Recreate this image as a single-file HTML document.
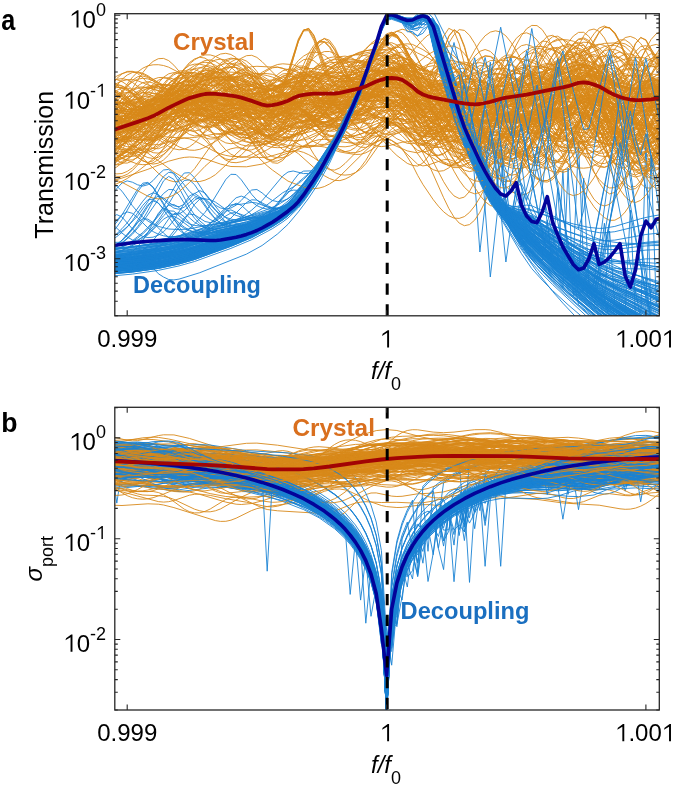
<!DOCTYPE html><html><head><meta charset="utf-8"><style>html,body{margin:0;padding:0;background:#fff;}svg{display:block;will-change:transform;}text{font-family:"Liberation Sans",sans-serif;}</style></head><body><svg width="675" height="788" viewBox="0 0 675 788"><defs><clipPath id="ca"><rect x="114.8" y="13.7" width="544.5" height="302.1"/></clipPath><clipPath id="cb"><rect x="114.8" y="407.3" width="544.5" height="302.7"/></clipPath></defs><g clip-path="url(#ca)" fill="none" stroke-width="0.9" stroke-linejoin="round"><path stroke="#D8891A" d="M111.6 125.6l15.6-26.6 5.2-7.5 5.2-5.5 5.2-3.4 5.1-.9 5.2 1.3 5.2 3.1 5.2 4.5 15.6 18.3 10.3 10.5 5.2 3.9 5.2 2.3 5.2 .8 5.2-.2 5.2-1.2 5.2-2.5 5.2-3.5 20.7-18.1 5.2-3.5 5.2-2.3 5.2-.7 10.3 .6 5.2 1.5 15.6 8.3 15.5 9.5 5.2 1.9 5.2 1.1 5.2 0 5.2-1 5.2-2 5.2-3.2 31.1-25.2 5.2-3 5.2-1.4 5.2-.2 5.1 1.6 5.2 3 5.2 4.6 10.4 13.3 5.2 7.6 5.2 5.5 5.1 3.8 10.4 5.5 20.8 7.8 10.3 3.2 5.2 .8 5.2 0 10.4-1.6 10.4-2.3 15.5-1.7 5.2-1.1 5.2-1.9 5.2-2.9 5.2-3.8 5.2-4.6 20.7-21.1 5.2-4.3 5.2-3.4 5.2-1.4 5.2 1.4 5.1 4.4 5.2 6.8 5.2 8.1 10.4 19.7 5.2 8.6 5.2 7 5.2 4.9 5.1 2.3 5.2-.1 5.2-3 5.2-5.3 5.2-7.2 10.4-18.5"/><path stroke="#1A82D4" d="M111.6 263.2l15.6-3.3 10.4-3 10.3-4.2 5.2-2.6 5.2-3.3 5.2-4.1 5.2-5.2 15.6-19.8 5.1-3.6 5.2 .7 10.4 6.7 5.2 1.1 5.2-1.3 5.2-3.7 10.3-11.5 5.2-2.9 5.2 2.1 10.4 9.5 5.2 3.1 5.2 1.6 5.1 .2 5.2-.7 5.2-1.5 5.2-2.2 5.2-2.8 5.2-3.8 5.2-4.6 5.2-5.7 10.3-14 10.4-17.1 15.6-28.4 5.2-10.9 15.5-36.4 15.6-45.7 5.2-17.4 5.2-11.9 5.1-1.1 5.2 1.4 5.2 2.2 5.2 1.6 5.2-.6 5.2-2.6 5.2-1.7 5.1 1.2 5.2 6.3 5.2 14.6 20.8 69.5 5.2 15.7 5.1 13.5 20.8 47.7 5.2 10.6 5.2 9.2 5.2 7.4 10.3 12.4 10.4 11.4 15.6 15.1 31.1 26.9 31.1 25 25.9 16.7 5.2 .8 26 0"/><path stroke="#D8891A" d="M111.6 98.5l5.2 1.3 5.2 2.8 5.2 3.9 15.6 15.1 5.1 4.5 5.2 3.2 5.2 1.6 5.2-.2 5.2-1.8 5.2-3.1 5.2-4.4 20.7-23.2 5.2-5.3 5.2-4.1 5.2-2.7 5.2-1.3 5.2 .1 5.1 1.4 5.2 2.8 5.2 4.4 10.4 11.7 10.4 13.1 5.1 5.4 5.2 3.3 5.2 1.7 5.2 .3 5.2-1.1 5.2-3 10.4-7.1 25.9-19.7 15.6-8.9 5.1-1.6 5.2-.5 20.8 1.2 10.4 1.9 15.5 4.7 10.4 6 5.2 3.6 5.2 1.9 10.3 1.4 5.2 1.1 5.2 1.9 5.2 3 5.2 4.2 5.2 5.4 15.5 19 5.2 5.3 5.2 3.8 5.2 2.2 5.2-.1 5.2-2.5 5.2-4.6 5.1-6.5 5.2-8.6 5.2-10.2 15.6-34.6 5.2-10.1 5.1-8.1 5.2-5.5 5.2-2.7 5.2 .1 5.2 2.6 5.2 4.7 5.2 7 5.2 9.4 20.7 48.4 5.2 10.5 5.2 7.3 5.2 4.1 5.2 .6 5.1-3 5.2-6.1 5.2-9.2 5.2-11.5 15.6-39.1M111.6 116.9l5.2-.8 5.2 0 5.2 .7 5.2 1.5 15.5 7.3 5.2 2 5.2 .5 5.2-1.2 5.2-3.2 5.2-4.9 5.2-6.8 15.5-24.7 5.2-7.1 5.2-5.2 5.2-2.6 5.2 .2 5.2 2.6 5.2 4.7 5.1 6.4 5.2 7.5 15.6 27.2 10.4 16.5 5.1 5.2 5.2 2 5.2-.9 5.2-3.5 5.2-5.8 10.4-16.6 10.3-14.2 5.2-5.9 5.2-4.8 10.4-7.7 10.4-6.4 5.2-2.9 5.1-1.4 5.2 .1 5.2 1.6 5.2 2.6 5.2 3.4 5.2 4.2 15.5 15.1 15.6 12.4 5.2 2.5 5.2 1.7 5.2-1.7 5.1-4.2 15.6-16.5 5.2-4.5 5.2-3.1 5.2-1.3 5.2 .6 5.1 2.4 5.2 4.1 10.4 10.8 10.4 12.1 5.2 5.1 5.2 4.3 5.1 2.9 5.2 1.1 5.2-.7 5.2-2.5 5.2-4 15.5-15.2 5.2-4.3 5.2-3.4 5.2-2.4 10.4-3 5.2-.4 5.2 1 5.1 2.4 20.8 12.4 5.2 .9 5.2-.3 5.2-1.5 20.7-8.3 10.4-2.6 5.2-.8M111.6 155.1l5.2-6.3 20.8-32.6 5.2-7 5.1-5.7 5.2-4.3 5.2-3.1 5.2-1.9 5.2-.4 5.2 1 5.2 2 5.2 2.7 15.5 10.6 10.4 6.4 5.2 2.4 5.2 1.3 5.2 .1 5.1-1.4 10.4-5.8 15.6-10.9 10.3-4.8 5.2-1.9 5.2-.8 5.2 .8 5.2 2.1 5.2 2.8 5.2 4.4 15.5 18.9 5.2 5.6 5.2 4.3 5.2 2.6 5.2 .7 5.2-1.8 5.2-4.2 5.1-5.7 10.4-14.7 15.6-25.3 5.2-5.9 5.2-3.9 5.1-1.1 5.2 1.6 5.2 4.5 5.2 7.6 5.2 9.2 5.2 10.8 5.2 9.3 5.1 7.7 5.2 6.6 5.2 5.1 5.2 3.4 5.2 1.6 5.2-.1 5.2-1.6 5.2-2.9 20.7-15.2 5.2-2.4 5.2-1.4 5.2-.4 5.2 1 15.5 6.3 5.2 1.4 5.2 .5 5.2-.4 5.2-1.4 10.3-5 20.8-14.1 5.2-3 5.2-1.2 5.1 1 5.2 2.8 5.2 4.1 5.2 6 15.6 20.4 5.2 5.7 5.1 4.5 5.2 2.9 5.2 .5 5.2-1.6 5.2-3.8 5.2-6 5.2-7.9M111.6 134.2l5.2 4.2 5.2 2.7 5.2 1 5.2-1 5.2-2.8 5.2-4.7 5.1-6.5 5.2-7.9 15.6-28.3 5.2-8.2 5.2-6.6 5.2-4.7 5.1-2.3 5.2 .3 5.2 2.4 5.2 4.4 5.2 6.3 15.6 22.5 5.1 6.4 5.2 4.8 5.2 3.4 5.2 1.7 5.2-.5 5.2-2.3 5.2-3.8 5.1-5.9 15.6-24.4 5.2-7.1 5.2-6.1 5.2-3.6 5.2-.1 5.1 2.3 5.2 4.6 5.2 6.6 15.6 24.2 5.2 6.7 5.2 5 5.1 3.3 5.2 1.2 5.2-1.2 5.2-3.9 5.2-6.5 15.6-25.6 5.1-7.9 5.2-6.6 5.2-4.3 5.2-.8 5.2 1.5 10.4 9.8 5.1 6.4 5.2 8.2 5.2 9.8 15.6 33.2 5.2 9.9 5.2 7.8 5.1 5 5.2 2 5.2-1.3 5.2-4.3 5.2-6.5 5.2-8.3 10.4-18.6 10.3-15.9 5.2-6.1 5.2-4.5 5.2-2.8 5.2-1 5.2 .8 5.1 2.4 5.2 3.8 15.6 13.7 5.2 3.3 15.5 6.8 5.2 1.5 15.6 1.1 5.2-1.1 46.7-16.9"/><path stroke="#1A82D4" d="M111.6 260.7l20.8-2.5 25.9-4.4 15.6-3.4 15.5-4.2 26-8.5 25.9-7 15.6-5.1 15.5-6.5 10.4-5.6 5.2-3.5 10.4-9 5.2-5.8 10.3-13.7 10.4-16.7 15.6-27.7 5.2-11 15.5-36.4 15.6-45.3 5.2-17.1 5.2-11.7 5.1-1 5.2 1.4 5.2 2.3 5.2 1.7 5.2-.6 5.2-2.5 5.2-1.7 5.1 1.8 5.2 9 26 86.1 5.2 15 10.3 25.3 15.6 35.5 5.2 10.2 5.2 8.4 5.2 6.6 15.5 16.5 10.4 10.1 10.4 9.6 15.5 13.4 5.2-91.7 5.2 100.2 31.1 23.3 15.6 9.5 25.9 14.5 5.2 1.3 15.6 0"/><path stroke="#D8891A" d="M111.6 154.2l5.2-3.6 5.2-5.2 5.2-6.4 15.6-21.9 10.3-12.5 5.2-5 5.2-3.7 5.2-2.1 5.2-.4 5.2 1 5.2 2.2 5.1 3.2 10.4 7.8 10.4 6.9 5.2 2.7 5.2 1.6 5.2 .5 5.1-.5 20.8-5 15.5-1.3 20.8-6.6 10.4-4.1 10.3-.7 26-.8 15.5-3.4 5.2-.6 15.6-1.5 5.2 .1 5.2 1.2 5.2 1.9 5.1 3.2 5.2 3.9 5.2 5 15.6 19.4 5.2 3.6 5.1 .9 5.2-1 5.2-2.8 5.2-4.1 15.6-14.7 5.2-3.8 5.1-2.3 5.2-.7 5.2 .9 5.2 2.6 5.2 4.5 5.2 6.2 5.2 7.5 15.5 27.4 5.2 7.9 5.2 5.8 5.2 3 5.2-.3 5.2-3.6 5.1-6.7 5.2-9.4 5.2-11.6 15.6-39.7 5.2-11.5 5.2-8.4 5.1-4.4 5.2-.8 5.2 2.3 5.2 5.6 5.2 8.1 20.7 35.4 5.2 7.2 5.2 5.4 5.2 3.4 5.2 1.4 5.2-.9 5.2-3.1M111.6 185.4l5.2-1.7 5.2-2.3 5.2-2.9 10.4-7.1 10.3-8.1 20.8-18.9 5.2-3.3 5.2-2.2 5.2-.8 5.1 .7 5.2 2 20.8 11 5.2 2.2 5.2 1.4 5.1 .9 15.6 .8 15.6 .4 5.1-.3 20.8-6 10.4-4.4 10.3-1.3 5.2-.1 10.4 1.6 15.6 4.9 5.2 1 10.3 1.6 5.2-.2 5.2-1.5 5.2-2.8 15.6-11 5.1-3.1 5.2-2.4 5.2-1.6 10.4 .1 5.2 1.2 5.2-.2 15.5-3.5 10.4-.7 10.4 .5 10.3 2.2 5.2 .4 5.2-.7 10.4-4 10.4-5.1 20.7-6.4 5.2-2.4 15.6-9.3 5.1-2.5 10.4-3.1 15.6-2.6 5.2-.1 5.2 1.4 5.1 3.4 10.4 10.1 10.4 11.8 5.2 4 5.2 2.6 5.2 1.2 5.1 .2 5.2-.5 5.2-1.2 10.4-3.6 5.2-2.7 5.2-3.5"/><path stroke="#1A82D4" d="M111.6 252.9l20.8-1.4 20.7-2.4 10.4-1.9 15.6-3.8 10.3-3.1 20.8-7.1 31.1-8.3 15.6-4.9 10.3-3.7 10.4-4.4 10.4-5.8 5.2-4 5.2-4.7 10.3-11.9 5.2-6.8 10.4-16.3 15.6-26.7 20.7-46.5 15.6-44.1 5.2-17 5.2-11.5 5.1-.8 15.6 6.1 5.2-.3 5.2-2.4 5.2-1.5 5.1 1.2 5.2 5.7 5.2 13.8 20.8 69.9 5.2 16 5.1 13.7 20.8 48 5.2 10.5 5.2 8.9 5.2 6.9 15.5 15.8 25.9 22.8 20.8 16.2 31.1 22 10.4 6.3 41.5 22.9 5.2 1.5 5.2 0"/><path stroke="#D8891A" d="M407.3 96.8l5.2 2.6 10.4 11.5 5.1 6.6 5.2 7.8 15.6 26.6 5.2 7.9 5.2 6.3 5.2 4.1 5.1 1.4 5.2-1.2 5.2-3.7 5.2-5.9 15.6-22.7 5.2-6.7 5.1-5.2 5.2-3.6 5.2-2 5.2-.6 5.2 .8 5.2 1.9 5.2 2.9 15.5 10.7 5.2 3 5.2 2 5.2 .6 10.4-.4 15.5 1 10.4 1.6 10.4-.4 10.3-2.3 20.8-6.5 10.4-2.3"/><path stroke="#1A82D4" d="M111.6 262.5l20.8-2 25.9-3.6 20.8-4.1 15.5-4 36.3-11.5 15.6-5.8 15.6-7.1 10.3-5.3 10.4-6.2 5.2-3.6 10.4-9.2 5.2-5.9 10.3-13.8 10.4-16.9 15.6-27.7 5.2-10.9 15.5-36.1 15.6-44.7 5.2-17 5.2-11.4 5.1-.9 15.6 6 5.2-.4 5.2-2.4 5.2-1.5 5.1 2.9 5.2 13.4 20.8 70.7 5.2 16.6 5.2 14 20.7 48.1 5.2 11.1 5.2 9 5.2 6.3 5.2 4.4 25.9 16.6 31.1 23.8 31.1 21.7 15.6 8.6 51.9 23.7"/><path stroke="#D8891A" d="M111.6 88.5l10.4 5.3 25.9 18.2 5.2 2.6 5.2 1.3 5.2-.2 5.2-1.7 5.2-3 5.2-4.4 5.2-5.6 20.7-25.2 5.2-4.9 5.2-3.6 5.2-2.4 5.2-1.3 5.1 .1 5.2 1.2 5.2 2.9 5.2 4.3 5.2 5.2 15.5 18.4 5.2 4.1 5.2 2.8 5.2 1.5 5.2-.1 5.2-2.3 10.4-6.8 5.1-4.5 20.8-20.8 10.4-8.5 5.2-3.4 5.1-2.1 5.2-.8 5.2 .1 10.4 1.6 5.2 1.7 10.4 6.4 10.3 10.3 5.2 6.4 15.6 22.6 5.2 4 5.1 .8 5.2-1.7 5.2-3.9 5.2-5.7 15.6-20.8 5.2-6 5.1-4.5 5.2-2.7 5.2-.8 5.2 1.3 5.2 3.7 5.2 5.8 5.2 7.6 15.5 29.1 5.2 8.2 5.2 5.8 5.2 2.7 5.2-.6 5.2-3.7 5.1-6.3 5.2-8.1 5.2-9.2 15.6-29.7 5.2-9 5.2-7.2 5.1-4.9 5.2-2.8 5.2-1.2 5.2 1.3 5.2 3.6 5.2 4.6 10.4 12.8 10.3 15.1 10.4 13.2 5.2 5.1 5.2 3.6 5.2 1.8"/><path stroke="#1A82D4" d="M111.6 270l20.8-2.1 25.9-4.1 20.8-4.4 15.5-4.1 36.3-12.8 20.8-8.4 20.7-10.2 10.4-6.2 5.2-3.7 10.4-9.3 5.2-6.1 10.3-14.3 10.4-17.3 15.6-28.7 5.2-10.9 15.5-36.6 15.6-45.7 5.2-17.2 5.2-11.7 5.1-.8 15.6 6.2 5.2-.3 5.2-2.3 5.2-1.5 5.1 1.6 5.2 7.5 5.2 15.7 20.8 69.3 5.2 15.3 10.3 25.4 15.6 35 5.2 10 5.2 8.1 5.2 6.1 5.1 5 36.3 31.6 20.8 16.7 31.1 22.9 15.6 9.5 15.5 8.4 26 13 5.2 1.2"/><path stroke="#D8891A" d="M111.6 138.1l20.8-27.4 5.2-5.1 5.2-3.5 5.1-1.8 5.2-.4 5.2 .7 5.2 1.4 20.8 9.4 10.3 3.5 5.2 .9 15.6 1.6 10.4 0 25.9-3.2 15.5-1 20.8-5.9 10.4-3.7 20.7-1.4 26-.1 5.1 .6 15.6 3.4 36.3 2.7 5.2 1.1 10.4 .9 5.2-2.2 15.5-13.1 5.2-3.8 5.2-2.3 5.2-.1 5.2 2.2 5.2 4.8 5.1 7.2 5.2 8.8 15.6 29.8 5.2 9 5.2 7.1 5.2 5.2 5.1 2.7 5.2-.4 5.2-3.7 5.2-7 5.2-9.6 20.7-47.4 5.2-9.2 5.2-6.9 5.2-4.3 5.2-2.1 5.2 .8 5.2 4 5.1 6.9 5.2 8.7 15.6 29.1 5.2 7.6 5.2 5.8 5.2 3.7 5.1 1.8 5.2 .3 5.2-1.2 5.2-2 15.6-7M111.6 140.1l5.2-.4 10.4 .2 25.9 4.9 5.2-.2 5.2-.9 10.4-3.8 5.2-2.7 25.9-16.5 5.2-2.3 5.2-1.5 10.4-1.4 10.3 .8 5.2 1.5 10.4 4.7 10.4 5.8 5.1 2.2 5.2 .7 5.2-.3 5.2-.9 5.2-1.6 10.4-5.6 20.7-7.5 10.4-2.5 15.6-1.9 5.1 .2 26 5.1 10.4 3.7 10.3 5.6 5.2 3.5 15.6 14 5.2 2.5 5.1 .5 5.2-.4 20.8-5.1 10.4-1.1 5.1 .1 15.6 1.9 10.4 2.6 5.2 1.6 15.5 7.2 5.2 1.9 5.2 .9 5.2-.3 5.2-1.6 5.2-2.6 5.1-3.7 5.2-4.4 10.4-10.4 10.4-11.3 5.2-4.9 5.2-3 5.1-.7 5.2 1.2 5.2 2.6 5.2 4.5 25.9 29 5.2 5.2 5.2 4.3 5.2 3.6 5.2 2.8 5.2 1.7 5.2 .5"/><path stroke="#1A82D4" d="M111.6 267.6l20.8-2.8 25.9-5.6 31.1-7.7 51.9-14.1 15.6-6.1 10.3-5 10.4-6 10.4-7.4 10.4-9.9 5.2-6.3 10.3-14.6 10.4-17.4 15.6-28.1 20.7-47 15.6-44 5.2-16.7 5.2-11.3 5.1-.9 15.6 5.7 5.2-.5 5.2-2.5 5.2-1.6 5.1 3.6 5.2 15.7 5.2 18.9 15.6 52.2 5.2 16.1 5.2 13.6 20.7 47.3 5.2 9.9 5.2 8.2 5.2 6.1 5.2 4.7 10.3 8 41.5 28.9 36.3 23.7 10.4 5.3 10.4 3.8 10.4 2.9 36.3 8.2M111.6 261.4l26-3.3 25.9-4.7 20.8-5.2 31.1-9.6 25.9-6.9 15.6-5.2 15.5-6.4 10.4-5.4 10.4-7.3 5.2-4.7 5.2-5.6 10.3-13.5 10.4-16.5 15.6-27.5 5.2-11 15.5-36.7 15.6-45.7 5.2-17.4 5.2-11.9 5.1-1.3 5.2 1.3 5.2 2.1 5.2 1.4 5.2-.7 5.2-2.7 5.2-1.8 5.1 3.5 5.2 15.4 5.2 18.9 15.6 52.3 5.2 16.2 5.2 13.9 20.7 48.6 5.2 10.7 5.2 8.8 5.2 6.1 5.2 4.5 25.9 16.8 36.3 27.5 31.1 22.7 20.8 12 41.5 21.5"/><path stroke="#D8891A" d="M111.6 114.1l5.2 6 5.2 5.1 5.2 3.6 5.2 1.7 5.2-.4 5.2-2.5 5.1-4.8 5.2-6.6 15.6-26.5 5.2-8.2 5.2-7.1 5.2-5.4 5.1-3.5 5.2-1.4 5.2 .1 5.2 1.2 5.2 2.4 15.6 8.7 15.5 7.1 20.8 10.8 5.1 1.9 5.2 .5 10.4-.7 5.2-.9 20.7-7.8 10.4-5.8 20.8-15 5.2-3.3 5.1-1.8 5.2-.3 5.2 1.3 5.2 2.4 5.2 3.3 5.2 4.5 20.7 23.7 5.2 4 5.2 2.3 5.2 .5 5.2-1 5.2-5.1 5.1-8.6 20.8-45.4 5.2-8.4 5.2-5.1 5.2 .8 5.1 4.9 5.2 8.1 15.6 30.8 5.2 9 5.2 6.7 5.2 4.5 5.1 1.9 5.2-.7 5.2-2.9 5.2-4.5 15.6-16.1 5.1-4.1 5.2-3 15.6-5.4 15.6-8.2 15.5-6.8 5.2-1.2 10.4-.5 5.2 1.1 5.2 2.8 5.1 4.8 5.2 6.9 5.2 8.6 10.4 20 5.2 9 5.2 6.6M111.6 83.5l5.2 .6 5.2 1.8 5.2 3 5.2 3.9 20.7 19.5 5.2 3.5 5.2 2.3 5.2 1.2 5.2 0 5.2-1.4 5.2-2.6 10.3-8.1 15.6-16.4 10.4-9.4 5.2-3.6 5.1-2.7 5.2-1.5 5.2 .3 5.2 1.9 5.2 3.1 5.2 4.4 10.3 10.6 5.2 4.2 10.4 7.2 5.2 2.6 15.6 3.8 5.1 .7 5.2-.1 5.2-.7 5.2-1.5 5.2-2.5 5.2-3.2 5.2-4.4 31.1-31.7 5.2-4.2 5.2-2.7 5.2-1.5 5.1 .4 5.2 1.9 5.2 3.6 10.4 12.5 5.2 7.5 5.2 5.9 5.1 4.3 5.2 3.4 5.2 2.5 5.2 1.5 5.2 .5 5.2-.4 5.2-1.3 10.3-5.1 15.6-10.9 10.4-6.2 5.2-2 5.2-.8 5.1 .5 5.2 1.4 10.4 4.1 25.9 11.5 10.4 3.3 5.2 .7 5.2-.5 10.4-1.9 15.5-.8 10.4 .8 20.7-.2 15.6 1.4 15.6 3.1M111.6 160.7l10.4-5.5 46.7-32.4 10.4-5.3 5.2-1.7 5.1-.8 10.4 .6 5.2 .9 57.1 18.5 5.1 .5 5.2-1 5.2-1.9 10.4-4.9 10.4-5.9 5.2-1.2 10.3-.5 20.8 3.5 5.2 .3 10.3-.6 10.4-1.3 15.6-4.1 5.2-.3 5.2 .4 5.1 1.7 5.2 2.7 5.2 3.8 10.4 12 5.2 7.1 5.2 5.5 5.1 4.1 10.4 6.5 5.2 2.3 5.2 1.5 5.2 .8 5.2-.2 5.2-1.2 5.1-2.2 5.2-2.9 20.8-15.1 5.2-2.8 5.2-1.5 5.1 0 5.2 1.1 5.2 2 5.2 2.6 20.7 12.4 5.2 2.3 5.2 1.2 5.2-.3 5.2-2 5.2-4.2 20.7-22.8 5.2-5.4 5.2-4.1 10.4-5.7 5.2-1.8 5.2-.7 5.1 .7 5.2 2.2 5.2 3.5 5.2 5.1 5.2 6.6 10.4 16"/><path stroke="#1A82D4" d="M111.6 267.3l20.8-1.3 25.9-3.2 20.8-4.2 15.5-4.2 41.5-14.1 20.8-8.8 10.3-5.2 10.4-6 10.4-7.2 5.2-4.5 5.2-5.2 5.2-6.2 10.3-14.5 10.4-17.5 15.6-28.5 20.7-48 15.6-44.6 5.2-16.7 5.2-11.5 5.1-1 5.2 1.4 5.2 2.3 5.2 1.6 5.2-.5 5.2-2.5 5.2-1.6 5.1 2.3 5.2 11.2 26 87 5.2 14.4 20.7 47.9 5.2 10.4 5.2 8.4 5.2 6.4 5.2 4.7 10.3 7.3 26 15.4 25.9 13.4 31.1 13.6 10.4 2.6 10.4 1.2 25.9 .8 15.6 1"/><path stroke="#D8891A" d="M111.6 139.8l5.2 .5 5.2-1.2 5.2-3 5.2-4.6 5.2-6 5.2-7 20.7-32.6 5.2-6.6 5.2-4.5 5.2-2.5 5.2 0 5.1 2.3 5.2 4.5 5.2 5.8 15.6 20 5.2 5.2 5.2 3.3 5.1 1.3 5.2-.8 5.2-2.2 5.2-3.3 10.4-8.4 15.5-11.5 5.2-2.8 5.2-1.4 5.2 .2 5.2 1.1 5.2 2.9 5.2 5.1 15.5 17.5 5.2 5 5.2 3.5 5.2 2 5.2-.5 5.2-2.6 5.1-4.3 5.2-5.7 5.2-7 5.2-8.5 10.4-18.4 5.2-7.9 5.2-6.5 5.1-3.9 5.2-1.3 5.2 2 5.2 5.9 5.2 8.4 20.7 45.2 10.4 20.7 5.2 7.9 5.2 5.4 5.2 2.5 5.2-.8 5.1-4.1 5.2-6.9 5.2-9.5 20.8-46 5.2-8.6 5.1-5.6 5.2-2.7 5.2 .5 5.2 3.3 5.2 5.8 5.2 7.7 15.5 27.3 5.2 7.6 5.2 5.4 5.2 2.4 5.2-.9 5.2-3.7 10.3-11.6 10.4-13.9 5.2-5.8 5.2-4.5 5.2-3.4 5.2-1.6 5.2 .4 5.1 2.5 5.2 4.7 5.2 6.3 5.2 7.6 10.4 16.9 5.2 7.5"/><path stroke="#1A82D4" d="M111.6 257.4l20.8-3.1 10.4-2.3 10.3-3.1 15.6-6.5 10.4-5.9 5.2-3.5 10.3-8.8 10.4-11.8 5.2-7.3 15.6-25.6 5.1-5.2 5.2 .2 5.2 5.3 10.4 14.6 5.2 5.7 5.2 4.1 5.1 2.5 5.2 1.2 5.2 0 5.2-.9 5.2-1.9 5.2-2.8 5.2-3.8 5.2-5.1 5.1-6 10.4-14.2 20.8-35.4 5.2-10.7 15.5-35.6 15.6-44.6 5.2-16.9 5.2-11.5 5.1-.8 15.6 5.9 5.2-.4 5.2-2.5 5.2-1.6 5.1 2 5.2 10.1 26 86.1 5.2 14.6 5.1 12.6 15.6 34.4 5.2 10.4 5.2 8.8 5.2 7.4 5.2 6.2 15.5 16.1 5.2 4.7 10.4 8.2 20.7 13.5 10.4 6 15.6 7.9 15.5 7.1 10.4 3 10.4 1.9 20.7 2.4 20.8 4"/><path stroke="#D8891A" d="M443.6 129l5.2-8.4 15.6-27.5 5.1-6.8 5.2-4.4 5.2-1.7 5.2 1.1 5.2 4.5 5.2 7.2 5.2 9.5 15.5 35.8 5.2 10.5 5.2 7.7 5.2 4.4 5.2 .5 5.2-3.3 5.1-6.9 5.2-9.9 5.2-12.2 15.6-42.4 5.2-12.1 5.2-8.7 5.1-4.1 5.2 .3 5.2 4.2 5.2 8.5 5.2 11.6 15.6 38.9 5.1 11.5 5.2 9.4 5.2 6.3 5.2 3.3 5.2 .2 5.2-2.9 5.2-5.6"/><path stroke="#1A82D4" d="M111.6 245.2l20.8-1.9 20.7-2.6 15.6-2.6 15.6-3.4 25.9-7.6 31.1-6.7 20.8-5.8 10.3-3.5 10.4-4.5 10.4-6.4 5.2-4.1 5.2-5.2 10.3-12.5 10.4-15.8 15.6-26.5 5.2-10.9 15.5-36 15.6-44.2 5.2-16.7 5.2-11.3 5.1-.8 15.6 6 5.2-.4 5.2-2.4 5.2-1.6 5.1 1.6 5.2 8.1 26 85.2 5.2 15.1 10.3 25.2 5.2 11 10.4 24.1 5.2 9.5 5.2 6.9 5.2 4.4 5.1 3 15.6 7.7 5.2 3.2 36.3 26.3 31.1 20.2 10.4 5.2 31.1 12.9 20.8 9.4M111.6 271l20.8-1.8 25.9-4.3 26-5.9 15.5-4.5 36.3-12.2 15.6-6.2 10.4-4.9 10.3-5.8 10.4-6.8 5.2-4.1 10.4-10.3 5.2-6.5 10.3-15 10.4-17.8 15.6-28.5 5.2-10.9 15.5-36 15.6-45 5.2-17 5.2-11.7 5.1-.9 15.6 5.8 5.2-.5 5.2-2.4 5.2-1.7 5.1 1.8 5.2 9.4 26 86.2 5.2 14.9 10.3 25.2 15.6 35.7 5.2 9.8 5.2 7.4 5.2 5.2 5.1 4.1 20.8 14.5 20.7 16.1 20.8 14.9 5.2-119.6 5.2 126.6 10.3 7 10.4 6.1 36.3 17.1 20.8 10.4"/><path stroke="#D8891A" d="M111.6 95.7l10.4 8 5.2 3.2 5.2 2.3 5.2 1.3 5.2 .1 5.1-1.4 5.2-2.9 5.2-4.5 5.2-5.8 20.8-26.5 5.1-5.5 5.2-4.2 5.2-3.1 5.2-1.8 5.2 0 5.2 1.5 5.2 2.6 5.2 3.6 10.3 9.3 5.2 5.9 20.8 26.2 5.1 4.8 5.2 2.6 5.2 .8 5.2-.5 5.2-2.2 15.6-13.1 20.7-19.3 20.8-17 5.1-3.3 5.2-2.5 10.4-3.4 5.2-1.3 5.2-.6 10.4 1.3 10.3 4.5 5.2 3.4 15.6 15.6 5.2 3.6 5.1 1.9 5.2 1.1 5.2 .5 5.2-.1 10.4-1.4 15.5-4 10.4-4.4 20.8-11.3 5.2-1.7 5.1-.6 5.2 .3 10.4 2.6 20.7 8 10.4 3 5.2 .7 5.2 0 10.4-1.9 5.2-.3 5.1 .9 10.4 3.8 10.4 6.5 10.4 5 5.2 1.4 5.1 .6 5.2-.5 5.2-1.7 5.2-2.8 5.2-3.4 10.4-8.5M111.6 114.4l20.8 1.5 10.4-.9 5.1-1.4 5.2-2.1 5.2-3.1 20.8-14.6 10.3-6.4 15.6-7.2 10.4-2.4 10.4-.8 10.3 .9 5.2 1.6 5.2 2.2 15.6 7.6 5.1 1.3 5.2-.5 5.2-1.7 10.4-5.2 10.4-6.5 5.2-1.3 5.1-.5 5.2 .1 5.2 1 15.6 4.3 5.2 .8 10.3-.4 5.2-.9 5.2-2.3 5.2-4.5 5.2-7.6 10.4-21.1 5.2-8.8 5.1-2.9 5.2 3.8 5.2 9.2 10.4 23.5 5.2 10.1 5.2 6.7 5.1 4.4 5.2 3.5 5.2 2.7 5.2 2.1 10.4 2.8 10.4 .9 10.3-.4 46.7-8.7 10.4-3.8 20.7-10.5 20.8-9.4 5.2-1.8 5.2-.4 5.1 1.3 5.2 2.6 5.2 3.3 10.4 9.6 10.4 7.9 5.2 2.7 5.1 1.7 5.2 .8 5.2-.5 10.4-2.9 10.4-4.3M111.6 148.8l5.2-.3 5.2 .9 5.2 2 15.6 9.1 5.1 2.5 5.2 1.1 5.2-.9 5.2-3.2 5.2-5 5.2-6.7 5.2-8.2 10.3-18.1 10.4-15.7 5.2-5.7 5.2-3.1 5.2-.5 5.2 1.8 5.2 4 5.1 5.9 5.2 7.2 15.6 26.1 5.2 7.7 5.2 6.4 5.1 3.5 5.2 .2 5.2-2.5 5.2-4.7 5.2-6.4 10.4-16.2 5.2-6.4 5.1-5.2 5.2-3.5 5.2-1.4 5.2 .6 5.2 2.5 5.2 3.9 20.7 18.8 5.2 3.4 5.2 1.6 5.2-.4 5.2-1.8 15.5-8.5 5.2-2.3 5.2-.9 5.2 1.7 5.2 3.1 10.4 9.9 20.7 17.7 5.2 3.1 5.2 1.7 5.2 0 5.2-1.9 5.1-3.6 5.2-4.9 10.4-11.5 5.2-4.8 5.2-3.2 5.2-1.1 5.2 1.7 5.1 4.4 5.2 6.4 15.6 22.8 5.2 5.6 5.2 3.1 5.1 .1 5.2-3.1 5.2-6.6 5.2-9.7 5.2-12.2 10.4-28 5.2-11.9 5.1-8.2 5.2-4.1 5.2 .1 5.2 5.2 5.2 9.3 5.2 11.9 15.5 40.9 5.2 11.3 5.2 8 5.2 4.3 5.2 .2 5.2-4.1 5.2-8M111.6 136.1l5.2-.5 5.2-1.6 5.2-2.6 10.4-7.7 20.7-19 5.2-3.7 5.2-2.5 5.2-.7 5.2 .8 5.2 2.1 5.1 3.4 10.4 8.4 10.4 6.6 5.2 1.7 5.2-.2 5.2-2.3 5.1-4.1 20.8-22.3 5.2-3.7 5.2-1.9 5.1-.8 5.2 .3 5.2 1.7 5.2 3.5 10.4 9.1 10.4 11 5.1 4.7 5.2 3 5.2 1.2 5.2-1 5.2-3.2 5.2-5 5.2-6.8 10.3-15.3 5.2-6.5 5.2-5.3 5.2-3.9 5.2-2.3 5.2-.2 5.2 2.4 5.2 4 5.1 6.1 10.4 15 5.2 9 10.4 15.5 5.2 3.9 5.1 .8 5.2-1.3 5.2-2.9 10.4-7.1 5.2-2.5 5.2-1 5.2 .7 5.1 2.6 20.8 16.4 5.2 2.5 5.2 .7 5.2-.9 5.1-2.3 5.2-3.8 15.6-15.4 5.2-4 5.2-2.2 5.1 .1 5.2 2.7 5.2 5 15.6 20.3 5.2 5.4 5.2 3.7 5.1 1.8 5.2-1.3 5.2-4.8 5.2-7.2 5.2-9.3 15.6-34.1 5.1-9.3 5.2-6.4 5.2-3.4 5.2 .1 5.2 3.9 5.2 6.9 5.2 9.4"/><path stroke="#1A82D4" d="M111.6 255.3l20.8-1.7 25.9-3.3 15.6-3 15.5-3.8 26-8.1 31.1-8.5 15.6-5.4 10.3-4.3 10.4-5.2 10.4-7.1 5.2-4.5 5.2-5.6 10.3-13.5 10.4-16.5 15.6-27.8 5.2-10.9 15.5-36.7 15.6-45.7 5.2-17.4 5.2-11.8 5.1-.9 5.2 1.5 5.2 2.4 5.2 1.8 5.2-.5 5.2-2.5 5.2-1.6 5.1 1.7 5.2 8.7 26 86.2 5.2 15.2 10.3 25.4 15.6 35.4 5.2 9.7 5.2 7.4 5.2 5.3 5.1 4.1 20.8 14.7 36.3 28.5 31.1 22.2 20.8 11.9 41.5 21.3M111.6 252.9l20.8-1.7 20.7-2.4 15.6-2.5 15.6-3.4 31.1-9.2 25.9-6.2 15.6-4.6 15.5-5.8 10.4-5.1 5.2-3.3 10.4-8.6 5.2-5.7 10.3-13.6 10.4-16.8 15.6-27.7 5.2-11.1 15.5-36.3 15.6-44.8 5.2-16.9 5.2-11.4 5.1-.8 15.6 6.1 5.2-.4 5.2-2.3 5.2-1.6 5.1 2.4 5.2 11.5 26 87 5.2 14.3 5.1 12.6 15.6 34.9 10.4 20.8 5.2 8.5 20.7 27.9 10.4 12 20.7 19.9 41.5 36.5 15.6 12.4 5.2 2.3 46.7 0M111.6 266.1l10.4-.6 10.4-1.3 41.5-8 20.7-5.1 41.5-12.9 20.8-7.5 15.5-7.2 10.4-6.1 10.4-8 5.2-5 5.2-6.1 10.3-14.2 10.4-17.1 15.6-27.9 5.2-10.8 15.5-36.3 15.6-45.8 5.2-17.4 5.2-11.9 5.1-1 5.2 1.6 10.4 6.8 5.2 1.9 5.2-3.7 5.2 1.6 5.1-4 5.2-.2 5.2 7.4 26 85.5 5.1 15.1 10.4 25.3 5.2 10.9 10.4 24.1 5.2 10.5 5.2 9.2 10.3 14.4 10.4 12.4 10.4 10.9 10.3 10 26 23 31.1 25.7 20.8 14.3 5.1 1.2 31.2 0"/><path stroke="#D8891A" d="M443.6 54.4l5.2 4.3 5.2 8.6 5.2 12 15.5 43.6 5.2 11.4 5.2 7.4 5.2 3.2 5.2-1.8 5.2-6.6 5.2-10.4 5.1-13.2 15.6-45.6 5.2-12.5 5.2-9.1 5.2-4.6 5.1 .4 5.2 5.2 5.2 9.4 5.2 12.5 10.4 27.7 5.2 12.6 5.2 10.8 5.1 8.1 5.2 4.3 5.2-.4 5.2-4.3 5.2-7.9 5.2-11.7 15.5-40.6 5.2-10.2 5.2-6.7 5.2-2 5.2 2.8 5.2 7.3 5.2 10.8"/><path stroke="#1A82D4" d="M111.6 258.9l20.8-1.8 25.9-3.5 20.8-4 15.5-3.8 41.5-11.2 15.6-5.1 20.7-8.8 10.4-5.7 5.2-3.5 10.4-8.8 5.2-5.7 10.3-13.7 10.4-16.6 15.6-27.7 5.2-10.9 15.5-36.4 15.6-46 5.2-17.5 5.2-12 5.1-1 5.2 1.4 5.2 2.4 5.2 1.6 5.2-.6 5.2-2.5 5.2-1.7 5.1 2.4 5.2 11.9 26 87 5.2 14.3 20.7 48 5.2 10.8 5.2 9.2 5.2 7.3 5.2 5.8 10.3 10.1 15.6 13.4 20.7 15.6 26 17.1 15.5 9.6 10.4 5.5 15.6 6.6 20.7 7.4 20.8 8.3"/><path stroke="#D8891A" d="M111.6 92.8l26 14.6 5.2 2.4 5.1 1.6 5.2 .5 5.2-.7 5.2-1.7 10.4-5.4 10.4-7.6 20.7-17.4 10.4-6.8 5.2-2.5 5.2-1.7 5.1-.9 5.2 .2 5.2 1.8 5.2 3.2 5.2 4.3 15.5 17.1 5.2 4.4 5.2 3.3 5.2 2.3 5.2 1.1 5.2-1 10.4-3.8 5.1-3 5.2-3.9 10.4-9.5 20.8-22 5.1-4.5 5.2-3.3 5.2-2.1 5.2-1.2 5.2-.4 5.2 1 5.2 2.6 5.2 3.9 5.1 5.4 5.2 6.6 5.2 7.6 15.6 27.5 5.2 6.2 5.1 3.2 5.2 .6 5.2-2.1 5.2-4.8 5.2-7.1 5.2-9.1 15.5-32 5.2-9.5 5.2-8.1 5.2-6.3 5.2-3.7 5.2-1.3 5.2 1.2 5.2 3.9 5.1 6.4 5.2 8.2 20.8 39.4 5.2 8.5 5.1 7 5.2 4.8 5.2 2.1 5.2-.8 5.2-3.9 5.2-7.1 15.5-28.2 10.4-16.6 5.2-5.9 5.2-3.8 5.2-2.5 5.2-.7 5.2 1.1 5.1 3.1 5.2 5 5.2 6.3 5.2 7.8 15.6 27.2"/><path stroke="#1A82D4" d="M111.6 256.6l20.8-2.2 25.9-4.8 31.1-7.3 20.8-5.9 31.1-7.7 15.6-5.2 15.5-6.2 10.4-5.1 10.4-6.9 5.2-4.3 5.2-5.4 10.3-12.8 10.4-16 15.6-27 5.2-11 15.5-36.7 15.6-45.7 5.2-17.3 5.2-11.9 5.1-1.1 5.2 1.4 5.2 2.7 10.4 3.9 5.2-2.7 5.2-3.4 5.1 .4 5.2 3.3 5.2 11.4 20.8 69.5 5.2 16.7 5.1 14.1 20.8 48.2 5.2 10.4 5.2 7.9 5.2 5.3 5.1 3.7 15.6 8.4 5.2 3.3 36.3 26.3 31.1 20.1 10.4 5.3 10.4 4.2 41.5 15"/><path stroke="#D8891A" d="M454 129.4l5.2-1 5.2-1.9 10.3-5.8 15.6-10.3 5.2-2.6 5.2-1.8 5.2-.5 5.1 .8 26 9.5 10.3 1.7 5.2-.2 5.2-.9 5.2-1.8 5.2-2.8 10.4-7.7 5.2-3.1 5.1-1.6 5.2-.4 5.2 .5 5.2 2.1 25.9 17.3 5.2 3.3 5.2 2.5 5.2 2 5.2 1.2 5.2 .2 5.2-.9M111.6 121.4l31.2 3.2 5.1 0 5.2-.7 5.2-1.6 10.4-5.5 5.2-3.4 15.5-11.9 10.4-6.3 5.2-2 5.2-.3 5.2 1.1 5.2 2.4 5.2 3.6 5.1 4.6 5.2 5.2 15.6 18.7 5.2 5.7 5.2 4.7 5.1 2.6 5.2-.2 5.2-2.4 5.2-4.2 5.2-5.9 10.4-15.6 10.3-13.6 5.2-5.8 5.2-4.4 5.2-3 5.2-1.5 5.2 .1 5.2 1.3 5.2 2.3 5.1 4 15.6 16.1 10.4 8.8 5.2 3.4 5.2 2.1 5.1 1.3 5.2 0 10.4-1.1 10.4-2.8 5.2-3.9 15.5-16.1 5.2-3.9 5.2-2 5.2 .2 5.2 2.8 5.2 5.2 5.1 7.3 20.8 35.6 5.2 7 5.2 4.8 5.2 2.6 5.1 .1 5.2-2.8 5.2-5.8 5.2-8.7 5.2-10.9 20.7-51.5 5.2-10.7 5.2-8.4 5.2-5.7 5.2-2.7 5.2 1.1 5.2 5.6 5.1 10 5.2 13.2 5.2 15.2 10.4 33.6 5.2 14.9 5.2 12.5 5.2 9.1 5.1 5.4 5.2 1.6 5.2-2.7 5.2-6.1 5.2-9.1 10.4-23.9M443.6 61l5.2-.5 5.2 .3 5.2 1.2 5.2 2 15.5 8.6 15.6 7.7 15.5 5.1 5.2 .8 5.2-.1 5.2-1.2 5.2-2.3 5.2-3.3 10.3-8.4 26-23.2 5.2-3.7 5.2-1.8 5.1 .4 5.2 2.1 5.2 3.4 5.2 5.1 15.6 17.8 10.3 9.7 5.2 3.8 5.2 2.5 5.2 1.6 5.2 .5 5.2-.6 5.2-1.9M448.8 105.3l10.4 6.2 5.2 2.2 5.1 .8 5.2-.9 5.2-3.2 5.2-5.2 5.2-6.3 10.4-14.5 5.2-6 5.1-4 5.2-1.6 5.2 1 5.2 3.6 5.2 6 5.2 8 15.5 28.5 5.2 7.6 5.2 4.7 5.2 1 5.2-3.3 5.2-7.1 5.2-9.6 15.5-35.5 5.2-10.4 5.2-8 5.2-5.5 5.2-1.8 5.2 2 5.1 6 5.2 9.6 5.2 12 15.6 41.3 5.2 10.9M111.6 125.3l5.2-1.5 10.4-5 15.6-10.3 20.7-15 5.2-3.3 5.2-2.4 5.2-1.8 5.2-.9 5.1 0 10.4 2.8 5.2 2.1 15.6 8.6 5.2 2 5.1 1.2 5.2 .4 10.4-.4 20.7-3.3 10.4-3.2 5.2-.7 10.4-.2 5.2 1.1 20.7 10.9 5.2 1.5 5.2 .2 5.2-1.2 5.2-3.1 5.2-4.8 20.7-21.4 5.2-4.3 5.2-2.7 5.2-.3 5.2 1.7 5.1 4.1 5.2 5.8 5.2 7.3 15.6 27 5.2 5.3 5.1 2 5.2-.9 5.2-3.6 5.2-5.7 10.4-14.3 5.2-6.3 5.2-4.2 5.1-1.3 5.2 1.8 5.2 4.8 5.2 7.2 15.6 29.2 5.2 8.6 5.1 6.3 5.2 3 5.2-1.2 5.2-5.5 5.2-9.6 5.2-12.8 15.5-43.6 5.2-11.3 5.2-7.3 5.2-2.8 5.2 1.9 5.2 7.1 5.2 12.1 20.7 68.7 5.2 12.8 5.2 7.2 5.2 1.5 5.2-4.4 5.1-9.2 5.2-12.6 10.4-29.1 5.2-12.2 5.2-8.5 5.2-3.9M111.6 140.5l5.2 .2 5.2-.7 5.2-1.6 5.2-2.7 5.2-3.5 10.3-9.3 20.8-24.4 5.2-5.2 5.2-4.2 5.2-2.9 5.1-1.4 5.2 .4 5.2 1.7 5.2 3.2 5.2 4.8 5.2 6 15.5 20.2 10.4 11.7 5.2 4.7 5.2 3.2 5.2 1.8 5.2 .4 5.1-1.9 5.2-4.4 10.4-12.9 10.4-15.2 5.2-6.7 5.2-4.5 5.1-2.9 5.2-1.2 5.2 .6 5.2 2.2 5.2 3.6 5.2 4.8 20.7 20.9 5.2 4.3 5.2 2.8 5.2 .9 5.2-.7 5.2-1.8 5.2-3.3 5.1-4 10.4-9.6 10.4-7.8 5.2-3.2 15.5-14.8 5.2-3.4 5.2-1.6 5.2 .6 5.2 3 5.2 5.4 5.2 7.4 15.5 28.3 10.4 17.2 5.2 6.8 5.2 4.9 5.2 3.3 5.1 1.4 5.2-.9 5.2-3.3 5.2-5.8 5.2-7.7 15.5-29.3 5.2-9.2 5.2-8 5.2-6.1 5.2-4.2 5.2-2.1 5.2 .5 5.2 3.8 5.1 7 10.4 20 10.4 23.7 5.2 10.2 5.2 8.5 5.2 6.2 5.1 4 5.2 1.6 5.2-.9 5.2-2.9 5.2-4.7 5.2-6.3 5.2-7.5M111.6 122.3l10.4-11.3 5.2-4.2 5.2-2.8 5.2-1.2 5.2 .4 5.1 1.6 26 12.5 5.2 1.7 10.3 1.6 5.2 .2 5.2-.6 15.6-3.7 20.7-6.4 5.2-.8 10.4 .3 15.5 3.5 20.8 .8 10.4-.5 15.5 2.1 10.4-.1 10.4-2.1 5.2-2 20.7-10.7 15.6-11.2 5.2-3.2 5.2-2.7 5.1-1.2 5.2 .2 5.2 2.2 5.2 4.9 5.2 6.2 5.2 7.9 5.2 6.8 10.3 10.5 5.2 4.1 5.2 3 5.2 2.2 5.2 1.3 10.4 .9 31.1-.2 10.4-1.3 5.1-1.4 5.2-2.2 5.2-3 15.6-10.4 5.2-3 31.1-13.9 5.2-1.7 5.2 .2 5.1 2.5 5.2 4.4 5.2 5.5 10.4 13.4 5.2 5 5.2 3.4 5.2 1.1 5.1-1 5.2-2.7 5.2-4.7 10.4-12.1 10.4-13.7"/><path stroke="#1A82D4" d="M111.6 259.7l15.6-1 20.7-2.9 20.8-4.4 20.7-5.6 20.8-6.9 25.9-7.7 15.6-5.5 10.4-4.3 10.3-5.1 10.4-6.2 5.2-4.1 5.2-4.7 5.2-5.6 10.3-12.9 5.2-7.3 5.2-7.9 20.8-34.8 15.5-33 5.2-12 15.6-43.7 5.2-17.3 5.2-11.8 5.1-1 5.2 1.5 5.2 2.4 5.2 1.7 5.2-.5 5.2-2.4 5.2-1.6 5.1 3 5.2 13.6 5.2 18.8 20.8 68.9 10.3 26.8 15.6 35.8 10.4 21.1 5.2 8.6 15.5 22.8 10.4 13.9 10.4 11.5 20.7 19.5 36.3 30.2 10.4 7.9 5.2 2.3 51.9 0"/><path stroke="#D8891A" d="M111.6 147l10.4-12.4 15.6-20.4 10.3-11.6 10.4-8.8 5.2-2.9 5.2-1.5 5.2 .2 5.2 1.7 5.2 3.1 5.1 4.4 20.8 22.2 5.2 4.9 5.2 3.5 5.2 2 5.1 .4 5.2-1.2 5.2-2 5.2-2.9 15.6-11.2 5.1-4.4 10.4-10.2 5.2-4.2 10.4-6.2 5.2-.8 5.2 2 5.1 3.5 5.2 4.9 20.8 25.7 5.2 5.3 5.2 3.9 5.1 3.1 5.2 2.1 5.2 .6 5.2-1.2 5.2-3.1 5.2-4.4 5.2-5.1 20.7-23.6 5.2-3.8 5.2-3.2 5.2-1.9 10.3-5.6 5.2-1.7 5.2-.1 5.2 2 5.2 4.2 5.2 6.5 5.2 8.4 15.5 29.7 5.2 8.4 5.2 6.4 5.2 4.4 5.2 1.8 5.2-.8 5.2-2.7 5.1-4.3 5.2-5.7 20.8-27.4 5.2-5.6 5.1-4.2 5.2-3 5.2-1.8 5.2-.9 10.4-.4 5.2 .8 5.2 2.3 5.1 4.3 10.4 11.9 10.4 15.3 5.2 6.7 5.2 5.4 5.2 3.6 5.1 1.7 5.2-.4 5.2-2.7 5.2-4.6 5.2-6 10.4-15.1M111.6 112.2l26 2.8 5.2 0 5.1-.6 5.2-1.5 5.2-2.4 5.2-3.2 25.9-16.6 15.6-7.4 10.4-2.8 10.4-1.1 10.3 .5 5.2 1.2 20.8 7.4 5.1 .8 5.2-.9 5.2-1.8 10.4-4.9 10.4-6.1 5.2-1.1 5.1-.6 5.2 .1 5.2 .7 15.6 3.6 5.2 .5 10.3-.7 5.2-.9 5.2-1.9 5.2-3.6 5.2-5.9 5.2-8.1 10.4-18.5 5.1-4.9 5.2 1 5.2 7.3 15.6 35.3 5.2 7.6 5.1 5 5.2 3.7 5.2 2.9 5.2 2.3 10.4 3.2 10.4 1.4 10.3-.1 15.6-2.6 25.9-5.6 10.4-3.7 20.7-11.3 10.4-4.8 15.6-6 5.2-1.6 5.2-.5 5.1 1.1 10.4 4.5 15.6 10.9 5.2 2.8 5.2 2.2 5.1 1.4 5.2 .9 5.2-.1 10.4-1.3 10.4-2.4M111.6 153.9l10.4-10.1 15.6-17.4 10.3-9.5 10.4-7.3 5.2-2.9 5.2-2.2 5.2-1 5.2-.1 5.2 .9 5.1 1.8 5.2 2.9 10.4 6.7 20.8 16.5 10.3 6 5.2 2.3 5.2 1.6 5.2 .4 5.2-.6 5.2-1.8 5.1-3.8 5.2-5.8 20.8-28.2 5.2-5.6 5.2-3.3 5.1-2 5.2-.7 5.2 .9 5.2 2.1 5.2 3.4 5.2 4.8 10.4 11.6 15.5 21.5 5.2 5.4 5.2 3.6 5.2 1.8 5.2 .8 5.2-.6 5.1-1 10.4-2.8 5.2-.4 10.4-1.9 5.2-3.4 15.5-16.3 5.2-4 5.2-2 5.2 .6 5.2 3 5.2 5.3 5.1 7.2 20.8 35 5.2 8 5.2 7 5.2 6 5.1 4.8 5.2 3 5.2 1 5.2-1.3 5.2-3.7 5.2-6.1 5.2-8.4 5.1-10 15.6-34.2 10.4-19.9 5.2-7.6 5.2-5.1 5.1-2 5.2 .4 5.2 2.5 5.2 5.4 10.4 16.1 15.5 28.4 5.2 8.9 5.2 7.7 5.2 6.6 5.2 5.2 5.2 3.4 5.2 1.6"/><path stroke="#1A82D4" d="M111.6 263.7l46.7-6 10.4-2 15.6-3.9 62.2-21.4 15.6-5.9 15.5-7.5 10.4-6.8 5.2-4.5 5.2-5.4 10.3-12.9 5.2-7.3 5.2-8 20.8-35.6 15.5-33.4 5.2-12.2 15.6-44.3 5.2-17.3 5.2-12 5.1-1.3 15.6 4.4 5.2-.9 5.2-2.9 5.2-2 5.1 2.5 5.2 12.6 20.8 70.3 5.2 16.8 5.2 14.2 5.1 12.8 20.8 47 5.2 9.7 5.2 7.7 5.2 6.3 15.5 16.3 20.8 19.5 20.7 17.2 36.3 27.1 36.3 23.1 5.2 2.1 20.8 0"/><path stroke="#D8891A" d="M111.6 112.6l10.4 6.7 5.2 2.5 5.2 1.6 5.2 .7 5.2-.1 5.1-1 5.2-2 5.2-3.1 20.8-16.4 10.3-6.9 5.2-2 5.2-1.3 5.2-.2 5.2 1.3 5.2 2.5 15.5 9.9 10.4 5.7 5.2 2 5.2 .8 5.2-.1 5.2-1.1 5.1-2.7 26-23.6 5.2-3.3 5.2-1.2 5.1-.2 5.2 .8 10.4 3.6 15.6 7.3 15.5 5.6 5.2 1.2 5.2-.1 5.2-1.5 5.2-2.7 5.2-3.2 15.5-11.9 5.2-2.9 5.2-.9 5.2 0 5.2 1.7 10.3 1.6 5.2 1.3 5.2 2 5.2 2.7 5.2 3.6 5.2 4.5 20.7 21.1 5.2 4.4 10.4 6.1 5.2 1.9 10.4 1.8 5.1 .1 5.2-1 5.2-2.4 5.2-4.1 5.2-5.6 10.4-15.1 15.5-26.4 5.2-7.9 5.2-6.7 5.2-4.7 5.2-1.4 5.2 3 5.1 7.8 5.2 11.6 5.2 13.9 10.4 31.3 5.2 13.6 5.2 11.1 5.2 8.3 5.1 5.4 5.2 2.9 5.2 .3 5.2-1.8 5.2-3.8 5.2-5.9 5.2-8M111.6 79.4l5.2 5.2 15.6 19.4 5.2 5.6 5.2 4.3 5.1 2.3 5.2 .1 5.2-2.4 5.2-4.5 5.2-5.9 15.6-21 5.1-6.1 5.2-4.8 5.2-3.6 5.2-2 5.2-.1 5.2 1.4 5.2 2.3 25.9 14.7 5.2 2.1 10.4 3.3 5.1 .3 15.6-2.9 10.4-1 5.2 .6 5.2 2.4 15.5 9 5.2 2.2 5.2 1.2 5.2-.4 5.2-2.6 5.2-4.8 5.1-6.1 10.4-15.6 10.4-18.1 5.2-8 5.2-6 5.2-3.7 5.1-.7 5.2 2.3 5.2 5.4 5.2 8.9 5.2 10.7 10.4 23.8 5.1 9.7 5.2 8.4 5.2 6.5 5.2 4.1 5.2 1.4 5.2-1.1 5.2-3.7 5.2-5.7 15.5-22.5 5.2-6.7 5.2-4.9 5.2-2.6 5.2-.3 5.2 2.4 5.1 4.7 15.6 19.3 5.2 5.3 5.2 3.7 5.2 1.8 5.1-.1 5.2-1.7 5.2-3.3 20.8-18.9 5.2-2.2 5.1 .3 5.2 2.3 5.2 3.6 10.4 10.6 5.2 4 5.2 2.4 5.2 .3 5.1-1.9 5.2-4.1 5.2-6.3 20.8-32.8M111.6 129.9l5.2-5.3 5.2-6.6 15.6-21.2 5.2-5.3 5.1-3.5 5.2-1.7 5.2 .1 5.2 2 5.2 3.6 15.6 15.2 5.1 3.9 5.2 2.3 5.2 0 5.2-2.3 5.2-4.2 5.2-5.5 15.5-20 5.2-5.2 5.2-3 5.2-.4 5.2 1.8 5.2 4.2 15.5 18.5 10.4 10.2 5.2 3.5 5.2 1.3 5.2 .1 5.2-.6 5.1-2 5.2-3.4 5.2-4.1 15.6-13.3 5.2-3.7 5.2-2.8 5.1-1.2 5.2 .3 10.4 2.5 5.2 .6 5.2 0 5.2-.6 10.3-4.2 10.4-5.1 5.2-.4 5.2 .8 10.4 6.7 5.1 4.7 5.2 6.8 5.2 8.7 15.6 31.5 5.2 9 5.2 6.2 5.1 2.6 5.2-1.2 5.2-5.3 5.2-8.8 5.2-11.1 10.4-24.4 5.2-10.1 5.1-7 5.2-3.3 5.2 .4 5.2 4 5.2 6.8 5.2 9 10.3 20.2 5.2 8.8 5.2 6.6 5.2 3.3 5.2-.5 5.2-4.9 5.2-8.3 20.7-44.1 5.2-8 5.2-4.5 5.2-1.2 5.2 3 5.2 6.8 5.1 10.1 15.6 35.4 5.2 8.9 5.2 5.4 5.2 1.5"/><path stroke="#1A82D4" d="M111.6 250.6l10.4-3.6 5.2-2.4 10.4-6.4 5.2-4.3 5.1-5.1 15.6-19 5.2-4.5 5.2-.8 5.2 3 10.3 10.3 5.2 4.4 5.2 3.1 5.2 2.1 5.2 1.2 10.4 .6 10.3-.7 10.4-1.8 15.6-4.5 15.5-6.5 10.4-5.6 5.2-3.5 10.4-9 5.2-5.8 10.3-13.5 10.4-16.5 15.6-27.1 5.2-11 15.5-36.1 15.6-44.7 5.2-16.9 5.2-11.5 5.1-1 5.2 1.6 10.4 4.3 5.2-.3 5.2-2.2 5.2-1.3 5.1 2.3 5.2 10.4 26 87.4 5.2 14.6 5.1 12.7 15.6 35.1 5.2 11.3 5.2 8.9 5.2 5.8 5.2 3.5 20.7 7.4 5.2 2.6 41.5 29.3 25.9 17.3 15.6 7.6 46.7 19.8"/><path stroke="#D8891A" d="M111.6 108.3l20.8 4.2 5.2 .3 5.2-.5 5.1-1.6 5.2-2.6 5.2-3.8 10.4-9 10.4-7.2 5.2-2.2 5.1-.8 5.2 .7 5.2 1.5 5.2 2.3 10.4 5.9 5.2 2.4 5.2 1.2 5.1 0 5.2-1.4 5.2-2.2 15.6-9.1 5.2-2.3 10.3-3.7 5.2-.3 5.2 1.6 5.2 3.3 5.2 4.2 5.2 5.9 10.3 15 5.2 6.6 5.2 5.1 5.2 3 5.2 .3 5.2-2.4 5.2-5.5 5.2-8.1 20.7-38.9 5.2-8.3 5.2-6.2 5.2-3.1 5.2-.6 5.1 2.7 5.2 4.9 5.2 7.2 15.6 29.6 5.2 7.7 5.1 5.2 5.2 3.3 5.2 1.4 5.2 0 5.2-1.3 20.7-8.5 26-9.4 10.4-5.2 10.3-6.2 20.8-16.2 5.2-2.7 5.1-1.1 5.2 1.1 5.2 3.5 5.2 5.9 5.2 7.8 5.2 8.8 15.5 30.2 5.2 8.2 5.2 4.9 5.2 1.7 5.2-2.3 5.2-7 5.2-10.5 15.5-39.8 5.2-11.2 5.2-7.7 5.2-3.3 5.2 1.1 5.2 5.3M111.6 128.1l15.6-3.4 10.4-3.8 10.3-5.9 15.6-11.3 5.2-3.1 5.2-2.2 10.4-2.4 25.9-1 15.6 1.7 10.3 2.6 5.2 2.2 20.8 11.5 5.1 1.7 5.2 .1 5.2-1.1 5.2-1.8 5.2-2.4 10.4-6.5 5.2-1.8 10.3-2.4 20.8-3.4 15.5-5.9 5.2-1.3 15.6-2.2 5.2-.3 10.4 .7 15.5 2.3 10.4 4.7 5.2 3.2 5.2 1.7 15.5 1 36.3-1.1 10.4-2.3 15.6-5.8 5.2-1.6 5.1-.8 5.2-.4 20.8 .2 10.3-1.3 5.2-1.5 5.2-2.3 5.2-3.5 5.2-4.9 5.2-6.8 15.5-25.7 5.2-7.7 5.2-5.8 5.2-2 5.2 2.3 5.2 5.7 5.2 8.9 15.5 32.9 5.2 8.8 5.2 6.8 5.2 4.8 5.2 2.7 5.2 .9M438.4 93.6l5.2 2.8 10.4 4.5 25.9 9.8 10.4 3.3 5.2 1.1 5.2 .3 5.2-.3 5.1-1.3 5.2-2.8 5.2-4.5 5.2-6.5 5.2-8 15.5-28 5.2-8.1 5.2-6.3 5.2-3.9 5.2-1.4 5.2 1.2 5.2 4.5 5.2 8.1 5.1 11.5 20.8 56.3 5.2 10.2 5.2 6.7 5.2 2.5 5.1-1.6 5.2-5.5 5.2-9.2 5.2-11.6 15.6-40M111.6 82.2l5.2-2.9 5.2-.7 5.2 1.1 5.2 2.7 5.2 3.9 15.5 14 5.2 3.7 5.2 2.8 5.2 1.8 5.2 .9 5.2-.5 5.2-2 5.1-3.2 5.2-4.2 20.8-21.6 10.4-8.2 5.1-2.9 5.2-1.9 5.2-.2 5.2 1.4 5.2 2.9 5.2 4.6 20.7 24.8 5.2 5.5 5.2 4.4 5.2 2.3 5.2 1.2 5.2 .4 5.1-1.2 5.2-2.8 5.2-4 5.2-5.2 5.2-6.2 15.6-21.1 5.1-6.3 5.2-5 5.2-3.6 5.2-2.4 5.2-1.3 5.2 .4 5.2 2.2 5.2 3.5 5.1 5 10.4 12.4 15.6 22.2 5.2 4.2 5.1 1.6 5.2-.1 5.2-1.6 5.2-2.6 25.9-17.9 10.4-5.3 5.2-2.1 5.2-1 5.2-.2 5.2 .6 5.2 1.5 15.5 6.6 5.2 1.1 5.2 .2 5.2-.7 5.2-1.4 25.9-10.2 5.2-1.6 5.2-.7 5.2 1.1 5.1 2.9 10.4 8.3 10.4 10.2 5.2 4.1 5.2 3.4 5.2 2.6 5.1 2 5.2 1.2 5.2 .2 5.2-.8 5.2-1.5 10.4-5.4M111.6 144l15.6-22.1 5.2-6.6 5.2-5.1 5.2-3.5 5.1-1.8 5.2-.5 5.2 .6 5.2 1.4 5.2 2.1 15.6 8.1 5.1 2 5.2 1.3 5.2 0 5.2-1.2 5.2-1.9 5.2-2.8 5.2-3.5 15.5-12.4 5.2-2.9 5.2-1.5 5.2-.3 5.2 1.1 10.3 4.9 5.2 1.7 10.4 2.5 5.2 .6 10.4-.9 36.3 4.5 5.2-.4 15.5-3.2 10.4-2.9 25.9-12.8 5.2-2.4 5.2-1.5 5.2 .4 5.2 1.1 5.2 2.7 10.3 3.9 5.2 3 5.2 4.3 5.2 5.9 5.2 7.3 15.6 26.2 5.1 7 5.2 4.6 5.2 1.3 5.2-2.4 5.2-5.6 5.2-8.5 15.5-33 5.2-9.9 5.2-8 5.2-5.4 5.2-2.4 5.2 1 5.2 4.5 5.1 7.6 5.2 10.1 15.6 35.2 5.2 9.1 5.2 6.7 5.2 4.5 5.1 2.1 5.2-.7 5.2-4 5.2-6.1 5.2-8.2 20.7-43.1 5.2-7.9 5.2-5.4 5.2-2 5.2 1.4 5.2 4.4 5.2 6.8M111.6 105.8l15.6 3.8 10.4 .4 5.2-.8 5.1-1.5 5.2-2.3 15.6-9.8 5.2-2.7 5.2-2 5.2-1.2 5.1-.1 5.2 1.1 5.2 1.7 5.2 2.3 15.6 9.2 5.2 2.4 5.1 1.5 5.2 .7 10.4 .1 15.6-1.7 5.1-1 10.4-3.3 5.2-1 10.4-.9 5.2 .5 20.7 7.9 5.2 .9 5.2-.1 5.2-1.1 5.2-2.7 20.7-16 10.4-6.9 5.2-1.9 5.2-.2 5.2 1.1 5.1 2.8 5.2 4 5.2 5 15.6 19.1 5.2 3.5 5.1 1.1 5.2-.6 5.2-1.8 15.6-7.7 5.2-1.6 5.2-.4 5.1 .7 5.2 1.9 20.8 11.1 5.2 1.8 5.2 1.3 5.1 .3 5.2-1.1 5.2-2.3 5.2-3.7 15.6-13.5 5.1-3.5 5.2-2.2 5.2-.9 5.2 .4 10.4 2.9 5.2 2.1 5.2 2.9 10.3 6.3 5.2 1.8 5.2 1.1 5.2-.2 5.2-2.2 5.2-3.3 10.3-8.2 5.2-3.4 5.2-2.3 5.2-.7 5.2 1.4 5.2 3 5.2 4.3"/><path stroke="#1A82D4" d="M111.6 273.9l20.8-1.9 25.9-3.8 20.8-4.4 15.5-4.4 36.3-13.1 20.8-8.7 20.7-11 10.4-6.8 5.2-4 10.4-9.9 5.2-6.4 10.3-14.6 10.4-17.5 15.6-28.5 5.2-11 15.5-36.2 15.6-45 5.2-17.1 5.2-11.7 5.1-1.2 10.4 2.8 5.2 .7 5.2-1.9 10.4-8.6 5.1 0 5.2 1.6 15.6 31.5 10.4 18.9 5.2 8.2 5.1 39.1 10.4 143 10.4-95.4 5.2-16.1 15.5 43.4 10.4 25.4 5.2 11.1 10.4 18.4 5.2 7.5 10.3 12.5 15.6 14.7 25.9 20.7 15.6 10.9 20.7 12.8 5.2 1.9 26 0M111.6 251.8l10.4-4.8 10.4-6.3 10.4-8.2 5.1-5.1 5.2-5.9 5.2-6.9 5.2-7.9 15.6-27.7 5.2-6 5.1-.3 5.2 5.1 10.4 16 5.2 6.6 5.2 4.8 5.2 2.8 5.2 1 5.1-1 5.2-2.8 5.2-4.8 5.2-5.8 5.2-4.6 5.2-.5 5.2 3.4 5.1 4.4 5.2 3.2 5.2 1.2 5.2-.7 5.2-2.3 5.2-4 5.2-5.4 10.3-12.1 5.2-7 15.6-23.3 5.2-8 5.2-9.2 15.5-30.5 5.2-11.3 10.4-26.2 5.2-14.5 5.2-17.1 5.2-11.6 5.1-1.1 5.2 1.4 5.2 2.3 5.2 1.6 5.2-.6 5.2-2.6 5.2-1.8 5.1 2.4 5.2 11.7 26 86.5 5.2 14.2 5.1 12.6 20.8 45.7 5.2 8.8 5.2 6.5 5.2 4.7 5.1 3.7 20.8 13.6 41.5 29 25.9 16.5 10.4 5.1 10.4 4.3 41.5 15.4"/><path stroke="#D8891A" d="M111.6 144.2l5.2-1.4 10.4-4.5 15.6-10.2 20.7-15.8 5.2-3.5 5.2-2.6 5.2-1.7 5.2-.8 5.1 .5 5.2 1.6 10.4 5.1 15.6 10.3 5.2 2.5 5.1 1.8 15.6 2.8 15.6 1.5 5.1-.3 5.2-1.6 10.4-4.2 15.6-7.3 10.3-.7 26 2.6 5.2-.4 20.7-5.8 15.6-6.9 10.4-2.1 5.1 .5 5.2 1.2 5.2 2.3 10.4 8.5 5.2 5.2 5.2 3.7 20.7 9.4 20.8 11.6 5.1 2.3 5.2 1.3 5.2 0 5.2-1.5 5.2-2.7 5.2-3.8 15.5-14.4 10.4-8.3 10.4-6.1 5.2-1.9 5.2-1 5.1-.1 5.2 .6 15.6 3.8 15.6 2 15.5 5.2 5.2 2.7 25.9 16 5.2 2.9 5.2 2.1 5.2 1.2 5.2 .3 5.2-1 5.2-2.1M111.6 133.9l5.2-.2 5.2-1.3 5.2-2.8 5.2-4.1 5.2-5.2 5.2-6.3 20.7-30 5.2-6.2 5.2-4.4 5.2-2.4 5.2-.3 5.1 2 5.2 4.2 5.2 5.4 15.6 20.2 5.2 5.9 5.2 4.3 5.1 2.4 5.2 .5 5.2-.8 5.2-2 15.6-10.6 15.5-13.2 5.2-3.4 10.4-4.1 5.2-.2 5.2 2 5.1 3 15.6 11.5 5.2 3.3 5.2 2.5 5.2 1 5.2-.4 10.3-2.4 20.8-8.8 5.2-.9 5.2-.1 10.3 2.6 5.2 2.3 5.2 3.4 10.4 5.4 5.2-.5 5.1-3.3 5.2-5 15.6-19.5 5.2-5.2 5.2-3.4 5.2-.7 5.1 2.1 5.2 4.9 5.2 7.1 5.2 8.8 15.6 30.8 5.2 9 5.1 7.2 5.2 4.2 5.2 .7 5.2-3 5.2-6.6 5.2-9.6 5.2-11.8 15.5-39.1 5.2-11.4 5.2-9.7 5.2-7.5 5.2-4.6 5.2-.7 5.1 3.3 5.2 6.7 5.2 9 15.6 35.6 5.2 10.6 5.2 8.8 5.1 6.6 5.2 4.3 5.2 1.9 5.2-.2 5.2-1.7 5.2-2.9 5.2-3.7M111.6 112.5l26-5 15.5-2 15.6-2.7 10.4-.6 10.3 .8 10.4 3 15.6 6.3 5.2 1.2 5.2-.1 5.1-1.5 5.2-2.9 15.6-11.4 5.2-3.2 5.2-2 10.3-2 5.2 .5 5.2 2.2 5.2 3.5 5.2 3.9 5.2 5.2 10.3 12.9 5.2 5.6 5.2 4.3 5.2 2.6 5.2 .2 5.2-2.1 5.2-5 5.2-7.4 5.1-8.8 15.6-29.1 5.2-8.9 5.2-6.9 5.2-4.2 5.2-1.6 5.1 1.8 5.2 4.5 5.2 7.4 5.2 10.3 10.4 23.6 5.2 10.1 5.1 7.6 5.2 5.5 5.2 3.2 5.2 .9 5.2-1 5.2-2.5 20.7-15.9 10.4-6.2 5.2-1.5 5.2-.2 5.2 1 5.2 2.9 20.7 18.2 5.2 2.9 5.2 1.2 5.2-.4 5.1-1.9 20.8-12.9 5.2-2.3 5.2-.7 5.2 1.2 5.1 3.3 15.6 12.5 5.2 3.1 5.2 .9 5.2-1.3 5.2-3.3 5.1-5.1 15.6-19.7 5.2-5.4 5.2-3.8 5.2-1.7M111.6 103.8l5.2-6 15.6-20.6 5.2-5.2 5.2-3.8 5.1-2.4 5.2-1 5.2-.1 5.2 .8 5.2 1.7 10.4 5.4 15.5 9.1 5.2 2.1 5.2 1.2 5.2 .5 5.2-.3 5.2-1.2 15.5-6.9 5.2-1.6 5.2-.7 5.2 .4 5.2 1.6 10.3 5.8 5.2 2.2 5.2 1.8 5.2 1 5.2-.3 5.2-2.5 10.4-7.3 15.5-13.8 5.2-3.7 5.2-2.4 5.2-.8 5.2 .5 5.2 1.8 5.1 3.7 15.6 15.9 5.2 3.8 5.2 2.2 5.2 .5 5.2-2.2 5.1-4.1 5.2-6.3 15.6-21.4 10.4-11.5 5.1-4.6 5.2-1.3 5.2 2.3 5.2 6.2 5.2 9.6 15.6 35.8 5.1 9 5.2 5.4 5.2 1.5 5.2-2.3 5.2-5.1 5.2-7.2 10.4-16.7 5.1-7.4 5.2-6.2 5.2-5 5.2-3.7 5.2-2.5 5.2-1.1 5.2 .1 5.1 1.2 15.6 7.2 5.2 1.9 5.2 .5 5.2-.5 10.3-2.9 15.6-7.4 5.2-1 5.2-.1 5.2 1.9 5.2 4 5.1 6.2 20.8 32.9 5.2 5.7 5.2 3.3"/><path stroke="#1A82D4" d="M111.6 264l26 .1 15.5-.6 15.6-2.2 15.6-3.8 57-20.4 10.4-4.2 10.4-4.7 10.3-5.5 10.4-6.4 5.2-3.7 10.4-9.4 5.2-6 10.3-14 10.4-16.8 15.6-27.6 5.2-10.7 15.5-35.8 15.6-45 5.2-17.1 5.2-11.6 5.1-.9 15.6 5.7 5.2-.4 5.2-2.5 5.2-1.7 5.1 2.6 5.2 12.2 20.8 70.5 5.2 16.9 5.2 14.3 20.7 48.1 5.2 11 5.2 8.8 5.2 5.9 5.2 3.6 20.7 9.2 5.2 3 46.7 34.2 20.7 14 15.6 7.6 25.9 10.7 20.8 9.1M111.6 274l20.8-1.9 25.9-3.7 20.8-4.5 15.5-4.4 36.3-13.1 20.8-8.7 20.7-11 10.4-6.8 5.2-3.9 10.4-10 5.2-6.3 10.3-14.7 10.4-17.5 15.6-28.4 5.2-11.1 15.5-36.2 15.6-44.9 5.2-17 5.2-11.7 5.1-1.1 5.2 1.4 5.2 2 5.2 1.2 5.2-1.2 10.4-7.1 5.1-.8 5.2 5.7 10.4 23.8 5.2 10.2 10.4 16.9 5.2 5.3 10.3 7.7 5.2 57.5 10.4 137.3 10.4-94.5 5.2-39.6 20.7 58.4 10.4 25.3 5.2 10.6 5.1 9.1 5.2 7.9 10.4 12.8 5.2 5.3 10.4 9.3 20.7 16.6 10.4 7 20.7 12.8 5.2 1.8 26 0"/><path stroke="#D8891A" d="M111.6 84.8l5.2-6.3 5.2-4.6 5.2-2.5 5.2-.1 5.2 2.2 5.2 4.2 15.5 17.6 5.2 5.1 5.2 3.8 5.2 2.3 5.2 .3 5.2-1.9 5.1-3.7 5.2-5.3 15.6-21.2 5.2-6.3 5.2-5.2 5.2-3.6 5.1-1.5 5.2 .8 5.2 3.6 5.2 6.2 5.2 8 15.5 29 5.2 7 5.2 4.7 5.2 2.2 5.2-.7 5.2-4.1 10.4-12.7 15.5-23.3 5.2-6.4 5.2-4.8 5.2-3 5.2-1.6 5.2-.1 5.1 1.9 5.2 3.3 10.4 7.8 5.2 3 5.2 2.2 5.2 1.4 5.2 0 5.1-1 20.8-9.6 5.2-1.7 10.3-5.9 5.2-1.5 5.2 .5 5.2 2.8 5.2 5.3 5.2 7.2 15.5 25.4 5.2 6.3 5.2 4 5.2 1.2 5.2-1.1 5.2-3.4 5.2-5.2 15.5-18.5 10.4-11.1 5.2-4.3 5.2-2.9 5.2-1.5 5.1 .1 5.2 1.4 15.6 7.8 5.2 1.6 15.5 2 5.2-.3 5.2-1.5 10.4-3.3 10.4-4.7 5.2-1.7 5.1-.5 5.2 .9 5.2 1.8 15.6 9 5.2 1.8M443.6 67.6l5.2 8.9 5.2 10.7 15.5 35.2 5.2 9.7 5.2 7.3 5.2 4.4 5.2 1.6 5.2-1.4 5.2-4.5 5.2-6.7 5.1-8.7 5.2-10.5 20.8-48.4 5.2-10.3 5.1-8 5.2-5.4 5.2-2.5 5.2 .4 5.2 3 5.2 5.3 5.2 7.7 5.2 10.3 20.7 53.4 5.2 11.9 5.2 8.7 5.2 5.5 5.2 1.9 5.1-1.7 5.2-4.9 5.2-8.1 5.2-10.5 15.6-38.3M448.8 107.3l10.4-1.4 25.9-7.8 5.2-.3 5.2 1 5.2 2.2 5.2 3.9 5.1 5.4 10.4 12.1 5.2 5.2 5.2 3.8 5.2 1.8 5.2-.5 5.1-3 5.2-5.4 5.2-7.9 5.2-9.8 15.6-34.9 5.2-9 5.1-5.4 5.2-1.5 5.2 2.3 5.2 6.8 5.2 10.5 5.2 12.5 15.5 42.8 5.2 12.4 5.2 9.4 5.2 5.8 5.2 1.9 5.2-2.6 5.2-6.9M459.2 99.2l10.3 1.4 10.4 .3 41.5-5.4 10.4-2.9 15.5-6 10.4-3.2 15.6-3.6 5.2-.6 5.2 .7 5.1 2.2 10.4 6.5 10.4 8.3 5.2 2.8 5.2 1.9 5.2 .7 5.1-.4 5.2-1.1 26-11.8"/><path stroke="#1A82D4" d="M111.6 260.4l20.8-2.3 20.7-3.7 15.6-4.1 15.6-5.7 10.3-5.4 10.4-7.5 5.2-4.9 10.4-11.4 5.2-4.4 5.1-1.1 5.2 2.4 10.4 6.3 5.2 1.6 5.2 .5 5.2-.2 5.1-.9 10.4-3.3 10.4-5.1 5.2-3.6 5.2-4.3 5.2-5.4 10.3-13.4 10.4-16.8 15.6-28.6 5.2-11.1 15.5-37.4 15.6-46.4 5.2-17.5 5.2-12 5.1-1 5.2 1.6 10.4 4.2 5.2-.3 5.2-2.3 5.2-1.4 5.1 2 5.2 9.1 26 86.7 5.2 15 10.3 25.1 15.6 34.8 10.4 20.3 5.2 8.7 15.5 24.6 10.4 14 15.5 16.6 15.6 15.2 36.3 32 62.3 .2"/><path stroke="#D8891A" d="M111.6 125.8l5.2 2.9 5.2 .7 5.2-1.6 5.2-3.6 5.2-5.2 20.7-25.4 5.2-5.1 5.2-3.5 5.2-1.7 5.2-.1 5.2 1.4 5.1 2.7 5.2 3.8 20.8 16.7 5.2 2.9 5.2 1.6 5.1 .1 5.2-1.4 5.2-2.3 5.2-3 10.4-7.2 15.5-9.8 5.2-2.8 5.2-1.7 10.4-1.4 5.2 .6 10.3 3.9 10.4 2.8 5.2 .5 5.2-.3 5.2-.9 15.5-6.4 5.2-1.4 15.6-2.6 5.2-.3 10.4 .5 10.3 1.2 10.4-.3 10.4-1.2 5.2-2.6 10.3-7.5 5.2-2.9 5.2-1.4 5.2 .6 5.2 2.9 5.2 5 5.2 8.2 15.5 27.6 5.2 6.9 5.2 4.8 5.2 2 5.2-1.3 5.2-4.1 5.1-7.1 5.2-9.7 5.2-11.8 10.4-26.1 5.2-11.7 5.2-8.9 5.1-5.4 5.2-1.1 5.2 3 5.2 6.7 5.2 9.5 5.2 11 15.5 36.1 5.2 9.9 5.2 6.7 5.2 3.8 5.2 .4 5.2-3.7 5.2-6.7 15.5-27.9 5.2-8.5 5.2-6.5 5.2-4 5.2-1.6 5.2 .7"/><path stroke="#1A82D4" d="M111.6 253.6l10.4-3.2 5.2-2.1 10.4-5.5 10.3-8 15.6-15.6 5.2-3 5.2 .1 5.2 2.8 10.3 7.7 5.2 2.8 5.2 1.8 5.2 .9 10.4 .3 10.4-.9 10.3-1.7 15.6-4.1 10.4-3.7 10.3-4.5 10.4-5.6 5.2-3.4 10.4-8.9 5.2-5.7 10.3-13.7 10.4-16.6 15.6-27.5 5.2-10.8 15.5-36.2 15.6-45.5 5.2-17.3 5.2-11.8 5.1-1 5.2 1.6 5.2 2.3 5.2 1.7 5.2-.4 5.2-2.5 5.2-1.6 5.1 1.5 5.2 7.9 5.2 16 20.8 69.3 5.2 15.2 10.3 25.4 5.2 11 10.4 24.4 10.4 21.1 5.2 9.1 15.5 24.9 10.4 14.2 15.5 16.7 15.6 14.4 15.6 12.8 25.9 20.1 5.2 1 51.9 0M111.6 269.6l15.6-2 31.1-5.1 20.8-4.3 15.5-4.1 46.7-15.6 15.6-5.8 15.5-7.3 10.4-6.2 5.2-3.8 10.4-9.7 5.2-6.2 10.3-14.6 10.4-17.4 15.6-28.4 5.2-10.9 15.5-36.5 15.6-46 5.2-17.4 5.2-12.1 5.1-1.2 5.2 1.3 10.4 3.7 5.2-.5 5.2-2.5 5.2-1.7 5.1 1.9 5.2 9.3 26 86.9 5.2 15 10.3 25.3 15.6 35.2 5.2 9.9 5.2 7.9 5.2 6.2 5.1 5.2 31.2 27.8 25.9 21 31.1 23.6 15.6 10 31.1 18.6 5.2 .7 10.4 0"/><path stroke="#D8891A" d="M111.6 138.7l5.2-2.6 5.2-4.2 15.6-16.2 5.2-4.9 5.1-4.1 5.2-3.1 5.2-2.4 5.2-1.4 5.2-.5 5.2 .4 20.7 3 5.2 0 31.1-3.7 5.2-.2 5.2 .7 5.2 1.4 5.2 1.9 10.4 5.2 5.1 1.8 5.2 .4 5.2-.6 5.2-1.3 5.2-2.1 10.4-6.5 10.3-3.9 5.2-1.4 5.2-.7 5.2-.1 15.6 2.3 15.5 1.6 5.2-.4 5.2-1.7 5.2-3.3 5.2-4.2 20.7-19.2 5.2-3.2 5.2-1 5.2 .3 10.4 4.6 5.1 3 5.2 4.7 5.2 6.7 5.2 8.5 15.6 31.6 5.2 9.5 5.1 7.2 5.2 4.1 5.2 .4 5.2-3.5 5.2-6.6 5.2-9.4 15.5-33.4 5.2-8.8 5.2-6.1 5.2-2.8 5.2 .9 5.2 4.6 5.2 7.9 5.1 10.6 10.4 24.1 5.2 10.7 5.2 7.9 5.2 3.8 5.2-.1 5.2-3.5 5.1-6.2 5.2-8.8 10.4-21.6 10.4-19.1 5.2-6.7 5.2-3.6 5.1 .1 5.2 4 5.2 7 5.2 9.9 15.6 36"/><path stroke="#1A82D4" d="M111.6 260.3l20.8-1.3 25.9-2.5 15.6-2.6 15.5-3.6 41.5-13.8 15.6-5.7 15.6-6.9 10.3-5.1 10.4-6 5.2-3.6 10.4-9.2 5.2-5.9 10.3-13.8 10.4-16.9 15.6-27.5 20.7-47.1 15.6-44.3 5.2-16.7 5.2-11.3 5.1-1 5.2 1.6 5.2 2.4 5.2 1.7 5.2-.5 5.2-2.4 5.2-1.5 5.1 6.2 10.4 40.9 15.6 51.8 5.2 14.7 10.3 24.9 15.6 34.9 5.2 9.9 5.2 7.9 5.2 5.9 5.2 5 36.3 29.9 20.7 16.3 31.1 22.6 15.6 9.4 36.3 20.4 5.2 2.3 10.4 0"/><path stroke="#D8891A" d="M454 95.7l10.4-22.2 5.1-9.8 5.2-7.5 5.2-4.9 5.2-1.8 5.2 1.9 5.2 5.2 5.2 8 5.2 10.5 10.3 23.8 5.2 10.8 5.2 8.4 5.2 5.3 5.2 1.8 5.2-1.8 5.1-5 5.2-7.8 5.2-9.9 15.6-34.5 5.2-9.8 5.2-6.8 5.1-3 5.2 .5 5.2 3.3 5.2 6.4 15.6 25 5.2 7.4 5.1 6.1 5.2 4.5 5.2 2.6 5.2 1.1 5.2-.2 5.2-1.3 5.2-2.1M111.6 145.5l5.2 .6 20.8 6.1 5.2 .6 5.1-.5 5.2-1.8 5.2-3.3 15.6-12.4 5.2-3.1 5.2-1.7 5.1 0 5.2 2 5.2 3.4 5.2 4.6 10.4 11.2 5.2 4.7 5.2 3.1 5.1 .9 5.2-1.5 5.2-3.5 5.2-5.1 15.6-19.6 10.3-10.8 5.2-3 5.2-.4 5.2 2.3 5.2 3.9 5.2 6.3 15.5 25.9 5.2 7.3 5.2 5.2 5.2 2.8 5.2 .4 5.2-2.3 5.2-4.4 20.7-20.9 5.2-3.9 5.2-2.3 5.2-.2 5.2 1.4 5.1 3.1 5.2 3.9 20.8 19.8 5.2 1.6 5.1-.8 15.6-5.4 5.2-.2 5.2 1.8 5.2 4.1 5.2 6.1 15.5 23.8 5.2 6.2 5.2 4.1 5.2 .8 5.2-2.7 5.2-5.9 5.1-8.8 5.2-11.3 15.6-38.7 5.2-10.3 5.2-7.2 5.1-3.1 5.2 1.1 5.2 5.1 5.2 8.5 5.2 10.9 15.6 35.9 5.1 10.9 5.2 8.5 5.2 4.9 5.2 1.8 5.2-1.7 5.2-5.6 5.2-8.2 10.3-19.3 5.2-8.4 5.2-6.6 5.2-3.7 5.2-.7 5.2 1.9 5.2 3.6M111.6 125.4l5.2 5 15.6 20.6 5.2 5.9 5.2 4.1 5.1 1.4 5.2-1.6 5.2-4.9 5.2-7.5 15.6-28.3 5.2-8.3 5.1-6.2 5.2-3.7 5.2-1.3 5.2 1.2 5.2 3.8 20.7 24.6 5.2 4.3 5.2 2.8 5.2 .9 5.2-1.1 5.2-2.6 5.2-3.4 5.1-4.7 10.4-11.2 5.2-4.4 5.2-3.1 5.2-1.8 5.2 .5 5.2 3.6 5.1 5.2 15.6 20.5 5.2 6.4 5.2 5.4 5.2 3.2 5.2 1 5.1-1.1 5.2-3.2 5.2-5.2 5.2-7.4 10.4-17.9 5.2-8 5.2-6.7 5.1-4.1 5.2-1.4 5.2 1.8 5.2 5.6 5.2 8 15.5 30.4 5.2 8.7 5.2 7.2 5.2 4.9 5.2 2.3 5.2-.5 5.2-2.9 5.2-5 15.5-18.5 5.2-4.7 5.2-2.3 5.2 0 5.2 2.2 5.2 4.5 15.5 18.5 5.2 4.9 5.2 3 5.2 .9 5.2-1.3 5.1-3.4 5.2-5.2 20.8-27.5 5.2-5.2 5.2-2.3 5.1 .8 5.2 3.7 5.2 5.7 5.2 8.1 10.4 18.1 5.2 7.9 5.2 6.2 5.1 4.1 5.2 1.6 5.2-1.3 5.2-3.8 5.2-6 10.4-15.9"/><path stroke="#1A82D4" d="M111.6 267l26-1.7 20.7-2.7 15.6-3.4 15.5-4.5 31.2-11.7 25.9-9.1 15.6-6.2 10.3-4.9 10.4-5.8 10.4-7.7 5.2-4.9 5.2-6 10.3-14.2 10.4-17.3 15.6-28.7 5.2-11 15.5-37 15.6-45.9 5.2-17.4 5.2-11.8 5.1-.9 5.2 1.6 10.4 4.5 5.2-.3 5.2-2.1 5.2-1.2 5.1 7.6 5.2 23.3 5.2 20.4 15.6 52.1 5.2 14.5 20.7 48 5.2 10.6 5.2 8.4 5.2 5.7 5.2 3.7 10.3 4.5 20.8 6.7 31.1 12.5 20.8 7.3 10.3 3.1 10.4 1.6 10.4-.1 31.1-4.3 15.6-1.5M111.6 271.6l20.8-2 25.9-4.2 26-5.7 20.7-5.9 31.1-10.5 15.6-6.4 10.4-5.1 10.3-5.8 10.4-6.8 5.2-4 10.4-10 5.2-6.3 10.3-14.7 10.4-17.6 15.6-28.6 5.2-11 15.5-36.4 15.6-45.2 5.2-17.1 5.2-11.7 5.1-.9 5.2 1.6 5.2 2.3 5.2 1.8 5.2-.5 5.2-2.5 5.2-1.6 5.1 1.8 5.2 9.2 26 85.8 5.2 14.8 5.1 12.7 20.8 46.7 5.2 9.9 5.2 8.4 5.2 6.6 20.7 22.2 20.7 18.9 20.8 16.9 36.3 27.2 31.1 20 5.2 1.9 20.8 0M111.6 264.5l10.4-3.1 5.2-2 10.4-5.5 5.2-3.6 5.1-4.4 5.2-5.4 5.2-6.5 10.4-15.1 5.2-5.3 5.2-.7 5.2 4.1 10.3 12.3 5.2 4.7 5.2 3.1 5.2 1.9 5.2 1 5.2 .3 5.2-.3 10.3-1.5 15.6-4.4 10.4-4.2 10.3-5.2 10.4-6.3 5.2-3.9 10.4-9.7 5.2-6.2 10.3-14.6 10.4-17.6 15.6-28.8 5.2-11.1 15.5-36.6 15.6-45 5.2-17 5.2-11.6 5.1-1 5.2 1.4 5.2 2.3 5.2 1.6 5.2-.5 5.2-2.6 5.2-1.6 5.1 3.5 5.2 15.3 5.2 18.9 15.6 52.1 5.2 16.1 5.2 13.6 20.7 47.3 5.2 10 5.2 8.1 5.2 5.6 5.2 4 25.9 15.3 36.3 22.9 25.9 14.4 5.2 2.4 10.4 3.6 31.1 7.4 20.8 5.8"/><path stroke="#D8891A" d="M111.6 119.3l5.2 .8 5.2-.1 5.2-1 5.2-1.9 10.4-5.9 20.7-15.8 5.2-3.4 10.4-4.3 10.3-2.3 15.6-.9 5.2 .6 5.2 1.2 5.2 1.6 10.3 4.2 15.6 8 10.4 4.7 5.2 1.8 5.1 .3 5.2-1.5 5.2-2.7 5.2-3.1 15.6-10.9 5.2-1.6 5.1-.8 5.2 0 20.8 3.7 5.2 .1 5.2-.8 10.3-2.5 5.2-1.8 15.6-8.2 5.2-1.9 5.2-1.3 5.1 .1 5.2 .9 5.2 2.1 10.4 7.7 5.2 4.5 5.2 2.6 15.5 2.8 5.2 1.2 5.2 2.1 5.2 2.8 15.5 10.2 5.2 2.5 5.2 1.5 5.2 .2 5.2-.6 5.2-1.5 20.7-9.5 20.8-11.5 5.2-2.4 5.1-1.6 5.2-.9 5.2-.1 5.2 .9 10.4 3.8 5.2 3.4 5.2 5 10.3 13.7 10.4 12.8 5.2 4.8 5.2 1.9 5.2-.6 5.2-3 5.1-5 5.2-6.5 5.2-7.8 20.8-34.5M111.6 116.7l15.6-15.5 5.2-4.5 5.2-3.7 5.2-2.8 5.1-1.8 5.2-1 5.2-.3 5.2 .6 5.2 1.6 5.2 2.6 10.4 6.5 10.3 7.3 5.2 3 5.2 2.2 5.2 1.5 5.2 .3 5.2-1.3 5.2-3 5.1-4.5 20.8-23.4 5.2-4.7 5.2-3.5 10.3-5.8 5.2-2 5.2-.7 10.4 .9 5.2 2.1 10.3 9 15.6 16.8 5.2 4.9 5.2 4.1 5.2 2.2 5.2 .3 5.1-1.1 5.2-2.8 5.2-4.4 5.2-6.4 20.8-33.8 5.1-6.3 5.2-4.2 5.2-1.4 5.2 2.4 5.2 5 15.5 25 15.6 28.7 5.2 8.4 5.2 6.9 5.2 4.8 5.2 2.5 5.1 .1 5.2-2.1 5.2-4.2 5.2-5.8 5.2-6.9 15.6-23.3 5.1-6.6 5.2-5.4 5.2-3.9 5.2-2.5 5.2-.8 5.2 .7 5.2 2.3 5.1 3.6 15.6 14.4 5.2 4.2 5.2 3 15.5 6.1 5.2 1.5 10.4 1.3 5.2 .1 5.2-1.5 5.2-2.5 20.7-14.5 5.2-3.1 5.2-2.3 10.4-2.7"/><path stroke="#1A82D4" d="M111.6 259l20.8-2 20.7-3.8 15.6-4.1 15.6-5.5 10.3-4.7 10.4-6.1 10.4-7.8 10.4-9 5.1-3 5.2-.4 10.4 3.8 5.2 1.4 5.2 .5 5.2-.3 5.1-.9 10.4-3.4 10.4-5.3 5.2-3.7 5.2-4.4 5.2-5.4 10.3-13.1 10.4-16.4 15.6-27.6 5.2-11 15.5-36.8 15.6-45.9 5.2-17.4 5.2-11.9 5.1-1.3 5.2 1.3 10.4 3.8 5.2-.6 5.2-2.6 5.2-1.6 5.1 1.7 5.2 8.6 26 86.5 5.2 15.3 10.3 25.6 15.6 35.7 5.2 10.4 5.2 8.9 5.2 7.2 10.3 12.4 10.4 11.4 15.6 15 25.9 22 25.9 20.7 10.4 7.7 25.9 16.1 5.2 .8 26 0"/><path stroke="#D8891A" d="M111.6 121.4l10.4-2.4 10.4-1.8 20.7-1.2 10.4-2.1 15.6-5.2 15.5-7.7 10.4-5.9 5.2-2.3 10.4-2.7 10.3-.5 5.2 .6 5.2 1.6 10.4 4.7 10.4 6.1 5.1 2.3 5.2 .9 10.4-.2 5.2-.7 10.4-2.4 10.3 1.2 20.8 4.7 5.2 .8 5.2-.2 10.3-2.4 10.4-3.3 15.6-7.1 10.4-2.5 5.1 .1 5.2 .6 5.2 1.6 10.4 6.8 5.2 4.3 5.2 2.3 5.1 .7 5.2 0 20.8-2.4 10.4 .3 25.9 5.4 25.9 4.3 10.4 1.1 15.6-1.1 10.3-1.7 5.2-1.4 5.2-2 5.2-2.7 10.4-7.4 5.2-2.6 5.1-1 5.2 .3 5.2 1.4 5.2 2.9 15.6 11.1 10.3 5.8 10.4 4.2 20.8 5.9"/><path stroke="#1A82D4" d="M111.6 242.4l20.8-.3 20.7-1.4 15.6-1.9 15.6-3 10.3-2.7 20.8-6.6 31.1-8.1 25.9-7.8 10.4-3.8 5.2-2.5 5.2-3.2 5.2-3.9 5.2-4.8 10.3-12.1 10.4-15.5 15.6-26.8 5.2-10.8 15.5-36.6 15.6-45.6 5.2-17.3 5.2-11.8 5.1-.8 5.2 1.7 5.2 2.6 5.2 1.8 5.2-.3 5.2-2.3 5.2-1.6 5.1 2.4 5.2 11.3 26 87.1 5.2 14.5 5.1 12.7 20.8 47.1 5.2 10 5.2 8.4 5.2 7 10.3 12.6 10.4 11.7 15.6 15 20.7 18 31.1 25.5 10.4 7.8 10.4 6.9 5.2 3.4 5.2 1.4 36.3 0"/><path stroke="#D8891A" d="M111.6 124.9l15.6-20.4 5.2-5.5 5.2-4 5.2-2.3 5.1-.5 5.2 .9 5.2 2 5.2 2.9 15.6 10.8 5.2 2.6 5.1 1.4 5.2 0 5.2-1.9 5.2-3.7 5.2-4.8 20.7-24.8 5.2-4.8 5.2-2.7 5.2-.3 5.2 2.1 5.2 4.5 20.7 28.3 5.2 6.3 5.2 5.1 5.2 2.7 5.2 1.2 5.2 .3 5.1-1.6 5.2-3.4 5.2-4.6 26-30.4 5.1-4.4 5.2-2.8 5.2-1.5 5.2-.6 5.2 0 5.2 .8 10.4 4.1 10.3 6.4 5.2 3.8 15.6 15.4 5.2 3.3 5.1 1.7 15.6 2.3 5.2 1.1 5.2 1.6 5.2 2.3 15.5 9 5.2 2.3 5.2 1.2 5.2 .2 5.2-1.2 5.2-2.7 10.3-7.4 15.6-14.3 5.2-4.5 5.2-3.5 5.2-2.1 5.1-.5 5.2 1.4 5.2 3.2 5.2 4.6 10.4 11.4 15.5 18.4 5.2 5 5.2 2.8 5.2 1 5.2-1.3 5.2-4.6 5.2-6.9 15.5-27.1 5.2-8.1 5.2-6.1 5.2-3.4 5.2-.7 5.2 1.9M111.6 108.9l10.4-5.8 5.2-2 5.2-1.2 5.2-.1 5.2 .9 15.5 4.6 5.2 1 10.4 .4 5.2-1.1 5.2-1.9 5.1-2.7 20.8-14 5.2-2.3 5.2-1.4 5.2-.2 5.1 1.2 5.2 2.4 5.2 4 5.2 5.3 15.6 17 5.1 3.6 5.2 1 5.2-1.2 5.2-3.2 5.2-4.9 10.4-14.1 10.3-11.6 5.2-4.4 5.2-2.7 5.2-.8 5.2 1 5.2 2.8 5.2 3.6 15.5 13.9 5.2 3.7 5.2 1.8 5.2-.6 5.2-2.7 5.2-4.3 20.7-25 5.2-3.3 5.2-1.8 5.2 1 5.2 1.8 5.1 3.3 5.2 6 5.2 8.4 5.2 10.5 15.6 35 5.2 8.6 5.1 5.2 5.2 1.1 5.2-3.3 5.2-7.4 5.2-10.3 15.6-37.7 5.1-9.7 5.2-6.4 5.2-2.6 5.2 1.5 5.2 5.5 5.2 9.1 5.2 11.9 15.5 39.6 5.2 9.6 5.2 5.6 5.2 .7 5.2-3.9 5.2-7.3 5.1-9.7 15.6-34.8 5.2-8.7 5.2-6.4 5.2-2.6 5.2 1.4 5.1 5.7 5.2 9.4 5.2 12 10.4 27.4 5.2 12.2 5.2 9.2M111.6 79.7l5.2-3.6 5.2-2.5 5.2-1.5 5.2-.4 5.2 .8 5.2 1.8 5.1 2.4 15.6 8.4 10.4 4.8 5.2 1.7 5.2 .9 5.1 .3 5.2-.4 5.2-1.3 10.4-4.3 10.4-5.3 15.5-9.4 5.2-2.4 5.2-1.7 5.2-1.3 5.2-.4 20.7 1 15.6 3.4 5.2 2.2 25.9 19.3 5.2 2.8 5.2 1.9 5.2 0 5.2-1.6 5.1-2.9 5.2-4.1 5.2-5.5 5.2-7.1 20.8-33.8 5.1-6.2 5.2-4.5 5.2-2 5.2 1.3 5.2 3.2 15.5 17.7 10.4 15.6 15.6 27.9 5.2 8.8 5.2 7.7 5.1 6 5.2 3.8 5.2 1.3 5.2-1.2 5.2-3.1 5.2-5.1 10.4-14.2 15.5-23.5 10.4-14.6 5.2-6.2 5.2-5.4 5.1-4.1 5.2-3 5.2-1.8 5.2-.7 5.2 .4 5.2 1.2 5.2 2.7 5.2 4.7 5.1 7 20.8 34 5.2 6 5.2 3.8 5.2 1.3 5.1-1.3 5.2-3.5 5.2-5.8 5.2-7.5 5.2-8.6 10.4-19.4M111.6 165l5.2-5.5 5.2-4.6 5.2-3.4 5.2-2 5.2-.3 5.2 1.4 5.1 2.6 26 18.8 10.4 6.1 5.1 2.1 5.2 1.3 5.2 0 5.2-1.3 5.2-2.3 5.2-3.2 10.4-9.5 10.3-11.3 5.2-4.7 5.2-3.7 5.2-2.7 5.2-1.4 5.2-.1 10.3 .9 5.2 1.1 5.2 2 10.4 5 5.2 3.4 15.5 13.9 10.4 8.1 5.2 2.8 5.2 1.9 5.2 .2 5.2-1.5 5.1-2.6 5.2-3.9 5.2-5.2 5.2-7 20.8-35.5 5.1-7.4 5.2-5.9 5.2-3.8 5.2-.7 5.2 1.5 10.4 9.3 5.1 5.8 5.2 7.6 5.2 9.2 15.6 30.7 5.2 8.9 5.2 7.2 5.1 4.7 5.2 1.8 5.2-1.3 5.2-4.2 5.2-6.2 5.2-8 20.7-36.1 10.4-16.4 5.2-7.5 5.2-6.5 5.2-5.6 5.1-4.2 5.2-2.6 5.2-1 5.2 .7 5.2 2 5.2 3 5.2 4.1 5.2 5.6 25.9 36.8 5.2 6 5.2 4.9 5.2 3.4 5.1 1.9 5.2 .2 5.2-2.1 5.2-4.2 5.2-6.1 5.2-8 5.2-9.6M469.5 147.8l5.2-1.6 5.2-5.3 5.2-8.7 5.2-10.8 10.4-24.8 5.2-11.2 5.1-9 5.2-6.1 5.2-2.8 5.2 .8 5.2 4.1 5.2 7.3 5.2 9.8 15.5 34.6 5.2 9.3 5.2 6 5.2 2 5.2-2 5.2-5.1 5.1-7.6 5.2-9.7 10.4-22.7 10.4-19.8 5.2-6.9 5.2-3.7 5.1 .2 5.2 4.2 5.2 7.8 5.2 10.9 15.6 41"/><path stroke="#1A82D4" d="M111.6 259.2l20.8-.8 20.7-2.2 15.6-2.7 20.7-5.1 51.9-16.9 20.8-7.8 10.3-4.5 10.4-5.2 10.4-7 5.2-4.5 5.2-5.5 10.3-13.3 10.4-16.5 15.6-28 5.2-11.2 15.5-37.5 15.6-46.3 5.2-17.5 5.2-11.9 5.1-1.1 5.2 1.5 10.4 4.1 5.2-.4 5.2-2.4 5.2-1.6 5.1 2 5.2 9.9 26 86.4 5.2 14.6 10.3 24.8 15.6 34.9 5.2 9.5 5.2 7 5.2 4.9 25.9 18.4 15.5 13.2 15.6 12.3 10.4 7.5 20.7 13.9 15.6 8.7 31.1 14.8 20.8 10.7"/><path stroke="#D8891A" d="M111.6 126.6l31.2-11.6 36.3-10.9 25.9-8.5 5.2-.8 5.2-.2 10.4 .9 10.3 1.9 26 7.2 5.1-.3 5.2-2.8 5.2-5.7 5.2-9.5 5.2-13.9 10.4-33.4 5.2-9.3 5.1-.2 5.2 8.8 10.4 29.3 5.2 11.7 5.2 7.3 5.2 2.8 5.2-.3 5.1-1.7 10.4-4.9 15.6-9.1 10.4-3.2 5.1-.2 5.2 .5 5.2 1.5 10.4 6.4 5.2 4.1 5.2 2.4 10.3 2.2 31.2 5.3 10.3 1.3 15.6 1.2 10.4 1.4 15.5 3.4 5.2 .2 5.2-.9 5.2-1.8 20.7-10.8 26-11.3 5.2-1.4 5.1-.1 10.4 2.2 10.4 5.6 10.4 4.6 10.3 2.4 5.2 .4 10.4-1.4 5.2-1.2 10.4-3.7M111.6 125.6l5.2-2.2 5.2-1.6 5.2-.7 5.2 .5 5.2 1.8 5.2 3 15.5 12.8 10.4 7.2 5.2 2.4 5.2 1 5.2-.6 5.1-2.4 5.2-3.8 5.2-5.5 20.8-27.5 5.2-5.6 5.1-4.2 5.2-2.2 5.2 .6 5.2 3.2 5.2 5.3 5.2 7.5 10.3 17.5 5.2 7.3 5.2 5.8 5.2 4.4 5.2 2.2 5.2-.3 10.4-4.2 5.1-3.6 20.8-18.6 10.4-8 5.2-3.4 5.1-2 5.2-.7 10.4 1.2 10.4 3.1 25.9 13.2 5.2 3.1 10.4 4.6 5.2 .1 15.5-4.7 5.2-.8 5.2 .1 5.2 1 15.5 5.9 5.2 1.3 5.2 .1 5.2-1.5 5.2-2.6 15.6-12.3 5.1-3.3 5.2-2.3 5.2-.8 5.2 .6 5.2 2.1 5.2 3.6 5.2 4.8 15.5 17.3 5.2 4.7 5.2 3 5.2 .6 5.2-1.4 5.2-2.9 5.1-4 5.2-5.3 10.4-12.9 10.4-11 5.2-3.4 5.2-1.1 5.1 1.8 5.2 4.8 5.2 7.3 5.2 9.3 10.4 20.9 5.2 9.2"/><path stroke="#1A82D4" d="M111.6 271.2l20.8-2.6 31.1-5.3 20.8-4.8 15.5-4.6 36.3-12.9 15.6-6.5 20.7-10.8 15.6-10.3 10.4-9.4 5.2-6 10.3-14 10.4-16.7 15.6-27.6 5.2-10.7 15.5-36 15.6-45.7 5.2-17.4 5.2-12 5.1-1 5.2 1.4 5.2 2.2 5.2 1.6 5.2-.7 5.2-2.6 5.2-1.7 5.1 2.2 5.2 11.6 26 86.3 10.3 26.6 15.6 35.1 10.4 21.1 5.2 8.7 20.7 29.3 10.4 12.4 10.4 10.4 5.1-41 5.2 50.6 5.2 4.6 36.3 31 15.6 12.4 5.2 1.4 46.7 0"/><path stroke="#D8891A" d="M111.6 146.2l5.2 .1 5.2-1.7 5.2-3.4 5.2-4.8 15.5-17.9 10.4-10.8 5.2-4 5.2-2.6 5.2-1.1 5.2 .2 5.2 1.1 15.5 6.2 10.4 2.7 5.2 .6 5.2-.1 5.2-.8 10.3-2.3 5.2-.4 5.2 .6 5.2 1.5 5.2 2.7 20.7 15.9 5.2 3.5 5.2 2.6 5.2 .8 5.2-.4 5.2-1.1 5.1-2.9 5.2-4.6 5.2-5.9 20.8-28.8 5.2-6.3 5.1-4.1 5.2-1.9 5.2 .4 5.2 2.2 5.2 3.8 5.2 5.3 15.5 20.8 5.2 6.4 5.2 5.4 5.2 5.2 5.2 3.3 5.2 1.9 5.2-1.8 5.1-5 5.2-6.8 10.4-15.4 5.2-6.6 5.2-4.4 5.2-1.5 5.2 2.1 5.1 5.7 5.2 9 5.2 11.1 15.6 36.5 5.2 9.3 5.2 6.5 5.1 3.1 5.2-1 5.2-5 5.2-8.5 5.2-11.4 15.5-39.9 5.2-11.3 5.2-8.8 5.2-5.7 5.2-2.4 5.2 .6 5.2 3.9 5.2 7.2 20.7 41.2 5.2 8.3 5.2 5.2 5.2 2.7 5.2 .2 5.1-1.6 5.2-2.9 15.6-11.2 5.2-2.6 5.2-1.6"/><path stroke="#1A82D4" d="M111.6 266.9l20.8-2.1 31.1-4 20.8-3.8 15.5-3.9 31.1-10 10.4-3.8 10.4-4.4 10.4-5.2 10.3-5.9 15.6-10.8 10.4-9.9 5.2-6.2 10.3-14.3 10.4-17 15.6-27.9 5.2-10.6 15.5-35.9 15.6-45.3 5.2-17.4 5.2-11.8 5.1-1 15.6 5.6 5.2-.5 5.2-2.5 5.2-1.7 5.1 2.9 5.2 13.2 20.8 70.9 5.2 16.7 5.2 14.2 20.7 48.6 5.2 11.1 5.2 9.1 5.2 6.5 5.2 4.6 25.9 17.1 31.1 23.2 31.1 21.4 15.6 8.9 31.1 15.2 20.8 10.7M111.6 256.7l20.8-2.2 31.1-5.4 25.9-6 26-7.1 25.9-5.8 10.4-3.2 15.5-6.1 10.4-5.1 10.4-6.6 10.4-9 5.2-5.8 10.3-13.6 10.4-16.5 15.6-27.3 5.2-11 15.5-36.4 15.6-45.1 5.2-17 5.2-11.6 5.1-1 5.2 1.6 5.2 2.4 5.2 1.7 5.2-.4 5.2-2.5 5.2-1.6 5.1 4.1 26 87.2 5.2 15.5 10.3 25.3 15.6 34.4 10.4 19.8 20.7 32.6 10.4 15.2 10.4 12.3 15.5 15.7 15.6 14.1 31.1 26.3 5.2 1.2 57.1 0M111.6 270.2l26-1.6 20.7-2.5 15.6-3.1 20.7-5.8 36.3-14 20.8-9.2 20.7-11.3 15.6-10.7 10.4-9.7 5.2-6.2 10.3-14.3 10.4-17.2 15.6-28.2 5.2-10.8 15.5-36.3 15.6-45.5 5.2-17.3 5.2-11.8 5.1-.9 5.2 1.5 5.2 2.4 5.2 1.7 5.2-.4 5.2-2.4 5.2-1.6 5.1 3.3 5.2 14.6 10.4 36.5 15.6 51.2 10.3 26.6 15.6 35.5 10.4 20.8 5.2 8.8 15.5 24.3 10.4 14.7 10.4 11.7 15.5 14.9 46.7 41.1 5.2 .8 57.1 0M111.6 263l15.6-3.2 15.6-5 10.3-4.7 10.4-6.6 5.2-4.3 5.2-5.3 5.2-6.3 15.5-23.3 5.2-5.2 5.2-.3 5.2 4.5 10.4 13.1 5.2 5.3 5.1 3.7 5.2 2.3 5.2 1.2 5.2 .2 5.2-.6 5.2-1.1 10.3-3.6 10.4-5.1 5.2-3.1 10.4-8 5.2-5.1 5.2-6.3 10.3-14.5 10.4-17.5 15.6-28.5 20.7-47.4 15.6-44 5.2-16.6 5.2-11.2 5.1-1 15.6 5.7 5.2-.5 5.2-2.4 5.2-1.7 5.1 1.6 5.2 7.6 5.2 15.9 20.8 69.5 5.2 15.4 5.1 13.1 5.2 12.4 15.6 33.8 5.2 8.9 5.2 7.4 5.2 5.4 15.5 12.3 20.8 13.9 20.7 11.6 20.8 9.2 15.5 5.8 10.4 2.2 10.4 1 20.7 1 20.8 2.9"/><path stroke="#D8891A" d="M111.6 93.6l5.2 1 5.2 2.2 5.2 3.2 15.6 13.6 5.1 4.1 5.2 2.8 5.2 .9 5.2-1.2 5.2-3 5.2-4.7 5.2-6.3 20.7-32 5.2-7.4 5.2-5.9 5.2-4.3 5.2-2.6 5.2-.7 5.1 1.2 5.2 3.1 5.2 5.3 10.4 15.2 10.4 17.3 5.1 6.9 5.2 4.3 5.2 2 5.2 0 5.2-2.3 5.2-4.7 10.4-11.6 15.5-18.8 5.2-5.3 5.2-4.3 5.2-3 5.2-1.9 5.2-.6 5.1 1.1 5.2 2.7 10.4 7.2 15.6 9.9 10.3 5.2 10.4 3.9 5.2 2.5 10.4 2.8 5.2-1.6 5.1-3.8 15.6-13.9 5.2-2.8 5.2-.6 5.2 1.7 5.2 3.9 5.1 5.7 15.6 20.6 5.2 6.2 5.2 5.2 5.2 3.8 5.2 2.7 5.1 1.2 5.2-.7 5.2-2.8 5.2-4.9 5.2-6.9 5.2-8.3 15.5-26.8 5.2-7.4 5.2-5.9 5.2-4.3 5.2-2.8 5.2-.7 5.2 1.9 5.1 4.5 10.4 13.1 10.4 16 5.2 6.6 5.2 5.3 5.2 3.7 5.1 2.1 5.2 .6 5.2-1 5.2-2.1 5.2-2.8 10.4-6.8M111.6 100l5.2-1.9 15.6-7.8 5.2-1.8 5.2-.8 5.1 .2 5.2 1.2 10.4 3.8 10.4 4.7 5.2 1.6 5.2 .5 5.1-.7 5.2-1.9 5.2-3.6 5.2-4.9 20.8-22.3 5.1-4.3 5.2-2.7 5.2-.3 5.2 2.1 5.2 4.2 5.2 6.1 10.3 15.3 5.2 6.5 5.2 5.5 5.2 4.2 5.2 2.4 5.2-.3 10.4-3.9 5.1-3.5 20.8-18.7 10.4-7.2 5.2-2.9 5.1-1.8 15.6-2.6 5.2-1.9 10.4-5.3 15.5-10.4 5.2-2.5 5.2-.5 5.2 .6 10.4 5.2 5.1 3.4 5.2 5.2 5.2 7.1 5.2 8.8 15.6 29.4 5.2 7.4 5.1 4.2 5.2 .6 5.2-3.5 5.2-7.4 5.2-10.1 15.6-38.1 5.1-10.4 5.2-7.8 5.2-4.5 5.2-1.1 5.2 2.2 5.2 5.1 5.2 7.3 10.3 17.3 5.2 7.5 5.2 5.5 5.2 2.6 5.2-.7 5.2-3.3 20.7-18.8 5.2-2.2 5.2-.2 5.2 1.2 5.2 3.1 5.2 4.4 15.5 17.4 5.2 4.6 5.2 3 5.2 .6 5.2-2.2M111.6 89.6l5.2 4.2 15.6 14.6 5.2 3.6 5.2 2.1 5.1 .1 5.2-2.2 5.2-4.6 5.2-6.6 20.8-32.2 5.1-6 5.2-3.7 5.2-1.6 5.2 .8 5.2 3.5 5.2 5.7 5.2 7.1 20.7 31.8 5.2 6.5 5.2 4.5 5.2 2.3 5.2-.1 5.1-3.4 5.2-6.8 5.2-9 15.6-29.6 5.2-7.2 5.2-3.7 5.1-.8 5.2 1.9 5.2 4.3 5.2 5.9 10.4 13.4 5.2 5.4 5.2 3.8 5.1 2.4 5.2 .8 5.2-.9 5.2-2.9 5.2-4.7 15.6-16.2 5.1-4.2 5.2-3 5.2-1.2 5.2 1.5 5.2 3 10.4 9.3 25.9 21 10.4 6.4 5.2 2 5.1 1.3 5.2 .4 5.2-.3 20.8-2.7 15.5 1.8 5.2-.1 5.2-1.3 5.2-3 5.2-4.7 5.2-6.2 5.1-7.4 15.6-24.1 5.2-6.9 5.2-5.6 5.2-3 5.2 .6 5.1 4.7 5.2 8.3 5.2 10.8 15.6 41.6 5.2 11.6 5.2 8.4 5.1 4.6 5.2 .5 5.2-4.1 5.2-7.8 5.2-10.7 10.4-25.9M433.2 127.7l5.2-1.5 5.2-5.2 5.2-8 15.6-30.6 5.1-8.4 5.2-5.7 5.2-2.7 5.2 .3 5.2 3.8 5.2 6.5 5.2 8.4 15.5 29.1 5.2 6.9 5.2 3.9 5.2 .4 5.2-3 5.2-5.9 5.1-8.1 15.6-29.2 5.2-8.6 5.2-7.1 5.2-4.4 5.2-.9 5.1 3 5.2 5.8 5.2 7.6 10.4 19.1 5.2 8.2 5.2 6.6 5.2 4.3 5.1 2.1 5.2 0 5.2-2 5.2-3.4 15.6-12.7"/><path stroke="#1A82D4" d="M111.6 266.3l20.8-1.4 25.9-2.7 15.6-2.6 15.5-3.8 10.4-3.4 41.5-15.3 15.6-6.3 15.5-7.6 10.4-6.4 5.2-3.8 10.4-9.8 5.2-6.2 10.3-14.7 10.4-17.4 15.6-28.3 5.2-10.5 15.5-35.5 15.6-45 5.2-17.1 5.2-11.7 5.1-.6 15.6 6 5.2-.5 5.2-2.6 5.2-1.9 5.1 1.6 5.2 9.3 26 85.1 5.2 14.7 10.3 24.9 15.6 35.3 5.2 9.1 5.2 6.2 5.2 3.6 20.7 7.6 5.2 2.7 41.5 29 25.9 17 10.4 5.3 10.4 4.6 41.5 16.8"/><path stroke="#D8891A" d="M402.1 62.8l5.2-.6 5.2 1 15.5 10.6 5.2 5.2 5.2 6.6 5.2 7.7 15.6 26 5.2 7.4 5.1 5.5 5.2 3.1 5.2 .4 5.2-2.3 5.2-4.6 5.2-6.6 20.7-33.8 5.2-7.5 5.2-6.4 5.2-4.8 5.2-2.9 5.2-.8 5.1 1.4 5.2 3.4 5.2 5.1 15.6 18.8 15.5 17.2 5.2 4.6 5.2 2.8 5.2 1.8 5.2 0 5.2-2.4 5.2-4.3 5.2-5.7 15.5-20.2 5.2-5.9 5.2-4.3 5.2-2.8 5.2-1.1M111.6 144.9l10.4 6.1 5.2 1.7 5.2 .3 5.2-1.2 5.2-2.8 5.1-4.4 5.2-5.8 15.6-22.6 5.2-6.8 5.2-5.5 5.2-3.8 5.1-1.6 5.2 .8 5.2 2.6 5.2 4.5 5.2 6.3 15.6 22.1 5.1 6.1 5.2 4.6 5.2 3.2 5.2 1.6 5.2-.4 5.2-2 5.2-3.2 5.1-5.1 15.6-21.6 10.4-12.6 5.2-3.9 5.2-1.2 5.1 .7 5.2 2.3 5.2 3.7 15.6 14.2 5.2 3.7 5.2 2.6 5.1 1.8 5.2 .9 5.2-.2 5.2-1.4 10.4-4.7 5.2-1.6 5.2-.7 5.1 1 5.2 2.6 5.2 4.5 5.2 7 10.4 17.1 5.2 7.2 5.1 5.2 5.2 3.5 5.2 1.6 5.2-.6 5.2-2.8 5.2-4.6 5.2-6.3 15.5-22.4 5.2-6.4 5.2-5.1 5.2-2.6 5.2-.1 5.2 2.4 5.2 5.3 5.1 7.8 15.6 28.4 5.2 8 5.2 5.9 5.2 3.4 5.1 .5 5.2-2.5 5.2-5.5 5.2-8.2 5.2-10.3 10.4-23.7 5.2-10.1 5.1-7.1 5.2-3.9 5.2-.8 5.2 3.1 5.2 6.3 5.2 8 15.5 28.9 5.2 8.6 5.2 6.7 5.2 4.6 5.2 2.1 5.2-.4 5.2-3"/><path stroke="#1A82D4" d="M111.6 233.3l5.2-6.3 5.2-7.4 15.6-27.7 5.2-7.1 5.1-1.7 5.2 4.5 15.6 25.5 5.2 6.6 5.2 5.1 5.2 3.7 5.1 2.4 5.2 1.4 5.2 .3 5.2-.5 5.2-1.2 5.2-2 5.2-2.8 5.2-3.5 5.1-4.5 15.6-15.6 5.2-2.7 5.2 .3 10.3 5.5 5.2 2.2 5.2 .9 5.2-.5 5.2-1.9 5.2-3.4 5.2-4.7 5.2-5.9 10.3-13.7 5.2-8.1 20.8-36.1 15.5-33.3 5.2-12.1 15.6-43.6 5.2-17.1 5.2-11.6 5.1-.8 15.6 6.1 5.2-.4 5.2-2.3 5.2-1.6 5.1 2.6 5.2 12.4 20.8 70.1 5.2 16.6 5.2 14.1 5.1 12.5 20.8 46.1 5.2 9.4 5.2 7.4 5.2 6 10.3 10.5 20.8 19.4 20.7 17.8 20.8 15.9 5.2-100.4 5.1 107.7 15.6 10.1 41.5 23.6 15.6 .3"/><path stroke="#D8891A" d="M111.6 132.1l10.4-12.5 5.2-4.2 5.2-2.3 5.2-.1 5.2 1.9 15.5 10.5 5.2 2.7 5.2 1.9 5.2 1.1 5.2-.1 5.2-1.1 10.3-4.2 15.6-9.4 10.4-5 5.2-1.8 5.1-1 5.2-.2 5.2 1.2 5.2 2.7 5.2 3.6 5.2 5 10.3 11.4 5.2 4.2 5.2 3 5.2 1.6 5.2-.4 5.2-3.1 10.4-9 15.5-16.3 5.2-4.5 5.2-3.4 5.2-2.3 5.2-1.5 5.2-.8 5.1 .5 5.2 1.5 15.6 6.6 5.2 2.7 10.4 6.9 15.5 12.2 5.2 4.8 10.4 7.8 5.2 .9 5.1-1.5 5.2-2.7 10.4-6.8 5.2-2.7 5.2-1.2 5.2 .5 5.2 2.3 5.1 3.6 10.4 9 5.2 3.7 5.2 3.1 5.2 1.7 5.2 .1 5.2-1 5.1-2.4 5.2-3.7 5.2-4.8 15.6-17.1 5.2-4.3 5.1-2.7 5.2-.9 5.2 .8 5.2 2 5.2 2.7 10.4 5.9 15.5 11.9 10.4 5.4 5.2 1.3 5.2-.9 5.2-2.2 15.5-10.3 5.2-2.8 5.2-1.4 5.2 .2 5.2 1.7 5.2 3.1M111.6 151.4l5.2-3.5 5.2-5.7 20.8-31.3 5.1-6.4 5.2-4.7 5.2-3.1 5.2-1 5.2 1.2 5.2 3.4 5.2 4.9 15.5 17 5.2 3.7 5.2 1.8 5.2 .1 5.2-1.8 5.2-3.7 5.2-5.2 10.3-12.3 5.2-5.2 5.2-3.9 5.2-2.3 5.2-.2 5.2 1.9 10.3 5.9 15.6 10.7 5.2 1.7 10.4 1.4 5.1-.9 5.2-2.1 20.8-12.3 10.4-4.7 5.1-1 15.6-.3 31.1-6 5.2-.3 10.4 2.9 15.5 9 5.2 4.3 5.2 5.8 5.2 7 10.4 15.6 5.2 6.7 5.2 4.8 5.1 2.1 5.2-1.1 5.2-4.3 5.2-7.1 15.6-27.2 5.2-6.6 5.1-3.4 5.2 .2 5.2 3.8 5.2 6.9 5.2 9.4 15.5 32.3 5.2 8.5 5.2 5.5 5.2 1.7 5.2-2.7 5.2-7.1 5.2-10.5 15.5-37.2 5.2-10.8 5.2-7.6 5.2-3.6 5.2-.1 5.2 4.3 5.2 8.4 5.1 11.8 15.6 43.7 5.2 12.5 5.2 8.9 5.2 4.2M111.6 151.2l5.2-2 5.2-3.4 5.2-4.6 10.4-11.2 20.7-24.3 10.4-10.3 5.2-3.6 5.2-2.5 5.2-1.3 5.1 .1 5.2 1.5 5.2 2.4 5.2 3.3 5.2 4.5 20.7 20.7 10.4 8.8 5.2 3.8 5.2 3 5.2 2 5.2 1.2 5.1-.8 5.2-3.2 5.2-4.7 10.4-11.9 10.4-13.4 5.2-4.4 5.1-3.3 5.2-2 5.2-.5 5.2 .7 5.2 1.6 10.4 4.6 10.3 3.9 10.4 3 5.2 .3 20.8-2.9 10.3 .4 5.2 1.1 10.4 5.4 5.2 3.3 5.2 1.3 5.1-.5 5.2-1.2 5.2-1.9 15.6-7.5 10.4-3.9 5.1-1 5.2-.2 5.2 .4 5.2 1.1 5.2 2.2 5.2 3 5.2 3.6 15.5 14 5.2 3.8 5.2 2.6 5.2 1.2 5.2-.1 5.2-1.5 5.1-2.3 10.4-6.5 15.6-11.1 5.2-3.1 5.2-1.4 5.1 .7 5.2 2 5.2 2.9 15.6 12.8 5.2 3.4 5.2 2.6 5.1 1.8 5.2 1.2 10.4 .2 5.2-.5 10.4-2.5"/><path stroke="#1A82D4" d="M111.6 256.2l20.8-2.4 20.7-3.5 15.6-3.2 20.7-5.3 26-8.1 25.9-7.3 20.8-7.1 20.7-8.5 10.4-6.2 5.2-4 5.2-5 10.3-12.3 10.4-15.5 15.6-26.6 5.2-10.8 15.5-36.4 15.6-46.1 5.2-17.6 5.2-12.1 5.1-1.2 5.2 1.3 5.2 2 5.2 1.4 5.2-.7 5.2-2.7 5.2-1.9 5.1 1.6 5.2 8.6 26 86.1 5.2 15.2 10.3 25.5 5.2-18.4 5.2 41.9 5.2 11.7 10.4 21.1 10.3 18.3 10.4 17.2 10.4 14.6 10.4 11.2 15.5 15.2 36.3 33 5.2 .6 62.3 0"/><path stroke="#D8891A" d="M111.6 94.8l5.2-4.4 5.2-2.3 5.2-.2 5.2 1.8 5.2 3.5 15.5 13.3 5.2 2.8 5.2 1.1 5.2-.4 5.2-1.8 5.2-3.2 15.5-13.3 5.2-4.1 5.2-3.1 5.2-1.5 5.2 0 5.2 1.3 5.2 2.4 20.7 12.1 5.2 1.7 5.2 .6 5.2-.7 5.1-2.8 5.2-5 10.4-12.2 10.4-11.2 5.2-3.2 5.2 .1 5.1 2.4 5.2 4.6 5.2 6.6 15.6 23.8 5.2 6 5.2 3.8 5.1 1.6 5.2-.8 5.2-3.5 5.2-6.2 20.8-35.3 5.1-6.3 5.2-4.1 5.2-1.2 5.2 2.4 5.2 4.5 31.1 38.9 10.4 10.7 5.2 3.7 5.2 2.3 5.1 .8 5.2-.6 5.2-2 20.8-11.4 5.2-1.7 20.7-2.7 5.2-1.5 5.2-2.2 5.2-2.8 10.3-6.9 26-20.8 5.2-2.3 5.1 .1 5.2 2.2 5.2 4.2 5.2 7.3 5.2 9.9 5.2 11.2 15.5 38.1 5.2 10.9 5.2 7.7 5.2 4 5.2-.2 5.2-4.8 5.2-9.1M111.6 169.6l5.2-8.8 15.6-30.5 5.2-8.6 5.2-6.6 5.1-4.2 5.2-1.8 5.2 .4 5.2 2.4 5.2 4.1 10.4 10.4 5.2 4.6 5.1 3.4 5.2 1.6 5.2-.7 5.2-3 5.2-4.3 15.6-16.9 5.1-4.6 5.2-3 5.2-.6 5.2 1.6 5.2 3.3 5.2 5 10.3 12 5.2 4.7 5.2 3.8 5.2 2.8 5.2 1.6 5.2-.5 10.4-3.5 5.1-3.1 20.8-17 5.2-3 5.2-2 5.2-.7 5.1 1.4 5.2 3.3 15.6 13.6 5.2 3.7 5.2 3 5.2 1.4 5.1 .2 5.2-1.4 15.6-6.3 5.2-1.6 10.3-5.6 5.2-1.6 5.2 .4 5.2 2.4 5.2 4.6 5.2 6.4 15.5 22.7 5.2 6 5.2 3.9 5.2 1.4 5.2-.9 5.2-3.4 5.2-5.6 20.7-28.4 5.2-6 5.2-4.4 5.2-2.5 5.2-.6 5.1 1.3 5.2 2.8 15.6 11.3 5.2 2.1 5.2 .9 20.7 1 5.2 1.6 10.4 6.4 5.2 4.7 15.5 16.4 5.2 4.4 5.2 2.9 5.2 1.2 5.2-1 5.2-3.1M111.6 125.1l10.4 4 5.2 1 5.2 .1 5.2-.8 5.2-2 5.1-3.3 5.2-4.5 5.2-5.8 15.6-20.4 10.4-11.8 5.1-4.2 5.2-2.6 5.2-1.3 5.2 .3 5.2 2 5.2 3.5 20.7 19 10.4 8.5 5.2 2.7 5.2 1.6 5.2 .5 5.1-1.5 5.2-3.8 10.4-10.8 10.4-12 5.2-4.8 5.2-2.3 5.1-.6 5.2 1.2 5.2 3.1 5.2 4.6 15.6 18.8 10.3 10.4 5.2 3.7 5.2 1.9 5.2-.6 5.2-3 5.2-4.9 5.2-6.1 15.5-20.5 5.2-5.2 5.2-2.6 5.2-1.1 10.4 3 5.1 2.5 5.2 4.3 5.2 6.1 5.2 7.8 15.6 27.9 5.2 7.9 5.1 5.7 5.2 3 5.2-.4 5.2-3.8 5.2-6.4 5.2-8.8 15.5-31.6 5.2-9.3 5.2-7.7 5.2-5.6 5.2-3.2 5.2-.4 5.2 2.4 5.1 5 5.2 7.2 15.6 26.6 5.2 7.2 5.2 5.4 5.2 3.7 5.1 2.1 5.2-.2 5.2-3 5.2-4.5 5.2-6.1 15.6-24.4 5.1-6.7 5.2-4.3 5.2-1.8 5.2 1.5 5.2 4.9 5.2 7.8 5.2 10.1"/><path stroke="#1A82D4" d="M111.6 273.5l20.8-1.7 25.9-3.3 20.8-4.4 15.5-4.6 36.3-14.2 20.8-8.9 20.7-10.7 10.4-6.6 5.2-3.8 10.4-9.8 5.2-6.2 10.3-14.6 10.4-17.5 15.6-28.5 5.2-11 15.5-36.7 15.6-45.6 5.2-17.3 5.2-11.8 5.1-1.2 5.2 1.4 5.2 2.2 5.2 1.6 5.2-.6 5.2-2.5 5.2-1.6 5.1 3.5 5.2 15.3 5.2 19 15.6 52.5 5.2 16.2 5.2 13.8 20.7 47.7 5.2 10.1 5.2 8.5 5.2 6.2 5.2 5 10.3 8.5 31.1 23.3 20.8 14.5 25.9 16.3 10.4 5 10.4 3.8 25.9 7.6 20.8 6.8M111.6 247.1l15.6-3.4 10.4-3.8 5.2-2.8 5.1-3.5 5.2-4.8 10.4-13 5.2-5 5.2 .4 10.4 9.3 5.1 3.3 5.2 1.7 5.2 .4 5.2-.2 31.1-4 10.4-1.9 10.4-2.5 10.3-2.9 10.4-3.6 10.4-4.9 5.2-3.4 5.2-4 5.2-5.1 10.3-12.4 10.4-15.7 15.6-27.1 5.2-11 15.5-36.8 15.6-46.1 5.2-17.5 5.2-11.9 5.1-1.1 5.2 1.4 10.4 4 5.2-.5 5.2-2.4 5.2-1.5 5.1 3.9 5.2 16.1 5.2 19.2 15.6 52.7 5.2 16.2 5.2 13.8 20.7 48.6 5.2 10.6 5.2 9.2 5.2 7.2 15.5 17 20.8 19.5 31.1 25.8 25.9 20.3 10.4 7.4 25.9 16.4 5.2 1.1 26 0M111.6 273.4l20.8-2.6 15.5-3 10.4-2.5 26-7.4 41.5-13.7 15.5-6.2 15.6-7.7 15.5-9.6 10.4-8.2 10.4-11 15.5-21.1 5.2-7.6 20.8-33.6 10.4-20.2 15.5-33.5 15.6-41.9 5.2-17 5.2-11.6 5.1-1.1 5.2 1.4 10.4 3.9 5.2-.5 5.2-2.5 5.2-1.6 5.1 4.9 10.4 37.9 15.6 52.3 5.2 15.4 10.3 25.8 15.6 35.7 5.2 10 5.2 7 5.2 3.3 5.2 .9 20.7-2.7 5.2 .7 15.5 7.1 41.5 22.1 5.2 2.4 10.4 3.4 15.6 2.2 41.5 1.4M111.6 265.6l26-2.3 25.9-3.3 20.8-4 15.5-4.1 36.3-11.9 20.8-8.7 10.3-5.1 10.4-6 10.4-7.1 5.2-4.5 5.2-5.2 5.2-6.1 10.3-14.4 10.4-17.2 15.6-28 5.2-11 15.5-36.2 15.6-45 5.2-17.1 5.2-11.8 5.1-1.1 5.2 1.6 5.2 2.4 10.4 7.2 5.2-1.3 5.2-3.7 5.1-2 5.2 3 5.2 12.4 26 85.9 10.3 26.7 15.6 36.2 10.4 22.3 5.2 9.3 10.3 16.4 10.4 14.9 5.2 6.3 10.4 10.7 15.5 14.1 41.5 34.5 5.2 4.1 5.2 3.3 51.9 0"/><path stroke="#D8891A" d="M111.6 133.6l5.2 3.6 5.2 2.1 5.2 .3 5.2-1.5 5.2-3.2 5.2-4.5 5.1-5.8 15.6-20.2 5.2-5.8 5.2-4.2 5.2-2.8 5.2-1.1 5.1 .5 5.2 1.9 20.8 10.3 5.2 1.3 5.2 .3 5.1-.8 10.4-3 10.4-1.6 5.2 .4 31.1 9.5 15.6 .5 5.1-.5 10.4-3.1 26-12.2 5.1-.8 5.2 .7 5.2 1.9 10.4 6 10.4 7.9 10.3 6.9 5.2 2.1 10.4 1.2 5.2-1.3 5.2-2.4 5.2-5.6 15.5-23.2 5.2-5.6 5.2-2.8 5.2 .6 5.2 4.2 5.2 7.6 5.1 10.1 10.4 23.1 5.2 10.3 5.2 8.7 5.2 5.7 5.2 2.1 5.2-1.2 5.1-4.7 5.2-8 5.2-10.8 15.6-38.4 5.2-10.3 5.1-6.9 5.2-2.8 5.2 1.5 5.2 5.6 5.2 8.7 5.2 10.5 15.5 34.6 5.2 8.4 5.2 4.4 5.2 .6 5.2-3.5 5.2-8 5.2-11.2 10.3-26.2 5.2-11.7 5.2-9.4 5.2-5.7 5.2-1.5 5.2 2.5 5.2 6.1"/><path stroke="#1A82D4" d="M111.6 249.4l26-1.7 20.7-1.9 15.6-2.5 15.5-3.3 20.8-6 25.9-6.4 10.4-3.1 15.6-5.8 10.3-4.4 15.6-8.4 10.4-8 5.2-5.2 10.3-12.4 10.4-15.4 15.6-26.1 5.2-10.5 15.5-35.7 15.6-45.2 5.2-17.2 5.2-11.9 5.1-.9 5.2 1.8 5.2 3.2 5.2 6.3 10.4 1.7 5.2-6.6 5.1 1.4 5.2-3.6 5.2 6.5 26 84.6 5.1 15 5.2 13 20.8 47.3 5.2 10.5 5.2 9.1 5.1 7.5 15.6 18.9 10.4 10.8 10.3 9.8 20.8 17.9 36.3 29.6 20.8 15.1 5.1 2.6 31.2 0"/><path stroke="#D8891A" d="M111.6 110.3l26 1.7 5.2-.4 5.1-1 5.2-1.9 5.2-2.9 20.8-13.9 10.3-5.5 10.4-3.8 5.2-1.6 5.2-.8 10.4-.2 15.5 1.5 26 8 5.1 .5 5.2-1.1 5.2-2.2 10.4-5.7 10.4-6.8 5.2-1.5 5.1-.7 5.2 0 5.2 .8 15.6 4.4 5.2 .8 10.3-.1 5.2-.7 5.2-1.9 5.2-4 5.2-6.7 10.4-18.6 5.2-8.2 5.1-3.2 5.2 2.6 5.2 7.5 10.4 20.8 5.2 9.3 5.2 6.4 5.1 4.3 10.4 6.4 5.2 2.3 10.4 3.2 10.4 1.5 10.3 .1 41.5-6 5.2-1.1 10.4-4.1 20.7-11.2 20.8-9.5 5.2-1.9 5.2-.6 5.1 .9 10.4 4.7 15.6 11.5 5.2 3.1 5.2 2.2 5.1 1.6 5.2 .8 5.2-.1 10.4-1.3 10.4-2.4M433.2 96.9l5.2 8 5.2 9.7 15.6 33.9 5.2 9.9 5.1 7.5 5.2 4.6 5.2 1 5.2-2.6 5.2-5.8 5.2-8.6 5.2-11 15.5-35.9 5.2-10.8 5.2-9 5.2-6.7 5.2-3.7 5.2-.6 5.1 2.8 5.2 6 5.2 8.4 20.8 42.2 10.3 17.7 5.2 6.2 5.2 3 5.2 .5 5.2-2.4 5.2-6.2 5.2-8.8 20.7-46.4 5.2-9.3 5.2-6.7 5.2-3.5 5.2-.3M111.6 169.7l5.2-2.8 10.4-7.9 36.3-33.2 5.2-3.7 5.2-2.8 10.4-3.9 5.1-1.1 10.4-.5 5.2 .2 10.4 2 20.7 5.7 5.2 2.1 20.8 10.2 5.1 1 5.2-1.1 5.2-3.2 5.2-5.4 5.2-7.9 5.2-11.3 15.5-41.9 5.2-12.8 5.2-9.1 5.2-3.9 5.2 1.9 5.2 7 15.5 32.5 5.2 9.4 5.2 6.8 5.2 3.7 5.2 1.3 15.6-1.5 5.1 .1 5.2 .7 5.2 1.7 10.4 7.2 5.2 4.3 5.2 2.4 10.3 1.1 15.6 .1 25.9 3.7 26 .3 15.5 1.7 10.4 .1 10.4-1.6 15.5-4.2 10.4-4.1 15.6-9.2 5.2-2.1 5.1-.7 10.4 1.6 15.6 7.4 10.4 3.2 10.3 1.7 15.6 .5 10.4-.5M111.6 125.4l5.2 2.4 5.2 1.4 5.2 .3 5.2-1.1 5.2-2.2 5.2-3 20.7-15.7 5.2-3 5.2-1.8 5.2-.8 5.2-.1 15.5 2.4 10.4 0 5.2-1 5.2-1.8 15.5-8.7 5.2-2 5.2-.6 5.2 .8 5.2 2.6 15.5 13.9 10.4 8.3 5.2 2.6 5.2 .3 5.2-1.1 5.2-2 5.1-3.7 5.2-5.1 15.6-17.5 5.2-4.4 5.2-3.1 5.2-1.3 5.1 1.2 5.2 3.8 5.2 5.6 15.6 19.3 5.2 5.8 5.2 4 5.1 2.4 5.2 .3 10.4-3.4 10.4-6.8 10.3-11.2 5.2-4.3 5.2-1.7 5.2 1.5 5.2 5.1 5.2 8.4 15.5 34.3 5.2 9.3 5.2 5.8 5.2 1.6 5.2-2.6 5.2-6.8 5.2-10.4 15.5-38.5 5.2-11.6 5.2-9.3 5.2-6.2 5.2-2.6 5.2 .8 5.1 4.1 5.2 6.6 10.4 16.1 5.2 7.1 5.2 4.8 5.2 2.5 5.2 .7 5.1-.7 5.2-2.3 10.4-7.2 10.4-6 5.2-1.8 5.2-.3 5.1 1.2 5.2 2.8 15.6 11.9 5.2 3.4 5.2 2.2"/><path stroke="#1A82D4" d="M111.6 254.6l10.4-4.2 10.4-5.7 10.4-7.6 5.1-4.8 5.2-5.5 5.2-6.5 5.2-7.6 15.6-26.4 5.2-5.8 5.1-.6 5.2 4.8 15.6 23.5 5.2 6 5.2 4.6 5.2 3.5 5.1 2.4 5.2 1.5 5.2 .8 5.2 .1 10.4-1.3 5.2-1.4 10.3-3.8 10.4-5.3 5.2-3.4 10.4-9 5.2-5.9 10.3-14.1 10.4-17.1 15.6-28.3 5.2-10.9 15.5-36.5 15.6-45.6 5.2-17.2 5.2-11.8 5.1-1.1 5.2 1.6 5.2 2.3 5.2 1.8 5.2-.4 5.2-2.4 5.2-1.5 5.1 3.6 5.2 15.1 10.4 36.7 15.6 51.2 10.3 26.6 15.6 35.8 10.4 20.8 5.2 8.9 15.5 24.5 10.4 14.8 10.4 11.8 15.5 14.7 15.6 13.4 31.1 25 5.2 1.1 57.1 0"/><path stroke="#D8891A" d="M111.6 135.4l10.4-8.1 15.6-13.9 10.3-7.9 10.4-6.2 5.2-2.3 5.2-1.5 5.2-.4 5.2 .4 5.2 1 25.9 9.3 10.4 2.5 5.2 .4 15.5-.3 5.2 .5 5.2 .5 15.5 3.4 5.2-.2 15.6-2.8 10.4-4 15.5-1.8 20.8-1.1 5.2-1 20.7-7.3 15.6-7.8 5.2-1.2 5.2-.4 5.1 1.3 5.2 2.4 5.2 3.8 10.4 12 5.2 6.7 5.2 4.6 5.1 2.5 5.2 1.2 5.2-.2 5.2-1.6 5.2-2.8 5.2-3.9 5.2-4.8 20.7-22.6 5.2-4.9 5.2-3.5 5.2-1.9 5.2-.2 5.2 2.2 5.1 4.5 5.2 6.2 5.2 7.5 20.8 34.2 5.1 7.6 5.2 6.2 5.2 4.3 5.2 1.9 5.2-1 5.2-4.1 5.2-6.7 10.3-16.9 15.6-28.7 10.4-16.4 5.2-6.6 5.2-4.9 5.1-2.5 5.2 .2 5.2 2.8 5.2 5.7 5.2 8.4 10.4 22.6"/><path stroke="#1A82D4" d="M111.6 249.1l20.8-2.3 25.9-4.5 31.1-6.7 20.8-5.3 36.3-7.5 20.7-6.2 10.4-4 10.4-5.1 5.2-3.5 5.2-4.1 5.2-5.2 10.3-12.5 10.4-15.8 15.6-26.9 5.2-10.9 15.5-36.6 15.6-45.7 5.2-17.3 5.2-11.9 5.1-1.1 5.2 1.4 5.2 2.3 5.2 1.6 5.2-.5 5.2-2.5 5.2-1.7 5.1 1.5 5.2 7.4 5.2 15.5 20.8 69.3 5.2 15.3 10.3 25.4 15.6 34.7 5.2 10 5.2 8.3 5.2 6.4 5.1 5.2 31.2 28.4 25.9 21.6 31.1 24.1 20.8 13.5 25.9 14.8 5.2 1.8 10.4 0M111.6 269.1l36.3-3.2 20.8-3 20.7-4.7 31.2-9.7 20.7-7.7 15.6-7.6 10.3-6 10.4-6.7 10.4-7.7 5.2-4.7 5.2-5.2 5.2-6.2 10.3-14.3 10.4-17.2 15.6-28.1 5.2-11.1 15.5-36.8 15.6-45.4 5.2-17 5.2-11.6 5.1-1.1 5.2 1.6 10.4 4.3 5.2-.3 5.2-2.2 5.2-1.3 5.1 1.5 5.2 6 5.2 14.1 20.8 70.1 5.2 15.9 5.1 13.6 5.2 12.4 15.6 33.5 5.2 8.8 5.2 6.8 5.2 4.5 10.3 5.5 41.5 18.4 36.3 14.2 10.4 3.1 5.2 .8 10.4 .3 25.9-2.6 15.6-1"/><path stroke="#D8891A" d="M111.6 111.7l10.4-18.2 5.2-7.6 5.2-5.7 5.2-3.4 5.2-.8 5.1 1.5 5.2 3.4 5.2 4.6 15.6 16.8 5.2 4.6 5.2 3.2 5.1 1.7 5.2 .2 5.2-1.6 10.4-6.7 15.6-12.1 5.1-3.3 5.2-2.6 5.2-1.2 5.2 .3 5.2 1.2 5.2 2.3 10.3 5.9 5.2 1.6 5.2 .8 5.2 .3 5.2-.6 10.4-4 10.3-2.2 5.2-.6 5.2 .2 5.2 .9 15.6 5 5.2 .8 5.1 .3 5.2-.8 5.2-2.3 5.2-4.2 5.2-6.1 15.6-21.3 5.1-5.4 5.2-3.6 5.2-1 5.2 2.6 5.2 4.9 15.5 24.4 15.6 28.1 5.2 8 5.2 6.2 5.2 3.5 5.2 .3 5.1-3.3 5.2-6.4 5.2-9.3 15.6-32.5 5.2-8.3 5.2-4.8 5.1-.7 5.2 3.3 5.2 6.7 5.2 9.4 15.6 35 5.1 10.3 5.2 7.7 5.2 4.3 5.2 .2 5.2-4.3 5.2-8.6 5.2-11.8 10.3-25.8 5.2-11.8 5.2-10.2 5.2-7 5.2-4 5.2-1.7 5.2 1.1 5.2 3.3 5.1 5.6 10.4 16 10.4 18.2 5.2 7.9 5.2 6.1M111.6 158.8l10.4-12.8 5.2-5.8 5.2-4.6 5.2-3.1 5.2-1.4 5.1 .2 5.2 1.4 5.2 2.2 15.6 9.2 5.2 2.8 5.2 2 5.1 1.2 5.2 .2 5.2-1 5.2-2.1 10.4-5.7 15.5-10.2 5.2-2.8 5.2-1.4 5.2-.1 5.2 .9 5.2 2.3 10.3 6.7 15.6 7 5.2 1.6 20.7 1.3 10.4-.7 15.6-3 15.5-5.9 15.6-5 10.4-4.2 5.2-1.4 5.2-1.1 5.1-.1 5.2 .5 5.2 1.5 10.4 6.9 5.2 4.6 5.2 3 36.3 11.6 10.3 2.2 5.2 .1 5.2-1.2 5.2-2.4 5.2-3.1 15.6-12 5.1-3.2 5.2-2.5 5.2-1.5 5.2-.5 5.2 .9 5.2 2.2 5.2 3.7 5.1 4.9 15.6 17.7 5.2 4.7 5.2 3 5.2 1.4 5.2 .3 5.1-.6 5.2-2 5.2-3.6 10.4-9.4 15.6-18.5 5.1-4.7 5.2-3 5.2-1 5.2 1.2 5.2 3.6 5.2 5.3 5.2 6.6M111.6 105.7l10.4 16.3 5.2 6.3 5.2 4.3 5.2 2 5.2-.6 5.1-3.2 5.2-5.6 5.2-7.7 15.6-27.3 5.2-8 5.2-6.5 5.1-4.6 5.2-2.5 5.2-.9 5.2 .5 5.2 1.8 10.4 5.3 5.2 2.3 5.1 1.6 20.8 3.1 5.2 1.2 20.7 8 10.4 5.7 15.6 7.5 5.1 1.9 5.2 .6 5.2-.9 5.2-2.5 5.2-4.2 5.2-5.8 5.2-7.5 15.5-25.1 5.2-6.9 5.2-5.8 5.2-4.3 5.2-2 5.2 .8 5.2 3 5.1 5.4 5.2 7.1 5.2 8.3 15.6 28 5.2 5.4 5.1 2.1 5.2-.4 5.2-2.3 5.2-3.9 10.4-9.2 5.2-3.8 5.2-2.6 5.1-1.1 5.2 .4 20.8 6 5.2 .3 5.2-.7 5.1-1.9 5.2-3.4 5.2-4.8 15.6-18.2 5.2-4.7 5.1-2.8 5.2-.2 5.2 2.6 5.2 5.1 5.2 7.2 5.2 8.4 15.5 29.3 5.2 8.3 5.2 5.4 5.2 2.6 5.2-.9 5.2-5.2 5.2-8.4 15.5-34.6 5.2-10.5 5.2-8 5.2-4.7 5.2-1.2 5.2 2.1M111.6 110.2l15.6-7.7 5.2-2.1 5.2-1.3 5.2-.2 5.1 .5 15.6 3.9 10.4 1.6 5.2-.5 5.2-1.8 5.1-3.1 5.2-4.2 5.2-5.6 15.6-18.9 5.2-5.3 5.2-4 5.1-2.4 5.2-.5 5.2 2 5.2 4.1 5.2 5.8 15.5 21.5 5.2 4.8 5.2 3.1 5.2 1.4 5.2-.7 5.2-3.1 10.4-8.7 15.5-15.6 5.2-4.5 5.2-3.7 10.4-4.7 5.2-1.3 5.1-.1 15.6 2.6 5.2 .1 10.4-1 15.5-2.9 5.2-.3 5.2 1.5 5.2 2.2 5.2 3.7 10.3 6.4 5.2 4.4 5.2 5.7 5.2 6.8 15.6 22.7 5.2 5.4 5.1 2.9 5.2-.2 5.2-3.6 5.2-6.8 5.2-9.2 15.6-33.5 5.1-9.1 5.2-6.9 5.2-4.1 5.2-1.2 5.2 1.8 5.2 4.5 5.2 6.8 15.5 26.3 5.2 7.6 5.2 5.3 5.2 2.4 5.2-.2 5.2-1.9 5.1-3.1 5.2-4.2 10.4-10.2 10.4-8.7 5.2-3.4 5.2-2.3 5.1-1 5.2 .1 15.6 2.4 5.2 0 5.2-1.3M111.6 162l10.4-3.3 5.2-2.4 10.4-5.8 25.9-16.1 5.2-2.7 15.6-5.7 20.7-5.2 5.2-.8 10.4-.2 5.2 .4 10.3 1.8 10.4 4.1 15.6 8.6 5.1 2.3 5.2 1 5.2 .2 5.2-.3 5.2-1.1 10.4-4.6 15.5-5.4 26-7.8 20.7-7.2 15.6-7.6 10.4-3.6 5.1-.6 5.2 .1 5.2 1.2 10.4 5.2 5.2 1.9 5.2-2.4 5.1-7.7 5.2-12.7 10.4-35 5.2-14.5 5.2-6.3 5.2 4.1 5.2 13.5 10.3 37.8 5.2 15.3 5.2 10.1 5.2 5.4 5.2 1.7 5.2-.4 15.5-2.5 36.3-4.5 10.4-2.5 5.2-2 10.4-5.2 5.2-1.5 5.1-.1 10.4 2.7 5.2 3 15.6 10.5 15.5 8.5 5.2 1.9 10.4 2.4 5.2 .3 5.2-.4M111.6 131.8l20.8-8 10.4-4.9 25.9-15.9 10.4-3.6 10.3-1.7 15.6-.8 5.2 .2 10.4 1.6 5.2 1.3 10.3 3.7 26 15.1 5.1 1.8 5.2 .1 5.2-1.1 5.2-1.9 5.2-2.6 10.4-7.3 15.5-6.3 20.8-4.8 15.5-4.9 5.2-1 15.6-1.6 5.2-.3 10.4 .6 15.5 1.8 10.4 4.4 5.2 3.1 5.2 1.8 5.1 .7 31.2 1.9 15.5 1.5 5.2 .1 5.2-.7 5.2-1.2 15.6-6.4 10.3-3.3 26-4.7 10.3-2.4 10.4-3.7 5.2-3 5.2-4.8 5.2-6.4 5.2-8 15.5-27.7 5.2-5.1 5.2 .1 5.2 5.4 5.2 10.3 15.5 38.9 5.2 9.4 5.2 6.7 5.2 4.3 5.2 2.3 5.2 .9"/><path stroke="#1A82D4" d="M111.6 264.3l57.1-7.1 20.7-3.7 10.4-2.6 26-8.2 20.7-7.8 25.9-11.9 10.4-5.9 5.2-3.6 10.4-9.3 5.2-6.1 10.3-14.3 10.4-17.4 15.6-28.5 5.2-11.1 15.5-36.5 15.6-44.9 5.2-17 5.2-11.6 5.1-.9 5.2 1.5 5.2 2.4 5.2 1.7 5.2-.5 5.2-2.5 5.2-1.6 5.1 3.5 5.2 15.3 5.2 18.8 15.6 51.6 5.2 15.9 5.2 13.5 20.7 47.1 5.2 10.5 5.2 8.8 5.2 6.3 5.2 4.8 25.9 19.6 31.1 25.3 31.1 22.7 10.4 6.5 10.4 5.7 46.7 24.2"/><path stroke="#D8891A" d="M111.6 100.3l5.2 4.6 5.2 6 20.8 28.9 5.1 5.3 5.2 3.2 5.2 .5 5.2-2.2 5.2-4.5 5.2-6.5 5.2-8.2 15.5-26.9 5.2-7.6 5.2-6.1 5.2-3.9 5.2-1.6 5.2 .1 5.2 2 5.1 3.6 5.2 5.1 5.2 7 5.2 8.3 15.6 27.1 5.1 6.8 5.2 3.7 5.2 .9 5.2-1.6 5.2-4 10.4-13.1 10.3-11.5 5.2-4.6 5.2-3.4 5.2-2.4 5.2-1.6 20.7-4 26-2.7 10.4 1.2 5.1 1.9 5.2 2.5 5.2 3.5 10.4 11 5.2 6.4 5.2 4.7 5.1 3.2 10.4 5.2 10.4 4 5.2 1.5 5.2 .9 5.2-.1 5.1-1.4 5.2-2.8 5.2-4.5 5.2-6 15.6-20.5 5.2-5.5 5.1-3.9 5.2-2.4 5.2-1 5.2 .3 5.2 1.5 5.2 2.6 5.2 3.6 5.1 4.6 15.6 16.7 5.2 4.8 5.2 3.6 5.2 2.4 5.2 1.6 5.1 1 5.2-.4 5.2-2.3 5.2-3.3 5.2-4.5 15.6-19.3 5.1-5.8 5.2-4.3 5.2-2.8 5.2-.7 5.2 1.3 5.2 3.1 5.2 4.7M111.6 119.4l5.2 4.9 5.2 3.6 5.2 2.1 5.2 .5 5.2-1 5.2-2.5 5.1-4.2 5.2-5.5 5.2-6.8 15.6-23.1 10.4-13.3 5.1-5.1 5.2-3.5 5.2-2.3 5.2-1 5.2 .8 5.2 2.3 5.2 3.2 10.3 8.3 15.6 14.5 10.4 8.6 5.2 3.4 5.1 1.6 5.2-.6 5.2-2.2 5.2-3.4 5.2-4.6 10.4-12 10.3-9.4 5.2-3.9 5.2-2.9 5.2-2.1 5.2-1.1 15.6-.8 15.5 .9 5.2-.5 20.8-5.7 10.3-.7 5.2 .8 10.4 5.7 5.2 4.1 5.2 2.7 15.5 5.5 10.4 4.9 15.6 8.2 5.1 1.8 5.2 .8 5.2-.5 5.2-1.7 5.2-2.5 15.6-9.1 5.1-1.9 5.2-1.1 5.2-.3 5.2 .3 10.4 2.6 5.2 2.1 15.5 7.5 5.2 2.1 5.2 1.4 5.2 .3 10.4-.6 10.3 .3 15.6-1.3 5.2-2 5.2-2.9 5.2-3.8 20.7-17.6 5.2-2.9 5.2-1.8 5.2-.4M111.6 124.6l5.2-3.1 5.2-3.9 15.6-13.7 5.2-3.8 5.1-2.9 5.2-1.9 5.2-1 5.2-.1 5.2 .9 15.6 6.1 10.3 2.9 5.2 0 5.2-1 5.2-1.8 5.2-2.6 5.2-3.4 15.5-12.7 5.2-3.7 5.2-2.8 5.2-1.9 5.2-.7 10.3 2.1 5.2 1.5 5.2 2.3 31.1 19.6 5.2 1.8 5.2 .6 5.2-1 5.2-2.7 5.2-4 5.2-5.7 10.3-12.9 5.2-5.4 5.2-4.1 5.2-2.8 5.2-1.3 5.2 .7 5.2 3 5.2 4.4 10.3 12.7 10.4 15 10.4 13.2 5.2 2.7 5.1-.5 5.2-2.8 5.2-4.5 15.6-17.2 5.2-4.2 5.2-2.5 5.1-.5 5.2 1.6 5.2 3.2 5.2 4.6 20.8 24 5.1 4.7 5.2 3 5.2 .6 5.2-1.9 5.2-4.2 5.2-6.4 5.2-7.9 20.7-36.1 5.2-7.2 5.2-5.7 5.2-2.8 5.2 .8 5.1 4.8 5.2 7.9 5.2 10 10.4 24.5 5.2 10.9 5.2 8.8 5.2 5.6 5.1 2.1 5.2-1.4 5.2-5.2 5.2-8.1 5.2-9.9 10.4-22.5"/><path stroke="#1A82D4" d="M111.6 253.6l10.4-.4 15.6-1.4 36.3-5.4 20.7-4.1 36.3-9.8 15.6-5 20.7-8.6 15.6-7.9 10.4-7 5.2-4.5 5.2-5.4 10.3-12.8 10.4-15.8 15.6-26.7 5.2-10.7 15.5-36.1 15.6-45.3 5.2-17.2 5.2-11.8 5.1-1 15.6 5.3 5.2-.7 5.2-2.6 5.2-1.7 5.1 6.6 5.2 22.2 5.2 19.7 5.2 17.3 10.4 34 5.2 14.5 5.2 12.7 15.5 35.5 5.2 11.3 5.2 9.8 31.1 52.9 10.4 15.2 10.4 11.4 10.3 10.4 15.6 14.3 15.6 13.3 5.1 1.7 72.7 0M111.6 252.7l26-2.8 25.9-4.6 20.8-5.2 31.1-9.2 31.1-7 15.6-4.9 10.3-3.9 10.4-5 10.4-7.1 5.2-4.5 5.2-5.6 10.3-13.3 10.4-16.4 15.6-27.2 5.2-11.1 15.5-36.2 15.6-44.7 5.2-16.9 5.2-11.6 5.1-.8 5.2 1.6 10.4 4.4 5.2-.3 5.2-2.2 5.2-1.3 5.1 5.9 10.4 40.4 15.6 52.5 5.2 15 10.3 25.2 15.6 34.8 5.2 9.8 5.2 8 5.2 6.5 10.3 11 10.4 10.1 10.4 9.3 25.9 20.6 36.3 26.1 15.6 9.4 31.1 17 5.2 1.3 15.6 0"/><path stroke="#D8891A" d="M111.6 162.6l5.2-4.9 5.2-3.6 5.2-1.9 5.2 0 5.2 2 5.2 3.8 15.5 15.2 5.2 4.2 5.2 2.9 5.2 1.4 5.2-.5 5.2-2.5 5.1-4.4 5.2-5.6 15.6-22 5.2-6.5 5.2-5.5 5.2-4.1 5.1-2.4 5.2-.6 5.2 1.6 5.2 3.5 5.2 4.7 10.4 11.5 5.1 4.8 5.2 2.9 5.2 1.2 5.2-.2 5.2-1.7 10.4-7.2 10.3-5.6 5.2-2.2 5.2-1.2 5.2-.4 5.2 .4 10.4 2 10.3 1.2 5.2 .2 5.2-.6 5.2-2.1 5.2-3.4 15.6-13.1 5.1-3.3 5.2-2 5.2 0 5.2 3.2 5.2 5.2 15.5 24.9 15.6 29.8 5.2 8.3 5.2 5.9 5.2 2.6 5.2-1.4 5.1-5.6 5.2-9.4 5.2-12.6 15.6-44.2 5.2-12.1 5.2-8.6 5.1-4.4 5.2-.3 5.2 3.8 5.2 7.1 5.2 9.5 15.5 32.6 5.2 8.6 5.2 5.9 5.2 2.6 5.2-1 5.2-4.4 15.5-20.9 5.2-5.7 5.2-4.6 5.2-2.2 5.2-.1 5.2 .7 5.2 1.7 15.5 6.6 5.2 1.3 5.2 .5 5.2-.1 5.2-1 5.2-1.6"/><path stroke="#1A82D4" d="M111.6 228.1l5.2-6.1 5.2-7.2 15.6-25.7 5.2-5.9 5.1-.8 5.2 4.6 15.6 24.2 5.2 6.5 5.2 5.3 5.2 4.1 5.1 3 5.2 2 5.2 1.3 5.2 .7 10.4 0 15.5-1.5 10.4-1.9 10.4-2.8 10.4-3.6 10.3-4.6 10.4-5.8 5.2-3.7 10.4-9.2 10.3-12.8 10.4-15.2 20.8-36.3 5.2-10.8 15.5-36.3 15.6-45.4 5.2-17.2 5.2-11.9 5.1-1.1 5.2 1.3 10.4 3.9 5.2-.5 5.2-2.5 5.2-1.5 5.1 5.2 10.4 38.6 15.6 52.7 5.2 15.4 5.2 13.3 20.7 47.8 5.2 10.2 5.2 8.5 5.2 6.8 20.7 21.8 25.9 23.9 20.8 17.3 20.7 15.8 10.4 7.4 31.1 18.8 5.2 1.6 26 0M111.6 263.4l20.8-1.9 31.1-3.7 15.6-2.8 15.5-3.9 36.3-12.5 20.8-8.4 15.5-7.4 10.4-5.7 10.4-6.5 5.2-4.1 5.2-4.7 5.2-5.6 10.3-13.3 10.4-16.2 15.6-27.1 5.2-10.7 15.5-36.4 15.6-46.2 5.2-17.5 5.2-12.1 5.1-1.3 5.2 1.3 5.2 2.1 5.2 1.5 5.2-.7 5.2-2.6 5.2-1.8 5.1 1.9 5.2 10.3 26 86.4 5.2 14.6 5.1 12.8 20.8 47 5.2 10 5.2 8.5 5.2 7 20.7 24.2 10.4 10.6 10.3 9.8 26 22 20.7 16.2 10.4 7.5 20.8 13.4 5.1 2.4 31.2 0M111.6 256l20.8-1.4 20.7-2.6 15.6-2.8 20.7-5.2 26-8.5 31.1-9.1 15.6-5.7 10.3-4.4 10.4-5.2 10.4-7.1 5.2-4.5 5.2-5.6 10.3-13.1 10.4-16.3 15.6-27.2 5.2-10.9 15.5-36.3 15.6-45.3 5.2-17.2 5.2-11.8 5.1-1 5.2 1.6 5.2 2.3 5.2 1.7 5.2-.4 5.2-2.4 5.2-1.5 5.1 2.8 5.2 12.8 5.2 18.7 20.8 69.1 10.3 26.9 15.6 35.2 10.4 21.1 25.9 45.3 10.4 14.9 10.4 11.2 10.3 10.3 36.3 34 5.2 1.4 67.5 0"/><path stroke="#D8891A" d="M111.6 79.2l5.2 .4 5.2 2 5.2 3.4 5.2 4.6 15.5 15.4 5.2 3.5 5.2 1.6 5.2-.3 5.2-2 5.2-3.6 5.2-5 20.7-26.2 5.2-5.9 5.2-4.4 5.2-2.7 5.2-.9 5.2 1 5.1 3 5.2 4.8 5.2 6.7 20.8 33.3 5.1 5.7 5.2 2.5 5.2-.2 5.2-2.5 5.2-4.8 20.7-29.5 5.2-6.6 5.2-5.4 5.2-4.1 5.2-2.5 5.2-.9 5.2 .1 5.2 .9 5.1 2.2 10.4 5.6 5.2 1.9 5.2 .9 10.4-.6 15.5-3.9 5.2-.9 10.4 1.6 5.2 2.1 15.5 2.4 5.2 1.9 5.2 3.2 5.2 4.4 20.7 23.5 5.2 4.7 5.2 2.9 5.2 1.1 5.2-.5 5.2-2.1 5.2-3.8 10.3-9.5 20.8-22.7 5.2-4.8 5.2-3.6 5.1-2.1 5.2-.5 5.2 1.1 5.2 2.4 5.2 3.1 10.4 7 5.2 4.4 10.3 10.1 5.2 4.2 5.2 3.9 5.2 2.9 5.2 .9 5.2-.4 5.2-1.6 20.7-9.5 5.2-1.4 10.4-1.4"/><path stroke="#1A82D4" d="M111.6 259l20.8-1.8 20.7-3.1 15.6-3 20.7-5.4 26-8.7 31.1-9.2 15.6-5.3 10.3-4.1 10.4-5 10.4-6.9 5.2-4.4 5.2-5.4 10.3-13.2 10.4-16.2 15.6-27.4 5.2-10.7 15.5-36.5 15.6-46.6 5.2-17.8 5.2-12.3 5.1-1.2 5.2 1.3 5.2 2.1 5.2 1.4 5.2-.7 5.2-2.7 5.2-1.7 5.1 1.9 5.2 10.4 26 87.7 5.2 14.9 5.1 13.2 20.8 48.2 5.2 10.1 5.2 8.3 5.2 6.7 15.5 16.9 20.8 19.3 25.9 21.2 25.9 19.7 10.4 7.3 31.1 19.1 5.2 .4 20.8 0"/><path stroke="#D8891A" d="M111.6 99l5.2 3.3 5.2 5 20.8 26.1 5.1 4.7 5.2 2.4 5.2-.5 5.2-3.2 5.2-5.7 5.2-7.5 15.5-28.2 5.2-8.1 5.2-6.6 5.2-4.4 5.2-1.4 5.2 1.4 5.2 3.7 5.2 5.5 5.1 6.7 15.6 21.4 5.2 5.3 5.2 3.6 5.2 1.5 5.1-1.3 5.2-4.5 5.2-6.6 15.6-23.7 5.2-6.2 5.2-3.1 5.1-.6 5.2 2 5.2 4.5 5.2 6.4 10.4 15.2 5.2 6.5 5.2 4.7 5.1 2.8 5.2 .3 5.2-2.6 5.2-5.6 5.2-8.4 15.6-29.3 5.1-7.6 5.2-5.2 5.2-1.8 5.2 2.6 5.2 5.7 5.2 9.4 10.3 21.5 15.6 37.2 5.2 10.5 5.2 8 5.2 4.4 5.2 .3 5.1-3.9 5.2-7.7 5.2-10.9 15.6-38.9 5.2-10.7 5.2-7.1 5.1-2.9 5.2 1.2 5.2 4.8 5.2 7.8 15.6 29.5 5.1 7.9 5.2 4.9 5.2 1.3 5.2-2.9 5.2-7.1 5.2-11 10.4-26.9 5.1-12.2 5.2-9.9 5.2-6.8 5.2-2.1 5.2 2.6 5.2 6.4 5.2 10.4 5.2 13.3 15.5 46.7 5.2 13.2 5.2 10 5.2 5.6 5.2 .6M433.2 99.8l5.2 5.3 5.2 7.2 5.2 8.8 15.6 30.2 5.1 8.4 5.2 6.1 5.2 3 5.2-.3 5.2-3.3 5.2-6.4 5.2-9 20.7-44.8 5.2-10.1 5.2-8.2 5.2-5.6 5.2-2.4 5.1 1 5.2 4.3 5.2 7.3 5.2 9.6 15.6 32.8 10.3 20.1 5.2 7.5 5.2 4.3 5.2 1.7 5.2-1.6 5.2-5.7 5.2-8.8 5.2-11.2 15.5-37.3 5.2-10.2 5.2-7.3 5.2-4.1 5.2-.5M111.6 101.8l5.2-.1 5.2 1.6 5.2 2.9 15.6 11.7 5.1 2.6 5.2 .9 5.2-1.5 5.2-3.8 5.2-5.5 15.6-19.6 5.1-4.7 5.2-2.4 5.2-.1 5.2 2.4 5.2 5 20.7 29.5 5.2 5.6 5.2 4.2 5.2 2.2 5.2-.2 5.2-2.3 5.2-4.2 5.1-6.7 15.6-27.6 5.2-8.1 5.2-6.9 5.2-4.1 5.2-.4 5.1 2.3 5.2 4.5 20.8 26.8 5.2 4.3 5.2 2.2 5.1 .5 5.2-1.1 5.2-2.6 5.2-4 10.4-9.9 5.2-3.9 5.2-3 5.1-1.1 5.2 .6 5.2 2.5 5.2 4.8 10.4 11.1 5.2 3.1 5.1 .4 5.2-1.6 5.2-3.5 15.6-15.9 5.2-4.2 5.2-2.3 5.1 .3 5.2 3.1 5.2 5.6 5.2 7.7 15.6 30 5.2 9.2 5.1 7.4 5.2 4.7 5.2 1.6 5.2-1.8 5.2-4.8 5.2-7.4 5.2-9.3 20.7-42 5.2-8.7 5.2-7.1 5.2-4.6 5.2-1.2 5.1 2.7 5.2 5.7 5.2 7.4 10.4 18.5 5.2 7.5 5.2 5.4 5.2 2.9 5.1 .5 5.2-1.3 10.4-5.1 5.2-1.6 5.2-.1 5.2 1.8"/><path stroke="#1A82D4" d="M111.6 260.6l20.8-1.8 25.9-3.2 20.8-3.8 15.5-3.9 41.5-12 15.6-5.3 10.4-4.3 10.3-4.9 10.4-6 5.2-3.6 10.4-9.2 5.2-5.9 10.3-14 10.4-17 15.6-28.1 5.2-11 15.5-36.6 15.6-45.2 5.2-17.1 5.2-11.7 5.1-.9 5.2 1.6 5.2 2.4 5.2 1.8 5.2-.5 5.2-2.4 5.2-1.6 5.1 1.9 5.2 9.6 26 85.9 5.2 14.6 5.1 12.7 15.6 34.9 5.2 11.4 10.4 19 5.2 7.6 15.5 20.7 15.6 17.8 15.5 15.3 10.4 9.5 36.3 30.1 15.6 10.9 5.2 1.5 41.5 0M111.6 256.2l26-2.2 31.1-4.7 20.7-4.6 46.7-12.8 15.6-5.1 15.5-6.4 15.6-8.1 10.4-7.4 5.2-4.7 5.2-5.6 10.3-13.3 10.4-16.3 15.6-27.4 5.2-10.8 15.5-36.5 15.6-46 5.2-17.5 5.2-12 5.1-1.1 5.2 1.4 10.4 4 5.2-.5 5.2-2.5 5.2-1.5 5.1 2.2 5.2 10.5 26 88.4 5.2 15 10.3 25.3 15.6 35.4 5.2 9.6 5.2 7.7 5.2 5.8 5.1 5 36.3 31.2 26 20.9 25.9 19.4 20.8 12.3 31.1 16.5 10.4 0M111.6 263.4l15.6-1.4 20.7-3.4 15.6-3.2 20.8-5.5 31.1-9.9 25.9-6.9 15.6-5 15.5-6.3 10.4-5.6 5.2-3.5 10.4-9.2 5.2-6 10.3-14.4 10.4-17.6 15.6-28.8 5.2-11.2 15.5-36.7 15.6-45.1 5.2-17.1 5.2-11.5 5.1-.9 5.2 1.7 5.2 2.5 5.2 1.9 5.2-.3 5.2-2.3 5.2-1.5 5.1 3 5.2 13.5 20.8 71 5.2 16.6 5.2 14 20.7 48 5.2 11 5.2 9.6 5.2 7.8 10.3 12.6 15.6 17 10.4 10.1 15.5 13.7 15.6 12.6 25.9 19.4 10.4 7.1 25.9 16.3 10.4 .3 5.2-179.4 5.2 179.4 10.4 0M111.6 271.1l20.8-2.8 25.9-4.5 20.8-4.9 15.5-4.7 31.2-11.2 20.7-8.8 20.7-10.9 10.4-6.7 5.2-4.1 10.4-10.2 15.5-20.4 10.4-15.9 15.6-25.8 5.2-9.4 15.5-31.9 5.2-11.5 15.6-41.6 5.2-16.9 5.2-11.4 5.1-.7 15.6 6 5.2-.4 5.2-2.5 5.2-1.7 5.1 2.5 5.2 12.1 26 86.4 10.3 26.5 20.8 45.7 5.2 9.7 5.2 8.2 10.3 13.7 15.6 18.8 15.6 15.5 15.5 13.9 36.3 30.7 20.8 15.8 5.2 2.1 41.5 0"/><path stroke="#D8891A" d="M111.6 150.8l5.2 2 5.2 .1 5.2-1.9 5.2-3.8 5.2-5.3 5.2-6.6 20.7-30.8 5.2-6.3 5.2-4.5 5.2-2.7 5.2-.6 5.1 1.3 5.2 3.3 5.2 4.5 5.2 5.5 15.6 18.7 5.2 4.9 5.1 3.5 5.2 2 5.2 .7 5.2-.5 5.2-2.1 10.4-6.6 5.1-4.9 15.6-18.3 10.4-9.3 5.2-2.5 5.2 .1 5.1 1.6 5.2 2.7 20.8 15.8 5.2 2.7 5.2 1.4 5.1 .9 5.2 .1 5.2-.7 5.2-1.7 10.4-5 10.4-3.4 5.1-.1 5.2 .8 5.2 2.1 10.4 9 5.2 5.8 5.2 3.9 5.1 2.5 5.2 1.6 5.2 .8 5.2 .3 20.8-.6 10.3 1.7 10.4 3.7 5.2 2.9 20.7 13.7 5.2 2.4 5.2 .8 5.2-1.3 5.2-3.6 5.2-5.8 5.2-7.8 5.1-9.5 15.6-32.6 10.4-19.8 5.2-6.8 5.2-3.2 5.1 1.1 5.2 5 5.2 8.2 5.2 11.5 15.6 41.1 5.2 12.2 5.1 9.9 5.2 7.2 5.2 3.6 5.2 .1 5.2-3.3 5.2-6.6 5.2-9.3"/><path stroke="#1A82D4" d="M111.6 265.3l26-1.9 20.7-2.5 15.6-3 15.5-4 46.7-15.7 15.6-5.9 20.7-9.8 10.4-6.2 5.2-3.6 10.4-9.2 5.2-5.9 10.3-13.8 10.4-16.5 15.6-27.4 5.2-10.6 15.5-36 15.6-45.7 5.2-17.5 5.2-11.9 5.1-1 5.2 1.4 5.2 2.3 5.2 1.7 5.2-.5 5.2-2.5 5.2-1.6 5.1 2.2 5.2 10.9 26 87.5 5.2 14.6 5.1 12.8 20.8 47 5.2 9.8 5.2 8.1 5.2 6.8 20.7 22.7 15.6 14.6 31.1 26.3 20.7 16.5 10.4 7.5 20.8 12.8 5.1 1.7 31.2 0"/><path stroke="#D8891A" d="M111.6 87.1l5.2-1.6 5.2 .6 5.2 2.6 5.2 4.2 15.5 15.8 5.2 4.1 5.2 2.4 5.2 .7 5.2-.8 5.2-1.8 20.7-12.4 10.4-4.7 5.2-1 5.2-.2 15.5 1.2 10.4 .1 5.2-.4 5.2-1.3 10.4-3.9 5.1-3.1 10.4-7.4 5.2-2.4 5.2-1.1 5.2-.2 5.2 1.7 5.2 4.2 15.5 15.7 5.2 4.3 5.2 2.7 5.2 .6 5.2-2.2 5.2-5 5.1-6.8 5.2-8.1 15.6-27.4 5.2-7.4 5.2-4.5 5.2-1.8 5.1 2.1 5.2 5.3 5.2 8.7 5.2 12.1 10.4 27.8 5.2 12 5.1 8.9 5.2 6.2 5.2 2.8 5.2-.6 5.2-4 5.2-6.9 5.2-9.2 15.5-30.6 5.2-8 5.2-5.7 5.2-2.8 5.2 0 5.2 2.3 5.2 4.6 15.5 19.3 5.2 5.5 5.2 4.2 5.2 2.7 5.2 1.1 5.1-.4 5.2-1.6 10.4-5.7 10.4-7.1 5.2-2.8 5.2-.9 5.1 1.1 5.2 2.7 5.2 3.2 10.4 7.9 5.2 1.9 5.2 .2 5.2-1.8 5.1-3.3 10.4-8.8 5.2-3.7 5.2-2 5.2-.1 5.2 2.1M111.6 147l5.2-3.4 5.2-5 5.2-6.4 5.2-7.7 20.7-34.2 5.2-7.3 5.2-5.7 5.2-3.5 5.2-1.2 5.2 .9 5.2 2.7 5.1 4.5 5.2 5.8 20.8 25.8 5.2 4.9 5.2 3.2 5.1 1.5 5.2-.5 5.2-1.7 5.2-3 15.6-13.4 15.5-16.2 5.2-4.1 10.4-5.2 5.2-.5 5.2 1.8 5.1 2.9 5.2 3.8 20.8 19.4 5.2 3.8 5.2 2.7 5.1 1.9 5.2 .9 5.2-.5 5.2-2.5 5.2-4.5 10.4-13 15.5-22.7 5.2-5.3 5.2-2.2 5.2 .1 5.2 3.2 5.2 4 5.1 5.1 5.2 6.7 5.2 8.2 20.8 38.4 5.2 7.8 5.1 5.6 5.2 2.6 5.2-.7 5.2-4.1 5.2-6.7 5.2-8.9 15.5-29.8 5.2-8.1 5.2-6.5 5.2-4.7 5.2-3 5.2-.9 5.2 .9 5.1 3 5.2 4.9 5.2 6.8 5.2 8.3 20.8 39.2 5.1 8.9 5.2 6.5 5.2 2.8 5.2-.4 5.2-3.9 5.2-7.9 5.2-10.5 20.7-50 5.2-10.1 5.2-7.9 5.2-5.6 5.2-3.2M111.6 130.2l15.6-6 15.6-7.3 25.9-16.7 5.2-2.1 10.4-2.4 20.7-1 5.2 .2 15.6 2.7 10.3 3.5 26 14.8 5.1 1.6 5.2 0 10.4-2.9 5.2-2.4 10.4-6.2 5.2-1.8 31.1-8 15.5-6.8 5.2-1.6 20.8-4.4 10.4-.5 10.3 .5 5.2 .9 10.4 5 5.2 3.6 5.2 2.2 15.5 2.6 36.3 3.7 5.2-.3 10.4-2.5 15.6-6.1 5.1-1.2 10.4-1.1 15.6-.5 10.3-1.4 10.4-3.3 5.2-2.8 5.2-3.9 5.2-5.7 5.2-7.1 20.7-33.6 5.2-4.4 5.2 .4 5.2 4.7 5.2 9.1 15.5 35.7 5.2 9.3 5.2 6.9 5.2 4.7 5.2 2.6 5.2 1M111.6 114.4l15.6 23 5.2 6.5 5.2 4.9 5.2 2.5 5.1-.2 5.2-3 5.2-5.8 5.2-7.9 15.6-26.3 5.2-6.9 5.1-4.7 5.2-2.1 5.2 .3 5.2 2.6 5.2 4.9 15.6 19.5 5.1 5.5 5.2 4 5.2 2.8 5.2 1.3 5.2-.3 10.4-3.2 5.1-3 10.4-7.9 5.2-3.1 10.4-3.9 5.2-.3 5.2 1.8 20.7 10.5 5.2 1.4 5.2 .5 5.2-1 5.2-2.3 25.9-14.8 5.2-1.9 5.2-.5 5.2 .5 5.1 2.3 5.2 3.1 5.2 4.2 15.6 16.4 5.2 2.6 5.1 0 5.2-1.4 15.6-7.1 5.2-.8 5.2 1.1 5.2 3.3 5.1 5.5 5.2 7.3 15.6 24.9 5.2 6.7 5.2 4.3 5.2 1.7 5.1-1.4 5.2-4.8 5.2-8.1 5.2-10.8 15.6-37.9 5.1-9.7 5.2-6.3 5.2-2.2 5.2 2.1 5.2 6 5.2 9.1 5.2 11.6 15.5 42 5.2 10.9 5.2 7.8 5.2 3.7 5.2-1.5 5.2-5.9 5.2-9.6 15.5-36.9 5.2-10.3 5.2-7.2 5.2-3.6 5.2 .1"/><path stroke="#1A82D4" d="M111.6 265.4l20.8-2.2 25.9-4.1 15.6-3.3 15.5-4 57.1-18.9 15.6-6 15.5-7.4 10.4-6.4 5.2-4.1 5.2-4.8 5.2-5.7 10.3-13.8 10.4-16.7 15.6-28 5.2-10.8 15.5-36.7 15.6-46.6 5.2-17.7 5.2-12.1 5.1-1 5.2 1.6 10.4 4.2 5.2-.3 5.2-2.3 5.2-1.4 5.1 2.3 5.2 10.2 26 87.6 5.2 14.8 10.3 25 15.6 35 5.2 8.9 5.2 5.7 5.2 3 20.7 5.2 5.2 2.3 41.5 28.1 25.9 16 15.6 6.6 46.7 16.2M111.6 267.5l15.6-2.8 62.2-12.7 31.2-9.2 20.7-7.1 15.6-6.5 15.5-7.6 10.4-6 5.2-3.6 10.4-9.3 5.2-5.9 10.3-13.9 10.4-16.8 15.6-27.4 5.2-10.7 15.5-35.6 15.6-44.5 5.2-16.9 5.2-11.6 5.1-1 15.6 5.3 5.2-.8 5.2-2.8 5.2-2 5.1 2.1 5.2 11.5 26 86.3 10.3 27.3 15.6 35.9 5.2 11.3 10.4 19.8 15.5 25.3 10.4 15.3 10.4 12 15.5 15.1 41.5 36 5.2 3.8 62.3 0"/><path stroke="#D8891A" d="M111.6 152.2l15.6 8.1 10.4 3.7 5.2 .7 5.1-.3 5.2-1.6 5.2-3.2 5.2-4.6 5.2-5.7 5.2-6.6 15.5-23 5.2-6.8 5.2-5.9 5.2-4.2 5.2-1.9 5.2 .3 5.2 2.2 5.2 3.8 5.1 5 5.2 6 5.2 7 15.6 22.7 5.2 6.7 5.1 4.7 5.2 2 5.2-.4 5.2-2.3 5.2-4.5 20.7-28.3 5.2-6.6 5.2-5.5 5.2-4.2 5.2-2.7 5.2-1.1 5.2 .1 5.2 1.3 5.1 3 5.2 4.2 15.6 14.7 10.4 8.5 10.3 6.7 15.6 6.7 10.4 2.1 5.2-2.2 5.1-4.5 15.6-17.1 5.2-4.6 5.2-3 5.2-1 5.2 1.1 5.1 2.9 20.8 18.2 5.2 4 5.2 3.1 5.2 2.3 5.1 1.4 5.2 0 5.2-1.5 5.2-3 5.2-4.4 5.2-5.7 5.2-6.7 15.5-22.5 10.4-13.7 5.2-5.6 5.2-3.6 5.2-.8 5.1 2.5 5.2 5.1 5.2 6.9 15.6 27.5 5.2 8.1 5.2 6.5 5.1 5 5.2 3.2 5.2 1.4 5.2-.2 5.2-1.2 5.2-2.3 5.2-3M111.6 129.8l15.6-18.2 10.4-11 10.3-8.4 10.4-5.7 5.2-1.5 5.2-.2 5.2 1.3 5.2 2.5 5.2 3.6 15.5 14 10.4 8.3 5.2 3.4 5.2 2.2 5.2 1 5.1-.5 5.2-2 5.2-2.9 5.2-3.8 5.2-4.9 25.9-27.6 5.2-3.4 5.2-1.8 5.2-.5 5.2 1.8 5.2 4.4 5.1 5.6 15.6 19.5 5.2 5.6 5.2 4.5 5.2 2.4 5.2 .3 5.1-1.2 5.2-2.9 5.2-4.5 5.2-6.2 10.4-14.5 5.2-6.1 5.2-4.9 5.1-2.5 5.2-.5 5.2 1 5.2 2.8 5.2 4 5.2 5.6 5.2 4.4 10.3 6.7 10.4 5.8 10.4 4.4 10.4 2.5 5.1 .4 5.2-1.1 5.2-2.6 26-20.7 5.1-3 10.4-5 10.4-4.4 10.4-3.6 10.3-2.3 15.6-2.4 10.4-2.6 5.2-.2 5.1 1.2 5.2 2.3 5.2 2.9 10.4 9.5 10.4 8.3 5.2 2.7 5.1 1.7 5.2 .5 5.2-.9 20.8-7.2"/><path stroke="#1A82D4" d="M111.6 270l20.8-1.6 20.7-3.1 15.6-3.5 20.7-6.1 51.9-20.1 15.6-6.5 15.5-7.4 10.4-6 5.2-3.6 10.4-9.2 5.2-6 10.3-14.2 10.4-17.1 15.6-28.3 5.2-11 15.5-36.6 15.6-45.4 5.2-17.2 5.2-11.8 5.1-1 5.2 1.5 5.2 2.2 5.2 1.6 5.2-.5 5.2-2.6 5.2-1.7 5.1 1.3 5.2 6.6 5.2 14.8 20.8 69.8 5.2 15.8 10.3 26.1 15.6 35.8 5.2 10 5.2 7.4 5.2 4.9 5.1 3.5 15.6 8.5 5.2 3.4 36.3 27.7 31.1 21.6 10.4 5.7 10.4 5 41.5 17.8"/><path stroke="#D8891A" d="M111.6 173l5.2 .9 5.2-.4 5.2-2.1 5.2-3.5 5.2-4.9 5.2-6 20.7-29.6 5.2-6.2 5.2-4.1 5.2-2 5.2 .4 5.1 2.8 5.2 5 5.2 6.2 15.6 21.2 5.2 5.6 5.2 3.9 5.1 2.1 5.2 .4 5.2-.9 5.2-1.7 20.7-10.3 10.4-6.5 15.6-7.3 5.2-2 10.3-1.9 10.4-3 26-11.6 5.1-.8 5.2 .8 5.2 2.3 5.2 3.3 5.2 4.2 5.2 5.2 15.5 18 5.2 5 10.4 7.9 5.2 2 5.2 .7 5.2-3.1 5.1-6.2 15.6-24.3 5.2-6.9 5.2-4.8 5.2-1.9 5.2 1.1 5.1 4 5.2 6 15.6 20.2 5.2 4.8 5.2 2.6 5.2 .7 5.1-1.4 5.2-3.3 5.2-4.7 10.4-10.8 5.2-4.4 5.2-2.7 5.1-.7 5.2 1.3 5.2 2.8 10.4 7.1 5.2 2 5.2 .4 5.2-1 5.1-2.6 5.2-4.6 20.8-28.5 5.2-5.6 5.2-3.1 5.1 .2 5.2 3.6 5.2 6.5 5.2 9.1 15.6 32.4"/><path stroke="#1A82D4" d="M111.6 237.7l10.4-6.7 5.2-4.2 10.4-10.7 10.3-14.4 10.4-17.4 5.2-7.7 5.2-4.3 5.2 .8 5.2 5.1 10.3 13.1 5.2 4.5 5.2 2.2 10.4 1.7 5.2 2.4 15.5 10.9 5.2 2.4 5.2 1.6 5.2 .8 5.2 .1 5.2-.4 10.3-2 10.4-3.6 5.2-2.3 5.2-3 5.2-3.6 5.2-4.4 5.2-5.5 10.3-13 10.4-16.2 15.6-27.1 5.2-11 15.5-36.4 15.6-45.2 5.2-17 5.2-11.6 5.1-1.2 5.2 1.4 10.4 3.8 5.2-.5 5.2-2.5 5.2-1.6 5.1 2.3 5.2 11.5 26 86.6 5.2 14.2 5.1 12.5 15.6 34.7 10.4 20.9 5.2 8.4 5.2 7.3 10.3 13.4 15.6 18.4 20.7 19.8 26 21.3 20.7 15.7 10.4 6.8 15.6 9.8 5.1 1.2 31.2 0M111.6 268.8l20.8-1.8 20.7-3.3 20.8-4.5 20.7-5.6 41.5-13.7 15.6-5.9 10.4-4.6 10.3-5.3 10.4-6.2 5.2-3.7 10.4-9.4 5.2-6 10.3-14.1 10.4-16.9 15.6-27.9 5.2-10.9 15.5-36.4 15.6-45.8 5.2-17.4 5.2-12 5.1-1.1 5.2 1.3 5.2 2.2 5.2 1.5 5.2-.6 5.2-2.6 5.2-1.8 5.1 1.7 5.2 8.7 26 85.9 5.2 15 10.3 25.1 15.6 34.9 10.4 19.8 5.2 8.1 10.3 14.7 10.4 13.8 10.4 11.3 20.7 19.2 41.5 34.8 10.4 8 5.2 2.5 46.7 0M111.6 245.3l41.5-4.5 10.4-1.7 15.6-3.4 31.1-9.9 31.1-7.6 15.6-5 10.3-3.7 10.4-4.5 10.4-6.4 5.2-4.3 5.2-5.2 10.3-11.2 5.2-6.3 20.8-29.9 5.2-9.1 15.5-32.2 5.2-11.9 15.6-42.6 5.2-17.1 5.2-11.8 5.1-1.1 5.2 1.4 10.4 3.8 5.2-.5 5.2-2.5 5.2-1.5 5.1 1.9 5.2 9.8 26 87.1 5.2 14.8 10.3 25.1 15.6 35 5.2 9.5 5.2 7.4 5.2 5.4 5.1 4.4 20.8 15.9 20.7 16.9 15.6 11.8 31.1 22.4 20.8 12.3 41.5 22.5M111.6 266.3l36.3-3.5 20.8-2.9 15.6-3.5 15.5-5.3 36.3-16.4 10.4-5.4 10.4-6.5 10.3-8.3 5.2-5.3 10.4-12.6 5.2-4.9 5.2-1.6 5.2 .3 5.2-.5 5.1-2.9 5.2-4.9 5.2-6.7 5.2-8.2 15.6-27.9 5.2-10.9 15.5-36.7 15.6-46 5.2-17.4 5.2-11.9 5.1-1 15.6 5.4 5.2-.7 5.2-2.6 5.2-1.9 5.1 1.5 5.2 8.6 26 85.6 5.2 15.2 10.3 25.8 15.6 36.1 10.4 20.3 10.3 15.6 10.4 14 10.4 12.2 10.4 10.1 10.3 9.3 15.6 12.8 31.1 24.2 15.6 10.9 5.2 2 41.5 0M111.6 266.5l20.8-1.3 25.9-2.8 15.6-2.8 15.5-3.8 51.9-17.4 15.6-6 15.5-7.6 10.4-6.3 5.2-3.8 10.4-9.7 5.2-6.2 10.3-14.6 10.4-17.5 15.6-28.7 5.2-10.9 15.5-36.4 15.6-45.6 5.2-17.4 5.2-11.9 5.1-.9 15.6 5.5 5.2-.5 5.2-2.5 5.2-1.6 5.1 2.2 5.2 10.9 26 87.2 5.2 14.6 5.1 12.8 20.8 46.7 5.2 9.2 5.2 6.6 5.2 4.7 25.9 17.2 36.3 29.2 25.9 18.5 15.6 9 51.9 26.6M111.6 263.4l20.8-1.5 25.9-3 20.8-4 15.5-4 31.2-10.3 20.7-8.2 25.9-13.3 15.6-9.9 10.4-9.1 5.2-5.9 10.3-13.7 10.4-16.6 15.6-27.5 5.2-10.9 15.5-36 15.6-44.7 5.2-17 5.2-11.6 5.1-1 15.6 5.6 5.2-.6 5.2-2.5 5.2-1.6 5.1 2 5.2 10.4 26 87 5.2 14.7 5.1 12.9 20.8 47.4 5.2 10.1 5.2 8.6 5.2 7.2 20.7 24.6 15.6 15.2 10.3 9.1 15.6 12.7 25.9 19.7 10.4 7.3 20.8 13.4 5.1 1.4 31.2 0"/><path stroke="#D8891A" d="M111.6 140.1l15.6-19.3 5.2-6.1 5.2-5.1 5.2-4.1 5.1-3 5.2-1.9 5.2-.9 5.2 .3 5.2 1.8 5.2 3.3 10.4 9.7 10.3 11.5 5.2 4.8 5.2 3.6 5.2 2.2 5.2 .7 5.2-1.3 5.2-3 5.1-4.4 20.8-21.6 5.2-4.5 5.2-3.4 10.3-5.7 5.2-1.5 5.2 .2 5.2 1.8 5.2 2.7 5.2 4.4 20.7 26 5.2 4.7 5.2 3 5.2 1 5.2-1.6 5.2-3.9 5.1-5.4 10.4-14 15.6-24.9 5.2-6.7 5.2-5.3 5.1-3 5.2-.9 5.2 1 5.2 3.5 5.2 5.4 25.9 37.8 5.2 6.8 5.2 5.6 5.2 4 5.2 2.1 5.2 .9 5.1-.9 5.2-2.7 5.2-4.2 15.6-15.1 5.2-4.4 5.2-3.3 5.1-2.2 10.4-2.6 25.9-3.3 10.4-1.9 5.2-1.7 5.2-2.4 10.4-6 5.2-1.9 5.1-.2 5.2 1 5.2 1.6 10.4 6.2 5.2 2.5 5.2 2 10.3 2.5 10.4 1.2 10.4 .3 5.2-.6 5.2-1.3"/><path stroke="#1A82D4" d="M111.6 251.6l31.2-3.6 10.3-1.7 15.6-3.4 15.6-4.3 25.9-9.2 31.1-10.2 10.4-4.6 10.4-5.9 20.7-16 10.4-5.7 5.2-3.4 5.2-4.3 5.1-4.9 5.2-6.1 5.2-7.1 15.6-23 5.2-9.1 15.5-31.3 5.2-11.5 10.4-27 5.2-14.8 5.2-17.1 5.2-11.7 5.1-.8 15.6 6.3 5.2-.3 5.2-2.3 5.2-1.5 5.1 2.9 5.2 13 20.8 71 5.2 16.8 5.2 14.2 20.7 47.8 5.2 9.9 5.2 8.3 5.2 6.6 5.2 5.5 15.5 14.1 5.2 4 10.4 6.6 15.5 8.3 15.6 7.4 20.7 8.5 10.4 3.7 5.2-42.5 5.2 44.6 10.4 .8 25.9 .4 15.6 1.5"/><path stroke="#D8891A" d="M111.6 129.3l10.4 5.5 5.2 1.7 5.2 .8 5.2-.2 5.2-1.3 5.1-2.7 5.2-4.1 5.2-5.5 20.8-28.4 5.2-6.5 5.1-5.5 5.2-4 5.2-2.6 5.2-.9 5.2 1.4 5.2 3.5 5.2 5.1 5.2 6.4 20.7 28.7 5.2 5.9 5.2 4.8 5.2 3.7 5.1 1.4 5.2-1.2 5.2-3.3 5.2-5 5.2-6.6 10.4-17 10.3-14.8 5.2-6.5 5.2-5.3 5.2-4.3 5.2-3.1 5.2-1.8 5.2-1.2 5.2-.4 5.1 .9 5.2 2.1 10.4 6.3 5.2 3.7 5.2 4.4 10.4 11.8 20.7 28.6 5.2 5.9 5.2 4.6 5.2 .9 5.1-2.2 5.2-3.9 20.8-19.9 31.1-26.6 5.2-3 5.2-1.7 5.2 0 5.2 2.3 5.1 4.4 5.2 6.2 5.2 7.3 15.6 23.8 5.2 6.9 5.1 5.5 5.2 3.6 5.2 1.3 5.2-1.2 5.2-3.8 5.2-6.4 10.4-15.7 10.3-14.7 5.2-6.9 5.2-5.6 10.4-8.9 5.2-3.4 5.2-2.4 5.1-1.3 5.2 .3 5.2 1.5 5.2 3.4 5.2 5.3 5.2 7.2 5.2 8.7M111.6 86.5l5.2 .3 5.2 1.4 5.2 2.5 5.2 3.6 5.2 4.6 15.5 16.7 5.2 4.6 5.2 3.4 5.2 2.1 5.2 .6 5.2-1.1 5.2-2.7 5.1-4 5.2-4.9 20.8-23.8 10.4-10 5.1-3.9 5.2-2.9 5.2-1.1 5.2 .7 5.2 2.5 5.2 4.2 15.5 17.9 10.4 10.9 5.2 4.7 15.6 9.4 5.1 2.3 5.2 1.5 5.2 .7 5.2-.4 5.2-1.5 5.2-2.7 5.2-4.4 10.3-12.6 10.4-14.6 15.6-23.2 5.2-5.9 5.2-4.5 5.1-2.2 5.2 0 5.2 2.6 5.2 6 5.2 7.9 25.9 51 10.4 18.4 5.2 7.2 5.2 5 5.2 2.5 5.1-.3 5.2-3.2 5.2-6.1 5.2-8.7 5.2-10.6 15.6-37.7 5.1-11.4 5.2-9.7 5.2-7.5 5.2-4.9 5.2-2.4 5.2 .1 5.2 2.4 5.1 4.3 5.2 5.7 5.2 6.7 20.8 29.8 15.5 23.6 5.2 6.2 5.2 5.1 5.2 3.5 5.2 .9 5.2-1.2 5.2-3.2 5.1-4.6 5.2-5.7 5.2-6.7 20.8-29.3"/><path stroke="#1A82D4" d="M111.6 263.3l20.8-2.4 31.1-5.6 25.9-5.9 46.7-12.7 15.6-5.2 15.5-6.8 10.4-5.5 10.4-6.8 10.4-9.1 5.2-5.9 10.3-13.9 10.4-16.6 15.6-27.6 5.2-10.8 15.5-36.3 15.6-45.6 5.2-17.3 5.2-11.8 5.1-1 5.2 1.6 5.2 2.4 5.2 1.7 5.2-.4 5.2-2.4 5.2-1.5 5.1 2.7 5.2 12.6 10.4 36 15.6 51.3 10.3 26.6 15.6 34.6 10.4 20.6 5.2 8.6 15.5 22.9 10.4 14.1 10.4 11.6 20.7 20.2 36.3 32 10.4 8.1 57.1 0"/><path stroke="#D8891A" d="M469.5 98.2l10.4 10.1 10.4 7.9 5.2 2.5 5.2 1.4 5.2 .7 5.1 0 5.2-.9 5.2-1.8 5.2-2.6 15.6-10.3 10.3-5.8 20.8-7.8 5.2-1.5 5.2-.7 5.1 .6 10.4 2.5 10.4 4.3 5.2 1.5 15.5 3.3 10.4 2.8 10.4 4.5 10.4 5.9"/><path stroke="#1A82D4" d="M111.6 268.3l20.8-1.8 25.9-3.7 20.8-4.5 15.5-4.2 41.5-14.5 15.6-6 10.4-4.7 10.3-5.4 10.4-6.5 5.2-3.8 10.4-9.5 5.2-6.1 10.3-14.3 10.4-16.9 15.6-27.9 5.2-10.4 15.5-35.7 15.6-45.4 5.2-17.4 5.2-11.9 5.1-.8 15.6 5.8 5.2-.5 5.2-2.6 5.2-1.7 5.1 4.8 10.4 37.9 15.6 51.6 5.2 15.1 5.2 13 15.5 35.4 5.2-31.1 5.2 52.8 5.2 8.2 5.2 5.9 5.2 4.6 25.9 19.5 31.1 25.3 31.1 24.1 20.8 13.2 36.3 20.3 5.2 1.3 5.2 0"/><path stroke="#D8891A" d="M111.6 92.8l5.2-7.3 5.2-6.1 5.2-4.4 5.2-2.5 5.2-.6 5.2 1.3 5.1 2.5 26 18.1 5.2 2.4 5.2 1.3 5.1 0 5.2-1.4 5.2-3.1 5.2-4.4 20.8-20.7 5.1-3.5 5.2-1.7 5.2 1 5.2 3.7 5.2 5.8 5.2 7.7 10.3 17.2 5.2 6.4 5.2 4.5 5.2 2.3 5.2-.2 5.2-3.4 10.4-10.4 15.5-19 5.2-5.5 5.2-4.5 5.2-3.3 5.2-2.7 5.2-1.9 5.1-.5 5.2 .4 31.2 5.8 15.5 3.9 15.6 7.3 5.2 .3 5.1-1.5 5.2-2.2 15.6-8.2 5.2-2.1 5.2-1.3 5.2-.2 5.1 1.1 5.2 2.5 5.2 3.6 5.2 4.5 20.8 22.5 5.1 4.8 5.2 3.5 5.2 1.8 5.2-.3 5.2-2.4 5.2-4.2 5.2-5.6 20.7-27.4 5.2-5.8 5.2-5 5.2-3.3 5.2-.8 5.1 1.9 5.2 4.1 5.2 5.2 10.4 14.7 10.4 13.3 5.2 5.1 5.1 3.5 5.2 1.9 5.2-.3 5.2-2.3 5.2-3.9 5.2-5.5 5.2-6.7"/><path stroke="#1A82D4" d="M111.6 265.5l20.8-2.3 25.9-4.8 31.1-8 46.7-13.6 15.6-5.2 15.5-6.7 10.4-5.6 10.4-7 10.4-9.6 5.2-6.2 10.3-14.4 10.4-17.4 15.6-28.3 20.7-47.5 15.6-44.6 5.2-16.8 5.2-11.5 5.1-.9 5.2 1.6 5.2 2.4 5.2 1.7 5.2-.4 5.2-2.4 5.2-1.5 5.1 2 5.2 9.9 26 86.8 5.2 14.9 10.3 25 15.6 34.8 5.2 9.1 5.2 6.6 5.2 4.4 25.9 14.5 31.1 20.7 36.3 22.4 20.8 9.9 41.5 17.1"/><path stroke="#D8891A" d="M111.6 132l5.2 .9 5.2-.5 5.2-1.8 5.2-2.8 20.7-13.3 15.6-8.5 10.4-4.2 10.3-3.5 15.6-2.8 5.2-.1 25.9 1.6 26 3.4 5.1-.4 15.6-5.5 10.4-3 5.2-.4 5.2 1.6 5.1 2.3 15.6 7.8 5.2 1.8 5.2 .9 5.2-.5 5.2-1.9 5.1-2.6 5.2-3.3 5.2-4 5.2-5.2 10.4-12.1 10.4-9.8 5.1-2.6 5.2-.6 5.2 1.9 5.2 5.1 5.2 6.9 20.7 34.9 15.6 27.4 5.2 8.1 5.2 6.4 5.2 4 5.1 .9 5.2-2.1 5.2-5.1 5.2-7.6 5.2-9.2 15.6-31.8 5.1-9.6 5.2-8.2 5.2-6.3 5.2-3.9 5.2-1 5.2 2 5.2 5 5.1 7.4 20.8 38.8 5.2 7.8 5.2 6.3 5.2 5.2 5.1 3.9 5.2 1.9 5.2-.8 5.2-2.7 5.2-5 5.2-7.7 20.7-39.3 5.2-7.7 5.2-5.4 5.2-2.8 5.2-.3 5.2 2.1"/><path stroke="#1A82D4" d="M111.6 261.8l15.6-1.8 31.1-5.2 26-5.2 15.5-4.1 41.5-12.5 20.8-7.6 10.3-4.4 10.4-5.3 10.4-7.2 5.2-4.6 5.2-5.6 10.3-13.6 10.4-16.8 15.6-28.2 5.2-11.2 15.5-37.1 15.6-46.2 5.2-17.4 5.2-11.9 5.1-1.1 5.2 1.6 5.2 3.1 5.2 3.9 5.2 5 5.2-4.8 5.2-3.8 5.1 1.4 5.2-.2 5.2 11.7 20.8 69.6 5.2 16.6 5.1 14 20.8 48.4 5.2 10.8 5.2 9.1 5.2 6.9 10.3 10.3 36.3 32.4 20.8 16.8 20.7 15.1 10.4 7.2 20.8 11.9 31.1 17 5.2 1"/><path stroke="#D8891A" d="M111.6 126.1l5.2-5.3 5.2-6.3 15.6-21.1 5.2-6 5.1-4.7 5.2-3.3 5.2-1.8 5.2-.2 5.2 1.5 5.2 2.9 20.7 15.1 5.2 2.5 10.4 2.8 5.2 .8 15.5 1 5.2 .9 5.2 1.8 20.8 10.8 5.1 .9 5.2-1.5 5.2-3.2 5.2-4.7 5.2-6.2 10.4-15.5 5.2-6.5 5.1-5.8 5.2-4.6 5.2-2.9 5.2-1.2 5.2 .5 5.2 2.2 10.4 6.6 15.5 13.5 5.2 3.2 5.2 1.9 5.2 .7 5.2-.2 5.2-1.9 5.1-2.8 10.4-8.5 10.4-7.1 15.5-7.8 5.2-.9 5.2 .9 5.2 2.7 5.2 4.6 5.2 5.9 15.5 20.7 5.2 5.9 5.2 4.4 5.2 2.7 5.2 1.4 5.2 0 10.4-2.2 10.3-1.5 5.2 0 20.8 1.5 5.1-.6 5.2-1.5 5.2-2.8 5.2-4.2 5.2-5.7 15.6-21.7 5.1-5.3 5.2-3.7 5.2-2.2 5.2 .4 5.2 2.6 5.2 3.7 5.2 5.4 5.2 6.6 5.1 7.9 15.6 26.3 5.2 8 5.2 6.1 5.2 3.5"/><path stroke="#1A82D4" d="M111.6 270.5l20.8-2.5 25.9-4.6 26-6.1 15.5-4.8 36.3-12.9 15.6-6.5 10.4-5 10.3-5.7 15.6-10.6 10.4-9.6 5.2-6.1 10.3-14.2 10.4-16.8 15.6-27.7 5.2-10.5 15.5-35.8 15.6-45.4 5.2-17.3 5.2-11.8 5.1-1 15.6 5.5 5.2-.6 5.2-2.6 5.2-1.8 5.1 1.4 5.2 7 5.2 15.3 20.8 69.6 5.2 15.6 10.3 25.9 15.6 35.6 5.2 9.7 5.2 7.1 5.2 4.4 5.1 3.1 15.6 7.4 5.2 3.1 41.5 30.9 25.9 18 10.4 5.8 10.4 4.9 41.5 17.6M111.6 249.7l10.4-6.4 10.4-9 10.4-12.3 15.5-22.3 5.2-6.2 5.2-4 5.2 .2 5.2 5.4 10.3 16.3 5.2 6.9 5.2 5.3 5.2 3.8 5.2 2.6 5.2 1.6 5.2 .9 10.3 0 5.2-.6 10.4-2.2 10.4-3.3 10.3-4 10.4-5 10.4-6.6 5.2-4.2 5.2-5.1 10.3-12.7 5.2-7.2 5.2-7.9 20.8-36 15.5-33.8 5.2-12.4 15.6-44.5 5.2-17.2 5.2-11.8 5.1-1.1 5.2 1.3 5.2 2.2 5.2 1.6 5.2-.7 5.2-2.7 5.2-1.7 5.1 4.8 10.4 37.6 15.6 51.8 5.2 15.1 10.3 25.2 15.6 34.4 5.2 9.4 5.2 7.2 5.2 4.5 5.2 2.9 20.7 8.3 5.2 2.6 36.3 22.1 15.6 8.3 10.3 4.9 10.4 3.3 10.4 2.1 25.9 2.9 20.8 3.1"/><path stroke="#D8891A" d="M111.6 121.9l10.4-5.1 10.4-3.4 5.2-.7 15.5-.8 5.2-.9 31.1-10 10.4-1.9 5.2-.4 20.8 2.1 5.1-.3 20.8-3.9 5.2-.3 10.3 1.2 15.6-.1 5.2-.4 10.4-2.7 15.5-.3 20.8 1 5.2-.7 10.3-2.9 10.4-3.8 15.6-8.5 10.4-3.3 5.1-.1 5.2 .7 5.2 1.9 10.4 7.2 5.2 4.5 5.2 2.7 10.3 2.5 15.6 1.4 10.4-.4 5.2-.7 10.3-2.6 15.6-5.1 10.4-1.5 5.2 .5 15.5 4.3 5.2 1 5.2 .3 5.2-.5 5.2-1 10.3-3.3 10.4-4 15.6-7.1 5.2-1.1 5.1 .4 20.8 5.8 5.2-1.6 5.2-5.2 5.2-9.2 10.3-22.3 5.2-5.7 5.2 2.1 5.2 9 10.4 23.2M111.6 108.6l5.2-5.2 5.2-4 5.2-2.6 5.2-.8 5.2 1.1 5.2 3 5.1 4.3 15.6 15.4 5.2 4.3 5.2 3.3 5.2 1.8 5.2 0 5.1-1.7 5.2-3.2 5.2-4.9 15.6-18.8 5.2-5.9 5.2-4.9 5.1-3.5 5.2-1.8 5.2 .5 5.2 2.5 5.2 4.1 5.2 5.5 10.3 12.9 5.2 5.4 10.4 8.8 5.2 3 5.2 1.1 10.4-.6 5.1-2.1 5.2-3.5 5.2-4.6 5.2-5.7 20.8-25 5.1-4.6 5.2-3 5.2-1.5 5.2-.5 5.2 .4 5.2 1.7 5.2 3 5.2 3.6 5.1 4.5 10.4 9.5 5.2 5.6 10.4 9.1 5.2 1.4 5.1-.9 5.2-2.2 15.6-9.6 5.2-2.5 5.2-1.6 5.2-.5 5.1 .5 20.8 5.9 5.2 .9 15.5 .6 20.8-1.5 5.2 .2 5.2 1.1 5.1 2.1 5.2 3.1 15.6 12 5.2 2.8 5.2 1.8 5.2 1 5.1 .4 5.2-.8 10.4-5.6 5.2-3.8 15.6-16 5.1-4.5 5.2-2.8 5.2-1 5.2 1.4 5.2 4.1 5.2 6.3 5.2 7.9M111.6 161.7l10.4-4.1 5.2-2.5 41.5-23.3 20.7-7.9 15.6-5.6 5.2-1.4 10.4-1.1 5.2 .2 10.3 2.2 5.2 2.3 5.2 3.1 15.6 11 5.1 3 5.2 1.5 5.2 .4 5.2-.3 5.2-1.2 10.4-5.5 20.7-8.8 41.5-14.1 15.6-7.5 10.4-4 10.3-1.5 5.2 .5 10.4 3.1 5.2 .2 5.2-4.8 5.1-10.6 15.6-48.7 5.2-8 5.2 2.7 5.2 12.9 10.3 39.3 5.2 16.6 5.2 10.9 5.2 5.4 5.2 1.8 5.2-.4 10.4-2.7 5.1-.7 26 0 15.5-1.3 10.4-2.3 5.2-1.8 10.4-4.6 5.2-1.3 5.1 .2 10.4 2.8 20.8 12.3 5.2 2.4 10.3 3.8 5.2 .9 10.4 .8 10.4-1"/><path stroke="#1A82D4" d="M111.6 269.1l26-1.1 20.7-2 15.6-2.7 20.7-5.4 36.3-13.1 20.8-8.7 15.5-8 10.4-6.2 10.4-7.3 5.2-4.4 5.2-5 5.2-5.9 10.3-14 10.4-16.7 15.6-28.1 5.2-10.9 15.5-37.2 15.6-46.9 5.2-17.8 5.2-12.2 5.1-1.1 5.2 1.5 5.2 2.8 5.2 3.7 5.2 5.2 5.2-5.9 5.2-2.5 5.1-.7 5.2 .2 5.2 8.2 26 86 5.1 14.9 5.2 12.9 20.8 47.4 5.2 10.2 5.2 8.5 10.3 12.9 15.6 16.7 20.7 19.5 5.2-67 5.2 76 15.6 12.8 25.9 20.1 15.6 10 20.7 12 20.8 0M111.6 186l5.2 .2 5.2 5 10.4 14.5 5.2 6.2 5.2 5.1 5.1 4 5.2 3.1 5.2 2.3 10.4 2.6 10.4 .6 10.3-.7 51.9-10.4 31.1-8.6 10.4-3.8 5.2-2.5 10.4-6.8 5.2-4.7 10.3-11.7 10.4-15 15.6-26 5.2-10.7 15.5-36.3 15.6-45.8 5.2-17.4 5.2-12 5.1-1 5.2 1.7 5.2 3.2 5.2 3.9 5.2 2.1 5.2-2.4 5.2-3.8 5.1 .3 5.2 2.9 5.2 13 20.8 68.6 5.2 15.8 5.1 13.6 20.8 48.2 5.2 10.8 5.2 9.4 5.2 7.6 5.1 6.4 15.6 17.3 20.7 19.8 26 21.7 31.1 23.2 5.2-68.5 5.2 74.9 20.7 11.8 5.2 2.1 20.8 0"/><path stroke="#D8891A" d="M111.6 111.2l26 23.4 5.2 3.4 5.1 2 5.2-.1 5.2-2.4 5.2-4.8 5.2-6.6 20.7-32.9 5.2-6.6 5.2-5.4 5.2-3.5 5.2-1.1 5.2 1.1 5.2 3.1 5.2 4.9 5.1 6.2 5.2 7.1 10.4 16 5.2 7.2 5.2 6.2 5.2 4.9 5.1 2.3 5.2-.6 5.2-2.7 5.2-4.5 5.2-6 10.4-15.8 10.3-14.2 5.2-6.5 5.2-5.4 5.2-4 5.2-2.5 5.2-.7 5.2 .6 5.2 1.7 5.1 3.3 15.6 13.8 5.2 3.8 10.4 6.5 10.3 3.7 5.2 .7 10.4 0 10.4-2.8 5.2-4.5 15.5-18.9 5.2-4.4 5.2-2.1 5.2 .7 5.2 3.5 5.2 6 20.7 32.3 5.2 6.9 5.2 5.7 5.2 4.6 5.2 3.7 5.1 2.7 5.2 1.4 5.2-.1 5.2-2 5.2-3.7 5.2-5.2 5.2-6.4 15.5-21.5 10.4-13 5.2-5.5 5.2-3.8 5.2-1.3 5.1 1.7 5.2 3.8 5.2 5.4 10.4 14.8 10.4 12.9 5.2 4.9 5.1 3.6 5.2 2.3 5.2 .5 5.2-.8 5.2-2.2 5.2-3.6 5.2-5.1"/><path stroke="#1A82D4" d="M111.6 258.7l20.8-2.5 25.9-4.3 20.8-4.6 15.5-4.4 20.8-6.8 25.9-7.8 15.6-5.8 10.3-4.4 10.4-5.2 10.4-6.2 5.2-4 5.2-4.6 5.2-5.5 10.3-13.2 10.4-16 15.6-26.7 5.2-10.6 15.5-35.6 15.6-44.9 5.2-17.1 5.2-11.7 5.1-.9 15.6 5.6 5.2-.6 5.2-2.5 5.2-1.8 5.1 1.5 5.2 7.7 5.2 15.9 20.8 68.7 5.2 15.1 5.1 13 20.8 47.2 5.2 10.4 5.2 9.2 10.3 14.4 15.6 18.9 10.4 10.6 10.3 9.6 15.6 13.6 36.3 30 20.8 15.2 5.2 2.2 36.3 0M111.6 276l20.8-1.9 25.9-3.7 20.8-4.5 15.5-4.4 36.3-13.1 20.8-8.7 20.7-11 10.4-6.8 5.2-3.9 10.4-10 5.2-6.3 10.3-14.7 10.4-17.5 15.6-28.4 5.2-11.1 15.5-36.2 15.6-44.9 5.2-17 5.2-11.6 5.1-1 15.6 5.4 5.2-.6 5.2-2.8 5.2-2 5.1 1.3 5.2 8.4 15.6 46.3 10.4 26.9 5.2 9.7 5.1 7.1 5.2 5.6 5.2 4.3 10.4 11.8 5.2 19.6 10.4 101.7 10.3-74.7 5.2-4 20.8 45.4 10.3 19.8 10.4 16 5.2 6.6 10.4 11.1 10.3 9.3 10.4 8.5 15.6 10.5 15.5 9.3 31.2 0M111.6 259.9l20.8-1.7 25.9-3.6 20.8-4 15.5-3.9 36.3-11 15.6-5.4 15.6-6.8 10.3-5.2 10.4-6.1 5.2-3.7 10.4-9.1 5.2-6 10.3-13.8 10.4-16.8 15.6-27.8 20.7-47.4 15.6-44.3 5.2-16.6 5.2-11.3 5.1-.7 5.2 1.8 5.2 2.6 5.2 2 5.2-.3 5.2-2.3 5.2-1.4 5.1 3 5.2 13.4 20.8 70.7 5.2 16.6 5.2 14 20.7 47.9 5.2 10.9 5.2 9.3 5.2 7.2 5.2 5.7 10.3 9.8 31.1 27.2 20.8 16.9 31.1 23.6 20.8 12.6 20.7 11.5 5.2 2.4 15.6 0"/><path stroke="#D8891A" d="M111.6 118.8l10.4-10.4 5.2-4.5 5.2-3.5 5.2-2.4 5.2-1.2 5.1-.2 5.2 .5 20.8 4.3 10.4 1.3 10.3-.3 15.6-2.7 10.4-.9 10.3 .1 5.2 .5 10.4 3.3 15.6 6.8 5.1 1.2 5.2-.4 5.2-1.5 5.2-2.3 5.2-3.3 10.4-9.2 10.3-7 5.2-2.9 5.2-2 5.2-.9 5.2 .2 5.2 1.4 5.2 2.2 5.2 2.8 5.1 4 10.4 9.5 5.2 4.1 5.2 2.8 5.2 1.9 5.2 .9 5.2-.6 5.1-1.6 5.2-2.8 10.4-6.7 10.4-7.8 5.2-5.8 10.3-13.2 5.2-4.8 5.2-2.7 5.2 .1 5.2 3.3 5.2 6.3 5.2 8.7 15.5 31 5.2 8.4 5.2 6.4 5.2 3.7 5.2 1 5.2-1.4 5.1-3.5 5.2-5.6 5.2-7.5 20.8-37 5.1-7.8 5.2-6.1 5.2-4.1 5.2-2.1 5.2-.4 5.2 1.1 5.2 2.9 5.2 4.9 20.7 29.2 5.2 6.3 5.2 4 5.2 2 5.2-.1 5.1-1.7 5.2-2.8 15.6-11.3 5.2-3.1 5.2-2.3M111.6 127.3l10.4-7.8 15.6-12.9 5.2-3.4 5.1-2.7 5.2-1.6 5.2-.7 5.2 .4 5.2 1.6 10.4 6 15.5 10.9 10.4 5.5 5.2 2 5.2 1.1 5.2-.5 5.2-2.2 5.1-4.1 20.8-23 5.2-4 5.2-2.2 5.1-1 5.2-.1 5.2 1.4 5.2 3 10.4 9.1 5.2 6 10.3 14.8 5.2 6.4 5.2 4.9 5.2 2.6 5.2 .2 5.2-2.3 5.2-4.9 25.9-35.7 5.2-6.7 5.2-5.8 5.2-4.2 5.2-3 5.1-.7 5.2 1 5.2 3.3 5.2 5.9 5.2 6.9 5.2 8 5.2 6.4 5.1 4.7 5.2 4.1 26 17.6 5.2 2.8 5.1 1.6 5.2-.1 5.2-2 5.2-3.7 15.6-13.2 5.2-2.9 5.1-1.2 5.2 .1 5.2 1.4 15.6 7.2 5.2 1.9 5.1 .7 5.2-.8 5.2-2.6 5.2-4.4 15.6-18.7 5.2-4.3 5.1-1.6 5.2 .9 5.2 2.8 5.2 5.2 10.4 14.4 20.7 32.6 10.4 13.6 5.2 5 5.2 2.8 5.2 .1"/><path stroke="#1A82D4" d="M111.6 259l26-1.6 25.9-3.4 25.9-5.1 31.2-8.7 20.7-7.1 20.8-9.5 20.7-11.2 10.4-7.4 5.2-4.6 5.2-5.6 10.3-13.2 10.4-16.2 15.6-27.3 5.2-10.8 15.5-36.4 15.6-45.5 5.2-17.2 5.2-11.9 5.1-1.1 5.2 1.4 5.2 2.2 5.2 1.5 5.2-.6 5.2-2.7 5.2-1.7 5.1 4.1 26 88.3 5.2 15.8 5.2 13.5 20.7 48.3 5.2 9.6 5.2 7.3 5.2 4.4 5.2 2.9 10.3 3.5 15.6 4.5 36.3 14.2 25.9 7.8 10.4 1.2 10.4-.6 31.1-5.6 15.6-1.7M111.6 270.5l20.8-1.4 20.7-2.9 20.8-4.2 20.7-5.6 36.3-12.7 20.8-8.6 10.4-5.4 10.3-6 15.6-11 10.4-9.8 5.2-6.1 10.3-14.3 10.4-17.1 15.6-28.3 5.2-11 15.5-36.7 15.6-45.5 5.2-17.1 5.2-11.6 5.1-1 5.2 1.7 5.2 2.5 5.2 1.9 5.2-.3 5.2-2.3 5.2-1.3 5.1 7.2 5.2 22.8 5.2 20.1 15.6 52.1 5.2 14.5 5.2 12.9 20.7 47.2 5.2 9.7 5.2 7.3 5.2 5.1 5.2 3.8 25.9 14.7 67.4 46.5 20.8 11.6 41.5 20.8M111.6 248.3l5.2-3.5 5.2-4.4 5.2-5.3 5.2-6.6 15.5-23.9 5.2-3.7 5.2 2.1 5.2 6.6 10.4 14.8 5.2 5.6 5.2 4.2 5.1 2.9 5.2 1.9 5.2 1.1 5.2 .4 10.4-.5 10.4-1.5 10.3-2.5 10.4-3.3 10.4-4.3 10.3-4.9 10.4-5.7 10.4-7 10.4-9.4 5.2-6 10.3-14 10.4-17 15.6-27.9 5.2-10.9 15.5-36 15.6-44.6 5.2-16.9 5.2-11.5 5.1-.9 15.6 5.5 5.2-.6 5.2-2.6 5.2-1.8 5.1 2 5.2 11 26 85.8 10.3 26.9 15.6 35.1 5.2 10.3 5.2 8.3 5.2 6.3 5.2 4.7 10.3 7.4 10.4 6.6 25.9 14.5 20.8 9.3 20.7 6.9 10.4 2 10.4 .2 31.1-3.4 15.6-.7"/><path stroke="#D8891A" d="M459.2 79.4l5.2 10.7 15.5 37 5.2 9.6 5.2 6.8 5.2 3.2 5.2-.9 5.2-4.5 5.1-7.9 5.2-10.9 15.6-41.9 5.2-13.1 5.2-10.5 5.1-6.9 5.2-2.7 5.2 1.7 5.2 5.7 5.2 9.1 5.2 11.2 15.5 41 5.2 12.5 5.2 9.2 5.2 5.9 5.2 1.8 5.2-3.5 5.2-7.8 5.2-11.4 15.5-42.5 5.2-12.2 5.2-9 5.2-5 5.2-.7M111.6 160.8l5.2-3 10.4-7.8 36.3-31.2 5.2-3.5 5.2-2.7 10.4-3.5 5.1-.7 10.4 .1 5.2 .6 5.2 1.1 25.9 7.4 10.4 4.1 15.6 7.3 5.1 1.1 5.2-1 5.2-2.8 5.2-4.7 5.2-7.1 5.2-10.2 20.7-50 5.2-8.6 5.2-3.9 5.2 1.4 5.2 6.3 5.2 9.1 10.3 20.1 5.2 8.4 5.2 5.9 5.2 3.2 5.2 .9 15.6-1.4 5.1 .5 5.2 1.1 5.2 2.2 10.4 8.1 5.2 4.7 5.2 2.8 5.1 1.2 5.2 .5 15.6 .5 25.9 2.3 26-.8 15.5 .8 10.4-.4 15.6-3 15.5-4.6 10.4-5.3 10.4-7.5 5.2-2.8 5.1-1.2 5.2 .1 5.2 .8 5.2 2.3 15.6 8.6 15.5 6 15.6 2.6 10.4 0"/><path stroke="#1A82D4" d="M111.6 196l5.2-7.5 5.2-5.5 5.2-2.1 5.2 1.3 5.2 2.6 5.2 1.3 5.1-1.4 5.2-4.2 5.2-5.8 5.2-4.7 5.2-.6 5.2 4.6 15.5 24.9 5.2 7 5.2 5.7 5.2 4.4 5.2 3.5 5.2 2.5 5.2 1.8 10.3 1.9 10.4 .1 10.4-1.2 10.4-2.3 10.3-3.4 10.4-4.7 5.2-3.1 10.4-8.4 5.2-5.6 10.3-13.8 10.4-16.9 15.6-28.5 5.2-11.1 15.5-36.8 15.6-45.6 5.2-17.2 5.2-11.7 5.1-.8 5.2 1.7 10.4 4.6 5.2-.2 5.2-2.2 5.2-1.4 5.1 2.6 5.2 11.2 26 88 5.2 14.5 10.3 24.6 10.4 22.8 5.2 10 5.2 7.4 5.2 4.5 5.2 2.4 20.7 3.3 5.2 1.3 41.5 16.3 15.5 4.6 10.4 2 5.2 .1 10.4-1.1 25.9-6.2 10.4-1.8 10.4-1.2"/><path stroke="#D8891A" d="M111.6 119.4l10.4-9.9 5.2-4 5.2-2.8 5.2-1.4 5.2 .2 5.1 1.6 5.2 2.8 10.4 7.4 15.6 12.5 5.2 3 5.1 1.8 5.2 .5 5.2-1.3 5.2-3.1 5.2-4.2 5.2-5.4 5.2-6.5 15.5-21.6 5.2-5.7 5.2-4.2 5.2-2.5 5.2-.4 5.2 1.7 10.3 6.1 5.2 4.1 26 25.2 5.1 4.3 5.2 3.1 5.2 1.8 5.2 .3 5.2-1.4 5.2-2.8 5.2-4.6 15.5-17.3 10.4-10.4 5.2-4.4 5.2-3.2 5.2-1.4 5.2-.1 5.1 1.9 5.2 3 5.2 4.5 15.6 19.3 5.2 4.6 5.1 2.6 5.2 1.6 20.8 2.1 5.2 1.2 10.3 4.3 20.8 11.4 5.2 2 5.2 1 5.2 .3 5.1-.7 5.2-2.1 5.2-3.5 5.2-5 5.2-6.2 15.5-19.7 5.2-4.9 5.2-3.3 5.2-1.3 5.2 .6 5.2 2.4 5.2 4.7 5.2 7.3 5.1 9.8 15.6 33.3 5.2 9.6 5.2 6.5 5.2 3.4 5.2-.2 5.1-3.7 5.2-6.7 5.2-9.6 5.2-11.5 15.6-37.5M111.6 149l5.2 2.1 5.2 .4 5.2-1.4 5.2-3.3 5.2-4.9 5.2-6.3 5.1-7.6 15.6-26.2 5.2-7.9 5.2-6.1 5.2-4.2 5.2-2 5.1 .5 5.2 3 5.2 4.8 5.2 6.2 15.6 23.8 5.2 6.9 5.1 5.4 5.2 3.6 5.2 1.9 5.2 .2 5.2-1.8 5.2-3.2 5.2-4.4 5.1-6 15.6-22.4 5.2-6.1 5.2-5.1 5.2-2.7 5.2 .6 5.1 2.8 5.2 4.9 5.2 6.7 15.6 24.5 5.2 7.1 5.2 5.5 5.1 4 5.2 2.1 5.2-.2 5.2-2.8 5.2-5.4 5.2-7.1 15.5-24.4 5.2-7.1 5.2-5.2 5.2-2.1 5.2-.3 10.4 5.6 5.1 4.1 5.2 5.9 5.2 7.6 5.2 9.1 15.6 29.4 5.2 7.6 5.1 5.1 5.2 2.1 5.2-1.2 5.2-4.4 5.2-6.8 5.2-8.9 15.5-30.5 5.2-8.8 5.2-7.2 5.2-5.2 5.2-3 5.2-.5 5.2 2 5.1 4.4 5.2 6.2 15.6 22.7 5.2 6.1 10.4 9.3 5.1 3.5 5.2 2.4 5.2 .6 5.2-.3 5.2-1.4 5.2-3.4 5.2-4.5 15.5-16.3 5.2-4.8 5.2-3.8 5.2-2.4 5.2-1 5.2 .1M111.6 105.5l10.4-13.7 5.2-5.6 5.2-4.3 5.2-2.7 5.2-.9 5.1 .6 5.2 1.9 5.2 2.7 10.4 7.8 15.6 13.5 5.1 3.4 5.2 2.5 5.2 .9 5.2-.6 5.2-1.6 5.2-2.5 5.2-3.5 15.5-12.6 5.2-3.2 5.2-2.2 5.2-1.2 5.2 .1 5.2 1.4 15.5 5.7 20.8 11.6 10.3 7 5.2 2.1 5.2 1 5.2-.6 5.2-2.4 5.2-4 5.2-6.1 20.7-31.5 10.4-13.7 5.2-4.8 5.2-2.5 5.2-.8 5.1 1.8 5.2 3.8 5.2 5.9 10.4 18.4 5.2 11.1 5.2 9.6 5.1 8 5.2 6.8 5.2 5.2 5.2 3.3 5.2 1.2 5.2-.9 5.2-3.1 5.2-4.9 5.1-6.6 5.2-7.7 15.6-26.5 5.2-7.6 5.2-6 5.2-3.3 5.1-.2 5.2 2.6 5.2 5.2 5.2 7.2 20.7 35.2 5.2 6.8 5.2 4.7 5.2 2.1 5.2-1 5.2-4.4 5.2-7.1 10.3-18.6 10.4-21.3 5.2-9.6 5.2-7.7 5.2-6 5.2-3.2 5.2 0 5.1 3.6 5.2 7 5.2 9.6 15.6 36.7 5.2 11.3M111.6 109.3l20.8 3.1 5.2 .2 5.2-.5 5.1-1.2 5.2-2.1 5.2-3.1 20.8-15.5 10.3-7.1 15.6-7.7 10.4-2.5 10.4-.9 10.3 .3 10.4 2.3 15.6 5 5.1 .9 5.2-.6 5.2-1.3 10.4-3.9 10.4-5.1 5.2-.9 10.3-.3 20.8 4 5.2 .3 10.3-1.3 5.2-1.2 5.2-2.1 5.2-3.6 5.2-5.5 15.6-21.1 5.1-3.1 5.2 1.2 5.2 5.8 15.6 29.1 5.2 7 5.1 4.8 5.2 3.8 5.2 2.9 5.2 2.2 10.4 2.5 10.4 .8 15.5-.6 15.6-2.1 20.7-3.9 10.4-3.7 20.7-10.9 10.4-4.8 15.6-6.4 5.2-1.7 5.2-.5 5.1 1.2 10.4 4.7 15.6 11.6 5.2 3.2 5.2 2.3 5.1 1.8 5.2 1 5.2 0 10.4-1.6 10.4-3M111.6 143.1l5.2 4 5.2 2.3 5.2 .5 5.2-1.4 5.2-3.3 5.2-5.1 5.1-6.8 5.2-8.1 15.6-28 5.2-7.6 5.2-5.8 5.2-3.3 5.1-.5 5.2 2.5 5.2 4.8 5.2 6.5 10.4 15.4 5.2 6.5 5.2 4.6 5.1 2.4 5.2 .2 5.2-1.6 5.2-3 5.2-4.4 10.4-10.2 10.3-11.3 5.2-4.8 5.2-3.3 5.2-1.5 5.2-.3 5.2 1.9 5.2 4.5 5.1 5.8 20.8 28.6 5.2 6.2 5.2 4.2 5.2 1.9 5.1-.1 5.2-2.7 5.2-5.5 5.2-8.5 15.6-33.1 5.2-9.1 5.1-5.7 5.2-1.9 5.2 2.5 5.2 7.4 5.2 10.5 10.4 26.2 10.3 23.1 5.2 9.7 5.2 7.8 5.2 5.1 5.2 2.1 5.2-1.4 5.2-5.1 5.1-8.3 5.2-10.6 10.4-23.7 5.2-9.9 5.2-7.1 5.2-3.5 5.2 .7 5.1 4.7 5.2 7.7 20.8 40.4 5.2 7.9 5.1 5.4 5.2 2.5 5.2-1 5.2-4.7 5.2-8.5 5.2-12 15.5-41.5 5.2-11.1 5.2-8.6 5.2-4.1 5.2 .2 5.2 3.9 5.2 7.8 5.2 10.7 15.5 40.5 5.2 12.1 5.2 9.9 5.2 6.6 5.2 2.9"/><path stroke="#1A82D4" d="M111.6 269.8l15.6-1.3 20.7-3 15.6-3.4 20.8-5.8 36.3-13.5 20.7-8.6 20.8-10.6 15.5-9.9 10.4-9.2 5.2-5.7 15.5-20.4 5.2-7.4 20.8-32.4 5.2-9.1 15.5-30.8 5.2-11.4 10.4-27 5.2-14.8 5.2-17.3 5.2-11.8 5.1-.8 5.2 1.6 5.2 2.5 5.2 1.8 5.2-.3 5.2-2.4 5.2-1.6 5.1 1.6 5.2 7.9 26 85.1 5.2 15.2 10.3 25.3 5.2 10.9 10.4 24.2 10.4 20.4 5.2 8.5 10.3 15.4 10.4 14.3 10.4 11.8 20.7 19.7 15.6 13 25.9 20.6 10.4 7.6 5.2 1.1 46.7 0M111.6 270.5l20.8-2 20.7-3.5 15.6-3.4 20.7-5.9 20.8-7.7 25.9-11.1 15.6-8.8 10.4-7.6 10.3-9.8 5.2-6.1 5.2-7.1 10.4-16.6 5.2-6.8 5.2-3 10.3-.3 5.2-2.9 5.2-5.7 10.4-15.9 5.2-8.8 5.2-10.4 15.5-35.4 15.6-44.7 5.2-17 5.2-11.5 5.1-.7 15.6 6.2 5.2-.4 5.2-2.6 5.2-1.7 5.1 2.1 5.2 11 26 86.4 5.2 14.5 5.1 12.7 20.8 47 5.2 9.6 5.2 7.5 5.2 5.9 5.1 5 26 22.3 57 45.1 10.4 7.6 20.8 12.7 20.7 10.8 15.6 .3M111.6 267.8l20.8-2 25.9-4.1 20.8-4.8 15.5-4.4 41.5-14.5 20.8-8.3 20.7-10.2 10.4-6.5 5.2-4.1 5.2-4.7 5.2-5.7 10.3-13.6 10.4-16.5 15.6-27.8 5.2-10.9 15.5-36.8 15.6-46.3 5.2-17.5 5.2-12 5.1-1.1 5.2 1.5 10.4 4.1 5.2-.5 5.2-2.3 5.2-1.6 5.1 2.9 5.2 13.1 20.8 71 5.2 16.8 5.2 14.2 20.7 47.8 5.2 10.1 5.2 7.7 5.2 5.2 5.2 3.3 25.9 10.1 41.5 19.8 15.5 6.2 10.4 3.2 5.2 .8 10.4 .1 25.9-3.2 10.4-.7 10.4-.1M111.6 249.7l10.4-7.1 5.2-4.5 5.2-5.2 5.2-6.2 5.2-7.3 5.1-8.6 15.6-29.9 5.2-4.5 5.2 3 5.2 8.5 10.3 19.4 5.2 7.7 5.2 5.9 5.2 4.3 5.2 3 5.2 1.9 5.2 1 10.3 .2 5.2-.7 10.4-2.5 10.4-3.9 10.3-5.2 10.4-6.8 5.2-4.1 5.2-4.8 5.2-5.7 5.2-6.6 10.3-14.8 5.2-6 10.4-9.9 5.2-6.7 10.4-15.8 5.2-10 15.5-35.6 15.6-45.7 5.2-17.4 5.2-11.9 5.1-.7 5.2 2.1 5.2 3.2 5.2 5 5.2 2.7 5.2-1.9 5.2 .1 5.1-5.8 5.2 3 5.2 11.8 20.8 68.8 5.2 16.1 5.1 13.7 20.8 47 5.2 10.3 5.2 8.1 5.2 5.8 5.1 4.4 20.8 15.1 15.5 13 20.8 16.2 31.1 21.8 10.4 6 10.4 5.2 41.5 19.4"/><path stroke="#D8891A" d="M111.6 163.7l5.2 1.2 5.2-1.1 5.2-3.4 5.2-5.3 5.2-6.6 20.7-29.9 5.2-5.9 5.2-4.3 5.2-2.3 5.2-.6 5.2 1.2 5.1 2.9 10.4 9.5 15.6 16.9 5.2 4.2 5.2 2.7 5.1 .8 5.2-.8 5.2-1.8 5.2-2.7 15.6-10.2 15.5-12.6 5.2-3.4 10.4-4.2 5.2-.1 5.2 2.1 5.1 3 15.6 10.3 5.2 2.6 5.2 1.8 5.2 .3 10.3-2 10.4-3.2 15.6-7.2 10.4-3.9 10.3-1.7 5.2 .5 5.2 2.5 5.2 3.3 5.2 4.7 5.2 3.5 10.3 5.4 10.4 4.3 10.4 2 15.5 .9 20.8 3.5 5.2 0 5.2-1.4 5.2-2.6 5.1-3.8 5.2-5.1 15.6-18.4 5.2-4.7 5.2-2.6 5.1 .2 5.2 3.2 5.2 5.9 20.8 33.6 10.3 14.5 5.2 5 5.2 2.5 5.2 .4 5.2-2.4 5.2-5.9 5.2-8.6 15.5-33.6 5.2-10.3 5.2-8.1 5.2-4.8 5.2-1.3 5.2 2.5"/><path stroke="#1A82D4" d="M111.6 268.1l20.8-2 25.9-3.5 20.8-4.3 15.5-4.6 36.3-13.1 20.8-8.9 10.4-5.2 10.3-5.9 10.4-6.9 5.2-4.4 5.2-5 5.2-5.9 15.5-20.8 20.8-33.9 5.2-9.4 15.5-32.9 5.2-12.1 15.6-43.5 5.2-17.2 5.2-11.9 5.1-1.1 5.2 1.4 5.2 2.2 5.2 1.5 5.2-.6 5.2-2.5 5.2-1.7 5.1 4.7 10.4 37.6 15.6 51.9 5.2 15.4 10.3 25.7 15.6 35.4 5.2 9.4 5.2 6.7 5.2-44.3 5.2 49.7 5.1 .7 15.6 .8 5.2 1 25.9 8.8 15.6 4.5 15.5 3.5 10.4 1 5.2-.2 10.4-1.8 25.9-7.7 10.4-2.4 10.4-1.7M111.6 263.5l20.8-2.2 25.9-4.1 26-5.6 15.5-4.4 36.3-11.7 15.6-6.1 15.5-7.3 10.4-5.6 10.4-6.6 5.2-4.2 5.2-4.8 5.2-5.7 10.3-13.8 10.4-16.5 15.6-27.7 5.2-10.6 15.5-36.2 15.6-46 5.2-17.5 5.2-12 5.1-.9 5.2 1.7 10.4 5.6 5.2 .5 5.2 2.8 5.2-6.1 10.3 1.3 5.2 9.1 26 86 5.1 14.4 31.2 72.7 10.3 21.4 15.6 27.8 5.2 7.6 10.4 12.4 10.3 11 10.4 10.1 31.1 27.5 67.5 0"/><path stroke="#D8891A" d="M111.6 142.7l10.4-9.3 10.4-7 5.2-2.3 15.5-5 5.2-2.3 26-15.2 5.1-2 5.2-.9 5.2 .2 5.2 1.6 5.2 3.4 5.2 4.7 15.5 17.4 10.4 9.4 5.2 2.9 5.2 .9 5.2-1.1 5.2-3 5.1-5.6 5.2-8 10.4-18.2 10.4-15.8 5.2-4.9 5.2-1.3 5.1 1.4 5.2 3.6 5.2 5.8 15.6 21.9 5.2 6.1 5.2 4.4 5.1 3 5.2 1.3 5.2-.6 5.2-2.8 20.8-18.9 5.1-2.8 5.2-1.2 5.2 .8 5.2 3.6 5.2 4.8 5.2 6.2 5.2 4.6 5.1 3 5.2 1.9 5.2 .7 5.2-.4 5.2-1.3 15.6-5.7 5.1-1.1 5.2-.2 5.2 .8 5.2 1.9 5.2 3.5 5.2 4.6 5.2 5.4 15.5 18.7 5.2 4.1 5.2 1.7 5.2-1.2 5.2-4.3 5.2-7.4 5.1-10 5.2-12 15.6-39.6 5.2-11.2 5.2-8.1 5.2-3.6 5.1 1.7 5.2 6.1 5.2 9.5 15.6 40.1 5.2 11.7 5.2 9 5.1 5.9 5.2 2.8 5.2-.4 5.2-2.9 5.2-4.4 10.4-10.6"/><path stroke="#1A82D4" d="M111.6 268.2l41.5-4 15.6-2.8 15.6-4 46.6-16.7 15.6-6.1 10.4-4.8 10.3-5.7 10.4-6.7 5.2-4 10.4-10.2 15.5-20.5 10.4-16 20.8-35.9 15.5-33 5.2-11.9 15.6-42.7 5.2-17 5.2-11.5 5.1-.9 15.6 5.7 5.2-.4 5.2-2.5 5.2-1.7 5.1 2.2 5.2 10.8 26 86.6 5.2 14.4 5.1 12.7 20.8 46.6 5.2 9.8 5.2 8.3 5.2 7 20.7 24 15.6 15.2 25.9 22 31.1 24.4 10.4 7.3 20.7 13.6 31.2 0"/><path stroke="#D8891A" d="M111.6 89l10.4 6.8 15.6 12.4 5.2 3.3 5.1 2.1 5.2 .3 5.2-2 5.2-4 5.2-5.7 20.7-28.9 5.2-5.6 5.2-4.5 5.2-2.7 5.2-.6 5.2 1.5 5.2 3.3 5.2 4.7 10.3 12.4 15.6 21.4 5.2 5.9 5.2 4.9 5.1 2.8 5.2 .1 5.2-1.9 5.2-3.5 5.2-5 10.4-13.6 10.3-11.2 5.2-4.3 5.2-2.9 5.2-1.5 5.2-.1 25.9 6.2 5.2 .7 5.2-.4 5.2-1.5 15.6-6 5.1-1.5 5.2-1.2 5.2-.4 10.4 2.2 5.2 2.1 15.5 1.6 5.2 1.7 5.2 3 5.2 4.3 15.6 17.1 5.1 5.1 5.2 3.7 5.2 1.8 5.2-.3 5.2-1.8 5.2-3.4 25.9-24.6 5.2-4.2 5.2-3.2 5.2-1.8 5.2-.2 5.1 1.4 5.2 2.8 15.6 10.9 5.2 2.4 20.7 7 10.4 2.3 5.2 .7 5.2-1 5.2-2.2 5.2-3.5 15.5-13.2 5.2-3.5 5.2-1.7 5.2 0 5.2 1.6"/><path stroke="#1A82D4" d="M111.6 270.8l26-1.6 20.7-2.4 20.8-4 20.7-5.7 26-9.5 20.7-9 15.6-7.9 10.3-5.9 15.6-10.5 10.4-9.6 5.2-6.2 10.3-14.4 10.4-17.4 15.6-28.6 5.2-11.1 15.5-36.7 15.6-45.3 5.2-17.1 5.2-11.7 5.1-.9 5.2 1.7 5.2 2.5 5.2 1.8 5.2-.3 5.2-2.4 5.2-1.5 5.1 1.6 5.2 6.9 5.2 15.1 20.8 69.5 5.2 15.5 10.3 25.4 15.6 34.3 5.2 9.7 5.2 7.9 5.2 5.7 5.1 4.6 57.1 46 31.1 23.6 10.4 6.6 15.6 8.6 36.3 17M111.6 261.7l10.4-3.8 5.2-2.8 5.2-3.6 5.2-4.8 5.2-6.2 5.1-8 10.4-19.1 5.2-5.5 5.2 2.5 10.4 16.5 5.2 6.8 5.1 4.6 5.2 2.9 5.2 1.5 5.2 .6 10.4-.5 10.4-1.8 10.3-2.5 10.4-3.3 10.4-4.2 10.3-4.9 10.4-5.8 10.4-7.2 10.4-9.6 5.2-6.1 10.3-14.3 10.4-17 15.6-27.9 5.2-10.8 15.5-36.2 15.6-45.6 5.2-17.4 5.2-12 5.1-1.2 15.6 4.9 5.2-.7 5.2-2.8 5.2-1.8 5.1 1.8 5.2 9.8 26 87 5.2 15 10.3 25.5 15.6 35.4 5.2 8.9 5.2 6.2 5.2 3.7 5.1 2.5 15.6 5.7 5.2 2.4 36.3 20.3 31.1 15.9 10.4 3.7 10.4 2.7 41.5 8.9"/><path stroke="#D8891A" d="M111.6 111.6l5.2 .3 20.8 2.9 5.2-.1 5.1-.8 5.2-1.8 5.2-2.8 31.1-22 10.4-5.3 5.2-2.1 5.2-1.4 10.4-.8 5.2 .2 10.3 1.4 5.2 1.4 20.8 7.6 5.1 .7 5.2-1.1 5.2-2 10.4-5.5 10.4-6.6 5.2-1.4 5.1-.7 5.2 0 5.2 .7 15.6 3.5 5.2 .4 10.3-1.3 5.2-1.6 5.2-3.1 5.2-5.2 5.2-7.7 10.4-17.4 5.2-6.2 5.1-1.6 5.2 2.9 5.2 7 15.6 29.6 5.2 6.7 5.1 4.6 5.2 3.5 5.2 2.8 5.2 2.1 10.4 2.9 10.4 1.3 10.3 .2 5.2-.4 36.3-5.4 5.2-1.2 10.4-3.8 15.5-8 10.4-4.7 15.6-6 5.2-1.6 5.2-.3 5.1 1.2 10.4 4.9 10.4 8 10.4 6.3 5.2 2 5.1 1.3 5.2 .7 5.2-.3 10.4-1.9 10.4-2.9M111.6 135.9l5.2 1.5 5.2 .4 5.2-.7 5.2-1.9 5.2-3 5.2-3.9 5.1-4.8 15.6-17.2 5.2-5 5.2-3.6 5.2-2.1 5.2-.4 5.1 1.5 5.2 3.5 5.2 4.8 5.2 5.7 10.4 13.2 5.2 5.5 5.2 3.9 5.1 1.8 5.2-.3 5.2-1.7 5.2-3 25.9-19.7 5.2-3.1 5.2-1.7 5.2-.4 5.2 .2 5.2 1.7 5.2 3.6 15.5 12.6 5.2 3.4 5.2 2.1 5.2 .6 5.2-1.7 5.2-3.9 5.1-5.5 5.2-6.7 15.6-24 5.2-6.7 5.2-4.2 5.2-1.5 5.1 2.1 5.2 5.2 5.2 8.3 5.2 11.6 10.4 26.3 5.2 11.2 5.1 8.2 5.2 5.4 5.2 2.1 5.2-1.4 5.2-4.6 5.2-7.4 5.2-9.7 15.5-32.2 5.2-8.5 5.2-5.8 5.2-2 5.2 1.9 5.2 5.6 5.2 9.4 15.5 38.3 5.2 11 5.2 8 5.2 4.3 5.2 .1 5.1-4.1 5.2-7.8 5.2-10.9 15.6-41.3 5.2-12.2 5.2-8.4 5.1-3.4 5.2 1.6 5.2 6 5.2 10.6 15.6 42.7 5.2 12.9 5.1 10.3 5.2 7.1 5.2 3 5.2-.9 5.2-4.4 5.2-7.3 5.2-9.5M111.6 111.2l20.8 3.4 5.2 .4 5.2-.2 5.1-1 5.2-1.8 5.2-2.9 31.1-22.2 15.6-7.6 5.2-1.5 5.2-.7 10.4-.5 10.3 .6 10.4 2.9 15.6 5.7 5.1 1.1 5.2-.4 5.2-1.3 10.4-3.6 10.4-4.7 5.2-.6 10.3 .5 20.8 4.8 5.2 .2 10.3-1.8 5.2-1.9 5.2-3.2 5.2-5.3 5.2-7.8 10.4-18.7 5.2-7.5 5.1-2.8 5.2 2.3 5.2 7 15.6 31.7 5.2 7.4 5.1 5 5.2 3.9 5.2 3.1 5.2 2.4 10.4 3.1 10.4 1.2 10.3-.2 5.2-.7 15.6-3.7 25.9-7.5 10.4-4.5 20.7-10.1 20.8-7.4 5.2-1.2 5.2 0 5.1 1.6 10.4 5.4 10.4 8.1 5.2 3.3 5.2 2.8 5.2 2 5.1 1.4 5.2 .8 5.2-.1 10.4-1.2 10.4-2.2"/><path stroke="#1A82D4" d="M111.6 260.5l20.8-1 20.7-2.4 15.6-2.8 20.7-5.1 26-8.1 25.9-7.4 10.4-3.5 10.4-4.1 10.3-4.8 10.4-5.8 5.2-3.5 10.4-9 5.2-5.9 10.3-13.9 10.4-16.8 15.6-27.8 5.2-10.8 15.5-36.4 15.6-45.5 5.2-17.3 5.2-11.8 5.1-.9 5.2 1.7 5.2 2.5 5.2 1.8 5.2-.4 5.2-2.3 5.2-1.5 5.1 2.6 5.2 12.5 10.4 35.8 15.6 50.7 10.3 26.1 15.6 34.3 10.4 20.4 5.2 8.6 15.5 22.7 10.4 14 10.4 11.7 20.7 20.4 36.3 32.1 10.4 8.3 5.2 1.9 51.9 0M111.6 255.4l41.5-6.3 26-4.8 10.3-2.3 46.7-12.3 15.6-5 15.5-6.3 10.4-5 10.4-6.3 10.4-8.9 10.3-12.3 5.2-7.1 10.4-16.9 15.6-27.6 20.7-47.9 15.6-43.7 5.2-16.3 5.2-11.2 5.1-1 5.2 1.5 5.2 2.3 5.2 1.7 5.2-.5 5.2-2.5 5.2-1.5 5.1 2.2 5.2 11 26 87.2 5.2 14.6 10.3 24.8 15.6 35 5.2 9.7 5.2 8 5.2 6.5 15.5 16.7 20.8 19.9 25.9 22.9 31.1 25 20.8 13.2 10.3 5.9 5.2 2 26 0M111.6 260l26-2.2 25.9-3.1 15.6-2.8 15.5-3.8 41.5-12.2 15.6-5.4 20.7-9.2 10.4-5.7 5.2-3.4 10.4-8.9 5.2-5.7 10.3-13.6 10.4-16.6 15.6-27.6 5.2-10.8 15.5-36.4 15.6-45.7 5.2-17.4 5.2-11.9 5.1-1.1 5.2 1.5 5.2 2.3 5.2 1.7 5.2-.5 5.2-2.4 5.2-1.6 5.1 1.8 5.2 8.9 26 86.6 5.2 15.1 10.3 25.3 15.6 35.2 5.2 10 5.2 8.3 5.2 6.5 10.3 10.6 10.4 9.9 15.6 13.7 20.7 16.6 36.3 26.6 20.8 12.7 25.9 14.5 15.6 0M111.6 264.8l26-2.1 15.5-2 15.6-2.8 20.7-4.7 46.7-13.4 15.6-5 15.5-6.5 15.6-8.6 10.4-8 5.2-4.9 5.2-6 10.3-14.1 10.4-17 15.6-28.1 5.2-10.7 15.5-36.3 15.6-46 5.2-17.6 5.2-12.1 5.1-.9 5.2 2 5.2 2.8 5.2 9 5.2-.3 5.2 4.8 5.2-7.1 5.1-2.9 5.2 .3 5.2 11.1 26 85.6 10.3 26.5 15.6 35.5 10.4 21.7 5.2 8.8 15.5 22.2 10.4 12.4 10.4 10.1 15.5 13.8 41.5 35.1 10.4 8.3 5.2 2.1 46.7 0M111.6 268l20.8-1.8 20.7-3.3 20.8-4.3 20.7-5.8 46.7-16.7 20.8-8.3 10.3-4.8 10.4-5.7 10.4-7.6 5.2-4.7 5.2-5.8 10.3-13.8 10.4-16.8 15.6-28 5.2-10.8 15.5-36.7 15.6-46.4 5.2-17.7 5.2-12.3 5.1-1.3 5.2 1.2 5.2 2 5.2 1.3 5.2-.7 5.2-2.7 5.2-1.7 5.1 2.6 5.2 12.8 20.8 71.4 5.2 17.1 5.2 14.4 5.1 12.9 20.8 47.1 5.2 9.6 5.2 7.8 5.2 6.4 10.3 11.3 10.4 10.5 10.4 9.5 57 48.9 15.6 11.5 15.6 10 5.1 1.2 31.2 0"/><path stroke="#D8891A" d="M111.6 120.4l20.8 15.1 5.2 3.1 5.2 2 5.1 .6 5.2-1.1 5.2-3.1 5.2-4.9 5.2-6.4 5.2-7.3 15.5-25.2 10.4-14.4 5.2-5.4 5.2-3.2 5.2-1 5.2 1 5.2 3 5.1 4.7 5.2 6.1 5.2 7.5 15.6 24.8 5.2 7.4 5.1 5.4 5.2 2.7 5.2 .5 5.2-1.2 5.2-3 25.9-27.3 10.4-9.3 5.2-3.5 10.4-4.9 5.2-1.6 5.1-.4 5.2 .8 5.2 1.7 10.4 4.9 5.2 3.6 10.4 10.4 10.3 13.4 15.6 21.4 5.2 5.7 5.2 2 5.1-1.6 5.2-4.1 5.2-6.2 20.8-33.3 5.2-6.7 5.1-4.8 5.2-2.7 5.2-.6 5.2 1.3 5.2 3.8 5.2 5.8 5.2 7.4 5.2 9.2 15.5 31.2 5.2 9 5.2 7.2 5.2 5.2 5.2 2.8 5.1 .4 5.2-2 5.2-4.6 5.2-6.9 5.2-9 15.6-33.2 5.1-8.9 5.2-7 5.2-5.1 5.2-2.2 5.2 .4 5.2 2.1 5.2 3.9 5.2 5.4 15.5 21.2 10.4 12.7 5.2 4.5 5.2 2.7"/><path stroke="#1A82D4" d="M111.6 273l20.8-1.9 31.1-4.9 25.9-6.1 15.6-4.9 31.1-11.3 20.8-9.5 10.3-5.7 10.4-6.4 10.4-7.7 5.2-4.8 5.2-5.4 5.2-6.4 10.3-14.9 10.4-17.7 15.6-28.8 5.2-11.1 15.5-36.6 15.6-45.5 5.2-17.1 5.2-11.7 5.1-.9 5.2 1.6 10.4 4.3 5.2-.2 5.2-2.3 5.2-1.4 5.1 2.7 5.2 12.1 20.8 70.5 5.2 16.8 5.2 14.2 5.1 12.5 20.8 46.1 5.2 8.9 5.2 6.1 5.2 4 20.7 10.9 5.2 3.3 36.3 27.4 31.1 21.6 20.8 10.6 41.5 18.6"/><path stroke="#D8891A" d="M111.6 150l5.2 3.2 5.2 2.2 5.2 1.2 5.2-.1 5.2-1.3 5.2-2.5 5.1-3.7 5.2-4.8 15.6-18.3 5.2-5.2 5.2-4.3 5.2-2.9 5.1-1.3 5.2 .5 5.2 1.8 5.2 3 5.2 4.2 15.6 14.5 5.1 3.8 5.2 2.7 5.2 2.1 5.2 1.2 10.4-.3 5.2-.8 5.1-1.9 15.6-9.8 10.4-5.6 5.2-1.5 5.2 .4 5.1 1.1 20.8 8.2 5.2 1.6 5.2 .5 10.3-1.1 10.4-2.5 15.6-7.5 10.4-3.5 5.1-.5 5.2 .1 5.2 1.2 10.4 6 5.2 3.9 5.2 2 5.1 .6 20.8 0 5.2 .8 5.2 1.6 10.3 5.3 20.8 13.6 10.4 5.7 10.3 4.2 5.2 .9 5.2-.2 5.2-1.7 5.2-3.1 5.2-4.4 5.2-5.2 20.7-23.1 5.2-4.5 5.2-3.6 5.2-1.6 5.2 1.4 5.1 4.9 5.2 7.6 5.2 9.5 15.6 35.2 5.2 9.7 5.2 7.2 5.1 4.4 5.2 1.3 5.2-2.2 5.2-5.1 5.2-7.6 10.4-19.9"/><path stroke="#1A82D4" d="M111.6 270l15.6-2 31.1-5.2 20.8-4.4 15.5-4.2 36.3-12.6 20.8-8.1 20.7-9.7 10.4-6.1 5.2-3.7 10.4-9.4 5.2-6.2 10.3-14.3 10.4-17.5 15.6-28.6 20.7-47.9 15.6-44.7 5.2-16.8 5.2-11.5 5.1-1 5.2 1.5 5.2 2.4 5.2 1.7 5.2-.4 5.2-2.4 5.2-1.5 5.1 1.5 5.2 7.2 5.2 15.4 20.8 69.5 5.2 15.5 10.3 25.4 15.6 34.7 5.2 10.5 5.2-55.8 5.2 73.2 15.5 20.8 10.4 12.1 20.7 19.8 46.7 40.5 15.6 12.1 46.7 0"/><path stroke="#D8891A" d="M111.6 86.9l5.2-3.5 5.2-2.4 5.2-1.3 5.2-.1 5.2 1.1 15.5 6.4 5.2 1.4 5.2 .6 5.2-.3 5.2-1 5.2-1.8 25.9-13.1 5.2-1.3 5.2-.1 5.2 1 5.2 2 5.1 3.1 5.2 4.1 5.2 5.1 15.6 16.8 5.2 4.4 5.1 2.2 5.2-.7 5.2-3 5.2-4.8 5.2-6.6 10.4-17.1 10.3-14.5 5.2-5.8 5.2-4 5.2-2.1 5.2-.1 5.2 2 5.2 3.4 5.2 4.6 15.5 19.3 5.2 5.4 5.2 3.6 5.2 1.8 5.2 .1 5.2-2.1 5.1-3.6 10.4-10.5 10.4-9.2 5.2-3.4 10.3-8.3 5.2-2.9 5.2-1.3 5.2 .3 5.2 2 5.2 3.4 5.2 4.6 15.5 15.9 5.2 4.2 5.2 3 5.2 2 5.2 .9 20.7-1.8 10.4 .3 10.4 2.1 15.5 4.7 5.2 .9 5.2 0 5.2-1.1 5.2-2.4 15.5-9.9 5.2-3.5 20.8-16 5.2-3.5 5.2-2.3 5.1-.3 5.2 2.3 5.2 4.7 5.2 7.5 5.2 9.9 10.4 23M111.6 181l10.4-2.9 25.9-8.8 20.8-8.1 10.4-2.8 5.2-1 5.1-.4 5.2 .3 10.4 1.5 15.6 5.3 10.3 2.4 15.6 .3 15.6-2.7 5.1-1.7 15.6-7.6 10.4-3.5 5.2-.4 5.2 1.5 5.1 2.3 5.2 3.1 20.8 14.7 5.2 2.1 5.2 .5 5.1-.5 5.2-1.9 5.2-3.5 5.2-5.4 20.8-29.5 5.1-5.4 5.2-3.4 5.2-.5 5.2 3.2 5.2 5.7 5.2 9 10.3 19.7 15.6 35.1 5.2 10.7 5.2 8.7 5.2 6 5.2 2.6 5.1-1.1 5.2-4.5 5.2-7.9 5.2-10.3 15.6-36.3 5.2-10.5 5.1-8.5 5.2-6 5.2-3.2 5.2-.3 5.2 2.6 5.2 5.2 5.2 7.6 15.5 28.2 5.2 7.8 5.2 5.2 5.2 1.9 5.2-1.3 5.2-3.7 5.1-5.5 5.2-7.4 20.8-36.1 5.2-7.8 5.2-6.3 5.1-4 5.2-1.5 5.2 .8 5.2 3.5 5.2 6 5.2 7.8 5.2 9.1M111.6 110.3l5.2 3.6 15.6 12.6 5.2 3.5 5.2 2.7 5.1 1.4 5.2 0 5.2-1.7 5.2-3.1 10.4-8.6 15.5-14.2 5.2-3.7 5.2-3 5.2-2.2 5.2-.9 5.2 .3 5.2 1.1 5.2 1.7 10.3 4.6 15.6 8.9 10.4 4.8 5.1 .8 5.2-.9 10.4-4 10.4-5.2 5.2-1.9 5.2-.1 5.1 .7 5.2 1.5 20.8 9.9 5.2 1.1 5.2-.3 5.1-1.3 5.2-2.6 5.2-4.1 5.2-5.9 20.8-30.7 5.1-5.5 5.2-3.5 5.2-.8 5.2 2.8 5.2 5.3 15.5 26.7 20.8 43.4 5.2 8.7 5.2 6.1 5.2 2.9 5.1-.8 5.2-4.5 5.2-8 5.2-11 15.6-40 5.2-11.9 5.1-9.5 5.2-6.7 5.2-3.5 5.2-.2 5.2 3.1 5.2 6.1 5.2 8.8 5.1 10.9 15.6 36.3 5.2 9.9 5.2 7 5.2 4.4 5.2 2.1 5.1 0 5.2-2.3 5.2-4.8 5.2-6 5.2-7.1 15.6-24.5 5.1-6.4 5.2-4.1 5.2-2 5.2 .6 5.2 3.1 5.2 5.1 5.2 6.4M111.6 166.3l5.2-2.1 10.4-5.5 31.1-19.7 10.4-5.9 20.7-8.2 15.6-5.5 5.2-1.2 10.4-1 5.2 .2 10.3 2 5.2 2.3 5.2 3 15.6 10.9 5.1 2.9 5.2 1.4 5.2 .4 5.2-.4 5.2-1.3 10.4-5.4 20.7-8.8 15.6-5.5 25.9-10.4 15.6-8.3 10.4-4 5.1-.7 5.2-.1 5.2 1.1 15.6 7.6 5.2-1.9 5.1-7 5.2-11.8 10.4-33 5.2-14.1 5.2-6.6 5.2 3.4 5.2 12.7 10.3 38.1 5.2 16.4 5.2 11.3 5.2 6.5 5.2 2.4 5.2-.1 15.5-3.3 10.4-1.6 31.1-3.6 10.4-3 10.4-4.9 5.2-1.4 5.1 0 10.4 2.6 20.8 12.1 15.5 6.7 5.2 1.3 10.4 1.7 5.2 .1 5.2-.5M111.6 125.3l10.4-5.9 10.4-4.3 5.2-1.1 20.7-2.6 46.7-13.1 10.4-1.7 10.4-.9 10.3 .1 5.2 1.3 10.4 5.1 15.5 11.6 5.2 2.5 5.2 1.7 5.2 1.1 5.2 .1 20.7-6.4 15.6-7 10.4-5.3 15.5-10.4 20.8-12.3 5.2-2.4 5.2-1.2 5.2-.1 5.1 1.6 5.2 2.9 5.2 4.7 10.4 14.5 5.2 8.6 5.2 6.9 5.1 5.1 5.2 4 5.2 2.7 5.2 1.3 5.2-.2 5.2-1.3 5.2-2.5 5.2-3.3 20.7-15.3 5.2-2.4 5.2-1.3 5.2 0 5.2 2 5.1 3.8 5.2 5.1 20.8 26 5.2 5.8 5.1 4.7 5.2 3.1 5.2 1 5.2-1.5 5.2-4.2 5.2-7 20.7-37.5 5.2-8.8 5.2-7 5.2-5.3 5.2-4.2 5.2-2.2 5.2-.3 5.1 2.1 5.2 4.3 5.2 6 5.2 7.7 15.6 27.1"/><path stroke="#1A82D4" d="M111.6 269.9l26-3 25.9-3.9 20.8-4.7 15.5-4.8 36.3-13.3 20.8-9.2 10.3-5.4 10.4-6.1 10.4-7.4 5.2-4.5 5.2-5.2 5.2-6.2 10.3-14.4 10.4-17.1 15.6-27.9 5.2-10.9 15.5-36.1 15.6-45 5.2-17.1 5.2-11.7 5.1-1 5.2 1.6 5.2 2.3 5.2 1.7 5.2-.4 5.2-2.4 5.2-1.6 5.1 2.7 5.2 12.4 20.8 70.7 5.2 16.9 5.2 14.3 20.7 48 5.2 10.6 5.2 8.6 5.2 6.6 5.2 5.1 10.3 8.2 20.8 14.5 31.1 20.2 25.9 14.9 5.2 2.5 10.4 3.4 10.4 2.4 20.7 3.5 20.8 5.2"/><path stroke="#D8891A" d="M111.6 113l10.4-8 5.2-2.5 5.2-.9 5.2 .8 5.2 2.3 10.3 6.7 5.2 2.8 5.2 1.8 5.2 .8 5.2 0 5.2-1 5.2-1.7 10.3-4.8 20.8-14.1 10.4-6 5.1-1.8 5.2-.7 5.2 1 5.2 2.6 5.2 3.7 15.5 15.6 10.4 7.6 5.2 2.8 5.2 1.5 5.2-.6 10.4-4.4 5.1-4.1 5.2-5.2 15.6-18.6 10.4-10.5 5.2-3.9 5.1-1.8 5.2 .4 5.2 2.2 5.2 3.6 5.2 4.6 20.7 23.2 5.2 4.3 10.4 5.3 5.2 .3 5.2-.7 5.2-4 15.5-17.7 5.2-3.8 5.2-1.3 5.2 1.6 5.2 4.4 5.2 7 15.5 27.6 5.2 8.4 5.2 7.4 5.2 5.4 5.2 2.9 5.2 .4 5.1-2.4 5.2-5.6 5.2-8.6 5.2-11.1 10.4-25.2 5.2-11.2 5.1-8.5 5.2-5.1 5.2-1.4 5.2 2 5.2 4.8 5.2 6.6 5.2 8.3 5.2 10 10.3 22.8 10.4 20 5.2 7.2 5.2 3.4 5.2-.4 5.2-4.2 5.1-7.4 5.2-9.7 15.6-33 5.2-9.3 5.2-8M111.6 102.2l5.2 .5 26 4.5 5.1 .2 5.2-.5 5.2-1.5 5.2-2.2 10.4-5.7 15.5-9.6 10.4-5.2 5.2-2.1 5.2-1.3 5.2-.5 10.4 .7 10.3 2.9 10.4 5.9 15.6 11 5.1 2.7 5.2 1.1 10.4-.3 5.2-1.1 10.4-3.9 36.3-5 15.5-4.1 26-4 10.4-.7 10.3 .6 5.2 .9 15.6 6.8 5.2 .5 20.7-4.7 5.2 0 5.2 1.2 5.2 2.5 5.2 3.6 15.5 13.1 5.2 3.1 5.2 2.3 5.2 1.1 5.2-.2 5.2-.9 5.1-1.5 5.2-2.2 5.2-3 5.2-3.7 15.6-13.1 5.1-3.9 5.2-3.1 5.2-2.1 5.2-.8 5.2 .3 5.2 1.3 5.2 2.9 5.2 4.8 5.1 6.8 20.8 31.4 5.2 5.2 5.2 3.4 5.2 1.2 5.1-.6 5.2-2.2 5.2-3.9 10.4-10.7 10.4-13"/><path stroke="#1A82D4" d="M111.6 265l20.8-2.3 20.7-3.5 20.8-4.7 20.7-5.8 41.5-13.7 15.6-6.1 20.7-9.8 10.4-6.3 5.2-3.9 5.2-4.6 5.2-5.5 10.3-13 5.2-7.3 5.2-8 20.8-36 15.5-33.7 5.2-12.3 15.6-44.4 5.2-17.4 5.2-11.9 5.1-1 5.2 1.5 5.2 2.3 5.2 1.7 5.2-.5 5.2-2.6 5.2-1.7 5.1 1.7 5.2 8.9 26 85.7 5.2 14.9 10.3 25 5.2 11 10.4 24 10.4 20.5 5.2 8.7 15.5 24.4 5.2 7.3 10.4 12.5 15.5 15.7 15.6 14.1 36.3 30.8 57.1 .1"/><path stroke="#D8891A" d="M111.6 142.4l20.8-26.6 5.2-5.8 5.2-4.7 5.1-3.3 5.2-2 5.2-.5 5.2 1.1 5.2 2.8 5.2 4.4 5.2 5.5 15.5 17.8 5.2 4.2 5.2 2.6 5.2 1.2 5.2-.4 5.2-2 5.2-3.4 20.7-19 5.2-4.1 5.2-3.1 15.5-5.1 5.2-.9 5.2 .2 10.4 2.2 5.2 2.3 20.7 15.3 5.2 2.9 5.2 1.9 5.2 .7 5.2-.9 5.2-2.3 25.9-14.4 5.2-1.8 5.2-.3 5.2 .5 10.3 4.1 5.2 3.1 15.6 12.4 5.2 1.7 5.1-.1 15.6-2.9 5.2-.2 5.2 1.1 5.2 2.5 5.2 4.1 5.1 5.6 20.8 27.5 5.2 5.9 5.2 4.5 5.2 3.3 5.1 1.9 5.2 0 5.2-2.1 5.2-4.4 5.2-6.7 5.2-9 5.2-11 20.7-51.4 5.2-10.8 5.2-8.5 5.2-5 5.2-.6 5.1 4.1 5.2 7.7 5.2 10.2 15.6 39.3 5.2 12.1 5.2 10.1 5.1 8 5.2 5.2 5.2 2.1 5.2-.8 5.2-3.1 5.2-5.1 5.2-6.5"/><path stroke="#1A82D4" d="M111.6 269.6l20.8-1.8 25.9-3.4 15.6-3 15.5-4.1 46.7-16.4 15.6-6.1 10.4-4.9 10.3-5.5 10.4-6.5 5.2-3.9 10.4-9.9 5.2-6.4 10.3-14.7 10.4-17.6 15.6-28.7 5.2-11 15.5-36.6 15.6-45.6 5.2-17.3 5.2-11.8 5.1-1.1 5.2 1.5 10.4 4.1 5.2-.4 5.2-2.3 5.2-1.4 5.1 2.4 5.2 10.9 26 87.9 5.2 14.7 10.3 24.8 15.6 34.7 5.2 9.7 5.2 7.8 5.2 6.2 10.3 10.6 26 24 25.9 21.5 36.3 28.3 15.6 10.3 15.5 9.4 5.2 1.8 20.8 0"/><path stroke="#D8891A" d="M111.6 109.1l5.2-3.2 15.6-11.6 10.4-5.9 5.1-1.9 5.2-1.2 5.2-.8 5.2 0 5.2 .8 5.2 1.9 5.2 2.8 5.2 3.5 15.5 12.5 10.4 6.2 5.2 1.6 5.2-.1 5.2-1.9 5.1-3.6 5.2-5.2 20.8-24.4 5.2-4.4 5.1-3.6 5.2-2.7 5.2-.9 5.2 1.3 5.2 3.2 5.2 4.2 5.2 5.8 15.5 21.4 5.2 5.6 5.2 3.9 5.2 1.8 5.2-.3 5.2-3.2 5.2-5.6 5.1-7.2 10.4-17.5 10.4-19.2 5.2-8.3 5.2-5.9 5.2-3.8 5.1-.5 5.2 2.2 5.2 5.1 5.2 8.3 5.2 9.7 5.2 11.2 5.2 9.8 5.1 8.2 5.2 7 5.2 5.6 5.2 3.9 5.2 2 5.2 .3 5.2-1.5 5.2-2.8 15.5-11.1 5.2-2.8 5.2-1.5 5.2-.3 5.2 .5 10.3 3.1 5.2 .9 5.2-.7 5.2-2.7 5.2-4.8 5.2-6.6 15.5-24.5 5.2-7 5.2-5.2 5.2-2.9 5.2-.6 5.2 2.4 5.2 5.7 5.1 8.7 20.8 41.7 5.2 7.3 5.2 4.9 5.2 2.1 5.1-.6 5.2-2.9 5.2-5.3 5.2-6.9 15.6-23.7"/><path stroke="#1A82D4" d="M111.6 268.7l20.8-1.9 25.9-3.7 20.8-4.5 15.5-4.4 41.5-15.5 20.8-9 20.7-10.6 10.4-6.7 5.2-4.2 5.2-4.9 5.2-5.9 10.3-14 10.4-17 15.6-28.1 5.2-10.9 15.5-36.4 15.6-45.5 5.2-17.3 5.2-11.8 5.1-1.1 15.6 5.1 5.2-.7 5.2-2.6 5.2-1.8 5.1 1.1 5.2 6 5.2 14.2 20.8 69.6 5.2 15.9 5.1 13.7 20.8 48.6 5.2 10.8 5.2 9.3 5.2 7.5 15.5 17.9 10.4 10.6 10.4 9.8 25.9 21.9 36.3 27.6 31.1 19.6 5.2 .4 20.8 0M111.6 271.6l20.8-2 25.9-4.2 31.1-7.2 15.6-4.7 25.9-9.4 15.6-6.9 15.6-8.1 10.3-5.9 10.4-6.7 5.2-3.9 10.4-9.7 5.2-6.3 10.3-14.4 10.4-17.5 15.6-28.4 5.2-11.1 15.5-36.5 15.6-44.6 5.2-16.8 5.2-11.4 5.1-.9 5.2 1.6 10.4 4.5 5.2-.3 5.2-2.2 5.2-1.4 5.1 2 5.2 9.8 26 86.4 5.2 14.6 10.3 24.4 15.6 34.2 5.2 10 5.2 8.7 5.2 7.5 10.3 13.4 15.6 18.4 20.7 20 46.7 40.2 15.6 11.8 5.2 1.2 41.5 0M111.6 257.3l15.6-1.4 31.1-4.8 20.8-3.8 15.5-3.6 46.7-13.5 20.8-7.3 10.3-4.3 10.4-5.2 10.4-7.2 5.2-4.6 5.2-5.7 10.3-13.8 10.4-17 15.6-28.3 5.2-10.9 15.5-36.5 15.6-45.2 5.2-17.1 5.2-11.7 5.1-.6 15.6 6.2 5.2-.3 5.2-2.4 5.2-1.7 5.1 1.9 5.2 9.4 26 86.3 5.2 14.9 5.1 13 20.8 47.8 5.2 10.1 5.2 8.4 5.2 6.7 15.5 16.7 20.8 18.9 20.7 16.6 41.5 30.9 31.1 20 5.2 1.6 20.8 0"/><path stroke="#D8891A" d="M111.6 131.3l15.6-3.5 20.7-2.5 5.2-1.2 5.2-2.1 5.2-2.7 20.8-12.9 5.1-2.8 10.4-3.5 5.2-.9 5.2 .4 5.2 1.2 10.4 3.9 10.3 4.9 26 14.8 5.1 2.1 5.2 .7 10.4-.4 5.2-.8 10.4-3.5 20.7-4.3 10.4-3.2 5.2-1.9 15.5-8.3 20.8-9.8 5.2-2.1 5.2-1.1 5.2-.4 5.1 1 5.2 2 5.2 3.4 10.4 11.4 5.2 7 5.2 5.5 5.1 4.3 10.4 7.3 10.4 5.4 5.2 2 5.2 1.2 5.2 .3 5.1-.7 5.2-1.6 5.2-2.6 20.8-13.9 5.2-2.3 5.1-1.2 5.2-.3 5.2 .5 5.2 1.1 10.4 4 10.3 6.5 15.6 11.7 5.2 2.9 5.2 1.5 10.4 .3 5.1-.4 5.2-1 10.4-4.4 5.2-2.7 10.4-8.5 15.5-14.2 5.2-4.3 5.2-3.4 5.2-2.4 5.2-1.3 5.2-.2M111.6 89.6l5.2-2.1 5.2 0 5.2 2.1 5.2 3.9 15.5 17.5 5.2 4.8 5.2 2.7 5.2 .4 5.2-2 5.2-4.1 5.2-5.9 15.5-21.6 5.2-5.9 5.2-4.3 5.2-1.8 5.2 .6 5.2 2.4 5.2 3.8 5.1 4.9 15.6 15.6 5.2 3.8 5.2 2.5 5.2 1 5.1-1.4 5.2-3.7 20.8-21.2 5.2-4 5.2-1.6 5.1-.2 5.2 1.1 5.2 2.4 15.6 8.9 5.2 1.4 5.2-.4 5.1-1.6 5.2-2.7 5.2-3.9 15.6-14.6 5.2-3 5.2-1.6 5.1 .5 5.2 2 5.2 3.8 15.6 18.4 5.2 4.3 5.1 2.2 5.2 .9 5.2-.2 15.6-2.4 5.2 .3 5.2 1.7 5.1 3.2 5.2 4.6 15.6 16.1 5.2 4 5.2 2 5.2-.2 5.1-2.8 5.2-5.7 5.2-8.4 5.2-10.5 10.4-23.6 5.2-10.7 5.1-8.1 5.2-4.9 5.2-1 5.2 2.7 5.2 5.9 5.2 8 15.5 28.1 5.2 6.8 5.2 2.9 5.2-.3 5.2-3.8 5.2-7.6 15.5-30.5 5.2-7.9 5.2-5 5.2-1 5.2 3.5 5.2 7.5 5.2 10.8"/><path stroke="#1A82D4" d="M111.6 266.3l20.8-1.2 20.7-2.7 20.8-4.2 20.7-5.4 41.5-14.1 15.6-6.2 20.7-9.9 10.4-6.1 5.2-3.7 10.4-9.5 5.2-6.1 10.3-14.4 10.4-17.4 15.6-28.4 5.2-11 15.5-36.5 15.6-45.3 5.2-17.2 5.2-11.7 5.1-1.1 5.2 1.4 5.2 2.3 5.2 1.5 5.2-.6 5.2-2.5 5.2-1.7 5.1 1.8 5.2 8.6 26 86.8 5.2 15.3 10.3 25.7 15.6 35.6 5.2 10.1 5.2 8.3 5.2 6.4 10.3 10.4 5.2-31.1 5.2 40.9 15.6 14 20.7 17.2 31.1 23.6 10.4 7.2 41.5 23.6 5.2 .8 10.4 0"/><path stroke="#D8891A" d="M111.6 98.1l5.2 5.4 15.6 19.6 5.2 4.4 5.2 2 5.1-.9 5.2-4 5.2-7 15.6-28.2 5.2-8 5.2-5.6 5.1-2.6 5.2 1 5.2 3.9 5.2 6.5 15.6 27.2 5.2 7.4 5.1 4.8 5.2 1.8 5.2-1 5.2-3.7 5.2-6.2 20.7-31.7 5.2-6.1 5.2-3.2 5.2-.5 5.2 1.9 5.2 4.7 15.5 24.5 5.2 7.2 5.2 5.1 5.2 2.3 5.2-.8 5.2-4.4 5.2-7.4 15.5-28.1 5.2-8.6 5.2-6.6 5.2-3.5 5.2 .4 5.2 4 5.1 7.6 5.2 10.2 15.6 38.2 5.2 11.1 5.2 6.2 5.1 .9 5.2-3.5 5.2-7.5 5.2-10.5 10.4-24.3 5.2-10.5 5.2-7.3 5.1-3.3 5.2 1.1 5.2 4.9 5.2 8 15.6 32.2 5.2 8.8 5.1 5.8 5.2 1.5 5.2-3.2 5.2-7.9 5.2-11.9 15.5-44 5.2-11.5 5.2-7.3 5.2-2.4 5.2 2.8 5.2 7.3 5.2 11.6 5.2 15 10.3 33.5 5.2 13.6 5.2 10.1 5.2 5 5.2-1.5 5.2-7 5.2-11.7 15.5-44.3 5.2-11.7 5.2-7.3 5.2-2.5 5.2 2.4"/><path stroke="#1A82D4" d="M111.6 263.5l20.8-2 20.7-3.1 15.6-3.3 20.7-5.6 46.7-15.8 15.6-6.1 20.7-10 10.4-6.3 5.2-4.1 5.2-4.7 5.2-5.5 10.3-12.9 5.2-7.2 5.2-7.9 20.8-34.6 15.5-32.6 5.2-11.9 15.6-43.8 5.2-17.3 5.2-11.9 5.1-1 15.6 5.3 5.2-.6 5.2-2.6 5.2-1.8 5.1 3 5.2 14.2 5.2 18.6 15.6 51.4 5.2 16.1 5.2 13.7 20.7 47.7 5.2 10.8 5.2 8.6 5.2 5.6 5.2 3.5 20.7 8.8 5.2 2.8 31.1 21.7 31.1 19.9 15.6 8.4 51.9 25.4M111.6 257.4l20.8-2 20.7-3 15.6-3.2 15.6-3.9 25.9-8.2 25.9-6.9 15.6-5.3 15.5-7 10.4-6 5.2-3.9 5.2-4.6 5.2-5.6 15.5-19.8 5.2-7.1 20.8-31.9 5.2-9.2 15.5-31.4 5.2-11.7 10.4-27.3 5.2-15.2 5.2-17.6 5.2-12 5.1-.8 5.2 1.7 10.4 4.5 5.2-.2 5.2-2.2 5.2-1.4 5.1 2.7 5.2 12.3 10.4 35.8 15.6 50.9 10.3 26.5 15.6 34.9 10.4 21 10.4 16.3 15.5 21.5 10.4 12.6 10.4 10.5 10.3 9.7 20.8 17.7 25.9 21 10.4 7.8 5.2 2.4 46.7 0"/><path stroke="#D8891A" d="M111.6 110.8l5.2 3.4 20.8 17.8 5.2 3.4 5.1 2 5.2 .1 5.2-2.1 5.2-4.3 5.2-6 5.2-7.1 15.5-24.2 5.2-6.7 5.2-5.6 5.2-4 5.2-1.6 5.2 .6 5.2 2.5 5.2 4.1 5.1 5.5 5.2 6.6 15.6 23.3 5.2 7.1 5.2 6.1 5.1 3.6 5.2 .7 5.2-1.7 5.2-3.7 5.2-5.7 15.6-23.7 10.3-14 5.2-5.2 5.2-3.6 5.2-1.7 5.2 .5 5.2 2 5.2 3.7 5.1 5.5 15.6 20.8 5.2 5.2 5.2 3.7 5.2 2.2 5.2-.1 5.1-1.8 5.2-3.7 5.2-5.1 5.2-5.4 10.4-12.2 10.3-15.7 5.2-7 5.2-5 5.2-2.3 5.2 .8 5.2 4.2 5.2 7.4 5.2 10.4 15.5 37.9 5.2 11.3 5.2 9.6 5.2 7.3 5.2 4.3 5.2 1.7 5.1-1.2 5.2-4.2 5.2-7.1 5.2-9.7 5.2-11.7 15.5-39.2 5.2-11.4 5.2-9.3 5.2-6.7 5.2-3.7 5.2-.8 5.2 2.6 5.2 6.6 5.1 10.1 5.2 12.5 15.6 40.3 5.2 10.2 5.2 7.2 5.2 3.7 5.1 .4 5.2-2.7 5.2-5.7 5.2-7.7 5.2-9.1 10.4-19.5M111.6 161.3l10.4-6.8 25.9-22.9 15.6-12.1 5.2-3.1 5.2-2.3 10.4-3.3 5.1-1 15.6-1.3 10.4 .7 15.5 2 5.2 1 5.2 1.8 20.8 10.4 5.1 1.3 5.2-1 5.2-3.1 5.2-5.2 5.2-8 5.2-11.2 15.5-39.2 5.2-10.2 5.2-5.6 5.2-.1 5.2 5.2 5.2 9.2 10.4 20.9 5.1 8.7 5.2 6.3 5.2 3.8 5.2 1.3 5.2-.8 15.6-4.1 5.1-.2 5.2 .7 5.2 1.9 10.4 7.9 5.2 4.7 5.2 2.6 5.1 1.1 5.2 .3 15.6 .2 25.9 3.1 5.2 .1 20.8-1.3 20.7 1.7 5.2 .2 10.4-.5 10.3-1.6 10.4-2.9 10.4-5.1 10.4-7.1 5.2-2.4 5.1-.8 5.2 .3 5.2 1.1 10.4 5.5 10.4 4.8 10.3 2.9 10.4 1.3 10.4 .1 10.4-.7"/><path stroke="#1A82D4" d="M111.6 257.8l20.8-1 20.7-2.2 15.6-3 15.6-4.2 31.1-10.9 25.9-8.1 15.6-5.8 20.7-9.3 10.4-6 5.2-3.8 5.2-4.5 5.2-5.4 10.3-12.8 10.4-15.9 15.6-26.8 5.2-10.9 15.5-36.4 15.6-45.7 5.2-17.3 5.2-11.8 5.1-1.2 5.2 1.4 5.2 2.3 5.2 1.6 5.2-.6 5.2-2.5 5.2-1.6 5.1 5.2 10.4 38.8 15.6 51.9 5.2 15 10.3 25.3 5.2 11 5.2-17.3 5.2 41.5 5.2 10.2 5.2 8.2 5.2 5.9 5.2 4.4 25.9 18.1 36.3 28.4 25.9 18.8 10.4 6.1 10.4 5.2 46.7 20.5M111.6 273.4l20.8-1.9 25.9-3.8 15.6-3.4 15.5-4.5 15.6-5.9 46.7-19.9 20.7-10.7 10.4-6.5 5.2-3.9 10.4-9.7 5.2-6.2 10.3-14.7 10.4-17.7 15.6-28.8 20.7-47.6 15.6-44.4 5.2-16.7 5.2-11.3 5.1-.7 15.6 6.3 5.2-.3 5.2-2.3 5.2-1.5 5.1 4.3 26 88.4 5.2 15.5 5.2 13.3 20.7 47.4 5.2 10.4 5.2 8.8 5.2 6.7 5.2 5.7 15.5 14.9 20.8 18.2 15.5 12.8 36.3 27.6 10.4 6.9 20.8 12.1 5.1-100.2 5.2 105.9 5.2 3 5.2 .8 15.6 0"/><path stroke="#D8891A" d="M111.6 150l5.2-4.8 5.2-6.1 15.6-20.8 5.2-6 5.1-4.9 5.2-3.6 5.2-2.5 5.2-1 5.2 .4 5.2 1.9 5.2 2.8 15.5 10.7 5.2 2.9 5.2 2.1 5.2 1.4 5.2 .5 5.2-.8 5.2-1.8 5.1-2.9 15.6-10.2 5.2-3 5.2-2.3 20.7-6.5 15.6-2.5 5.2 0 25.9 7.6 10.4 1.8 15.5-1.2 26-.9 10.4 .8 15.5 3.2 15.6 5.8 5.2-.7 5.1-2.6 15.6-9.5 5.2-1.5 5.2 .3 5.2 2.6 5.2 4.9 5.1 6.9 20.8 35.5 5.2 7.6 5.2 5.6 5.2 3.8 5.1 1.4 5.2-1.5 5.2-4.4 5.2-7.5 5.2-10.1 20.7-50.6 5.2-10.7 5.2-8.5 5.2-5.8 5.2-3 5.2 .6 5.2 4.6 5.1 8.8 5.2 11.7 5.2 13.4 10.4 29.4 5.2 12.6 5.2 10.1 5.2 6.7 5.1 3.2 5.2-.5 5.2-4.2 5.2-7.2 5.2-9.4 10.4-22.7M111.6 135.4l15.6-6.5 41.5-20.5 20.7-8.2 15.6-4.3 5.2-.5 5.2 .2 10.4 1.4 10.3 2.2 26 8.3 5.1 0 5.2-2.4 5.2-5.2 5.2-9.1 5.2-13.9 10.4-35.6 5.2-10.4 5.1-.3 5.2 9.8 10.4 31 5.2 11.5 5.2 6.6 5.2 2.2 5.2-.8 10.3-4.2 5.2-2.7 15.6-9.6 10.4-3.7 5.1-.3 5.2 .4 5.2 1.5 10.4 7 5.2 4.5 5.2 2.9 5.1 1.6 36.4 7.5 36.3 5.3 15.5 3.4 5.2 .3 5.2-.6 5.2-1.5 5.2-2.2 25.9-12.3 15.6-8.7 5.2-2.1 5.1-.7 10.4 1.1 20.8 9.3 10.3 2.4 5.2 .4 10.4-1.5 5.2-1.2 10.4-3.8"/><path stroke="#1A82D4" d="M111.6 248.6l20.8-1.3 20.7-2.3 10.4-1.6 15.6-3.4 10.3-2.8 26-8.1 31.1-7 15.6-4.8 10.3-3.7 10.4-4.7 10.4-6.6 5.2-4.3 5.2-5.3 10.3-12.8 10.4-16 15.6-26.9 5.2-11 15.5-36.3 15.6-45.1 5.2-17.2 5.2-11.7 5.1-1.1 15.6 5.2 5.2-.6 5.2-2.7 5.2-1.8 5.1 1.3 5.2 6.9 5.2 15.2 20.8 69.1 5.2 15.4 10.3 25.7 15.6 35.3 10.4 20.1 5.2 7.9 10.3 13.7 15.6 18.5 10.4 10.4 15.5 14.2 41.5 34.5 20.8 14.8 5.2 2.1 36.3 0M111.6 261.9l26-2.9 36.3-5.7 20.7-4.4 31.2-8.5 15.5-4.9 15.6-6.6 15.5-8.1 10.4-6.5 5.2-3.8 10.4-9.5 5.2-6.1 10.3-13.9 10.4-16.7 15.6-27.2 5.2-10.8 15.5-35.7 15.6-44.6 5.2-17 5.2-11.6 5.1-1 15.6 5.4 5.2-.6 5.2-2.7 5.2-1.7 5.1 5.6 10.4 39.5 15.6 51.6 5.2 14.8 10.3 25.1 15.6 35.4 5.2 10.1 5.2 8.8 5.2 7.5 15.5 20.6 15.6 18 15.5 14.3 15.6 13.2 31.1 25.1 15.6 11.3 5.2 2.1 46.7 0"/><path stroke="#D8891A" d="M111.6 135.5l5.2 5.5 5.2 3.9 5.2 1.9 5.2-.2 5.2-2 5.2-3.5 5.1-4.6 15.6-15.8 5.2-4.1 5.2-2.9 5.2-1.6 5.2-.6 5.1 .4 20.8 4.6 5.2 .4 5.2-.5 5.2-1.6 15.5-7.6 5.2-1.5 5.2-.3 5.2 1.5 5.2 3.5 10.3 9.4 15.6 17.1 5.2 4.1 10.4 6 5.1 .6 5.2-1.6 5.2-3.7 5.2-5.8 5.2-7.4 15.6-25.5 5.1-6.5 5.2-4.2 5.2-1.6 5.2 .5 5.2 2.3 5.2 4.4 10.4 12.8 10.3 14.2 10.4 12.3 5.2 4.4 5.2 3.2 5.2-.5 5.1-3.2 15.6-13.9 5.2-3.2 5.2-1.3 5.2 .8 5.2 2.8 5.1 4.4 10.4 10.1 5.2 3.8 5.2 2.5 5.2 .4 5.2-1.9 5.2-3.4 20.7-19.4 5.2-3.3 5.2-1.4 5.2 .6 5.1 2.6 5.2 4.1 10.4 9.7 5.2 3.9 5.2 2.1 5.2 .5 5.2-.7 5.1-1.7 5.2-3.1 10.4-9.8 15.6-16.8 5.2-3.9 5.1-1.6 5.2 1.3 5.2 3.8 5.2 6.3 15.6 26.4M111.6 133.8l5.2-6.8 5.2-5.3 5.2-3.3 5.2-1.2 5.2 1.2 5.2 3.3 15.5 14.9 5.2 3.6 5.2 1.8 5.2-.2 5.2-2.7 5.2-5 5.1-6.8 15.6-24.3 5.2-6.9 5.2-5 5.2-2.9 5.2-.5 5.1 2.2 5.2 5.1 5.2 8.1 5.2 10.6 15.6 35.7 5.1 8.7 5.2 4.6 5.2 .6 5.2-2.9 5.2-6.1 15.6-28.1 5.1-8.2 5.2-6.8 5.2-4.7 5.2-2.5 5.2-.3 5.2 1.8 5.2 3.3 5.2 4.2 15.5 16.7 5.2 3.9 5.2 2 5.2 .5 5.2-.6 20.7-7.6 10.4 .4 5.2 1.7 10.3 .9 5.2 1 5.2 2.2 5.2 3.7 5.2 5.2 15.6 19.5 5.1 5.2 5.2 3.2 5.2 .7 5.2-1.9 5.2-3.4 10.4-9.3 5.2-3.4 5.1-1.6 5.2 .1 15.6 5 5.2 .4 5.2-1.4 5.1-3.5 5.2-5.5 5.2-7.4 15.6-27.2 5.2-7.1 5.2-3.4 5.1 1.4 5.2 6.1 5.2 9.8 15.6 42.9 5.2 12.2 5.2 8.6 5.1 4.1 5.2-.7 5.2-5.5 5.2-9.3 5.2-11.7 10.4-26.8M111.6 178.6l10.4 3.7 25.9 13.9 5.2 1.9 5.2 .8 5.2-.3 5.2-1.4 5.2-2.2 5.2-3.3 10.3-9.1 15.6-16.3 10.4-9.1 5.2-3.6 5.2-2.8 5.1-2 5.2-1.1 5.2 .3 5.2 1.6 5.2 2.6 5.2 3.8 10.3 9.8 5.2 4.2 15.6 11.1 15.6 6.1 5.1 1.2 5.2 .3 5.2-.6 5.2-1.5 5.2-2.6 5.2-3.3 5.2-4.5 25.9-25.6 5.2-4.7 5.2-3.8 5.2-2.2 5.2-.8 5.1 1.3 5.2 3.1 5.2 5.1 10.4 16.5 5.2 10.3 5.2 9 10.3 15.2 5.2 6.6 5.2 5.6 5.2 4 5.2 2.3 5.2 .3 5.2-1.8 5.1-4.2 5.2-6.4 5.2-8.5 5.2-10.3 15.6-33.8 5.2-10.1 5.1-8.6 5.2-6.9 5.2-5 5.2-3 5.2-.9 5.2 1.3 5.2 3.6 5.1 5.5 5.2 7.3 20.8 36.6 15.5 25.9 5.2 7.7 5.2 6 5.2 4.8 5.2 2.8 5.2-.2 5.2-2.8 5.2-5.4 5.1-7.6 5.2-9.3 5.2-11 15.6-34.9 5.2-10.7M111.6 115.9l5.2 3.8 15.6 13.7 5.2 3.8 5.2 2.5 5.1 .5 5.2-1.8 5.2-4.4 5.2-6.7 5.2-8.5 15.6-28.8 5.1-8.2 5.2-6.2 5.2-4.1 5.2-1.5 5.2 1.5 5.2 4.3 5.2 6.5 5.2 8.1 20.7 37.1 5.2 7.3 5.2 5.4 5.2 3.4 5.1 .3 5.2-3.2 5.2-5.4 5.2-6.9 15.6-24.2 5.2-5.6 5.1-4.3 5.2-2.6 5.2-.8 5.2 .7 5.2 2.2 25.9 18.5 5.2 2.6 5.2 .9 5.2-.9 10.4-5.2 10.3-6.9 5.2-2.9 5.2-1.7 5.2 .4 5.2 1.3 5.2 2.9 15.5 6 20.8 12.2 5.2 2.4 5.2 1.3 5.1-.2 5.2-1.5 5.2-2.9 15.6-11.1 5.2-2.2 5.2 0 5.1 2.4 5.2 4.8 5.2 6.8 15.6 25 5.2 7.2 5.1 5.2 5.2 2.6 5.2-.6 5.2-4 5.2-7.3 5.2-10.2 10.4-23.1 5.1-9.9 5.2-8.1 5.2-6.2 5.2-3.2 5.2-.6 5.2 1.2 5.2 3.4 5.2 5.5 5.1 7.4 5.2 9.2 15.6 30.5 5.2 8 5.2 5.2M464.4 130l5.1 0 5.2-2.3 5.2-4.3 5.2-6.1 15.6-21.9 5.2-6.6 5.1-5.1 5.2-3.8 5.2-2.4 5.2-1 5.2 .2 5.2 1.5 5.2 2.5 5.1 3.3 15.6 11.2 5.2 2.5 5.2 1.1 20.7 .1 15.6-1.1 15.6-3.1 10.3-.9 5.2 .2 5.2 .8 15.6 5.1M111.6 127.1l26-11.4 31.1-11.9 20.7-6.6 15.6-3.5 10.4-.2 10.4 1.2 10.3 1.7 26 6.7 5.1-.3 5.2-2.8 5.2-5.5 5.2-9 5.2-12.9 10.4-32.2 5.2-10.1 5.1-1.9 5.2 6.7 10.4 27.4 5.2 12.1 5.2 8.1 5.2 3.6 5.2 .3 5.1-1.3 10.4-4.3 15.6-8.5 10.4-3.1 5.1-.3 5.2 .3 5.2 1.2 10.4 5.9 5.2 3.9 5.2 2.2 10.3 1.9 20.8 2.3 36.3 3.1 10.4 1.8 15.5 4.4 5.2 .7 5.2-.1 10.4-2.5 25.9-8.8 5.2-2.2 10.4-5.8 5.2-2.2 5.1-.7 10.4 1 20.8 9.6 10.3 2.4 5.2 .3 10.4-1.8 5.2-1.5 10.4-4.6"/><path stroke="#1A82D4" d="M111.6 262.8l20.8-2.1 25.9-3.6 15.6-3.1 15.5-3.8 51.9-16.8 15.6-5.8 15.5-6.8 10.4-5.9 5.2-3.6 10.4-9.5 5.2-6.2 10.3-14.4 10.4-17.5 15.6-28.6 20.7-47.8 15.6-44 5.2-16.5 5.2-11.2 5.1-.9 15.6 6 5.2-.4 5.2-2.4 5.2-1.6 5.1 1.9 5.2 9.8 26 86.1 5.2 14.7 5.1 12.8 20.8 46.4 5.2 9.4 5.2 8 5.2 6.5 20.7 21.8 15.6 13.3 15.5 11.7 10.4 7.2 25.9 16.3 10.4 5.5 10.4 4.2 46.7 15.4"/><path stroke="#D8891A" d="M111.6 128l5.2 1.2 5.2 .1 5.2-1.2 5.2-2.4 5.2-3.3 15.5-11.4 5.2-3.2 5.2-2.2 5.2-.8 5.2 .7 5.2 1.7 15.5 7.2 5.2 1.3 5.2 .2 5.2-.8 5.2-1.8 5.2-3 15.5-11.3 5.2-2.3 5.2-.5 5.2 1.1 5.2 3.3 20.7 22.8 5.2 4.9 5.2 3.2 5.2 .3 5.2-1.9 5.2-3.6 5.1-6 5.2-8 15.6-27.1 5.2-7.1 5.2-5.3 5.2-3 5.1 0 5.2 2.7 5.2 4.9 20.8 25.7 10.3 10.7 5.2 3.5 10.4 4.2 5.2 .3 5.2-.5 5.2-3.4 15.5-15.8 5.2-3.2 5.2-.9 5.2 1.8 5.2 4.4 5.2 6.4 15.5 22.4 5.2 5.4 5.2 3.7 5.2 1.7 5.2-.6 5.2-2 5.1-3.1 15.6-13.3 5.2-3.9 5.2-2.9 5.2-1.5 5.1-.3 10.4 1.6 5.2 .3 5.2-1.1 5.2-3.3 15.5-15.6 10.4-9.1 5.2-1.9 5.2 .4 5.2 2.1 5.2 4.5 5.2 6.6 5.1 8.5 15.6 30.3 5.2 8.7 5.2 6 5.2 2.4"/><path stroke="#1A82D4" d="M111.6 265.2l20.8-.2 20.7-1.9 15.6-2.8 15.6-4.2 10.3-3.4 51.9-19 15.6-7 10.3-5.3 10.4-6.2 5.2-3.6 10.4-9.2 5.2-6 10.3-14 10.4-16.8 15.6-28 5.2-10.9 15.5-36.6 15.6-45.7 5.2-17.3 5.2-11.8 5.1-1 5.2 1.6 5.2 2.5 5.2 1.8 5.2-.4 5.2-2.4 5.2-1.4 5.1 5.3 10.4 38.9 15.6 52.1 5.2 15.1 10.3 25.3 5.2 11 10.4 24.1 5.2 10.2 5.2 9 5.2 7.8 20.7 28.5 10.4 12.3 15.5 14.9 15.6 13.6 25.9 21.4 15.6 12 5.2 2.3 51.9 0M111.6 258.1l20.8-1.4 20.7-2.8 15.6-3 20.7-5.4 26-8.1 25.9-7.2 10.4-3.5 10.4-4.2 10.3-4.8 10.4-5.8 5.2-3.5 10.4-8.9 5.2-5.7 10.3-13.5 10.4-16.3 15.6-27.3 5.2-10.6 15.5-36 15.6-45.5 5.2-17.3 5.2-11.8 5.1-.8 5.2 1.8 5.2 2.6 5.2 1.8 5.2-.2 5.2-2.3 5.2-1.5 5.1 3.3 5.2 14.3 5.2 18.9 15.6 52.1 5.2 16.4 5.2 13.9 20.7 47.7 5.2 10.8 5.2 8.9 5.2 6.5 5.2 4.9 25.9 18.9 31.1 24.5 31.1 23.5 10.4 6.8 10.4 5.9 46.7 23.6M111.6 240l5.2-3.4 5.2-4.2 5.2-5.3 5.2-6.5 10.4-15.3 5.1-5.5 5.2-.7 5.2 4 5.2 5.5 5.2 4.2 5.2 1.9 5.2-.7 5.2-3.3 10.3-10.6 5.2-2.7 5.2 2.1 10.4 10.7 5.2 4.2 5.2 2.9 5.1 1.8 5.2 .9 5.2 .3 10.4-1 15.5-3.8 15.6-6.1 10.4-6.5 5.2-4.2 5.2-5.4 10.3-12.9 10.4-16.1 15.6-26.9 5.2-10.9 15.5-35.8 15.6-44.4 5.2-16.7 5.2-11.5 5.1-1 15.6 5.4 5.2-.5 5.2-2.6 5.2-1.8 5.1 3.1 5.2 14.1 5.2 18.6 15.6 51.5 5.2 16.3 5.2 13.7 20.7 47.5 5.2 10.7 5.2 9.4 5.2 7.6 5.2 6.6 15.5 17.8 15.6 15.1 25.9 21.2 36.3 26.5 36.3 21.6 5.2 .9 20.8 0M111.6 265l20.8-1.4 20.7-2.6 15.6-3.1 15.6-4.4 31.1-11 25.9-8.3 15.6-5.9 15.5-7.1 10.4-6 5.2-3.6 10.4-9.4 5.2-6.1 10.3-14.2 10.4-17.3 15.6-28.3 5.2-11.1 15.5-36.3 15.6-44.5 5.2-16.7 5.2-11.3 5.1-.7 15.6 6.6 5.2-.3 5.2-2.3 5.2-1.5 5.1 2.4 5.2 11.7 20.8 69.2 5.2 16.6 5.2 14 5.1 12.4 20.8 45.6 5.2 9.1 5.2 6.6 5.2 4.7 25.9 18 31.1 24.6 36.3 26.3 20.8 12.1 41.5 21.4"/><path stroke="#D8891A" d="M111.6 164.1l5.2-2.5 10.4-7 31.1-27.5 10.4-8.2 10.4-5.3 5.2-1.9 5.1-1.1 10.4-.5 5.2 .3 5.2 1.1 25.9 7.9 5.2 2.1 20.8 9.8 5.1 1.1 5.2-1.1 5.2-3.2 5.2-5.5 5.2-8.2 5.2-11.7 15.5-42.1 5.2-11.9 5.2-7.7 5.2-2.3 5.2 3.5 5.2 8.2 15.5 32.7 5.2 8.6 5.2 5.9 5.2 3.1 5.2 .7 15.6-1.3 5.1 .5 5.2 1.3 5.2 2.3 15.6 13 5.2 2.5 5.1 .8 5.2 .1 20.8-1 20.7 1.7 26-.4 15.5 1.4 10.4 0 10.4-1.9 15.5-4.9 10.4-4.5 15.6-9.4 5.2-2 5.1-.3 10.4 2.3 15.6 8.3 10.4 3.4 10.3 1.7 15.6 .7 10.4-.5M111.6 114.4l10.4 9.5 15.6 17.2 5.2 5.1 5.1 4 5.2 2.5 5.2 .4 5.2-1.5 5.2-3.1 5.2-4.2 10.4-11.2 20.7-25 5.2-5.4 5.2-4.5 5.2-3.7 5.2-2.5 5.1-1.2 5.2 .3 5.2 2.4 5.2 4 5.2 5.4 5.2 6.6 10.3 14.6 5.2 5.8 5.2 4.6 5.2 3.7 5.2 2.3 5.2 .3 10.4-.9 5.1-1.2 10.4-4.7 5.2-3.4 10.4-8.9 15.5-17 5.2-4.5 10.4-6.7 5.2-2.4 5.2-1.1 5.2 .5 5.2 1.7 5.1 3.6 10.4 10.3 10.4 13.5 5.2 7.7 5.2 5.7 5.1 3.6 5.2 2.4 5.2 1 5.2-.4 5.2-1.6 5.2-2.6 5.2-3.4 10.3-5.7 20.8-15.3 5.2-2.8 5.2-1.6 5.2 .3 5.1 2 5.2 3.3 20.8 15.4 15.5 8.7 10.4 4.2 5.2 .6 5.2-1 5.2-2.3 10.3-6.5 15.6-11.5 10.4-6 10.4-4.9 5.1-1.7 5.2-1 5.2-.7 5.2 .1 5.2 .8 10.4 3.1M111.6 105.3l10.4 3.8 5.2 .8 5.2 .1 5.2-.5 5.2-1.3 5.1-2 5.2-2.7 5.2-3.6 15.6-12.2 10.4-7.2 5.1-2.8 5.2-1.9 5.2-1.5 5.2-.7 5.2 .5 5.2 1.4 10.4 4.7 10.3 6.4 15.6 12.2 10.4 7.3 5.1 1.9 5.2-.2 5.2-1.6 5.2-2.6 5.2-3.5 10.4-9.5 10.3-7.2 10.4-5.7 31.1-12.6 20.8-7.2 5.2-1.5 5.2-.6 5.2 .1 5.1 1.3 5.2 2.1 5.2 3.4 10.4 10.4 5.2 6 5.2 3.9 5.1 2 5.2 1.1 5.2 .2 10.4-1.7 10.4-3.3 25.9-10.1 10.4-2.5 5.2-.5 5.2 .6 5.1 1.5 20.8 9.6 10.4 4 10.3 2.4 5.2 .3 5.2-.5 5.2-1.6 5.2-3 10.4-7 15.5-7.7 26-7.7 5.1-1.2 10.4-.5 5.2 .8 5.2 1.9 5.2 2.8 5.2 3.4M111.6 136.4l5.2-6.1 20.8-29.5 5.2-6.1 5.1-4.7 5.2-3.4 5.2-1.9 5.2-.4 5.2 1.4 5.2 3.1 5.2 4.3 5.2 5.2 10.3 11.3 5.2 5 5.2 3.9 5.2 3 5.2 1.6 5.2-.2 5.2-1.9 5.1-3.4 20.8-18.8 5.2-3.8 15.5-7.2 5.2-1.5 5.2-.4 10.4 1.6 5.2 2.2 20.7 17 5.2 3.1 5.2 1.6 5.2-.2 5.2-2.7 5.2-5 5.1-6.3 10.4-15.3 10.4-16.6 5.2-7.1 5.2-5 5.2-3.2 5.1-.5 5.2 1.8 5.2 4.2 5.2 7.2 5.2 8.5 10.4 19.3 10.3 15.9 5.2 7.1 5.2 6.1 5.2 4.6 5.2 3 5.2 1.1 5.2-1.1 5.1-3.3 5.2-5.2 5.2-7 15.6-24.5 5.2-7.2 5.2-5.2 5.1-3.1 5.2-1 5.2 1.1 5.2 2.6 5.2 4 20.7 21 5.2 4.2 5.2 2.8 5.2 .9 5.2-1 10.4-4.6 5.1-1.5 10.4-1.3 5.2 1 20.8 7.4 10.3 2.9 5.2 .6 10.4 0 5.2-.9 5.2-1.8"/><path stroke="#1A82D4" d="M111.6 264.8l20.8-.1 15.5-1.3 15.6-2.8 15.6-4.3 36.3-12.9 25.9-8.2 15.6-5.9 10.3-4.6 10.4-5.5 10.4-6.8 5.2-4.3 5.2-4.8 5.2-5.9 10.3-13.7 10.4-16.5 15.6-27.4 5.2-10.7 15.5-36.3 15.6-46 5.2-17.4 5.2-12 5.1-1.1 5.2 1.5 5.2 2.9 5.2 5.5 5.2 2 5.2 .5 5.2-8.4 5.1 1.4 5.2-.6 5.2 9.1 26 86 5.1 14.5 10.4 24.6 15.6 34.3 5.2 9 5.2 7 5.1 5.3 36.3 30.3 26 20.5 31.1 23.6 20.8 12.9 36.3 20.2"/><path stroke="#D8891A" d="M111.6 144l5.2-.5 5.2-1.7 5.2-2.9 5.2-3.8 10.4-9.6 20.7-23.9 5.2-5.3 5.2-3.8 5.2-2.4 5.2-.5 5.1 1.4 5.2 3.3 5.2 4.6 5.2 5.5 15.6 18.1 5.2 4.6 5.1 3.3 5.2 2 5.2 1.3 5.2 .5 5.2-.6 5.2-1.2 5.2-2 5.1-3.7 5.2-5.8 20.8-29.7 5.2-6.1 5.2-3.4 5.1-1.3 5.2 .8 5.2 2.9 5.2 4.6 5.2 5.7 15.6 19.2 10.3 11.6 5.2 4.7 5.2 2.9 5.2 .9 5.2-.9 5.2-2.4 5.2-4.3 5.1-5.3 10.4-12.8 10.4-9.7 15.5-9.3 5.2-1.4 5.2 .5 5.2 2.2 5.2 3.9 5.2 5.4 5.2 6.5 15.5 21.4 5.2 6.1 5.2 5.1 5.2 4 5.2 2.5 5.2 .7 5.2-.7 5.1-2.2 5.2-4.2 5.2-6 5.2-7.5 15.6-25.4 5.1-6.7 5.2-4.8 5.2-2.7 5.2-.6 5.2 1 5.2 2.1 5.2 3.6 5.2 5.3 5.1 7.1 20.8 32.5 5.2 6.3 5.2 4.9 5.2 3.3 5.1 1.8 5.2 .5 5.2-.8 10.4-3.4 10.4-4.4M111.6 148.1l31.2-27.1 10.3-7 5.2-2.9 5.2-2 5.2-.8 5.2 .7 5.2 1.8 5.2 2.8 15.5 11.8 5.2 3.3 5.2 3 5.2 2.1 5.2 .8 5.2-.5 5.1-1.6 5.2-2.7 20.8-12.9 10.3-5.6 10.4-6.4 5.2-2.3 10.4-3 5.2-.1 5.2 1.7 5.1 2.5 5.2 3.2 5.2 4 10.4 9.8 10.4 10.9 10.3 9.4 5.2 3.8 5.2 2.4 5.2 .2 5.2-2.2 5.2-4.2 5.2-5.5 15.5-20.7 5.2-6 5.2-3.8 5.2-2.6 15.5-2.6 5.2 .4 5.2 1.9 5.2 3.4 5.2 4.7 10.4 12.9 15.5 22 5.2 6.1 5.2 5.1 5.2 4 5.2 2.6 5.2 .9 5.2-.6 5.1-2.2 5.2-4.3 5.2-6.5 5.2-8.5 5.2-10.2 15.5-34.7 5.2-10.7 5.2-9.2 5.2-7.3 5.2-5.1 5.2-2.8 5.2 .2 5.2 3.9 5.1 7.7 5.2 10.5 5.2 12.1 10.4 28.3 10.4 25 5.2 9.8 5.1 7.6 5.2 5.1 5.2 2.2 5.2-.7 5.2-3.3 5.2-6.3 5.2-8.9M111.6 122.4l10.4-6.4 10.4-5.1 5.2-1.6 5.2-.8 10.3 0 26 1.4 10.3-.3 5.2-.3 26-3.8 15.5-1.5 5.2 .4 10.4 2.4 15.5 6.4 15.6 2.3 15.6 .3 25.9 8.2 5.2 1.2 5.2 .8 5.2-.4 10.3-3.2 5.2-2.5 5.2-3.1 5.2-4.2 10.4-10.1 10.4-8.3 5.1-2.4 5.2-1.1 5.2 .8 5.2 3.6 5.2 4.9 10.4 13.1 20.7 23.4 5.2 5.3 5.2 4.4 5.2 3.1 5.2 1.5 5.1-.3 5.2-2 5.2-3.8 5.2-5.3 15.6-18.8 5.2-5.6 5.1-4.6 5.2-3.4 5.2-2.5 5.2-1.3 5.2-.3 5.2 1 5.2 2.2 5.1 3.5 5.2 4.7 15.6 17.1 5.2 5.1 15.5 13.6 5.2 3.5 5.2 2 5.2 1 5.2-.4 5.2-2.9 5.2-4.7 5.2-6.1 20.7-28.5 5.2-5.4 5.2-4.1 5.2-2.5M111.6 123.6l15.6 17.3 10.4 10.4 5.2 3.9 5.1 2.4 5.2 .9 5.2-1.2 5.2-3 5.2-4.4 5.2-5.5 5.2-6.5 15.5-21.1 10.4-12.5 5.2-4.4 5.2-3 5.2-1.7 5.2-.4 5.1 .9 5.2 2.1 5.2 3.7 5.2 4.8 20.7 23.7 5.2 3.7 5.2 2.5 5.2 1.3 5.2 0 5.2-2 10.4-5.1 10.3-7.1 15.6-12.4 15.6-11.3 5.1-2.4 5.2-1.3 10.4 0 5.2 .8 5.2 1.7 5.2 3.1 5.2 3.7 10.3 10.7 5.2 6.5 15.6 23.6 5.2 5.4 5.1 2.9 5.2 1.3 5.2-.4 5.2-1.9 5.2-3.3 10.4-9.1 15.5-15.8 5.2-4.6 5.2-3.7 5.2-2.1 5.2-.5 5.2 1.2 5.2 3.5 5.1 5.4 5.2 6.7 15.6 22.4 5.2 6.4 5.2 5.3 5.1 4.1 5.2 2.4 5.2 .6 5.2-1.5 5.2-3.7 5.2-6 25.9-38 5.2-5.9 5.2-4.9 5.2-4.5 5.2-3.5 5.2-2.4 5.1-1 5.2 .4 5.2 1.7 5.2 3.1 5.2 4.5 10.4 11.6M111.6 122l10.4-15.1 5.2-6.2 5.2-4.7 5.2-2.7 5.2-.7 5.1 1.1 5.2 2.7 5.2 3.5 20.8 17.1 5.2 3 5.1 1.8 5.2 .5 5.2-1.2 5.2-2.7 5.2-3.6 5.2-4.4 15.5-15.6 5.2-4.4 5.2-3 5.2-1.3 5.2 .3 5.2 2.1 5.2 3.8 25.9 21.8 5.2 3 10.4 5.5 5.1 1.8 5.2 .7 5.2-.4 5.2-1.5 5.2-2.7 5.2-3.6 15.5-15.5 10.4-8.5 5.2-3.2 5.2-2.3 5.2-.9 5.2 1.2 5.2 2.6 5.1 4.6 5.2 5.9 5.2 7.2 15.6 26.6 5.2 5.9 5.1 3 5.2 .6 5.2-1.7 5.2-3.9 5.2-5.9 20.7-30.5 5.2-6.2 5.2-4.9 5.2-3.3 5.2-1.1 5.2 1.1 5.2 2.9 5.2 5.2 5.1 7 15.6 23.3 5.2 6.3 5.2 4.8 5.2 2.9 5.1 .9 5.2-1.1 5.2-3.3 5.2-5.2 5.2-7.1 15.6-26 5.1-6.1 5.2-4.1 5.2-2.1 5.2 .9 5.2 3.4 5.2 4.9 5.2 6.6 5.2 7.6 10.3 16.9 10.4 15.1 5.2 6.1 5.2 4.5 5.2 2.6M111.6 130.8l5.2-3.4 5.2-5 5.2-6.2 15.6-20.9 5.1-6.1 5.2-5 5.2-3.9 5.2-2.2 5.2-.4 5.2 1.5 5.2 2.9 5.2 4.1 15.5 14.5 5.2 3.6 5.2 2.5 5.2 1 5.2-1 5.2-3 5.1-4.7 15.6-17.1 5.2-4.5 5.2-3 5.2-1 5.1 .1 5.2 .7 5.2 1.9 5.2 3.1 10.4 7.3 15.5 12.6 5.2 2.7 5.2 1.4 5.2-.4 5.2-2.4 5.2-4.1 5.2-6.3 20.7-33.2 5.2-7.4 5.2-6.1 5.2-3.8 5.2-.7 5.2 2.1 5.1 5.2 5.2 7.6 5.2 9.9 15.6 37.8 5.2 10.3 5.1 7.1 5.2 4.3 5.2 1.1 5.2-2.3 5.2-5.7 5.2-8.5 15.5-32.9 5.2-9.1 5.2-6.6 5.2-3.3 5.2 .8 5.2 4.5 5.2 7.8 5.2 10.7 15.5 38.2 5.2 10.2 5.2 6.9 5.2 2.8 5.2-1.6 5.1-6 5.2-10.1 5.2-13.1 15.6-47.2 5.2-13.8 5.2-10.2 5.1-5.5 5.2-1.3 5.2 2.4 5.2 6.5 10.4 20.2 15.5 33.8 5.2 9.4 5.2 7.1 5.2 4.6 5.2 1.8 5.2-1 5.2-3.9M111.6 104l5.2-1.5 5.2-.1 5.2 1.2 5.2 2.7 5.2 4 15.5 14.2 5.2 3.3 5.2 1.9 5.2 .5 5.2-.7 5.2-2.1 5.2-3.4 5.1-4.2 5.2-4.8 20.8-21.7 10.4-9.2 5.1-3.7 5.2-2.7 5.2-1.2 5.2 .5 5.2 1.8 5.2 3.4 31.1 30.7 5.2 3.3 5.2 2.6 5.2 2.1 5.1 .4 5.2-1.3 5.2-2.8 5.2-4.1 5.2-5.3 5.2-6.1 20.7-28.9 10.4-11.8 5.2-4.6 5.2-2.9 5.2-.4 5.2 1.9 5.1 4.8 5.2 7.2 5.2 9.5 15.6 37.5 5.2 10.4 5.1 7.6 5.2 5.3 5.2 2.7 5.2 .1 5.2-2.6 5.2-4.8 5.2-6.9 5.2-8.7 20.7-39.5 5.2-7.8 5.2-5.9 5.2-3.4 5.2-.4 5.1 2.7 5.2 5.1 5.2 7.3 5.2 8.8 15.6 29.6 5.1 8.9 5.2 7.3 5.2 4.9 5.2 2.2 5.2-1 5.2-4.3 20.7-28.1 5.2-5.6 5.2-3.2 5.2-.8 5.2 .4 5.2 1.7 15.5 7.2 26 9.3M111.6 141l10.4-4.2 15.6-8.5 10.3-4.6 15.6-5.3 5.2-1.3 10.4-1.1 10.3 .7 10.4 3 5.2 2.1 15.6 8.2 5.2 2 5.1 1.2 10.4-.4 5.2-1.2 15.6-6.4 5.1-3 10.4-7.6 5.2-2.9 5.2-2 5.2-1.3 5.2 .6 5.2 3.1 5.1 4.4 5.2 5.5 15.6 18.4 5.2 5.3 5.2 3.7 5.2 2.2 5.1 1.1 5.2-.1 5.2-1.4 5.2-3.1 5.2-4.7 15.6-16.9 5.1-5 5.2-4.1 5.2-2.6 5.2 .1 5.2 1.5 15.5 11.3 5.2 5.1 10.4 13.1 15.6 22 5.2 6 5.1 4.4 5.2 2.6 5.2 .5 5.2-1.6 5.2-3.1 5.2-4.7 10.4-12.7 20.7-28.2 5.2-6.3 5.2-5.3 5.2-3.6 5.1-1.5 5.2 .7 5.2 3 5.2 5 10.4 13.9 5.2 8.2 15.5 27.3 5.2 7 5.2 5.4 5.2 3.1 5.2-.4 5.2-3.2 5.2-5.9 5.1-7.8 15.6-28.3 5.2-8.7 5.2-7.3 5.2-5.6"/><path stroke="#1A82D4" d="M111.6 271.5l20.8-1.8 25.9-3.7 20.8-4.3 15.5-4.5 36.3-14.1 20.8-9.2 20.7-11 15.6-10.4 10.4-9.4 5.2-6 10.3-14 10.4-16.6 15.6-27.5 5.2-10.6 15.5-35.9 15.6-45.3 5.2-17.3 5.2-11.8 5.1-1.2 5.2 1.4 5.2 2.1 5.2 1.5 5.2-.7 5.2-2.6 5.2-1.7 5.1 6.7 10.4 42 15.6 51.5 5.2 14.4 5.2 12.8 20.7 47.3 5.2 9.9 5.2 7.3 5.2 4.8 5.2 3.3 20.7 9.3 5.2 2.9 36.3 24.6 25.9 16.9 10.4 5.3 10.4 4.5 46.7 18.1"/><path stroke="#D8891A" d="M111.6 134.9l15.6 8.7 10.4 4.4 5.2 1.2 5.1 .2 5.2-1.1 5.2-2.7 5.2-4.1 5.2-5.1 20.7-24.6 10.4-10.2 5.2-3.8 5.2-2.1 5.2-.5 5.2 .9 5.2 2.1 5.1 3.3 5.2 4.1 20.8 22.3 5.2 5.1 5.1 3.2 5.2 1 5.2-.7 5.2-2.1 5.2-3.4 10.4-10.2 15.5-13 5.2-3.5 5.2-2.8 5.2-2.2 10.4-1.9 5.2 0 5.1 1.3 5.2 2.4 20.8 13.5 25.9 21.2 5.2 5.3 10.4 9.2 5.2 1.7 5.1-1 5.2-2.5 5.2-4 20.8-21.9 5.2-4.6 5.1-3.4 5.2-1.9 5.2-.6 5.2 .9 5.2 2.8 5.2 4.5 5.2 6 5.2 7.6 15.5 27.1 5.2 7.8 5.2 6.2 5.2 4.2 5.2 1.8 5.1-.6 5.2-3.1 5.2-5.4 5.2-7.6 5.2-9.6 15.6-33.7 5.1-8.8 5.2-6.7 5.2-4.5 5.2-1.2 5.2 1.9 5.2 4 5.2 6.4 5.2 8.3 5.1 9.9 15.6 31.9 5.2 9.4 5.2 7.6 5.2 5.4M111.6 113.2l57.1-13 15.6-1.3 36.3 .2 5.2-.7 15.5-3.4 10.4-1.6 15.5-1.4 31.2-11.5 5.2-.2 10.3 .8 20.8 5.1 5.2 .7 15.5-.7 5.2-1 5.2-2 20.8-11.9 5.1-1.9 5.2-1.3 5.2 0 5.2 1.9 5.2 2.7 5.2 3.9 5.2 2.7 10.3 3.8 10.4 4.8 25.9 15.8 5.2 2.2 5.2 1 5.2-.1 5.2-.7 5.2-1.7 36.3-16.6 10.4-3.2 5.1-.6 5.2 .3 5.2 1 20.8 5.9 5.2 2.2 10.3 6.4 10.4 5.6 5.2 2.2 5.2 .5 5.2-1 5.2-2.3 5.1-3.4 5.2-4.2 15.6-14 5.2-3.8 5.2-3.1M111.6 116.9l5.2 .4 5.2-.4 5.2-1.4 10.4-5 10.3-7.5 20.8-19.7 5.2-4.1 5.2-3.3 5.2-2.3 5.1-1.2 5.2 .2 5.2 1.1 5.2 1.9 5.2 3.2 20.7 16.1 10.4 6.4 5.2 2.4 5.2 1.3 5.2 .3 5.2-.9 5.1-2.8 5.2-5.2 10.4-13.7 10.4-15.5 5.2-6.7 5.2-4.4 5.1-2.9 5.2-1.2 5.2 .8 5.2 2.4 5.2 3.9 25.9 27 5.2 4.8 5.2 3.4 5.2 1.7 5.2 .5 5.2-.5 10.3-4.1 10.4-6.5 15.6-8.9 5.2-5.2 10.3-12.8 5.2-5.7 5.2-4.3 5.2-2.4 5.2 0 5.2 2.6 5.2 5 5.1 7 20.8 35.3 5.2 8 5.2 6.7 5.2 5.4 5.1 3.7 5.2 1.6 5.2-.9 5.2-3.5 5.2-6.1 5.2-8.2 5.2-9.8 15.5-32.3 5.2-9.7 5.2-8.3 5.2-6.5 5.2-3.7 5.2-.1 5.1 4.1 5.2 7.4 5.2 9.8 20.8 52.9 5.2 11.5 5.1 9.7 5.2 7.8 5.2 5 5.2 2.6 5.2 .1 5.2-2.5 5.2-5.2"/><path stroke="#1A82D4" d="M111.6 264.6l20.8-1.8 20.7-2.8 20.8-3.9 20.7-5 36.3-10.9 15.6-5.3 15.6-6.7 10.3-5.2 10.4-6.1 5.2-3.6 10.4-9.5 5.2-6.1 10.3-14.3 10.4-17.4 15.6-28.5 5.2-11.1 15.5-36.5 15.6-45.2 5.2-17 5.2-11.7 5.1-1.1 5.2 1.5 5.2 2.3 5.2 1.6 5.2-.6 5.2-2.5 5.2-1.7 5.1 3.3 5.2 14.9 5.2 18.9 15.6 52 5.2 16.2 5.2 13.7 20.7 47.7 5.2 10.7 5.2 8.6 5.2 5.6 5.2 3.7 20.7 10.4 5.2 3.2 36.3 26.8 31.1 21 20.8 10.7 41.5 18.9M111.6 267.3l20.8-2.1 20.7-3 20.8-4.3 15.5-4.2 46.7-16.3 15.6-6.3 10.4-4.8 10.3-5.6 10.4-6.9 5.2-4.4 5.2-5.1 5.2-6.2 15.5-20.9 20.8-34.1 5.2-9.4 15.5-33.1 5.2-12.1 15.6-43.8 5.2-17.6 5.2-11.9 5.1-.9 5.2 2 5.2 4.2 5.2 7.4 5.2 5.3 5.2 2.6 5.2-2.5 5.1-7.1 5.2-5.7 5.2 5 26 84.8 5.1 15 10.4 25.1 5.2 10.8 10.4 24.2 10.4 20.5 10.3 15.3 15.6 19.5 15.5 15.9 20.8 18.9 36.3 30.7 15.6 11.6 5.2 2 36.3 0M111.6 268.3l20.8-.8 20.7-2.2 15.6-2.9 20.7-5.6 41.5-15.3 20.8-8.6 20.7-10.5 10.4-6.4 5.2-3.8 10.4-9.6 5.2-6.1 10.3-14.4 10.4-17.3 15.6-28.3 5.2-10.9 15.5-36.3 15.6-45.1 5.2-17.1 5.2-11.6 5.1-.9 5.2 1.7 5.2 2.5 5.2 1.8 5.2-.4 5.2-2.4 5.2-1.6 5.1 2.1 5.2 10.1 26 86.9 5.2 14.7 10.3 24.9 15.6 35 5.2 9.8 5.2 7.8 5.2 6.1 5.1 5.3 26 23.1 25.9 21.1 41.5 32.3 15.6 10.2 20.7 12.3 5.2 1.9 15.6 0"/><path stroke="#D8891A" d="M111.6 129.4l5.2-3.5 5.2-4.5 15.6-14.9 5.2-3.9 5.1-2.9 5.2-1.9 5.2-.9 5.2 .1 5.2 1.3 5.2 2.4 20.7 12.4 5.2 1.7 5.2 .5 5.2-.4 5.2-1.5 5.2-2.8 5.2-3.9 10.3-9.2 5.2-3.9 5.2-2.7 5.2-1.4 5.2 .6 5.2 2.7 5.1 3.7 5.2 4.3 15.6 15.5 5.2 3.6 5.2 2.6 5.2 1.9 5.1 0 5.2-2 5.2-3.6 5.2-5.1 20.8-23.7 5.1-3.7 5.2-1.8 5.2 .2 5.2 1.7 5.2 3 5.2 4.6 10.4 12.9 10.3 14.4 10.4 12.2 5.2 4 5.2 2.4 5.2-1.7 5.1-5.1 15.6-22.3 5.2-6.4 5.2-4.4 5.2-1.9 5.2 .6 5.1 2.8 5.2 4.5 15.6 15.2 5.2 3.8 5.2 2.5 5.2 1.4 5.1 .2 5.2-1.1 5.2-2 15.6-9.2 5.2-2.5 5.1-1.8 5.2-.9 15.6-1 25.9-7.4 5.2-2 5.2-1.3 10.4-1.4 5.2 .5 5.2 1.8 5.1 3.7 5.2 5.5 5.2 6.7 10.4 15.2 5.2 6.5 5.2 4.3"/><path stroke="#1A82D4" d="M111.6 261l20.8-2.2 25.9-3.6 20.8-4.2 15.5-4.1 46.7-14.9 15.6-5.9 10.3-4.4 10.4-5.1 10.4-6.2 5.2-4 5.2-4.5 5.2-5.6 10.3-13.2 10.4-16.2 15.6-27.1 5.2-10.7 15.5-36.1 15.6-45.8 5.2-17.4 5.2-12 5.1-1.2 15.6 4.9 5.2-.8 5.2-2.7 5.2-2 5.1 1.1 5.2 6.3 5.2 14.5 20.8 69.2 5.2 15.7 5.1 13.5 20.8 47.3 5.2 10 5.2 8.4 5.2 6.6 15.5 15.6 10.4 9 10.4 8.3 25.9 18.7 25.9 16.6 10.4 5.8 10.4 4.3 46.7 15.2"/><path stroke="#D8891A" d="M111.6 156.2l5.2 4.3 5.2 2.4 5.2 .2 5.2-2.1 5.2-4.1 5.2-6.1 5.1-7.5 15.6-27.1 5.2-8.2 5.2-6.6 5.2-5 5.2-3 5.1-1 5.2 1 5.2 2.1 5.2 2.9 15.6 11.2 5.2 2.6 5.1 1.7 26 2.9 10.3 3 20.8 3.5 15.6-.8 5.1-.8 10.4-3.8 20.8-10.8 5.2-2.1 5.1-.7 5.2 1 5.2 2.4 10.4 7.3 20.7 20.1 5.2 3.7 10.4 4.6 5.2 .1 5.2-1 5.2-4.5 15.5-21.3 5.2-5.4 5.2-2.6 5.2 .8 5.2 4.4 5.2 7.9 5.1 10.6 15.6 35.6 5.2 9.5 5.2 6.8 5.2 3.4 5.2 .3 5.1-2.7 5.2-5.7 5.2-8.2 15.6-31.4 5.2-9.5 5.1-7.7 5.2-5.6 5.2-3.3 5.2-1.3 5.2 0 5.2 .7 5.2 1.4 5.2 2.2 10.3 5.9 15.6 6.6 15.6 3.4 5.1 2 5.2 3 5.2 3.8 5.2 4.9 10.4 11 5.2 4.7"/><path stroke="#1A82D4" d="M111.6 249.1l5.2-4.1 5.2-4.9 15.6-17.8 5.2-3.5 5.1 .3 5.2 3.6 10.4 10.4 5.2 4.3 5.2 3.2 5.2 2.2 5.2 1.3 10.3 .4 10.4-1.2 10.4-2 10.4-2.6 10.3-3.3 10.4-4 10.4-4.8 10.3-5.6 10.4-7 10.4-9.6 10.4-13.1 15.5-21.8 20.8-33 15.5-30.6 10.4-22.2 10.4-25.9 5.2-14.4 5.2-16.7 5.2-11.4 5.1-1 5.2 1.5 5.2 2.4 5.2 1.7 5.2-.4 5.2-2.4 5.2-1.6 5.1 2.4 5.2 11.7 26 87 5.2 14.3 20.7 47.9 5.2 11.2 5.2 8.7 5.2 5.6 5.2 3.1 20.7 6.5 5.2 2.5 41.5 29.3 25.9 17 15.6 7.3 46.7 18.5"/><path stroke="#D8891A" d="M111.6 91.5l5.2 1.1 5.2 2.3 5.2 3.3 5.2 4.2 15.5 14.4 5.2 4 5.2 2.7 5.2 1.3 5.2 .1 5.2-1 5.2-2.3 10.3-7.3 5.2-4.5 20.8-20.7 10.4-8.6 5.1-2.9 5.2-1.4 5.2 .9 5.2 3.1 5.2 4.8 5.2 6.6 10.3 15.3 5.2 6.3 5.2 5.4 5.2 4.5 5.2 3.3 5.2 1.3 10.4 .4 5.1-1.5 5.2-2.8 5.2-4.1 5.2-5.4 10.4-14 15.5-25.2 5.2-7.1 5.2-5.7 5.2-4.5 5.2-3 5.2-.6 5.2 2.1 5.2 4.3 5.1 6.9 5.2 8.6 20.8 38.6 5.2 5.7 5.1 1.9 5.2-1.2 5.2-4.1 5.2-6.7 5.2-8.5 10.4-19.5 5.2-8.2 5.1-6.9 5.2-5.4 5.2-3.8 5.2-2.1 5.2 .4 5.2 2.6 5.2 4.9 5.2 7.4 5.1 9.5 15.6 32.2 5.2 9.2 5.2 7.3 5.2 5.1 5.1 2.4 5.2-.5 5.2-3.3 5.2-6.2 5.2-9 15.6-35.9 5.1-10.6 5.2-9 5.2-7.3 5.2-4.2 5.2-1.6 5.2 .1 5.2 2.3 5.2 4.2 5.1 6 10.4 16.4 15.6 27.5 5.2 7.4"/><path stroke="#1A82D4" d="M111.6 271.2l20.8-1.5 25.9-3.4 20.8-4.2 15.5-4.3 26-9.8 25.9-11.2 15.6-7.8 10.3-5.8 10.4-6.5 5.2-3.9 10.4-9.7 5.2-6.2 10.3-14.4 10.4-17.4 15.6-28.3 5.2-11 15.5-36.3 15.6-44.9 5.2-17.1 5.2-11.6 5.1-1 5.2 1.5 5.2 2.3 5.2 1.7 5.2-.4 5.2-2.4 5.2-1.5 5.1 1.8 5.2 8.4 26 86.9 5.2 15.4 10.3 25.6 15.6 35.2 5.2 10.3 5.2 9.2 10.3 14.4 15.6 18.9 15.6 15.4 20.7 17.9 36.3 29.8 15.6 11.6 5.2 2.9 41.5 0M111.6 260.2l15.6-1.2 20.7-2.9 15.6-2.9 15.6-3.9 36.3-11.3 25.9-6.4 15.6-4.6 15.5-6.1 10.4-5.5 5.2-3.5 10.4-9.3 5.2-6.1 10.3-14.2 10.4-17.4 15.6-28.3 20.7-48.1 15.6-44.4 5.2-16.7 5.2-11.3 5.1-.9 15.6 5.6 5.2-.5 5.2-2.5 5.2-1.7 5.1 2.1 5.2 10.7 26 86.3 5.2 14.4 5.1 12.7 20.8 46.1 5.2 9 5.2 7 5.2 5.4 10.3 8.7 31.1 23.4 20.8 14 25.9 15.3 10.4 4.8 10.4 3.6 25.9 6.8 20.8 6.1M111.6 260.5l26-4.1 20.7-4.5 15.6-4.8 10.4-4.3 10.3-5.7 5.2-3.7 10.4-9.4 10.4-11.5 5.2-4.9 5.1-2.7 10.4-.7 10.4-1.8 5.2 .6 10.3 4.1 5.2 1.4 5.2 .2 5.2-.7 5.2-1.8 5.2-2.8 5.2-3.8 5.2-5.1 5.1-6 10.4-14.4 20.8-35.9 5.2-10.6 15.5-36.1 15.6-45.7 5.2-17.4 5.2-11.9 5.1-.8 15.6 5.9 5.2-.4 5.2-2.4 5.2-1.6 5.1 2.3 5.2 11.3 26 86.5 5.2 14.2 10.3 24 15.6 33.7 5.2 9.3 5.2 7.8 5.2 6.5 15.5 17.3 15.6 15.2 25.9 22.2 31.1 23.4 10.4 6.9 10.4 5.9 31.1 16.1 15.6 0M111.6 263.1l26-1.8 20.7-2.2 20.8-3.7 15.5-4.1 41.5-13.6 15.6-6.1 10.4-4.8 10.3-5.6 10.4-6.5 5.2-3.9 10.4-9.5 5.2-6.1 10.3-13.9 10.4-16.5 15.6-26.8 5.2-10.5 15.5-35 15.6-44.7 5.2-17.1 5.2-11.8 5.1-.9 15.6 5.3 5.2-.6 5.2-2.7 5.2-1.8 5.1 2.4 5.2 12.5 5.2 18.2 20.8 67.9 10.3 26.6 20.8 46.8 5.2 9.8 5.2 7.9 5.2 6.7 15.5 17.3 10.4 10.3 10.4 9.5 20.7 17.4 31.1 24.6 15.6 10.9 20.7 12.8 31.2 0"/><path stroke="#D8891A" d="M111.6 141.5l5.2 .3 5.2-1.5 5.2-3.2 5.2-4.7 5.2-5.7 20.7-27 5.2-6.1 5.2-4.8 5.2-3.1 5.2-1.7 5.2-.1 5.1 1.2 10.4 5.6 15.6 10.1 5.2 2.6 5.2 1.6 5.1 .6 10.4-1.1 25.9-5.9 10.4-3.9 5.2-1.3 10.4-1.9 5.2 0 10.3 3.5 15.6 6.9 5.2 1.9 5.2 1.3 5.2 .2 10.3-2.2 10.4-4.1 5.2-3.1 10.4-7.5 10.4-5.5 5.1-1.2 5.2-.1 5.2 1.4 10.4 7.7 5.2 5.2 5.2 3.7 5.1 2.5 26 8.9 20.7 9.1 5.2 1.8 10.4 1.7 5.2-.2 10.4-3.2 5.1-2.6 5.2-3.6 5.2-4.6 5.2-5.6 15.6-18.9 5.1-5.3 5.2-4 5.2-2.5 5.2-.9 5.2 .6 5.2 1.8 5.2 3.4 5.2 5.3 20.7 28.2 5.2 5.1 5.2 2.1 5.2-.6 5.2-3.4 5.1-5.7 5.2-7.5 15.6-26.4 5.2-7.3 5.2-5.6M111.6 159.8l5.2-2.9 10.4-8 20.7-18.7 15.6-13.3 5.2-3.6 5.2-2.9 10.4-4.1 5.1-1 5.2-.2 10.4 .7 5.2 1.4 51.9 18.6 5.1 .1 5.2-2.5 5.2-4.6 5.2-7 5.2-9.4 15.6-37.9 5.1-11 5.2-8.2 5.2-4.1 5.2 .5 5.2 4.5 5.2 7.9 15.5 26.4 5.2 6.8 5.2 4.9 5.2 2.6 5.2 .7 15.6-1.2 10.3 1 5.2 1.9 10.4 7.3 5.2 4.4 5.2 2.5 10.3 1.2 15.6 0 25.9 2.9 26-1.1 5.2 .4 20.7 3.5 10.4-.1 10.3-1.7 10.4-3.3 10.4-5.2 10.4-7 5.2-2.4 5.1-.9 10.4 1 15.6 6.3 10.4 2.1 10.3 .6 26-.7M111.6 116.7l10.4 12.3 5.2 5.2 5.2 3.8 5.2 2.1 5.2 .2 5.1-1.9 5.2-3.9 5.2-5.7 15.6-21 5.2-6.1 5.2-5 5.1-3.3 5.2-1.7 5.2-.3 5.2 .8 5.2 2 15.6 7.8 5.1 1.6 10.4 1.8 15.6 1.7 10.3 2.3 10.4 1.4 10.4 2.6 10.4 1.4 5.2 1.2 5.1 .3 5.2-1 5.2-2.1 5.2-3.7 5.2-5 5.2-6.1 15.5-21.6 5.2-5.4 5.2-3.8 5.2-2.2 5.2-.4 5.2 1.9 5.2 4.3 5.2 6 20.7 32.9 5.2 6.8 5.2 5.4 5.2 1.2 5.1-2.9 5.2-5.6 5.2-7.8 10.4-17.6 5.2-7.5 5.2-5.2 5.2-1.7 5.1 1.6 5.2 4.6 5.2 6.8 15.6 26 5.2 7.7 5.2 6.4 5.1 4.5 5.2 2.1 5.2-.4 5.2-2.6 5.2-4.3 10.4-10.5 5.1-4.5 5.2-3.2 5.2-1.6 5.2 0 10.4 2.5 15.5 6.5 5.2 1.3 5.2-.6 5.2-1.8 5.2-3.4 5.2-5.7 10.4-13.5 5.1-6 5.2-4.2 5.2-1.8 5.2 1.2 5.2 4.3 5.2 7.1 5.2 9.1M111.6 116.4l10.4 5 5.2 1.4 5.2 .4 5.2-.9 5.2-2.4 5.1-3.9 5.2-5.5 15.6-21.2 5.2-6.1 5.2-4.7 5.2-2.8 5.1-.6 5.2 1.9 5.2 3.6 5.2 5.1 15.6 19.5 5.2 4.8 5.1 3 5.2 .7 5.2-1.2 5.2-3 5.2-4.7 10.4-11.6 10.3-13.1 5.2-5.6 5.2-3.7 5.2-1.6 5.2-.1 5.2 2.5 5.2 5.4 20.7 27.8 5.2 4.9 5.2 3 5.2 .3 5.2-2.4 5.1-4.2 5.2-5.6 5.2-6.7 15.6-22.5 5.2-5.1 5.2-3.5 5.1-.9 5.2 1.2 5.2 3.4 10.4 12.7 5.2 7.7 5.2 5.8 5.1 3.9 5.2 2.8 5.2 1.7 5.2 .8 20.8 .9 25.9 4.2 5.2 .1 5.2-.7 10.3-2.8 5.2-2.6 5.2-3.3 15.6-11.5 5.2-2.5 5.1-.7 5.2 1.2 5.2 3.3 5.2 5.1 25.9 33 5.2 5 5.2 2.6 5.2 .6 5.2-1.9 5.2-5.1 5.2-7.2 15.5-25.1 5.2-6.4 5.2-3.8 5.2-.7 5.2 2.3 5.2 4.9M459.2 71.7l15.5 38.3 5.2 11.5 5.2 9.1 5.2 6.2 5.2 2.5 5.2-1.3 5.2-4.6 5.1-7.8 5.2-10.6 5.2-12.7 15.6-41.6 5.2-11.2 5.1-8.2 5.2-4.5 5.2-.6 5.2 3.2 5.2 6.5 5.2 9 5.2 11.2 5.2 13.2 10.3 28.3 5.2 12 5.2 9.8 5.2 6.5 5.2 1.7 5.2-2.7 5.2-6.9 5.1-10.2 5.2-12.6 10.4-28.1 5.2-12.7 5.2-10.6 5.2-7.5M111.6 143.9l5.2-2.2 5.2-3.7 5.2-4.8 15.6-17.8 10.3-11 5.2-4.6 5.2-3.6 5.2-2.3 5.2-.7 5.2 .5 5.2 1.8 5.1 2.8 5.2 3.7 10.4 8.1 10.4 8.8 10.4 7.1 5.1 2.4 5.2 1.3 5.2 .6 5.2-.2 5.2-1.5 5.2-2.3 5.2-3 5.1-4.4 15.6-17.4 10.4-8.8 5.2-2 5.2 .9 5.1 2.5 5.2 4.1 5.2 5.3 15.6 18.6 5.2 5.3 5.2 4.1 5.1 3.3 5.2 2.2 5.2 .6 5.2-1.3 5.2-3.3 10.4-9.8 15.5-17.5 5.2-4.7 5.2-2.5 5.2-1.7 5.2 0 10.3-.8 5.2 .9 5.2 2.4 5.2 4.3 5.2 6 5.2 7.8 20.7 38.3 5.2 8.1 5.2 6.4 5.2 4.8 5.2 2.8 5.2 .5 5.2-1.2 5.1-2.9 5.2-4.9 5.2-6.7 5.2-8.6 20.7-42.2 5.2-9.4 5.2-7.7 5.2-5.6 5.2-3.3 5.2-.9 5.2 2.2 5.2 5.9 5.1 9.7 5.2 12.3 15.6 43.1 5.2 12.4 5.2 9.8 5.2 6.4 5.1 2.8 5.2-.9 5.2-4.8 5.2-8.1 5.2-10.7 10.4-27.1"/><path stroke="#1A82D4" d="M111.6 269.4l20.8-1.7 25.9-3.3 20.8-4 15.5-4.1 36.3-13 20.8-8.6 20.7-10.8 10.4-6.6 5.2-3.9 10.4-9.6 5.2-6.2 10.3-14.3 10.4-17 15.6-28 5.2-10.7 15.5-36.2 15.6-45.4 5.2-17.2 5.2-11.9 5.1-1.1 15.6 5 5.2-.7 5.2-2.8 5.2-1.8 5.1 2.6 5.2 13.3 20.8 70.3 5.2 16.6 5.2 14.1 20.7 48.4 5.2 11 5.2 9.3 5.2 6.9 5.2 5.3 5.1 4.5 41.5 33.5 46.7 36.1 20.8 12.2 36.3 18 5.2 2.2"/><path stroke="#D8891A" d="M111.6 109.1l5.2 1.6 20.8 8.9 5.2 1.3 5.1 .5 5.2-.4 5.2-1.3 15.6-5.5 10.4-2 5.1-.2 26 2 5.2-.3 5.2-1.1 5.1-1.8 20.8-9.3 5.2-1.1 5.2 0 5.1 .6 5.2 1.1 5.2 2.4 5.2 3.8 10.4 10.2 15.5 18.9 5.2 4.4 5.2 2.6 5.2 0 5.2-2.6 5.2-5.1 5.2-7.9 20.7-39.5 5.2-8 5.2-6.1 5.2-3.3 5.2 .1 5.2 2.9 5.1 6 5.2 8.2 5.2 9.8 15.6 33.9 5.2 7.8 5.1 4.6 5.2 2.2 5.2 .1 5.2-1.6 15.6-8.8 5.2-2.4 5.1-1.4 5.2-.4 5.2 .3 15.6 2.1 10.4-.6 5.1-1.4 5.2-2.6 5.2-3.9 15.6-16.3 5.2-4.7 5.1-3.2 5.2-1 5.2 1.2 5.2 3.5 10.4 11 15.5 18.8 5.2 4 5.2 1 5.2-1.5 5.2-4.3 5.2-7.3 10.4-18.2 5.1-8.2 5.2-5.8 5.2-2.7 5.2 1.1 5.2 4.9 5.2 8.1 5.2 10.3M422.9 140.4l5.1 .3 5.2-2.3 5.2-4.5 5.2-6 15.6-20.4 5.2-5.3 5.1-3.8 5.2-2 5.2-.5 5.2 .7 5.2 2.3 10.4 6.9 15.5 13 5.2 3.2 5.2 1.9 5.2 .6 5.2-.5 5.2-1.3 20.7-6.8 10.4-2.7 5.2-.8 5.2 .4 20.7 7.6 5.2 1.2 5.2-.8 5.2-2.3 5.2-3.8 20.7-19.8 5.2-3.2 5.2-1.5 5.2 .5"/><path stroke="#1A82D4" d="M111.6 237.8l5.2-4.1 5.2-5 5.2-5.8 15.6-21.7 5.1-5.9 5.2-2.5 5.2 1.8 10.4 9.8 5.2 3.7 5.2 1.2 5.2-2.2 10.3-9.5 5.2 1.5 10.4 14.3 5.2 5.7 5.2 3.8 5.2 2.4 5.1 1.5 10.4 .7 5.2-.4 10.4-2 15.5-5.2 10.4-5.2 5.2-3.3 10.4-8.7 5.2-5.8 10.3-13.7 10.4-16.7 15.6-27.8 5.2-10.9 15.5-36.3 15.6-45.6 5.2-17.4 5.2-12 5.1-1.2 15.6 4.8 5.2-.7 5.2-2.7 5.2-1.9 5.1 2.7 5.2 13 20.8 70.6 5.2 16.8 5.2 14.2 20.7 48.5 5.2 11.1 5.2 8.8 5.2 5.6 5.2 3.4 20.7 8 5.2 2.8 41.5 29.6 25.9 17 10.4 5.1 10.4 4.4 41.5 15.5"/><path stroke="#D8891A" d="M111.6 149.9l5.2 5.1 5.2 3.6 5.2 1.6 5.2-.4 5.2-2.3 5.2-4.1 5.1-5.6 5.2-6.8 15.6-24.7 5.2-7.2 5.2-6 5.2-4.2 5.1-2.1 5.2 .2 5.2 2.1 5.2 3.7 5.2 5.3 15.6 18.3 5.1 5 5.2 4 5.2 3.4 5.2 2.6 5.2 1.7 10.4 1.7 5.1-.8 5.2-2.3 10.4-6.7 15.6-11.7 5.2-1.9 5.1-1.1 5.2-.2 5.2 .8 15.6 4.1 5.2 .7 5.2-.3 10.3-1.8 5.2-1.7 15.6-8.4 10.4-3.5 5.1 0 5.2 1.1 5.2 2.8 5.2 5.3 5.2 6.5 10.4 15.2 10.3 12 5.2 5.1 5.2 3.8 5.2 2.2 5.2 .3 5.2-1.7 5.2-3.9 5.1-6 5.2-7.5 15.6-27.5 5.2-8.1 5.2-6.4 5.2-3.4 5.1-.2 5.2 3 5.2 5.9 5.2 8.3 20.7 40.8 5.2 7.8 5.2 5.1 5.2 1.9 5.2-1.5 5.2-5 5.2-7.5 20.7-34 5.2-6 5.2-4 5.2-2.4 5.2-.1 5.2 2.3 5.1 4.7 5.2 6.9 5.2 8.3 15.6 26.9 5.2 6.6M111.6 122.9l10.4-3.8 5.2-1.4 5.2-1.1 20.7-2.4 36.3-10.5 15.6-2.4 20.8 1 25.9-1.9 5.2 .4 10.3 2.3 15.6 .9 5.2-.1 10.4-2.5 36.3-4.4 25.9-7.8 15.6-7.7 10.4-3.1 5.1 .1 5.2 1 5.2 2.1 10.4 8.1 5.2 4.8 5.2 3 10.3 2.2 10.4 .3 15.6-1.6 10.3-2.1 15.6-4.5 10.4-1.8 5.2-.1 5.2 .9 15.5 5.2 5.2 1 5.2 .3 5.2-.6 5.2-1.3 10.3-3.9 10.4-4.8 15.6-8.3 5.2-1.4 5.1 .2 5.2 1.2 5.2 1.4 10.4 4.1 5.2-.8 5.2-4.5 5.2-9.5 10.3-25.3 5.2-6.4 5.2 3 5.2 10.7 5.2 13 5.2 10.3M111.6 116.3l5.2 6.2 5.2 4.4 5.2 1.9 5.2-.6 5.2-2.9 5.2-5.1 5.1-6.6 15.6-23.5 5.2-6.2 5.2-4.1 5.2-1.9 5.2 .2 5.1 2.4 5.2 4 15.6 14.6 5.2 4 5.2 2.5 5.2 .9 5.1-.9 5.2-2.2 15.6-8.3 5.2-2.1 15.5-3.2 5.2-.7 20.8 0 10.3 1.4 5.2 0 5.2-.5 5.2-1.2 10.4-4 10.4-6.4 5.1-2.8 5.2-2.1 5.2-1.5 10.4-1.9 5.2-.1 10.4 2.1 15.5 6.2 15.6 8.3 5.2 .4 15.5-3.6 5.2-.2 5.2 1 5.2 2.2 15.5 10.3 5.2 2.5 5.2 .8 5.2-1.3 5.2-3.1 5.2-4.9 15.5-19.2 5.2-5.3 5.2-4 5.2-2.2 5.2-.1 5.2 2 5.2 4.1 15.5 17.8 5.2 4.8 5.2 2.7 5.2-.3 5.2-2.6 5.2-4.2 15.5-15.1 5.2-3.2 5.2-.9 5.2 .9 5.2 3.8 5.2 6.3 5.1 8.7 15.6 31.8 5.2 9 5.2 6.3 5.2 2.6"/><path stroke="#1A82D4" d="M111.6 223.4l10.4 9.7 5.2 3.9 5.2 2.9 5.2 2.2 5.2 1.5 10.3 1.6 5.2 .2 10.4-.5 15.6-2.3 10.3-2.4 41.5-12.1 10.4-3.6 15.6-6.6 10.3-5.4 5.2-3.2 10.4-8.2 15.6-16.7 10.3-8.6 5.2-5.1 5.2-6.6 15.6-24.8 5.2-10.4 15.5-35.8 15.6-45.6 5.2-17.4 5.2-12 5.1-1.4 5.2 1.2 5.2 2 5.2 1.4 5.2-.8 5.2-2.8 5.2-1.8 5.1 1.2 5.2 6.9 5.2 15.1 20.8 69.5 5.2 15.6 10.3 25.7 15.6 35.2 5.2 9.8 5.2 7.6 5.2 5.1 25.9 17.6 36.3 28.3 31.1 21.9 15.6 8.6 31.1 15.5 5.2-142 5.2 147.6 5.2 2.7M111.6 268.7l26-1.5 20.7-2 15.6-2.7 15.5-3.8 10.4-3.4 31.1-11.3 20.8-8.3 20.7-10.5 15.6-10.2 10.4-9.5 5.2-6 10.3-14.1 10.4-16.9 15.6-28 5.2-10.6 15.5-36.2 15.6-46.2 5.2-17.6 5.2-12.1 5.1-1 15.6 5.4 5.2-.5 5.2-2.5 5.2-1.7 5.1 2 5.2 10.6 26 86.8 5.2 14.7 10.3 24.9 15.6 35.2 5.2 9.8 5.2 7.8 5.2 6.1 10.3 10.2 26 22.6 25.9 20.1 31.1 22.5 46.7 28.5 5.2 .5 10.4 0M111.6 254.8l15.6-1.4 20.7-2.6 26-4.3 15.5-3.6 26-7.9 25.9-6.7 20.8-6.5 15.5-6.1 10.4-5.5 10.4-8.2 10.3-11.7 10.4-14.6 20.8-36.3 20.7-48.7 15.6-45.4 5.2-16.9 5.2-11.6 5.1-1.1 5.2 1.6 10.4 4.1 5.2-.3 5.2-2.4 5.2-1.5 5.1 1.9 5.2 8.7 26 86 5.2 15 10.3 25.1 10.4 22.9 5.2 10.5 5.2 8.7 5.2 7.1 5.2 5.6 5.1 4.7 15.6 12.2 10.4 6.4 10.3 5.7 26 12.5 15.5 6.1 10.4 3.4 5.2 1.1 10.4 .6 10.4-.5 20.7-2 15.6-.2"/><path stroke="#D8891A" d="M111.6 132.2l5.2-1 5.2-2 5.2-2.8 5.2-3.7 10.4-8.8 20.7-20.5 5.2-4.4 5.2-3.5 5.2-2.5 5.2-1.6 5.1-.4 5.2 .8 5.2 1.5 5.2 2.4 5.2 3.4 20.7 16.6 10.4 6.7 5.2 2.7 5.2 1.8 5.2 .9 5.2 .1 5.1-1.7 5.2-3.7 10.4-10.8 15.6-18.9 5.2-4.1 5.1-3.1 5.2-1.9 5.2-.6 5.2 .4 5.2 1.4 15.6 6.8 15.5 9 5.2 2.5 15.6 5.1 10.3 2.9 10.4 2.1 5.2 1.7 10.4 1.1 5.2-2.7 5.1-5 15.6-20.2 5.2-6.1 5.2-4.8 5.2-2.9 5.2-.7 5.1 1.7 5.2 3.7 5.2 5.4 5.2 6.5 10.4 16.4 15.5 27.1 5.2 8.1 5.2 6.8 5.2 4.9 5.2 2.9 5.2 .6 5.2-1.5 5.1-3.6 5.2-5.6 5.2-7.3 5.2-8.9 15.6-32.6 5.2-9.6 5.1-7.1 5.2-4.6 5.2-2 5.2 1.4 5.2 4.4 5.2 6.3 5.2 8.2 5.2 9.6 20.7 42.1 5.2 8.8 5.2 7 5.2 4.9"/><path stroke="#1A82D4" d="M111.6 255.2l26-3.8 31.1-6.6 25.9-7.5 26-10 15.5-7.1 10.4-6.2 5.2-3.9 10.4-9.4 20.7-24.8 5.2-3.9 5.2-1 10.4 2.6 5.1-.2 5.2-2.2 5.2-4.5 5.2-6.3 15.6-24.4 5.2-10.4 15.5-35.5 15.6-45 5.2-17.1 5.2-11.7 5.1-.9 5.2 1.7 5.2 2.4 5.2 1.8 5.2-.4 5.2-2.4 5.2-1.5 5.1 1.8 5.2 9.3 26 86.2 5.2-7.7 5.1 35.4 20.8 46.8 5.2 9.6 5.2 7.7 5.2 5.7 5.1 4.7 41.5 34.5 20.8 16.5 25.9 19.2 20.8 12 41.5 20.4"/><path stroke="#D8891A" d="M459.2 128l10.3 2.3 5.2 .3 5.2-.6 10.4-3.3 10.4-4.6 5.2-1.7 5.1-1 5.2-.3 5.2 .3 10.4 1.9 20.7 7.2 5.2 1.4 5.2 .5 5.2-.8 5.2-2.4 10.4-7.1 15.5-9.7 5.2-2 5.2-1.2 5.2-.9 5.2 .1 5.2 1.2 5.1 2.4 5.2 3.9 5.2 4.8 5.2 5.9 15.6 18.8M111.6 132.5l10.4 4 10.4 2.7 10.4 .8 5.1-.5 5.2-1.3 5.2-2.3 5.2-3 20.8-14.4 10.3-6.3 10.4-5 5.2-1.4 5.2-.6 10.4 .2 10.3 2.2 5.2 2.5 5.2 3.2 15.6 11.9 5.1 3.1 5.2 1.3 5.2-.3 5.2-1.4 5.2-2.8 10.4-9.3 10.3-7.5 5.2-3 5.2-1.7 5.2-.5 5.2 .8 10.4 4.8 5.2 3.1 10.3 7.5 5.2 3 5.2 1.5 5.2-.4 5.2-2 5.2-3.1 15.5-14.1 5.2-4.1 5.2-1.8 5.2-.4 10.4 4.7 5.1 3.8 5.2 6.1 5.2 8.1 15.6 30.8 5.2 8.8 5.2 6 5.1 2.1 5.2-2.1 5.2-6.5 5.2-10.3 5.2-12.7 10.4-27.9 5.2-11.8 5.1-8.4 5.2-4.4 5.2 0 5.2 4.2 5.2 7.9 5.2 10.6 10.3 23.9 5.2 10.4 5.2 7.3 5.2 3.2 5.2-1.6 5.2-6.6 5.2-10.1 10.3-23.5 5.2-10.3 5.2-7.9 5.2-3.4 5.2 1.4 5.2 5.4 5.2 9.8 5.2 13.1 15.5 46.2 5.2 12.3 5.2 8.5 5.2 3.5 5.2-2M433.2 98.6l5.2 2 5.2 3.1 5.2 4.3 5.2 5.5 20.7 26.7 5.2 4.8 5.2 2.9 5.2 1.1 5.2-1.1 5.2-3.4 5.2-5.1 5.1-6.7 10.4-17.7 15.6-29.8 5.2-8.1 5.1-5.9 5.2-3.3 5.2-.4 5.2 2.4 5.2 4.9 5.2 6.8 5.2 9 5.2 11 15.5 37.9 5.2 10.9 5.2 8.6 5.2 4.5 5.2 .8 5.2-3.1 5.1-6.7 5.2-9.5 5.2-12 15.6-39.6 5.2-11.3"/><path stroke="#1A82D4" d="M111.6 271.8l20.8-1.4 20.7-2.7 15.6-3.1 20.7-5.9 46.7-16.6 15.6-6.3 10.4-5.1 10.3-5.8 10.4-6.7 5.2-4 10.4-9.8 5.2-6.2 10.3-14.3 10.4-17.1 15.6-27.9 5.2-10.9 15.5-36 15.6-44.7 5.2-16.9 5.2-11.6 5.1-1 15.6 5.3 5.2-.6 5.2-2.6 5.2-1.9 5.1 1.5 5.2 8.3 26 84.4 5.2 14.8 10.3 24.8 5.2 10.8 10.4 23.9 5.2 9.5 5.2 7 5.2 4.6 20.7 12.4 5.2 3.5 36.3 28.1 31.1 21.9 20.8 11.4 41.5 20.3M111.6 265l20.8-2.3 20.7-3.1 20.8-4.5 15.5-4.3 41.5-14.1 15.6-6.1 10.4-4.7 10.3-5.5 10.4-6.6 5.2-4.1 10.4-10.2 15.5-20.3 5.2-7.5 20.8-33 5.2-9.4 15.5-31.7 5.2-11.6 15.6-41.5 5.2-16.8 5.2-11.4 5.1-1 15.6 5.6 5.2-.5 5.2-2.5 5.2-1.7 5.1 2 5.2 10.5 26 86.2 5.2 14.5 5.1 12.6 20.8 46.4 5.2 10 5.2 8.4 5.2 7.2 20.7 25.4 10.4 11 10.3 10.2 10.4 9.5 15.6 13.2 20.7 16.3 10.4 7.4 20.8 12.8 36.3 0M111.6 267.6l15.6-1.2 20.7-3.1 15.6-3.4 25.9-7.3 26-8.9 25.9-8.2 10.4-3.9 20.7-9.5 10.4-6 5.2-3.6 10.4-9.1 5.2-5.9 10.3-14 10.4-16.9 15.6-28.1 5.2-10.9 15.5-36.4 15.6-45.5 5.2-17.2 5.2-11.8 5.1-.9 5.2 1.5 5.2 2.4 5.2 1.7 5.2-.4 5.2-2.5 5.2-1.6 5.1 1.3 5.2 5.5 5.2 13.8 20.8 70.2 5.2 16.2 5.1 13.9 20.8 48.4 5.2 10.8 5.2 9.3 5.2 7.5 15.5 17.7 10.4 10.4 10.4 9.3 25.9 21.5 36.3 28 25.9 16.6 5.2 2.5 26 0M111.6 260.3l20.8-1.9 25.9-3.6 20.8-4 15.5-4 46.7-16.6 25.9-10.2 15.6-7.2 10.4-7 5.2-4.5 5.2-5.5 10.3-13.4 10.4-16.5 15.6-27.8 5.2-11.3 15.5-37 15.6-45.6 5.2-17.1 5.2-11.7 5.1-1.2 5.2 1.4 10.4 4 5.2-.5 5.2-2.4 5.2-1.5 5.1 2 5.2 9.2 26 87.2 5.2 15.1 10.3 25.3 15.6 35.1 10.4 20.5 15.5 25.7 10.4 15.6 5.2 6.6 10.4 10.9 20.7 19 5.2-119.2 5.2 127.9 25.9 22 5.2 1.7 57.1 0"/><path stroke="#D8891A" d="M111.6 98.2l5.2 4.7 5.2 3.9 5.2 2.6 5.2 1.2 5.2-.3 5.2-1.8 5.1-3.3 5.2-4.4 15.6-16.8 5.2-4.6 5.2-3.6 5.2-2.3 5.1-1 5.2 .5 5.2 1.2 5.2 2 15.6 8.7 5.2 2.2 5.1 1.6 10.4 1.1 5.2 0 15.6-2.2 5.1-1.5 10.4-4.4 5.2-1.5 10.4-.9 5.2 1.2 5.2 3.3 15.5 13 5.2 4 5.2 2.8 5.2 1.5 5.2-.8 5.2-3 5.1-4.6 5.2-6 5.2-7.5 5.2-9 10.4-20 5.2-8.9 5.2-7.4 5.1-4.7 5.2-2 5.2 1.6 5.2 5.8 5.2 8.4 20.7 46.5 5.2 10.9 5.2 9.5 5.2 7.2 5.2 4.7 5.2 1.5 5.2-1.7 5.1-4.8 5.2-7.5 5.2-9.6 15.6-31.7 5.2-8.4 5.2-5.4 5.1-2.1 5.2 1.1 5.2 3.9 5.2 6.4 5.2 8.1 15.5 26.5 5.2 6.7 5.2 4.2 5.2 1.4 5.2-1.8 5.2-4.6 10.4-12.5 5.1-5.2 5.2-3.9 5.2-2.7 5.2-.6 10.4 3 10.4 5.9 10.3 6.9 10.4 5.2 5.2 1.4 5.2 .1 5.2-1.4M111.6 138l5.2-6.6 15.6-22.6 5.2-6.4 5.2-4.8 5.1-3.1 5.2-1.2 5.2 .5 5.2 2.1 5.2 3.7 15.6 15.9 5.1 4.9 5.2 4 5.2 2.4 5.2 .6 5.2-.8 5.2-2.4 5.2-3.8 5.2-5.1 15.5-17.3 5.2-4.4 5.2-3.3 5.2-1.8 5.2-.1 5.1 .7 5.2 1.1 5.2 2 5.2 3.2 10.4 7.8 5.2 4.6 10.3 10.8 5.2 4.2 5.2 2.9 5.2 1.1 5.2-1 5.2-3.1 5.2-5.5 5.2-7.5 15.5-25.4 5.2-7.8 5.2-6.6 5.2-4.4 5.2-1.3 5.2 1.4 5.1 4.8 5.2 7.1 5.2 9.4 15.6 34.5 5.2 7.9 5.1 4.3 5.2 1.2 5.2-2 5.2-4.8 5.2-6.9 15.6-25.2 5.1-6.8 5.2-4.6 5.2-2.3 5.2 .5 5.2 3.8 5.2 6.6 5.2 9 15.5 35.6 5.2 10.8 5.2 8.3 5.2 4.9 5.2 1.2 5.2-2.7 5.1-6.4 5.2-9.6 5.2-12.2 5.2-14.2 10.4-30.7 5.2-14 5.2-10.7 5.1-6.3 5.2-1.9 5.2 2.5 5.2 7.3 5.2 11.4 5.2 13.7 15.5 47.6 5.2 14.5 5.2 11.7 5.2 8.4 5.2 4.5 5.2 .1 5.2-4.4"/><path stroke="#1A82D4" d="M111.6 264.2l20.8-2.3 25.9-5 26-6.7 25.9-7.7 31.1-8.4 10.4-3.7 15.5-6.8 10.4-5.6 10.4-6.9 10.4-9.2 5.2-6 10.3-13.9 10.4-16.8 15.6-27.8 5.2-11.1 15.5-36.7 15.6-45.8 5.2-17.3 5.2-11.9 5.1-1.1 5.2 1.4 10.4 4 5.2-.4 5.2-2.3 5.2-1.5 5.1 2 5.2 9.2 26 86.8 5.2 15 10.3 24.9 15.6 34.6 5.2 9.3 5.2 7 5.2 4.8 25.9 17.2 41.5 34.1 25.9 19.4 15.6 8.5 46.7 21.4M111.6 249.1l15.6-1.6 36.3-4.9 25.9-5.3 26-7.9 31.1-7.7 20.7-6.4 15.6-6.4 10.4-6.4 5.2-4.3 5.2-5.2 10.3-12.8 10.4-16.1 15.6-27.2 5.2-10.9 15.5-36.5 15.6-45.6 5.2-17.3 5.2-11.8 5.1-.9 5.2 1.6 5.2 2.5 5.2 1.8 5.2-.4 5.2-2.4 5.2-1.5 5.1 1.8 5.2 8.5 26 86.1 5.2 15.2 10.3 25.4 15.6 34.9 5.2 10.1 5.2 8.6 5.2 6.9 20.7 22.6 15.6 14.4 25.9 21.1 31.1 23.5 10.4 7.2 25.9 17.2 5.2 .8 20.8 0"/><path stroke="#D8891A" d="M422.9 125.6l5.1 6.4 5.2 5 5.2 3.3 5.2 1.7 5.2-.2 5.2-2 5.2-3.8 5.2-5.3 10.3-14.1 10.4-16.1 5.2-7.1 5.2-5.9 5.2-4.2 5.2-1.7 5.1 .9 5.2 3.2 5.2 5.1 5.2 6.7 5.2 7.8 15.5 25.2 5.2 7.3 5.2 5.7 5.2 3.7 5.2 1 5.2-2 5.2-4.3 5.2-5.8 10.3-14.2 10.4-16.4 10.4-15 5.2-6.5 5.2-5.1 5.1-3.1 5.2-.8 5.2 1.4 5.2 3.8 5.2 6.3 5.2 8.2 5.2 9.5M111.6 126.1l5.2-2.4 5.2-3.5 15.6-13 5.2-3.4 5.1-2.4 5.2-1.5 5.2-.8 5.2-.2 5.2 .6 10.4 2.6 15.5 5.2 5.2 1.3 10.4 1 5.2-.6 5.2-1.7 5.2-2.9 15.5-12.9 5.2-3.8 5.2-3 5.2-1.6 5.2 .1 5.1 .9 5.2 1.3 5.2 2.3 5.2 3.4 10.4 8 5.2 4.6 10.3 10.5 5.2 4 5.2 2.9 5.2 1.2 5.2-.7 5.2-2.5 5.2-4.7 25.9-34.8 5.2-6.1 5.2-4.7 5.2-2.5 5.2-.5 5.1 2 5.2 3.9 5.2 6 10.4 17.4 5.2 9.8 5.2 7.7 5.1 5.8 5.2 4.5 5.2 3.2 5.2 2.1 5.2 1.2 5.2 .6 5.2-.1 10.3-1.7 5.2-1.5 20.8-8.3 5.2-1.5 5.2-.4 5.1 .5 15.6 2.8 5.2-.3 5.2-1.5 5.2-3 5.1-4.4 5.2-5.7 20.8-26.9 5.2-4.3 5.2-1.2 5.1 2.4 5.2 5.4 5.2 7.5 10.4 20 5.2 9.2 5.2 7.9 5.2 5.7 5.1 3.3 5.2 1 5.2-1.6 5.2-3.4 5.2-4.8 10.4-12.8M111.6 124.6l15.6-7 10.4-3.7 46.7-9.7 10.3-3.1 26-11.9 5.2-1.8 5.1-1.1 5.2-.1 5.2 1.4 5.2 3 5.2 4.4 5.2 5.8 10.3 13.7 5.2 5.7 5.2 4.6 5.2 3.5 5.2 1.9 5.2-.6 10.4-4.2 5.1-3.8 5.2-5 5.2-5.8 26-32.7 5.1-4.8 5.2-3.3 5.2-2 5.2-.9 5.2 0 5.2 1.4 5.2 3 5.2 4.1 10.3 12.2 5.2 7.6 15.6 27.3 5.2 6.4 5.1 3.6 5.2 1.2 5.2-1.4 5.2-3.9 5.2-6.3 5.2-8.1 15.5-27.2 5.2-7.1 5.2-5.2 5.2-2.9 5.2-.1 5.2 2.5 5.2 5 5.2 7.4 15.5 29.4 5.2 8.9 5.2 7 5.2 4.7 5.2 2.1 5.1-.5 5.2-2.8 5.2-4.8 5.2-6.5 5.2-8 10.4-18.4 5.2-8.1 5.1-6.1 5.2-3.9 5.2-2 5.2 1.2 5.2 3.8 5.2 5.2 5.2 6.8 5.2 7.9 10.3 17.5 10.4 15.6 5.2 6.1 5.2 4.3 5.2 2.1M111.6 106.2l5.2-2.1 5.2-1.2 5.2 0 5.2 1.3 5.2 2.6 15.5 11.6 5.2 2.9 5.2 1.5 5.2-.1 5.2-1.7 5.2-3.6 5.2-5.4 20.7-27.6 5.2-4.8 5.2-2.6 5.2-.3 5.2 2.2 5.1 4.6 5.2 6.7 15.6 27.2 5.2 8.3 5.2 6.6 5.1 3.3 5.2-.7 5.2-4.1 5.2-6.9 5.2-9.3 10.4-22.5 5.2-9.7 5.1-8.1 5.2-6 5.2-3.3 5.2-.6 5.2 1.9 5.2 4.1 20.7 22.5 5.2 4.2 5.2 1.8 5.2-.8 5.2-2.9 5.2-4.4 15.5-17.1 5.2-4.1 5.2-1.5 5.2 .4 10.4 6.5 5.1 4.2 5.2 5.8 5.2 7 15.6 22.3 5.2 5.5 5.2 3.4 5.1 1.2 5.2-1.1 5.2-3.1 15.6-13.6 5.2-3.5 5.2-1.7 5.1 .3 5.2 1.9 15.6 9.8 5.2 2.5 5.2 1.2 5.1-.5 5.2-2.5 5.2-4.4 5.2-6.1 15.6-23.7 5.2-5.5 5.1-1.9 5.2 1.7 5.2 4.9 5.2 8.7 15.6 35.8 5.2 10.8 5.1 8.4 5.2 5.1 5.2 1 5.2-3.1 5.2-6.9 5.2-10.2 5.2-12.5"/><path stroke="#1A82D4" d="M111.6 262l20.8-2.4 20.7-3.1 20.8-4.1 15.5-4.1 41.5-13.9 15.6-6.1 20.7-10.3 10.4-6.5 5.2-4 5.2-4.7 5.2-5.6 15.5-19.7 5.2-7.1 20.8-31.7 5.2-9.3 15.5-31.3 5.2-11.5 10.4-26.9 5.2-14.7 5.2-17.2 5.2-11.8 5.1-1.1 5.2 1.5 5.2 2.4 5.2 1.6 5.2-.5 5.2-2.4 5.2-1.6 5.1 1.9 5.2 9.7 26 87.4 5.2 15 10.3 25.4 15.6 35.4 5.2 9.7 5.2 7.6 5.2 5.7 5.1 4.7 36.3 29.3 20.8 15.8 25.9 18.4 10.4 6.7 10.4 5.7 46.7 23.7"/><path stroke="#D8891A" d="M111.6 174.7l5.2 1.7 5.2 0 5.2-2.1 5.2-3.8 5.2-5.4 5.2-6.8 5.1-7.8 15.6-25.9 5.2-7.4 5.2-5.6 5.2-3.6 5.2-1.4 5.1 1 5.2 3.3 5.2 4.9 5.2 6.2 15.6 22.1 5.2 5.9 5.1 4.2 5.2 2.3 5.2 .9 5.2-.7 5.2-2.2 5.2-3.2 5.2-3.6 5.1-4.5 10.4-10.5 5.2-4.1 10.4-5.6 5.2-.8 5.2 1.6 5.1 2.7 5.2 3.4 10.4 8.1 10.4 6.9 5.2 1.7 5.2 .2 5.1-.7 5.2-1.7 5.2-2.9 5.2-4.1 10.4-10.5 10.4-9 5.1-2.8 5.2-1.4 5.2 .4 5.2 2.9 5.2 4.1 5.2 5.6 5.2 4.5 10.3 7.2 10.4 6.2 5.2 2.3 5.2 1.6 5.2 .8 5.2 0 5.1-.8 5.2-1.4 15.6-6.3 10.4-2.9 15.5-.8 5.2-.8 5.2-1.8 5.2-3.1 5.2-4.4 5.2-5.6 5.1-6.5 20.8-29.8 5.2-6.5 5.2-4.6 5.2-1.6 5.1 2.3 5.2 5.7 5.2 8.5 5.2 11.7 15.6 40.8 5.2 12.1 5.1 9.8 5.2 7 5.2 3.2 5.2-.7 5.2-4.3 5.2-8.1 5.2-11.2M448.8 110.9l15.6 3.5 5.1 .7 5.2 .1 5.2-.9 5.2-2 5.2-2.6 15.6-8.9 5.1-1.8 5.2-.8 5.2 .1 5.2 1.1 5.2 2 5.2 2.8 15.5 11.3 5.2 3.1 5.2 1.8 5.2 0 5.2-2.5 5.2-4.3 10.3-10.8 10.4-12 5.2-4.8 5.2-3.4 5.2-2.4 5.2-.4 5.2 1.7 5.1 4.1 5.2 6.5 5.2 8.2 15.6 29.5 5.2 8.3M111.6 118.5l5.2 4.7 5.2 3.8 5.2 2.6 5.2 1.4 5.2 .1 5.2-1.2 5.1-2.5 5.2-3.8 5.2-5.3 20.8-26.3 10.3-11.5 5.2-4.2 5.2-3.3 5.2-2.1 5.2-.6 5.2 .8 5.2 1.9 5.2 2.8 5.1 3.5 5.2 4.1 5.2 4.9 20.8 22 5.1 3.8 5.2 1.7 5.2 .1 5.2-1.1 5.2-2.5 10.4-8.8 15.5-11.8 10.4-6.1 5.2-2.3 15.6-4.9 20.7-2.8 10.4-1.9 10.4 .3 5.1 1.4 5.2 2 5.2 3 15.6 13.7 5.2 2.8 5.1 1.2 15.6 1.8 5.2 1.1 5.2 1.9 15.5 7.8 5.2 1.7 5.2 .2 5.2-1.8 5.2-3.7 5.2-5.8 5.2-7.6 15.5-25.7 5.2-7.7 5.2-6.2 5.2-4.2 5.2-1.8 5.2 1 5.1 3.7 5.2 6.4 5.2 8.4 20.8 39.5 10.3 17 5.2 6.1 5.2 3.1 5.2 .5 5.2-2.6 5.2-6.6 5.2-9.9 5.2-12.4 15.5-41.9 5.2-11.9 5.2-9 5.2-5.8 5.2-2.3M111.6 151.7l10.4-6.9 10.4-5.8 5.2-1.8 5.2-1.1 10.3-.3 26 2.1 10.3-.1 5.2-.3 20.8-3.5 15.5-1.5 5.2 .1 5.2 .9 5.2 1.8 5.2 2.2 15.5 8.6 5.2 1.2 5.2 .4 5.2-.3 5.2-1.1 10.4-5.3 25.9-11.7 20.8-7.8 5.1-1.3 26-3 10.4 .4 15.5 3.2 15.6 6.3 5.2-.3 15.5-7 5.2-1.8 5.2-.8 5.2 .7 5.2 2.2 5.2 3.7 5.1 5 15.6 16.9 5.2 4.9 5.2 4 5.2 2.7 5.2 1.6 5.1 .1 5.2-1.5 5.2-3.4 5.2-5 5.2-6.5 15.5-21.5 5.2-5.9 5.2-4.4 5.2-2.9 5.2-1.2 5.2 0 5.2 1.9 5.2 3.9 20.7 24.9 5.2 4.7 5.2 1.9 5.2-.8 5.2-3.3 5.1-5.5 5.2-7 10.4-16.2 5.2-7.2 5.2-5.6 5.2-3.8"/><path stroke="#1A82D4" d="M111.6 261.2l51.9-4.5 15.6-2.6 10.3-2.4 15.6-5.2 41.5-15.6 25.9-12.2 10.4-6.1 5.2-3.5 10.4-9 5.2-5.8 10.3-13.6 10.4-16.4 15.6-27.2 5.2-10.7 15.5-35.9 15.6-44.7 5.2-17 5.2-11.6 5.1-.9 15.6 5.8 5.2-.4 5.2-2.5 5.2-1.7 5.1 1.9 5.2 9.8 26 85.9 5.2 14.6 10.3 24.8 15.6 35 10.4 19.7 5.2 8.2 10.3 15 10.4 14 5.2 6 10.4 10.6 20.7 19.2 36.3 30.8 5.2 3.9 5.2 2.9 51.9 0M111.6 257.7l26-2.1 25.9-2.6 15.6-2.5 15.5-3.6 41.5-13.4 20.8-8.1 20.7-9.5 10.4-6.1 5.2-4 5.2-4.6 5.2-5.6 10.3-13.5 10.4-16.5 15.6-27.6 5.2-11 15.5-36.4 15.6-45.3 5.2-17.1 5.2-11.8 5.1-1 5.2 1.4 5.2 2.3 5.2 1.6 5.2-.6 5.2-2.5 5.2-1.7 5.1 4 26 87.5 5.2 15.6 5.2 13.4 20.7 47.4 5.2 10.3 5.2 8.8 5.2 6.6 5.2 5.5 10.3 9.7 26 22.5 31.1 25.9 25.9 20.3 15.6 9.9 25.9 15.1 5.2 1.4 15.6 0M111.6 260.8l36.3 4.1 5.2 3 5.2 5.8 5.2 3.3 5.2 2.5 5.2 .4 5.2-.8 20.7-6.4 46.7-18.6 15.6-8.6 15.5-11.6 10.4-9.6 10.4-12.4 10.3-13.8 10.4-15.6 10.4-19.2 15.6-33.6 10.3-24.9 10.4-28.1 15.6-46.3 5.2-10.4 5.1-2.5 5.2-.5 15.6 1.1 10.4 1.4 5.1 1.6 5.2 6.5 5.2 17.4 31.1 95.8 10.4 29 10.4 25 10.4 21.4 5.2 9.3 10.3 16.6 20.8 29.5 15.5 19.7 10.4 11.9 15.6 16.6 83 0M111.6 252.3l31.2-3.5 25.9-4.2 20.7-4.8 26-7.5 25.9-5.9 15.6-4.7 15.5-5.9 10.4-5.1 10.4-7 5.2-4.6 5.2-5.5 10.3-13.2 10.4-16.2 15.6-27 5.2-10.9 15.5-35.9 15.6-44.7 5.2-16.9 5.2-11.6 5.1-.9 15.6 5.7 5.2-.5 5.2-2.5 5.2-1.7 5.1 1.9 5.2 9.7 26 86.2 5.2 14.7 5.1 12.7 20.8 46.7 5.2 9.9 5.2 8.3 5.2 6.8 20.7 23 15.6 14.9 25.9 22.3 25.9 20.9 10.4 7.7 25.9 16.4 5.2 .4 26 0"/><path stroke="#D8891A" d="M111.6 115.3l5.2-8.7 5.2-7.6 5.2-5.9 5.2-4 5.2-1.9 5.2-.3 5.1 .9 15.6 3.9 10.4 1.5 10.4-.1 20.7-1.9 5.2 .4 10.4 2.6 25.9 11 5.2 1.1 5.2 .3 5.2-.6 5.1-2.3 5.2-4.3 20.8-20.9 5.2-3.5 5.2-1.1 5.1 .8 5.2 2.5 5.2 4.3 5.2 5.7 10.4 13.5 5.2 6 5.2 4.5 5.1 3.1 5.2 1.2 5.2-1.1 5.2-3.8 5.2-6.3 15.6-23.6 5.1-6.6 5.2-4.9 5.2-2.3 5.2 1.5 5.2 3.8 25.9 32 5.2 5 5.2 3.7 5.2 2 5.2 .5 5.2-1.2 5.1-2.5 5.2-3.4 10.4-7.9 5.2-2.9 5.2-1.6 5.2-.1 5.2 1.7 15.5 9.5 5.2 1 5.2-1.4 5.2-4.2 5.2-6.8 5.1-8.8 15.6-29.4 5.2-7.6 5.2-5.5 5.2-2 5.2 2.4 5.1 7 5.2 11 5.2 13.6 15.6 48.1 5.2 12.9 5.2 9.5 5.1 5.3 5.2 .8 5.2-4.2 5.2-8.3 5.2-11.7 10.4-29.2M111.6 129.1l41.5-16.2 15.6-6.5 20.7-7.2 15.6-4.3 5.2-.6 10.4 .2 15.5 1.9 26 8 5.1 .3 5.2-2.1 5.2-5 5.2-8.7 5.2-13.2 10.4-34.3 5.2-11 5.1-2 5.2 7.6 10.4 29 5.2 12.1 5.2 7.7 5.2 2.9 5.2-.4 5.1-1.7 10.4-4.8 15.6-8.7 10.4-3.4 5.1-.5 5.2 0 5.2 .9 10.4 5.5 5.2 3.8 5.2 2.3 46.6 8.7 31.2 4.6 15.5 4.5 5.2 .9 5.2 .1 5.2-.7 10.4-3.2 20.7-8.7 15.6-8.9 5.2-2 5.1-.6 10.4 1.6 15.6 7.3 5.2 1.9 10.3 2.1 5.2 .4 10.4-1 5.2-1 10.4-3.4M111.6 132.2l5.2 0 10.4-1.5 15.6-5.3 10.3-5.4 15.6-11.4 10.4-6.8 5.2-2.8 5.1-2 5.2-.9 5.2-.2 5.2 .7 5.2 1.8 20.7 11.8 10.4 5 5.2 2 5.2 1 5.2 .3 5.2-.5 5.1-2.3 5.2-4.2 10.4-11.2 10.4-12.6 5.2-5.3 5.2-3.2 5.1-1.8 5.2-.3 5.2 1.4 5.2 2.7 5.2 4 25.9 24.7 5.2 3.9 5.2 2.2 5.2 .3 5.2-1.2 5.2-2.2 10.3-7.3 10.4-8.2 5.2-2.6 5.2-2.4 5.2-1.3 15.5-8.6 5.2-1.6 5.2-.2 5.2 1.6 5.2 3.6 5.2 5.4 5.2 7.1 5.1 8.4 15.6 26.8 5.2 8 5.2 6.7 5.2 5 5.2 3.6 5.1 1.7 5.2-.5 5.2-3 5.2-5.4 5.2-7.7 5.2-9.3 15.5-32 5.2-9.7 5.2-8.3 5.2-6.5 5.2-4.8 5.2-2 5.2 1.3 5.1 4.9 5.2 7.6 5.2 9.3 15.6 33.1 5.2 9 5.2 6.8 5.1 4.5 5.2 2 5.2-.7 5.2-3.2 5.2-5.2 5.2-7.1 5.2-8.6M111.6 116.3l10.4 3.1 5.2 1.1 5.2 .4 5.2-.2 5.2-.9 5.1-1.9 5.2-2.8 20.8-16.2 10.4-6.6 5.1-2.2 5.2-1 5.2-.3 5.2 .6 5.2 1.9 20.7 11.5 10.4 4.2 10.4 2.8 10.4 1.4 5.1-.5 5.2-1.9 15.6-7.6 5.2-3 5.2-2.1 5.2-.4 5.1 .1 5.2 .9 20.8 7.3 5.2 1 10.3-.4 5.2-1.1 5.2-1.9 5.2-3 10.4-8.2 10.4-7.2 5.1-2.4 5.2-1.4 5.2 .1 5.2 2.3 5.2 3.4 5.2 4.8 5.2 3.7 31.1 19.2 10.4 5.2 5.1 1.7 5.2 .9 5.2 .2 20.8-2 5.2 .2 15.5 2.3 5.2 .4 10.4-.6 20.7-2.3 5.2-.7 5.2-1.3 15.6-8 5.1-1.9 10.4-2.1 5.2 .9 5.2 2 20.7 10.3 5.2 2.3 5.2 1.6 10.4 1.9 10.4 0M422.9 127.1l5.1-1.6 5.2-4.6 5.2-6.8 15.6-24.5 5.2-6.1 5.2-3.8 5.1-1.1 5.2 1.4 5.2 3.4 5.2 4.8 10.4 12.3 10.4 11 5.1 4.1 5.2 2.3 5.2 .3 5.2-1.7 5.2-3.4 15.5-13.6 5.2-3.5 5.2-2.5 5.2-1.3 10.4 0 5.2 .9 5.2 2 10.3 5.2 5.2 1.4 5.2 .8 5.2-.4 5.2-2.6 5.2-3.7 10.3-9.1 5.2-3.5 5.2-2.2 5.2 .1 5.2 2.6 5.2 5 5.2 7M111.6 99.4l5.2-3.7 5.2-2.4 5.2-.9 5.2 .5 5.2 2.1 5.2 3.3 15.5 12.9 10.4 6.9 5.2 2.5 5.2 1.3 5.2 .1 5.1-.9 5.2-2 5.2-3.2 5.2-4.3 10.4-9.9 20.7-21.8 5.2-3.7 5.2-2.4 5.2-1 5.2 .7 5.2 2.4 5.1 3.1 10.4 7.3 20.8 19.6 10.3 11.7 5.2 4.9 5.2 4.1 5.2 2.9 5.2 1.6 5.2 .1 5.2-1.9 5.2-3.7 5.1-4.7 5.2-5.7 10.4-13.9 10.4-16 5.2-6.8 5.2-5.9 5.1-3.7 5.2-1.9 5.2 .6 5.2 3.8 5.2 5.7 15.5 23.2 15.6 24.8 10.4 14.7 5.2 5.4 5.2 3.4 5.1 1 5.2-1.5 5.2-4 5.2-6.3 5.2-7.8 15.6-27.7 5.1-8.1 5.2-7 5.2-5.6 5.2-4 5.2-2.3 5.2-.5 5.2 1.3 5.1 3 5.2 4.5 20.8 22.7 15.5 14.3 5.2 4 5.2 2.7 5.2 1.9 5.2 .7 5.2-1.6 5.2-3.1 5.2-4.5 20.7-21.5 5.2-4.1 5.2-3.2 5.2-2.2M428 148.2l5.2-1.2 5.2-4.8 5.2-7.9 15.6-31.9 5.2-9.4 5.1-7 5.2-3.8 5.2-.5 5.2 2.7 5.2 6.2 5.2 8.8 5.2 10.6 10.3 23.8 5.2 10.5 5.2 8 5.2 4.4 5.2 .6 5.2-3.5 5.2-7 5.1-10 15.6-38 5.2-12 5.2-10.4 5.2-7.2 5.2-2.8 5.1 2.1 5.2 6.2 5.2 9.4 15.6 39.8 5.2 12.1 5.2 9.6 5.1 6.6 5.2 3.4 5.2-.4 5.2-3.6 5.2-6.3 5.2-8.4 5.2-9.8M111.6 112.3l5.2-3.6 5.2-5.5 5.2-7 15.6-23.6 5.1-6.5 5.2-4.7 5.2-2.7 5.2-.3 5.2 2.2 5.2 4.6 15.5 18.2 5.2 4.9 5.2 2.7 5.2 .4 5.2-1.5 5.2-3.4 5.2-5 15.5-18.7 5.2-4.5 5.2-2.6 5.2-.4 5.2 2.1 5.2 4.3 15.5 15.5 5.2 4.5 5.2 3.3 5.2 1.1 5.2-.1 5.2-.5 5.1-1.9 5.2-2.8 31.2-21.9 5.1-2.5 5.2-1.6 20.8-3.9 20.7-3.5 5.2-.3 10.4 2.9 5.2 3.1 10.3 4.6 5.2 3.3 5.2 4.6 5.2 5.7 20.8 27.6 5.1 4.9 5.2 2.8 5.2 0 5.2-2.9 5.2-5.7 5.2-8.2 20.7-44.7 5.2-9.4 5.2-6.9 5.2-3.4 5.2 .2 5.2 4 5.1 7.7 5.2 10.3 10.4 23 5.2 9.7 5.2 6.6 5.2 3.3 5.2 .3 5.1-2.4 5.2-5.2 5.2-7.8 15.6-26 5.2-7 5.2-4.5 5.1-1.2 5.2 2.1 5.2 5 5.2 7.5 15.6 28.2"/><path stroke="#1A82D4" d="M111.6 266l26-1.7 20.7-2.5 15.6-3.2 20.7-5.8 46.7-15.4 15.6-6.4 10.3-5.1 10.4-6 10.4-7.3 5.2-4.5 5.2-5.2 5.2-6.1 10.3-14.3 10.4-17.1 15.6-27.9 5.2-10.8 15.5-36 15.6-45 5.2-17.1 5.2-11.5 5.1-.7 15.6 6.2 5.2-.4 5.2-2.4 5.2-1.6 5.1 2 5.2 10.5 26 85.6 5.2 14.3 10.3 24.3 15.6 34.4 5.2 8.7 5.2 5.5 5.2 2.9 20.7 5.2 5.2 2.4 41.5 27.9 25.9 16.3 20.8 9.8 41.5 17.3"/><path stroke="#D8891A" d="M417.7 85.5l20.7 48.2 5.2 10.2 5.2 7.8 5.2 4.6 5.2 .9 5.2-3 5.1-6.7 5.2-9.7 15.6-37.4 5.2-11 5.2-8.6 5.2-4.8 5.1-.9 5.2 3 5.2 6.3 5.2 8.8 15.6 32.4 5.1 9.4 5.2 7.1 5.2 4 5.2 .4 5.2-3.6 5.2-7.4 15.5-32.4 5.2-10.1 5.2-8.7 5.2-5.7 5.2-2.4 5.2 .1 5.2 3.2 5.2 6 5.1 8.5 20.8 42.4 5.2 8.1 5.2 5.3M111.6 116.1l20.8 11.7 5.2 2.4 5.2 1.6 5.1 .3 5.2-1.3 5.2-3.2 5.2-5 5.2-6.3 20.7-30.7 5.2-6.5 5.2-5.5 5.2-3.9 5.2-1.8 5.2 .3 5.2 2 5.2 3.6 5.1 4.8 5.2 5.8 15.6 21.4 10.4 12.8 5.1 4.1 5.2 1.4 5.2-.7 5.2-2.3 5.2-3.9 10.4-12.2 15.5-16.6 5.2-4.5 5.2-3.6 5.2-2.5 5.2-1.2 5.2-.5 5.2 .5 5.1 1.8 5.2 3 15.6 10.8 10.4 6.4 5.2 2.4 5.1 2.2 5.2 1.4 10.4 2.2 5.2 .2 5.2-.3 5.2-3.2 5.1-5.3 15.6-18.6 5.2-4.7 5.2-2.8 5.2-.6 5.2 1.9 5.1 4.3 5.2 6.2 5.2 7.4 15.6 24.9 5.2 7.1 5.2 6.1 5.1 4.2 5.2 1.9 5.2-.9 5.2-3.9 5.2-6.6 5.2-9 5.2-10.6 15.5-34.5 5.2-10.2 5.2-8.9 5.2-7.2 5.2-4.7 5.2-1.2 5.1 2.7 5.2 5.9 5.2 8.3 5.2 10.9 15.6 36.3 5.2 10.3 5.1 8.5 5.2 6.4 5.2 3.6 5.2 1.1 5.2-1.4 5.2-3.8 5.2-5.8M111.6 112.7l10.4 6.2 5.2 2.4 5.2 1.5 5.2 .2 5.2-1.4 5.1-3.2 5.2-4.9 5.2-6.4 10.4-14.5 5.2-6.3 5.2-5 5.2-3.5 5.1-1.7 5.2 .1 5.2 1.2 5.2 2.2 5.2 3.3 20.7 15.2 15.6 8.9 5.2 1.8 5.2 1 5.2 .1 5.1-1.4 5.2-3.2 20.8-15.9 5.2-2.9 5.2-1.1 5.1-.2 5.2 .6 10.4 3.1 10.4 4.1 5.2 1.3 10.3 .2 5.2-.8 5.2-1.8 5.2-3 10.4-8.3 10.4-6.9 5.1-1.9 5.2-.7 5.2 .8 5.2 3.2 5.2 4.2 5.2 5.6 5.2 4.6 36.3 27.9 5.2 3.1 5.1 2.3 5.2 1.3 5.2 .1 10.4-2.2 10.4-3.9 15.5-5 5.2-2.2 5.2-3 5.2-3.8 15.5-13.9 10.4-8 5.2-2.9 5.2-2 5.2-1.1 5.2 .6 5.2 3.1 5.1 5.8 10.4 16.7 10.4 19.6 5.2 7.8 5.2 5.7 5.2 3.3 5.1 .9 5.2-1.3 5.2-3.6 5.2-5.5 5.2-6.8 10.4-16.5M111.6 90.4l5.2 2.4 5.2 3.5 5.2 4.4 15.6 15.7 5.1 4.5 5.2 3.3 5.2 1.6 5.2-.1 5.2-1.7 5.2-3 5.2-4.6 5.2-5.7 20.7-27.2 5.2-5.8 5.2-4.7 5.2-3.5 5.2-2.1 5.1-.6 5.2 .9 5.2 3 5.2 4.7 5.2 6 15.5 23.3 5.2 6.6 5.2 5.6 5.2 4.6 5.2 3.4 5.2 1.2 10.4-.1 5.1-1.6 5.2-3 5.2-3.9 5.2-4.9 10.4-11.5 10.4-13.1 5.1-5.6 5.2-4.5 5.2-3.5 5.2-2.6 5.2-1.7 5.2-.3 5.2 1.3 5.2 2.5 5.1 4 5.2 5 5.2 6 15.6 22.2 5.2 4.8 5.1 2.5 5.2 1 5.2-.4 5.2-1.6 10.4-5.2 15.5-9 15.6-7.3 10.4-2.3 5.2-.3 5.2 .9 5.1 1.8 15.6 7.2 5.2 2 10.4 2.6 15.5 1.4 20.8-.6 5.2 1.2 5.1 2.7 5.2 3.7 5.2 4 10.4 9.1 5.2 3 5.2 1.8 5.2 .1 5.1-1.4 5.2-2.7 5.2-4.4 10.4-11.4 10.4-13.6"/><path stroke="#1A82D4" d="M111.6 271.7l20.8-2.1 31.1-4.8 25.9-5.5 20.8-6.2 25.9-9.3 15.6-7.1 10.4-5.5 10.3-6.3 15.6-11.3 10.4-10.1 5.2-6.3 10.3-14.5 10.4-17.2 15.6-27.7 5.2-10.9 15.5-35.9 15.6-44.9 5.2-17.1 5.2-11.8 5.1-1.2 5.2 1.3 5.2 2.1 5.2 1.5 5.2-.7 5.2-2.6 5.2-1.8 5.1 1.7 5.2 8.4 26 86.5 5.2 15.3 5.1-4.1 5.2 29.7 15.6 35.4 5.2 10.2 5.2 8.8 5.2 7.2 20.7 23.4 15.6 14.8 25.9 21.4 36.3 27 25.9 17.1 5.2 1.2 26 0M111.6 266.1l20.8-1.8 31.1-4 15.6-2.9 15.5-4 46.7-15.8 15.6-6.2 15.5-7.6 10.4-6.4 5.2-3.8 10.4-9.6 5.2-6.2 10.3-14.4 10.4-17.3 15.6-28.4 5.2-11.1 15.5-36.7 15.6-45.3 5.2-17.1 5.2-11.7 5.1-.9 5.2 1.6 10.4 4.3 5.2-.3 5.2-2.3 5.2-1.4 5.1 2.5 5.2 11.6 26 88.1 5.2 14.6 10.3 24.8 15.6 35 5.2 9.5 5.2 7.2 5.2 5.6 5.1 4.6 31.2 25.2 31.1 24.4 25.9 19.3 20.8 11.9 36.3 18.4 5.2 .3M111.6 251.5l20.8-2.3 25.9-4 31.1-6.5 26-7.3 25.9-5.9 15.6-4.6 15.5-5.7 10.4-5 5.2-3.1 10.4-8.3 5.2-5.6 10.3-13.1 10.4-16.1 15.6-26.7 5.2-10.8 15.5-35.6 15.6-44.4 5.2-16.8 5.2-11.5 5.1-1 5.2 1.7 10.4 5.5 5.2 1.2 5.2-1.7 5.2 .9 5.1-4.8 5.2 .7 5.2 7 15.6 51.1 5.2-4 5.2 38.4 5.1 15.1 10.4 25 15.6 34.4 5.2 9.3 5.2 7.5 5.1 5.7 5.2 4.7 36.3 31.5 26 21.3 25.9 20.2 20.8 13.2 31.1 17.8 5.2 .9M111.6 271.2l20.8-1.1 20.7-2.3 15.6-3.1 15.6-4.7 10.3-3.9 26-10.9 25.9-10.1 10.4-4.6 15.5-8.1 10.4-6.7 5.2-3.9 10.4-9.9 5.2-6.3 10.3-14.5 10.4-17.2 15.6-28.2 5.2-11 15.5-36.5 15.6-45.1 5.2-17 5.2-11.6 5.1-1.1 5.2 1.6 5.2 2.4 5.2 1.7 5.2-.4 5.2-2.5 5.2-1.5 5.1 2.2 5.2 10.6 10.4 35.3 5.2 1.9 5.2-22.2 31.1 133.2 5.2 14 5.2 10.2 5.2 8.8 10.3 14.2 15.6 18.8 10.4 10.4 10.3 9.4 20.8 17.6 25.9 20.9 10.4 7.7 15.6 10.4 5.2 1.7 36.3 0M111.6 250.2l46.7-6.5 20.8-3.5 10.3-2.1 26-6.8 25.9-5.7 15.6-4.5 15.5-5.6 10.4-4.8 10.4-6.8 5.2-4.4 5.2-5.4 10.3-13.1 10.4-16.1 15.6-27.1 5.2-10.9 15.5-36.1 15.6-44.6 5.2-17 5.2-11.5 5.1-.8 15.6 5.9 5.2-.4 5.2-2.4 5.2-1.6 5.1 2.6 5.2 12.2 26 86.8 10.3 26.5 5.2 7.9 26-127.2 46.6 228.9 5.2 8.5 36.3 29.1 5.2-10.8 26-187.3 31.1 224.2 10.4 0M111.6 269.2l20.8-2.2 20.7-3.3 15.6-3.7 20.7-6.1 51.9-17.5 10.4-3.9 20.7-9.6 10.4-6.1 5.2-3.6 10.4-9.4 5.2-6.1 10.3-14.2 10.4-17.3 15.6-28.5 5.2-11.2 15.5-36.9 15.6-45.5 5.2-17.1 5.2-11.7 5.1-1.1 5.2 1.4 5.2 2.3 5.2 1.7 5.2-.6 5.2-2.5 5.2-1.5 5.1 6 10.4 40.5 15.6 51.8 5.2-5.4 5.2-24.1 20.7 96.3 5.2 19 5.2 9 5.2 7.3 31.1-186.9 41.5 249.2 5.2 27 15.5 12.4 5.2 2.7 62.3 0M111.6 260.9l26-3.5 20.7-3.6 20.8-4.8 15.5-4.8 36.3-12.8 15.6-6.6 15.6-8.6 10.3-7.5 5.2-4.6 15.6-16.7 5.2-5.1 10.3-8.8 5.2-5.6 5.2-7 15.6-23.3 10.4-19.7 15.5-32.7 15.6-41.3 5.2-16.9 5.2-11.4 5.1-.8 15.6 5.9 5.2-.4 5.2-2.4 5.2-1.5 5.1 2.1 5.2 10 26 87.5 5.2 14.9 10.3 25.2 15.6 35.1 10.4 19.3 10.3 15.1 10.4 14 10.4 12.3 5.2 5.4 10.3 9.9 15.6 13.8 31.1 24.6 36.3-194.7 5.2 27.9 5.2 16.2 5.2-21.2 15.6 63.6M111.6 217.5l5.2-2.9 5.2 2.4 10.4 11.9 5.2 4.7 5.2 2.9 5.1 1.1 5.2-.4 5.2-2 5.2-3.5 5.2-5 5.2-6.6 10.4-16.8 5.1-7.3 5.2-2.6 5.2 3.6 10.4 15.2 5.2 6.6 5.2 4.9 5.2 3.4 5.1 2.1 5.2 1.1 5.2 .2 10.4-1.3 5.2-1.3 10.3-3.7 15.6-8 10.4-7.7 5.2-4.9 10.3-12.8 10.4-15.6 20.8-37.6 5.2-11.1 15.5-36.7 15.6-45.4 5.2-17.1 5.2-11.7 5.1-1.1 5.2 1.5 5.2 2.3 5.2 1.7 5.2-.5 5.2-2.5 5.2-1.7 5.1 1.9 5.2 9.5 26 86.5 5.2 14.8 10.3 25.1 5.2-8.6 10.4-82.4 15.6 123.6 5.1 36.8 10.4 13.8 10.4 12.2 5.2 5.2 20.7 18.6 41.5 32.8 20.8 14.4 41.5 .3M111.6 261.6l26-2.2 31.1-4.7 20.7-4.6 36.4-10.6 20.7-7.2 15.6-7.1 10.3-5.4 10.4-6.1 10.4-7.5 5.2-4.7 5.2-5.6 10.3-13.3 10.4-16.3 15.6-27.3 5.2-10.7 15.5-36.3 15.6-46.1 5.2-17.6 5.2-12.1 5.1-1.1 5.2 1.4 5.2 2.3 5.2 1.6 5.2-.6 5.2-2.6 5.2-1.6 5.1 2.6 5.2 12.8 26 87.6 10.3 27 15.6 35.5 5.2 10.5 5.2 8.7 5.2 6.5 5.2 4.8 10.3 7.8 5.2-11.2 41.5-157.3 20.8 78.7 5.1-1.2 20.8-78.3 51.9 195.9M111.6 262.4l57.1-5.6 15.6-2.7 15.5-4.1 36.3-12.2 20.8-8.5 10.3-5 10.4-5.6 10.4-7 5.2-4.4 5.2-5.1 5.2-6.1 10.3-14.4 10.4-17.2 15.6-28.1 20.7-47 15.6-44.1 5.2-16.7 5.2-11.4 5.1-.8 15.6 5.6 5.2-.6 5.2-2.6 5.2-1.8 5.1 1.5 5.2 7.9 26 84.9 5.2-6.2 10.3-47.3 31.2 142.1 5.1 21.9 15.6 19.8 10.4 10.9 20.7 18.7 31.1 25 5.2-3.3 51.9-234.4 15.6 70.3M111.6 257.2l41.5-5 20.8-3.6 15.5-3.6 41.5-11.9 15.6-5.1 20.7-9.1 10.4-5.8 5.2-3.6 10.4-9.1 15.5-19.3 10.4-15.4 15.6-25.6 5.2-9.4 20.7-44.9 15.6-42.6 5.2-16.8 5.2-11.5 5.1-.9 15.6 5.9 5.2-.4 5.2-2.5 5.2-1.6 5.1 3.9 26 87.1 5.2 15.6 5.2 13.3 20.7 47.1 5.2 10.4 5.2 8.9 5.2 7 5.2-1.6 15.5-83 20.8 110.7 5.1 19.6 20.8 17.3 25.9 19.6 5.2-24.9 20.8-123.7 25.9 154.7 5.2 22.4 10.4 0M111.6 264.5l20.8-2.6 31.1-5.1 20.8-4.3 15.5-4.1 36.3-11.1 15.6-5.6 10.4-4.4 10.3-5.2 10.4-6.3 5.2-3.9 10.4-9.8 5.2-6.3 10.3-14.6 10.4-17.5 15.6-28.2 20.7-47.5 15.6-44.5 5.2-16.8 5.2-11.5 5.1-1 5.2 1.6 5.2 2.3 5.2 1.7 5.2-.5 5.2-2.5 5.2-1.6 5.1 2.7 5.2 12.9 20.8 70 5.2 16.4 5.2 14 25.9 58.4 5.2 10 10.4 16.7 5.1 .1 26-131.3 41.5 209.3 15.5 13 15.6 11.5 5.2 .9 46.7 0M111.6 225.9l10.4-11.4 5.2-2.6 5.2 1.4 5.2 4.4 10.3 10.2 5.2 3.7 5.2 2.6 5.2 1.6 5.2 .8 10.4-.3 10.3-2.3 5.2-1.9 10.4-5.3 10.4-7.4 5.2-4.9 10.3-11.7 5.2-5 5.2-1.7 5.2 2.1 10.4 7.4 5.2 2.4 5.1 1.1 5.2 0 5.2-.8 5.2-1.4 5.2-2.2 5.2-3 5.2-3.8 5.2-4.8 5.1-5.8 10.4-13.7 20.8-34.8 5.2-10.6 15.5-36.2 15.6-46.1 5.2-17.6 5.2-12.1 5.1-1.1 5.2 1.4 5.2 2.2 5.2 1.5 5.2-.5 5.2-2.6 5.2-1.7 5.1 2.5 5.2 12.2 20.8 70.7 5.2 16.9 5.2 14.3 20.7 47.6 5.2 7.4 15.6-88 20.7 117.1 5.2 2.8 36.3 23.4 20.7 11.5 10.4 5 5.2-1 31.1-200.1 26 166.7M111.6 247.6l10.4-7.2 5.2-4.9 5.2-5.8 5.2-6.9 10.3-16.4 5.2-7.2 5.2-3.1 5.2 1.8 5.2 4.4 5.2 3.5 5.2 .9 5.2-2.4 10.3-10.7 5.2-3 5.2 2.3 15.6 20 5.2 4.9 5.1 3.5 5.2 2.2 5.2 1.2 5.2 .5 5.2-.2 10.4-2 10.3-3.6 5.2-2.4 10.4-6.2 10.4-9 5.2-5.9 10.3-14.1 10.4-16.8 15.6-27.5 5.2-10.6 15.5-35.5 15.6-44.7 5.2-17.2 5.2-11.7 5.1-1.1 15.6 5 5.2-.7 5.2-2.7 5.2-1.8 5.1 2 5.2 10.8 26 87.1 5.2 14.6 5.1-2.2 15.6-71.4 10.4 47.6 5.2-6.5 5.2 24 5.1 13.5 15.6-85.3 41.5 227.4 5.2 4.5 25.9 19.6 26 16.7 5.1 .9 31.2 0M111.6 271.4l72.7-11.6 10.3-2.3 15.6-4.8 31.1-11.2 20.8-9.5 15.5-8.8 10.4-7.4 5.2-4.6 5.2-5.2 5.2-6.2 10.3-14.8 10.4-17.5 15.6-29 5.2-10.8 15.5-36.6 15.6-46.2 5.2-17.5 5.2-12 5.1-.8 5.2 1.7 5.2 2.6 5.2 1.9 5.2-.3 5.2-2.3 5.2-1.5 5.1 1.9 5.2 9 26 85.5 5.2 14.7 10.3 24.6 15.6 33.8 5.2 9.2 5.2 7.5 5.2 5.6 10.3 9.2 15.6 12.6 5.2-1.6 20.7-161.7 20.8 161.7 5.2-18.5 25.9-154.5 36.3 216.4 5.2 25 10.4 3.8M111.6 247.7l15.6-.8 20.7-2.2 15.6-2.6 15.6-3.6 10.3-2.9 26-8.5 31.1-7.3 20.7-6.3 15.6-6.1 10.4-6.2 5.2-4 5.2-5.1 10.3-12.2 10.4-15.6 15.6-26.8 5.2-11.1 15.5-36.9 15.6-45.4 5.2-17.1 5.2-11.6 5.1-1 5.2 1.6 10.4 4.2 5.2-.3 5.2-2.4 5.2-1.5 5.1 1.5 5.2 6.5 5.2 14.8 20.8 70.4 5.2 16 10.3 26.1 5.2 11.2 5.2 6 25.9-110.6 46.7 199 5.2 7.6 20.8 16.9 5.1-16.3 20.8-105.7 31.1 158.5 5.2 1.9 15.6 0M111.6 271.7l26-2.5 20.7-2.8 20.8-4.2 15.5-4.4 31.2-11.6 20.7-8.9 20.7-11 10.4-6.6 10.4-7.8 10.4-10.3 5.2-6.5 10.3-14.7 5.2-8.4 20.8-37.1 20.7-46.5 15.6-43.3 5.2-16.2 5.2-11.1 5.1-.9 15.6 5.7 5.2-.6 5.2-2.6 5.2-1.6 5.1 6.6 10.4 41.8 15.6 51.2 5.2 14.4 20.7 47.9 5.2 11.2 5.2 9.6 10.4 15.2 15.5 19.7 10.4 11.9 10.4 10.2 10.3 9.2 31.2 25.8 5.2-1.3 31.1-155.7 36.3 181.7 5.2 2.6 5.2 0M111.6 255.6l46.7-5.1 20.8-3.5 15.5-3.5 41.5-11.2 15.6-4.9 20.7-8.6 10.4-5.6 5.2-3.5 10.4-8.8 5.2-5.8 10.3-13.6 10.4-16.6 15.6-27.5 5.2-10.8 15.5-36.3 15.6-45.4 5.2-17.2 5.2-11.8 5.1-.9 5.2 1.7 5.2 2.5 5.2 1.8 5.2-.4 5.2-2.3 5.2-1.6 5.1 1.9 5.2 9.2 26 86.1 5.2 14.8 5.1 12.9 10.4 23 5.2 3 5.2-36.9 10.4 73.8 5.2 8.4 15.5 15.6 25.9 23.2 26 21.5 20.7 16.4 10.4 7.6 15.6 9.9 20.7 12.5 20.8 .2M111.6 270.6l20.8-2 20.7-3.2 15.6-3.5 20.7-6.1 46.7-18.2 15.6-6.8 20.7-10.6 10.4-6.6 5.2-4.1 5.2-4.7 5.2-5.6 10.3-13 5.2-7.3 5.2-8 20.8-35.3 15.5-33.4 5.2-12.2 15.6-43.8 5.2-17.2 5.2-11.8 5.1-1.2 5.2 1.4 5.2 2.1 5.2 1.5 5.2-.6 5.2-2.6 5.2-1.7 5.1 2.7 5.2 12.7 20.8 70.6 5.2 16.8 5.2 14.3 5.1-28.1 5.2 38.7 5.2 25.5 5.2 12.4 10.4 21.5 5.2 9.4 15.5 25.8 5.2 7.1 36.3-186.9 46.7 240.3 5.2 20.9 51.9 0M111.6 262.9l26-1.2 20.7-2.3 15.6-3 20.7-5.4 41.5-12.4 15.6-5.7 10.4-4.8 10.3-5.4 10.4-6.4 5.2-3.7 10.4-9.4 5.2-6 10.3-14 10.4-16.8 15.6-27.6 5.2-10.4 15.5-36 15.6-46.1 5.2-17.7 5.2-12.1 5.1-1.1 5.2 1.5 5.2 2.2 5.2 1.6 5.2-.5 5.2-2.5 5.2-1.6 5.1 3 5.2 13.6 5.2 18.8 20.8 69.2 10.3 26.9 20.8 46.6 5.2 9.7 5.2 7.9 5.2 6.9 5.1 6.3 5.2-24.7 5.2-37.3 5.2 37.3 5.2-15.2 5.2-38.1 15.5 114.2 5.2 9.5 41.5 33.8 20.8 14.6 5.2 .7 36.3 0"/><path stroke="#03039A" stroke-width="3.6" d="M111.6 245.5l5.2-.5 15.6-2.2 15.5-1.5 10.4-.7 15.6-.8 10.4-.3 5.1 .1 20.8 .9 5.2 0 5.2-.5 10.3-1.8 5.2-1 5.2-1.3 5.2-1.5 5.2-1.8 5.2-2.1 5.2-2.5 5.1-2.8 5.2-3 5.2-3.5 10.4-7.5 5.2-4.3 5.2-5.2 5.2-6.8 10.3-15.1 5.2-8 5.2-9.1 5.2-9.7 10.4-18.6 5.2-10.8 10.3-23.3 5.2-12.3 5.2-14.5 5.2-15.5 5.2-14.4 5.2-17 5.2-11.1 5.1-.7 5.2 1.7 5.2 2.3 5.2 1.7 5.2-.5 5.2-2.5 5.2-1.7 5.1 1.8 5.2 8.7 26 86.2 5.2 14.9 5.1 11.9 10.4 22.1 5.2 10 5.2 8.9 5.2 7.9 5.2 5.8 5.2 2 5.1-5 5.2-8.3 5.2 22.3 5.2 11 5.2 5.5 5.2 1.2 5.2-10.7 5.1-15.4 5.2 25.4 5.2 12.9 5.2 12.1 5.2 8.8 5.2 8.7 5.2 5.2 5.2-1.7 5.1-9 5.2-15.4 5.2 20.9 5.2-2.5 5.2-4.5 5.2-6.5 5.2-7.4 5.2 32.4 5.1 11.1 5.2-17.1 5.2-34 5.2-15 5.2 6.9 5.2-8.7 5.2-1.2"/><path stroke="#A20404" stroke-width="3.8" d="M111.6 130.6l26-8.7 10.3-3.7 5.2-2.1 5.2-2.7 10.4-5.7 5.2-2.6 10.4-4.9 5.1-2.1 10.4-3 5.2-1.1 5.2-.4 5.2 .2 10.4 1 10.3 1.5 5.2 1.3 10.4 3.3 10.4 3.7 5.1 1 5.2-.4 5.2-1.1 5.2-1.5 5.2-1.8 5.2-2.7 5.2-2.2 5.2-1 5.1-.8 5.2-.5 20.8-.1 5.2-.7 15.5-3.4 5.2-1.3 5.2-1.9 10.4-4.7 5.2-1.7 5.2-1.4 5.1-.4 5.2 .4 5.2 1.5 5.2 3.3 5.2 3.7 5.2 4.6 5.2 3 5.1 1.8 5.2 1.3 5.2 1.1 20.8 3.9 5.2 .8 5.1 .6 5.2 .3 5.2-.3 5.2-1 5.2-1.1 10.4-3 5.2-1.2 20.7-3 20.7-4.4 15.6-2.9 5.2-1.2 10.4-3.3 5.2-.6 5.1 .7 5.2 1.6 5.2 1.9 5.2 2.8 5.2 3.3 5.2 2.4 5.2 2.1 5.2 1.4 5.1 1 5.2 .6 5.2 0 10.4-.7 5.2-.7 5.2-1.1"/></g><g clip-path="url(#cb)" fill="none" stroke-width="0.9" stroke-linejoin="round"><path stroke="#1A82D4" d="M111.6 456.7l15.6 5.2 5.2 1.1 5.2 .4 5.2-.2 5.1-.8 5.2-1.4 20.8-7.5 5.2-1.3 5.2-.2 10.3 1.3 5.2 1.5 10.4 4.2 25.9 13.5 10.4 4.4 10.4 3.5 25.9 6.6 15.6 5.8 10.3 5.1 10.4 6.1 10.4 6.9 10.4 8.3 10.3 10.6 5.2 6.7 5.2 7.9 5.2 9.7 5.2 12.6 5.2 17.6 5.2 29.8 5.2 86 5.1-85.7 5.2-30.2 5.2-17.8 5.2-12.6 5.2-9.7 5.2-8 5.2-6.8 5.1-5.9 10.4-9.9 15.6-11.5 10.4-6.2 10.3-5.3 10.4-4.5 10.4-3.9 20.7-5.8 31.1-5.3 20.8-4 10.4-.7 15.5-.1 5.2-.9 20.8-6.4 5.2-.9 5.1-.3 5.2 .4 15.6 3.1 10.4 .7"/><path stroke="#D8891A" d="M111.6 479.4l10.4-2.2 10.4-3.3 25.9-11.4 5.2-1.5 5.2-.9 5.2-.2 5.2 .6 5.2 1.2 25.9 9.8 10.4 2.5 31.1 2.8 51.9 8.5 10.3 1.2 10.4 .1 10.4-1.4 10.4-2.8 25.9-8.4 20.7-5.6 15.6-2.5 10.4-.3 31.1 2.9 10.4 .2 20.7-.4 10.4 .7 46.7 8.4 10.3 2.5 20.8 6.5 10.4 2.1 5.2 .3 5.1-.2 10.4-2 36.3-13.2 10.4-2.8 15.6-2.4"/><path stroke="#1A82D4" d="M111.6 466.7l10.4-1.3 5.2 0 5.2 .6 5.2 1.3 10.3 4.5 15.6 8.6 5.2 2.4 10.4 3.4 10.3-.9 20.8-3.4 10.4-.5 25.9 .1 10.4 1 10.3 1.9 15.6 4.2 20.8 8.1 15.5 7.9 10.4 6.8 5.2 4 10.4 9.8 5.1 5.9 5.2 6.8 5.2 8 5.2 9.7 5.2 12.5 5.2 17.4 5.2 29.1 5.2 90.9 5.1-88.3 5.2-31.2 5.2-18.1 5.2-12.8 5.2-9.9 5.2-8 5.2-6.7 5.1-5.8 10.4-9.8 15.6-11.5 15.5-8.2 10.4-4 10.4-3.3 25.9-6.8 15.6-2 10.4 .3 10.3 1.8 20.8 5.2 10.4 .8 10.3-1.7 15.6-7.9 5.2-2.1 10.4-3.2 10.3-2.2 10.4-1.5 15.6-.7"/><path stroke="#D8891A" d="M111.6 454.3l15.6-4.4 5.2-.5 5.2 0 10.3 1.9 20.8 6.9 5.2 1.4 10.4 1.2 10.3-.7 20.8-3.4 10.4-.6 25.9 1.1 25.9 2.9 20.8 .1 10.3-.8 26-4.5 10.4-.3 5.1 .8 5.2 1.4 20.8 8.3 5.2 1.4 5.2 .7 5.1 .1 5.2-.6 10.4-2.8 5.2-2.2 20.7-10.5 5.2-2 5.2-1.2 5.2-.6 10.4 .9 15.5 3.4 10.4 1.2 10.4-.1 20.7-1.9 10.4-.1 10.4 1.1 20.7 3.3 10.4 .6 20.7-.8 26-3.5 15.5-1.2 15.6 .3 15.6 1.6"/><path stroke="#1A82D4" d="M111.6 475.8l20.8 1.4 31.1-.2 15.6 1.1 25.9-.4 31.1-1.8 15.6 1.2 10.4 2 10.3 2.9 10.4 3.5 15.6 6.1 10.3 4.8 10.4 5.6 15.6 11 10.4 9.5 5.1 5.7 5.2 6.6 5.2 7.9 5.2 9.6 5.2 12.3 5.2 17.3 5.2 28.9 5.2 92.2 5.1-87.6 5.2-31.6 5.2-18.3 5.2-12.9 5.2-9.9 5.2-8.2 5.2-6.9 5.1-5.9 10.4-9.8 5.2-4.1 10.4-7 5.2-2.8 10.3-4.6 15.6-4.8 31.1-7 20.8-3.5 15.5-.6 10.4 1.1 20.8 4.4 10.3 1.4 10.4-3 20.8-9.6 10.3-4.1 10.4-1.9 5.2-.1 10.4 1.3"/><path stroke="#D8891A" d="M111.6 461.9l15.6-2 10.4-.7 72.6 .2 15.6 .7 10.3 1 31.1 4.8 10.4 1.2 10.4 .6 15.6 0 57-7.4 36.3-7.5 10.4-1 15.6-.4 31.1 .6 31.1 4.6 25.9 .3 5.2 .5 26 5.6 10.3 1.1 10.4-.4 20.8-3 10.3-.8 15.6 .2 31.1 1.7 10.4-.6 10.4-1.4M111.6 459.5l10.4 1.2 25.9 1 26 4.4 10.4 .9 15.5-.9 31.1-5.4 10.4-.5 10.4 .2 15.5 1.6 10.4 2.2 15.6 4.6 5.2 1 5.2 .3 5.1-.7 5.2-1.5 26-9.9 10.3-3.3 10.4-2.2 5.2-.6 5.2-.1 10.4 1.1 25.9 6.2 10.4 1.3 5.2-.1 10.3-1.9 26-7.6 5.2-1 10.3-.8 10.4 .4 20.8 1.7 20.7 .3 15.6 1 10.3-.1 15.6-1 10.4 0 41.5 4.5 41.5 2.3M111.6 442.7l10.4-1.3 20.8-3.6 10.3-.7 5.2 .3 10.4 1.6 20.7 4.6 31.2 3.9 25.9 6.5 15.6 3.2 15.5 1.9 15.6 .6 10.4-.7 10.3-2.5 15.6-5.7 25.9-12.7 10.4-4.5 10.4-3 10.4-1 10.3 .9 26 6.8 10.3 1.8 10.4 0 10.4-1.5 20.7-4.1 15.6-.8 46.7 3.8 36.3 5.9 10.4 .3 5.1-.5 20.8-4 10.4-.9 10.3 .9 20.8 4.4 10.4 1.4M111.6 461.7l10.4-1.8 15.6-4.3 10.3-2 10.4-.3 20.8 1.4 20.7-.9 10.4 .1 15.6 2.4 46.6 11.2 15.6 1.9 15.6 .7 5.1-.4 10.4-1.8 10.4-3 15.6-6.3 10.3-3.6 5.2-1.3 10.4-1.1 36.3 1.6 10.4 .1 10.3-.8 15.6-2 10.4-.4 10.4 1 20.7 3.5 10.4 .7 10.4-.5 15.5-2.3 10.4-1 10.4 .2 20.7 1.3 41.5-3.1 57.1 1.8"/><path stroke="#1A82D4" d="M111.6 451.8l26 .6 20.7-1.5 10.4 0 10.4 1.3 20.7 4.5 10.4 1.1 10.4 .1 25.9-1.1 10.4 .3 10.3 1 20.8 3.6 20.7 5.5 15.6 6.4 10.4 6.1 5.2 3.9 10.3 9.8 5.2 6.3 5.2 7.6 5.2 9.3 5.2 12.2 5.2 17 5.2 28.5 5.2 87.7 5.1-40.9 5.2-31.9 5.2-18.4 5.2-13 5.2-9.9 5.2-8.1 10.3-12.7 5.2-5.1 10.4-8.8 15.6-10.6 20.7-11.2 20.8-9.2 15.5-5 10.4-2.2 62.2-10.3 20.8-2.2 31.1-1.2 10.4-1.2 10.4-2"/><path stroke="#D8891A" d="M111.6 505.2l10.4 .3 25.9-1.7 10.4 .4 5.2 .8 10.4 2.6 41.5 13 5.2 .8 5.2-.1 5.1-1.1 5.2-2 15.6-7.7 5.2-1.9 10.3-2.1 20.8-2.8 10.4-2.3 5.2-1.5 20.7-8.6 5.2-1.4 5.2-.8 5.2-.1 5.2 .9 5.1 1.7 20.8 10.3 10.4 3.6 5.2 1.1 10.3 .9 5.2-.1 20.8-2.7 5.1-.1 5.2 .4 15.6 2.5 5.2-.1 5.2-1.1 5.2-2 15.5-7.6 5.2-1.4 5.2-.4 5.2 .4 15.5 2.7 26 1.4 25.9 3.6 36.3 2.2 20.8 3.6 5.2 .5 5.1-.2 5.2-1 5.2-1.9 5.2-2.7 5.2-3.4 10.4-8.2"/><path stroke="#1A82D4" d="M111.6 459.3l20.8-.6 15.5 1.6 10.4 2.1 46.7 11.5 10.4 2 25.9 3.8 10.4 2.4 10.4 3.3 25.9 9.7 10.4 4.3 10.3 5 15.6 9.5 10.4 8.1 5.2 4.8 10.3 11.2 5.2 6.8 5.2 8.1 5.2 9.9 5.2 12.8 5.2 18 5.2 31.4 5.2 86.5 5.1-92.2 5.2-29 5.2-17.4 5.2-12.4 5.2-9.7 5.2-8 5.2-6.7 10.3-11 5.2-4.7 10.4-8 10.4-6.7 10.3-5.6 10.4-4.7 10.4-4 36.3-11.8 10.4-2.3 5.2-.6 10.3-.3 20.8 .6 10.4-1 10.3-2.7 15.6-7 10.4-3.9 10.3-2.3 10.4-.6 20.8 1.4M111.6 474.2l10.4-.3 15.6-1.6 25.9-1.9 20.8-3.2 10.3-.1 5.2 .7 10.4 3 20.7 7.2 36.3 8.5 20.8 6.5 15.6 6.7 10.3 5.3 10.4 6.5 10.4 7.8 10.4 9.5 5.1 5.8 5.2 6.7 5.2 7.9 5.2 9.8 5.2 12.7 5.2 18 5.2 31.5 5.2 91.6 5.1-97.4 5.2-29.1 5.2-17.3 5.2-12.4 5.2-9.6 5.2-7.8 5.2-6.6 10.3-10.7 5.2-4.5 10.4-7.8 10.4-6.5 10.3-5.3 10.4-4.4 10.4-3.6 25.9-7.1 15.6-3.2 10.4-1.5 51.8-3.2 10.4-1.5 15.6-1.5 5.2 19.4 5.1-20.2 31.2-4.4M111.6 459.9l10.4 1.4 10.4-.7 10.4-2 20.7-5 15.6-2.3 5.2 .2 10.3 1.5 15.6 4.2 31.1 11.7 31.1 9.6 15.6 5.5 10.4 4.7 10.3 5.4 10.4 6.2 10.4 7.2 10.4 8.5 5.2 4.9 10.3 12 5.2 7.6 5.2 9.1 5.2 11.6 5.2 15.9 5.2 25.3 5.2 62.6 10.3-77.2 5.2-19.9 5.2-13.7 5.2-10.4 5.2-8.3 5.2-7.1 5.1-6 5.2-5.3 10.4-8.9 15.6-10.5 10.3-5.7 10.4-4.9 15.6-5.9 51.8-16.9 10.4-2.4 10.4-1.2 25.9 1.2 10.4-1.2 10.4-3 25.9-11.1 10.4-2.4 10.4-.7"/><path stroke="#D8891A" d="M111.6 456.4l15.6 2.4 15.6 1.5 62.2 2.1 15.6-.8 36.3-4.9 20.7-1.4 10.4 .3 15.6 2.5 10.3 1.1 15.6-.2 10.4-1.5 31.1-5.9 15.6-1 25.9 1.4 31.1 3.4 10.4 .8 10.4-.3 25.9-2 36.3 .5 20.7-.2 15.6 .6 36.3 2.8 62.3 .5M111.6 466.9l15.6-1.6 5.2-.1 5.2 .5 15.5 3.1 5.2 .3 5.2-.4 20.8-4.7 10.3-.6 15.6 1.5 25.9 4.6 20.8 0 20.7 1.4 5.2-.3 31.1-4 10.4-.3 31.1 .3 20.8-1.3 10.4-1.6 15.5-4 10.4-1.9 31.1-4.4 20.8-2.3 20.7-3.3 10.4-.5 5.2 .4 10.3 2.3 26 9.9 10.3 2.3 5.2 .4 10.4-.1 25.9-3.6 10.4-.5 20.8 1.7 41.5 2.6"/><path stroke="#1A82D4" d="M111.6 453.8l10.4 2.9 10.4 1.1 10.4-.6 25.9-3.3 10.4-.3 15.5 3.3 26 7.2 20.7 6.5 20.8 7.3 15.5 6.1 15.6 7 15.5 8.2 10.4 6.2 10.4 7 10.4 8.6 10.3 10.7 5.2 6.7 5.2 7.8 5.2 9.6 5.2 12.4 5.2 17.2 5.2 28.6 5.2 87.2 5.1-116.1 5.2-31.8 5.2-18.3 5.2-12.9 5.2 28 5.2-45.7 5.2-6.6 5.1 53.5 5.2-64 5.2-4.2 10.4-6.9 15.6-7.9 20.7-8 15.6-5 10.3-2.7 10.4-2.1 10.4-1.3 31.1-1.5 10.4-1.1 20.7-4.3 15.6-2.1 36.3-3.3 15.6-.8M111.6 488.5l10.4-.4 15.6-1.6 10.3-.2 31.2 3.5 20.7-3.4 15.6-1.6 15.5-1 15.6 .2 20.7 2.7 10.4 2 10.4 2.7 15.6 5.7 15.5 8 15.6 10.9 10.4 9.2 10.3 11.7 5.2 7.3 5.2 8.8 5.2 11.1 5.2 14.9 5.2 22.6 5.2 47.4 5.1-3.8 5.2-45.6 5.2-22 5.2-14.6 5.2-10.9 5.2-8.7 5.2-7.3 10.3-11.8 5.2-4.9 10.4-8.6 10.4-6.9 5.2-2.7 10.3-4.3 10.4-3.1 15.6-3.3 15.5-2.3 10.4-.5 10.4 .7 20.7 2.4 10.4-.7 10.4-2.7 15.5-5.5 5.2-2.3 5.2-1.6 5.2-.6 5.2 .1 5.2 .8 15.5 4.1 10.4 1.9 5.2 .3 10.4-.6"/><path stroke="#D8891A" d="M111.6 454l5.2 .2 5.2 .7 15.6 3.6 5.2 .6 5.1 0 15.6-1.2 10.4 .4 10.4 2.4 20.7 7.2 5.2 1 5.2 .4 10.4-1.1 20.7-4.5 5.2-.4 15.5 .2 5.2-.5 20.8-6.2 5.2-.4 5.2 .9 5.1 2.1 5.2 3.2 15.6 11.5 5.2 2.6 5.2 1.6 5.2 .4 5.1-.5 5.2-1.1 15.6-4 20.7-4.2 10.4-3 25.9-9.6 10.4-3.3 20.8-4.8 10.3-1.3 5.2 .1 5.2 .7 5.2 1.3 5.2 2.1 15.6 7.9 5.1 2.1 5.2 1.4 5.2 .5 5.2-.5 15.6-3.8 5.1-.8 10.4 .2 15.6 1.7 10.4-.1 10.3-1.6 15.6-3.1 5.2-.4 5.2 .3 5.2 1.1 5.1 1.9 15.6 7.4 5.2 1.8 5.2 .8 5.2-.1"/><path stroke="#1A82D4" d="M111.6 455l20.8 .1 15.5-.6 15.6-1.9 15.6-3 10.3-1.1 10.4 0 15.6 1.4 62.2 9.3 20.8 4.2 10.3 2.9 10.4 4 10.4 5.3 10.4 7.2 10.3 9.7 5.2 6.3 5.2 7.6 5.2 9.4 5.2 12.2 5.2 17.1 5.2 28.5 5.2 87.8 5.1-39.6 5.2-31.8 5.2-18.3 5.2-12.8 5.2-10 5.2-8 5.2-6.9 10.3-11 5.2-4.6 10.4-8.1 15.6-9.7 20.7-10.1 20.8-8.1 20.7-6 20.7-4.4 20.8-3.2 10.4-1 25.9-.3 10.4-.7 31.1-5.3 15.6-2.1"/><path stroke="#D8891A" d="M111.6 458.8l15.6 1.3 25.9 5.3 15.6 1.9 15.6 .1 36.3-1.8 10.3 .6 15.6 1.9 10.4 .5 10.3-.6 15.6-2.1 20.8-1.3 25.9-4 25.9-2.6 31.2-6.2 10.3-.7 36.3 .9 31.2 4.5 10.3 .7 10.4-.4 25.9-3.7 10.4-.1 15.6 1.9 20.7 4.9 10.4 1.3 5.2-.1 25.9-3 20.8 .7 20.7-.2 20.8 1.8M111.6 456l10.4 .9 25.9 1 20.8 3.5 10.4 .7 10.3-1.1 20.8-3.7 10.4 .2 10.3 2.4 20.8 6.9 10.4 1.6 5.1 0 10.4-1.2 26-4.7 20.7-5.2 10.4-1.6 10.4-.9 20.7-.4 25.9 1 10.4-.2 31.1-3.5 41.5-.1 20.8-1.1 25.9-2.6 10.4-.3 10.4 .9 31.1 6.2 15.5 1.7 15.6 .7 10.4-.6 5.2-.8 25.9-5.9 15.6-1.9M111.6 448.5l15.6-3.2 10.4-.6 5.2 .3 10.3 2 15.6 4.3 10.4 2 10.3 .4 20.8-.5 10.4 .4 15.5 1.9 20.8 4.3 10.3 1 5.2-.4 5.2-1.2 20.8-7.4 10.3-2 5.2-.2 20.8 1.2 15.5-.1 20.8 1.8 10.4-.2 36.3-6.6 31.1-4 20.7-3.1 5.2-.2 10.4 1.2 20.8 5.5 5.1 .9 5.2 .2 10.4-1.4 15.6-3.7 10.3-.9 41.5 2.1 10.4 1.5 15.6 4.1 5.2 .9 5.1 .2 5.2-.4 15.6-2.8 10.4-.6M111.6 464.8l10.4 1.7 25.9 6.8 10.4 1.6 15.6 0 25.9-2.5 10.4 .2 5.2 .8 10.4 3 20.7 8.7 5.2 1.7 10.4 1.9 5.1-.1 5.2-.8 5.2-1.6 26-10.7 10.3-3.3 5.2-1.1 10.4-.9 25.9-.5 15.6-1.5 10.4-2.1 25.9-7.4 10.4-1.8 5.2-.5 10.3 0 31.2 1.5 41.5-1.6 15.5 1.6 20.8 4.3 10.3 1.4 10.4-.1 15.6-1.6 10.3-.4 10.4 1.1 15.6 3.2 10.4 1.5 10.3 .1 26-.9"/><path stroke="#1A82D4" d="M111.6 453.7l15.6 .7 25.9 2 15.6 1.6 10.4 1.5 25.9 6.6 31.1 7.1 15.6 4.3 10.4 3.4 15.5 6.1 26 12.1 10.3 5.8 10.4 6.6 10.4 7.9 5.2 4.6 10.3 11 5.2 6.8 5.2 8.1 5.2 10 5.2 13 5.2 18.5 5.2 32.8 5.2 78 5.1-88.3 5.2-28.1 5.2-17.1 5.2-12.3 5.2-9.6 5.2-7.9 5.2-6.7 5.1-5.8 10.4-9.6 5.2-4 10.4-7 15.5-8.2 15.6-6.2 20.8-6 15.5-3.2 15.6-1.9 15.5-.7 31.2-.3 10.3-.8 31.2-9.9 10.3-2.5 10.4-1.3 15.6 .3M111.6 469.3l15.6 1.6 25.9 0 10.4 .5 10.4 1.7 20.7 4.9 10.4 1.5 5.2 .1 20.7-1.2 5.2 .2 10.4 1.9 41.5 13.2 15.6 6 10.3 5.1 10.4 6.5 10.4 7.8 5.2 4.6 10.3 10.8 5.2 6.6 5.2 7.8 5.2 9.5 5.2 12.3 5.2 17.2 5.2 28.9 5.2 97.2 5.1-92.4 5.2-31.8 5.2-18.3 5.2-12.9 5.2-10 5.2-8.2 5.2-7 5.1-6 10.4-10.1 5.2-4.3 10.4-7.2 5.2-3.1 10.3-4.9 10.4-3.9 36.3-12.1 10.4-2.7 10.4-1 10.3 .6 20.8 2.3 15.6-.3 10.3-.8 10.4-2.1 41.5-6 15.6-1M111.6 459.1l36.3 1.6 15.6 1.7 10.4 2.4 25.9 7.9 10.4 1.9 31.1 3.6 20.8 4.7 20.7 6.5 20.8 8.6 15.5 8.6 15.6 11.2 10.4 9.7 10.3 12.6 5.2 8 5.2 9.8 5.2 12.5 5.2 17.6 5.2 29.5 5.2 74.3 5.1-73.2 5.2-30.2 5.2-17.8 5.2-12.7 5.2-9.8 5.2-8.1 10.3-12.8 10.4-10 15.6-11.7 10.4-6.2 10.3-5.2 15.6-6.5 10.4-3.2 10.3-2.6 20.8-3.8 20.7-2.7 15.6-.9 25.9 .9 5.2-.4 15.6-1.8 31.1-5.2 15.6-1.4"/><path stroke="#D8891A" d="M111.6 456.4l15.6 1.8 10.4 .3 10.3-1.7 15.6-4.6 10.4-2.4 10.4-1 10.3 .2 67.5 6 15.5 3 20.8 6.2 5.2 .9 5.1 0 5.2-.7 26-5.4 5.2-.5 20.7-.4 5.2-.5 5.2-1.2 5.2-1.8 20.7-10.3 10.4-3.6 10.4-1.8 15.5-.8 20.8 .5 36.3 2.5 51.8 .5 15.6 2.2 25.9 6.7 10.4 1.9 10.4 0 15.6-2.2 10.3-.8 26 1.2"/><path stroke="#1A82D4" d="M111.6 484.8l10.4-.2 10.4 .7 46.7 6.3 31.1-3.7 15.6-.8 15.5 .6 25.9 2.8 15.6 2.9 15.6 4.9 15.5 7.1 5.2 2.9 10.4 7.2 10.4 8.6 5.2 5 10.3 12 5.2 7.5 5.2 9.2 5.2 11.7 5.2 16.2 5.2 26.3 5.2 74.3 5.1-57.3 5.2-35.5 5.2-19.3 5.2-13.4 5.2-10.2 5.2-8.2 5.2-6.8 10.3-11.1 5.2-4.6 10.4-8 10.4-6.4 10.3-4.7 10.4-3.3 15.6-3 15.5-1.4 15.6-.4 15.6 .9 25.9 2.7 10.4 .3 15.5-1.6 15.6-6.4 10.4-2.4 10.3-.6 20.8 1.2 10.4-.1M111.6 455l10.4 3.2 10.4 1.9 10.4 .1 15.5-1.4 10.4 .5 10.4 2.7 15.5 6.4 15.6 4.7 10.4 2.4 25.9 4.7 15.6 4.2 20.7 7.4 15.6 7.3 10.3 5.8 10.4 6.6 15.6 11.9 10.4 9.9 10.3 12.8 5.2 8.2 5.2 10.1 5.2 13.1 5.2 18.7 5.2 33 5.2 63.4 5.1-75.8 5.2-27.5 5.2-16.9 5.2-12.2 5.2-9.4 5.2-7.7 5.2-6.5 5.1-5.6 10.4-9.4 15.6-11.3 15.5-8.5 10.4-4.5 20.8-7.7 10.3-3.4 10.4-2.7 10.4-1.5 15.5-1.2 10.4-1.6 5.2-1.5 15.6-5.8 5.2-1.2 5.1-.3 20.8 3.9 5.2 .3 20.7-2.5 26 .7M111.6 443.1l20.8-.1 46.7 2.8 25.9 4.6 36.3 8.4 10.4 3.2 15.5 5.7 31.2 13.7 10.3 5.3 10.4 5.9 15.6 10.8 10.4 9.4 10.3 12.2 5.2 7.8 5.2 9.5 5.2 12.2 5.2 17.1 5.2 28.2 5.2 73.4 5.1-67 5.2-31.6 5.2-18.3 5.2-12.8 5.2-9.9 5.2-8.1 10.3-12.7 10.4-9.7 10.4-7.9 10.4-6.5 10.3-5.4 10.4-4.4 20.8-6.7 41.5-11 25.9-5.7 20.7-3 41.5-2 31.2-2.6M111.6 454l31.2 3.1 36.3 .7 15.5 2.7 15.6 3.9 57 16 15.6 4.9 10.4 4 10.4 4.7 10.3 5.7 10.4 6.6 10.4 8 10.4 9.9 5.1 6 5.2 6.9 5.2 8.3 5.2 10.3 5.2 13.4 5.2 19.4 5.2 35.8 5.2 52.8 5.1-72.6 5.2-26.3 5.2-16.3 5.2-11.9 5.2-9.4 5.2-7.7 5.2-6.6 5.1-5.7 10.4-9.6 15.6-11.1 10.4-6 10.3-5.2 10.4-4.4 15.6-5.6 31.1-9 25.9-5.4 36.3-6.1 15.6-1.1 36.3 0 15.6-1.3"/><path stroke="#D8891A" d="M111.6 459.7l10.4 .2 5.2 .9 20.7 5.8 10.4 1.2 10.4-1.2 25.9-7.9 5.2-.9 5.2-.2 5.2 .5 10.4 2.4 41.5 12.4 10.3 2.1 5.2 .1 5.2-.6 5.2-1.2 20.7-7.8 5.2-1.5 5.2-.9 5.2-.1 15.6 .3 10.3-1.7 26-9.2 10.4-2.2 5.1-.1 5.2 .6 26 6 10.3 1.1 5.2-.3 5.2-1.1 15.6-5.8 10.3-3.1 5.2-1 10.4-1 10.4 0 31.1 1.9 10.4 1.4 20.7 4.6 5.2 .4 5.2-.2 5.2-1 10.4-2.7 5.1-.9 5.2 0 5.2 1 15.6 6.7 5.2 1.7 5.2 1 5.1 .1 15.6-1.4 15.6-.8"/><path stroke="#1A82D4" d="M111.6 457.5l15.6 .9 25.9 3.1 26 .4 15.5 .9 15.6 2.2 10.4 2.5 57 18.3 15.6 6.2 15.5 7.8 10.4 6.3 10.4 7.2 10.4 8.7 10.3 10.9 5.2 6.6 5.2 60.6 5.2-43.1 5.2 12.3 5.2 17.1 5.2 28.6 5.2 87.1 5.1-81.3 5.2-31.8 5.2-18.3 5.2-12.8 5.2-9.9 5.2-8.1 5.2-6.8 10.3-11 10.4-8.8 10.4-7.3 10.4-6.1 15.5-7.7 20.8-8.2 41.5-12.7 31.1-11.3 10.4-2.7 10.3-1.2 20.8 1.2 10.4 0 25.9-2.2 10.4-.4"/><path stroke="#D8891A" d="M111.6 464.7l41.5-.7 20.8 .5 20.7-.1 10.4 .9 15.6 3 10.3 1.2 26-.8 25.9 .7 25.9-1.5 20.8-3.4 15.6-3.7 10.3-1.9 10.4-1.1 10.4-.3 10.4 .3 10.3 1 36.3 6.3 20.8 1.7 15.5-.2 15.6-.9 10.4-1.2 20.7-3.3 10.4-.6 36.3 2.7 10.4 0 25.9-1.8 10.4-.3 51.9 2.5M111.6 462.2l10.4-2.1 5.2-.5 20.7 .5 26-1.9 10.4 .4 15.5 2.1 10.4 2.1 10.4 3.2 15.5 5.7 10.4 2.3 5.2 .3 10.4-.8 25.9-5.1 15.6-2 10.3-2.3 15.6-4.1 10.4-1.9 10.3 .3 15.6 3.1 10.4 1.1 25.9-1.7 15.6-.3 10.3 .5 20.8 1.9 5.2 0 10.4-1.1 20.7-3.4 36.3-2.2 10.4 1.1 20.7 4.6 15.6 2.6 10.4 1.5 10.3 .6 10.4-1.1 26-5.7 36.3-3.8"/><path stroke="#1A82D4" d="M111.6 465.6l5.2 .3 10.4-1 25.9-7.4 5.2-.5 5.2 .3 5.2 1.2 10.4 4.5 10.3 5.7 10.4 4.3 10.4 2.3 20.7 1.3 10.4 1.3 15.6 4.1 25.9 8.6 15.6 6.4 10.3 5.1 15.6 9.4 10.4 7.7 10.4 9.5 5.1 5.7 5.2 6.6 5.2 7.7 5.2 9.5 5.2 12.1 5.2 16.8 5.2 27.3 5.2 73.4 5.1-62.4 5.2-33.2 5.2-18.9 5.2-13.2 5.2-10.2 5.2-8.3 10.3-13.1 5.2-5.3 10.4-9 15.6-10.6 15.5-8.3 10.4-4.4 10.4-3.7 20.7-5.5 10.4-2 25.9-3.8 10.4-2.8 15.6-5 10.3-2.1 26-1.5 20.7-2 10.4 .1 15.6 2M111.6 476.6l15.6-.2 5.2-.8 15.5-3.9 5.2-.7 5.2 .2 5.2 1.2 5.2 2.2 15.6 9.3 5.1 2 5.2 1.1 5.2 .3 20.8-.3 20.7 .9 10.4 1.2 10.4 2.8 41.5 14.4 15.5 8.1 10.4 7.1 10.4 8.4 5.2 4.9 10.3 12 5.2 7.6 5.2 9.3 5.2 11.8 5.2 15.9 5.2 25 5.2 60.2 5.1-33.9 5.2-38.4 5.2-20.3 5.2-13.9 5.2-10.5 5.2-8.6 10.3-13.4 10.4-10.4 15.6-12.3 10.4-6.3 15.5-7.2 20.8-7.3 10.3-1.9 10.4-.1 15.6 1.4 5.2 0 5.1-.7 20.8-6 5.2-.7 5.2 .3 5.2 1.3 10.3 4.7 5.2 1.2 5.2 .5 5.2-.7 5.2-1.7 15.5-8.2 5.2-1.7 5.2-.4 5.2 .8 15.6 5.4M111.6 451.5l10.4-.4 25.9-4.3 10.4 .2 31.1 6.2 36.4 4.9 36.3 6.6 25.9 6.5 10.4 3.5 10.3 4.2 15.6 8.3 10.4 7.1 5.2 4.3 10.3 10.4 5.2 6.6 5.2 7.7 5.2 9.6 5.2 12.4 5.2 17.2 5.2 28.7 5.2 87.3 5.1-81.1 5.2-31.5 5.2-17.7 5.2-12 5.2-8.1 5.2-3.9 5.2 5.9 5.1 51.4 5.2-28.1 5.2-42.5 5.2-12.6 5.2-6 5.2-3 5.2 .3 5.2 11.8 5.1 81 5.2-80.1 5.2-22.4 5.2-7.1 5.2-3.8 10.4-4.7 10.3-3 26-5.3 10.3-1.7 10.4-.6 15.6 .4 10.4-.5 20.7-3.8 10.4-1 36.3-1.4 10.4 .4M111.6 455.7l31.2 1.1 10.3 .8 51.9 7.4 15.6 3.5 31.1 11.4 31.1 9.3 15.6 6 10.3 5.1 10.4 6.1 15.6 11.4 10.4 9.6 10.3 12.4 5.2 7.8 5.2 9.4 5.2 11.9 5.2 16.4 5.2 26.3 5.2 67.8 5.1-51.1 5.2-35 5.2-19.4 5.2-13.5 5.2-10.4 5.2-8.4 5.2-7.1 5.1-6.1 5.2-5.3 10.4-9 15.6-10.4 15.5-8 20.8-8.2 20.7-5.9 20.8-4.3 20.7-3.2 36.3-4.1 41.5-5.6 10.4-.9 15.6-.5M111.6 452.6l20.8 1.9 10.4 .1 10.3-1.1 15.6-3.2 10.4-1.5 10.3 2.2 10.4 4.3 15.6 8.1 10.4 4.6 10.3 3.6 31.1 8.8 20.8 8 15.6 7.5 10.3 5.7 10.4 6.6 10.4 7.7 10.4 9.7 10.3 12.5 5.2 8 5.2 9.7 5.2 12.5 5.2 17.3 5.2 28.8 5.2 72.2 5.1-68.2 5.2-30.9 5.2-18.1 5.2-12.9 5.2-10 5.2-8.1 10.3-12.8 10.4-9.8 5.2-4.1 10.4-7.1 10.4-5.8 10.3-4.8 20.8-7.8 36.3-11.8 15.5-4.3 15.6-3.2 10.4-1.2 20.7-1.3 10.4-1.8 10.4-2.8 25.9-9 10.4-2.1 10.4-.1"/><path stroke="#D8891A" d="M111.6 453.1l15.6-.2 36.3-1.8 15.6 .3 10.3 1 41.5 6 26 4.3 10.3 .9 5.2-.2 20.8-2.4 41.5-1.7 36.3-5 25.9-2.4 26-3.4 15.5-.9 26 .5 31.1 3.7 10.4 .3 10.3-.8 31.1-4.9 10.4-.5 15.6 1.4 31.1 6 25.9 3.3 15.6 .3 15.6-2.2M111.6 484.7l15.6-5.5 5.2-.8 5.2 .3 5.2 1.4 20.7 9 10.4 2.4 10.4 .6 5.1-.3 5.2-1 5.2-1.7 15.6-8.1 5.2-2.2 5.2-1.3 5.1-.3 10.4 1.8 10.4 3.2 46.7 17.7 10.3 2.6 5.2 .5 10.4-.8 5.2-1.4 5.2-2.1 5.2-3 5.2-3.7 15.5-13.3 5.2-3.6 5.2-2.5 5.2-.9 5.2 .6 5.2 1.9 15.5 8.3 5.2 1.4 5.2 .3 5.2-.9 5.2-1.7 25.9-12.7 5.2-2.1 5.2-1.4 5.2-.3 5.1 .8 5.2 2.2 5.2 3.2 15.6 12.5 5.2 3.6 5.2 2.7 5.1 1.5 5.2 .3 5.2-.8 15.6-5.4 5.2-1.5 5.1-.7 5.2 .1 15.6 2.8 10.4 1.1 10.3-.1 10.4-.8 10.4-2.2 15.6-5 10.3-2 5.2-.1 5.2 .4 15.6 3.6"/><path stroke="#1A82D4" d="M111.6 460.2l15.6-.8 10.4 .1 36.3 3.9 10.4 1.8 25.9 6.5 31.1 5.2 10.4 2.2 20.7 6.1 20.8 8.2 20.7 10.4 15.6 9.9 10.4 8.3 5.2 4.9 10.3 12 5.2 7.5 5.2 8.9 5.2 11.3 5.2 15.1 5.2 23.1 5.2 48.8 5.1-11.4 10.4-63.5 5.2-14.6 5.2 14.9 5.2-43.8 5.2 2.2 10.3-11.6 5.2-16.7 5.2-1.3 5.2 4.9 10.4-6.9 15.5-8.3 5.2 6.2 5.2-10.6 20.8-6.9 20.7-5.3 10.4-2 10.3-1.4 46.7-2.5 20.8-4.2 31.1-7.4 15.6-2.5M111.6 468.9l26-5.2 5.2-.4 10.3 .3 15.6 2.7 31.1 8.1 10.4 2.3 10.4 1.5 25.9 2.1 15.6 2.9 10.3 3 10.4 4 20.8 9.9 15.5 9 15.6 11.5 10.4 9.9 10.3 12.7 5.2 8 5.2 9.7 5.2 12.6 5.2 17.7 5.2 30 5.2 74.4 5.1-76.6 5.2-29.6 5.2-17.7 5.2-12.5 5.2-9.8 5.2-8 5.2-6.8 5.1-5.8 10.4-9.9 10.4-8.1 10.4-6.7 10.3-5.6 10.4-4.7 10.4-3.7 10.4-2.9 36.3-8.2 31.1-10.1 10.4-1.4 5.2 .2 20.7 2.9 10.4-.1 31.1-5.4 15.6-1.5M111.6 453.9l67.5 1.5 10.3 1.9 26 6.3 25.9 4.7 10.4 2.3 10.4 3.3 10.3 4 15.6 6.9 15.6 7.8 10.3 6 10.4 6.7 10.4 8 5.2 4.6 10.3 10.9 5.2 6.7 5.2 7.9 5.2 9.6 5.2 12.4 5.2 17.3 5.2 28.9 5.2 88.6 5.1-84.1 5.2-31.5 5.2-.8 5.2-30.4 5.2-10.1 5.2 18.3 5.2-33.4 10.3-11.2 5.2-2.5 5.2 26.5 5.2-9.9 5.2-29.9 5.2-3 5.2 4.6 5.1-15.1 5.2 1.5 5.2-.6 5.2 32.5 5.2-36.2 20.7-6 36.3-7.6 10.4-3.2 15.6-5.6 10.4-2.7 10.3-1 20.8 2 10.4 .4 36.3-3.4M111.6 449.3l67.5 3.5 25.9 3.3 25.9 1.6 15.6 2.5 36.3 10.2 20.8 7 10.3 4.6 10.4 5.7 10.4 7.1 5.2 4.3 10.3 10.5 5.2 6.5 5.2 7.8 5.2 9.6 5.2 12.4 5.2 17.3 5.2 28.7 5.2 87.2 5.1-81.2 5.2-31.8 5.2-18.2 5.2-12.8 5.2-9.8 5.2-7.9 5.2-6.4 5.1-5.3 5.2-4.1 5.2-2.6 5.2 .9 5.2 12.4 5.2 69.4 5.2-58.7 5.2-31.4 5.1-9.6 5.2-4.6 5.2-2.6 5.2-.9 5.2 2.8 5.2 19.5 5.2 70.1 5.2-82.6 5.1-15.4 5.2-5.1 5.2-2.6 5.2-1.7 10.4-2.5 10.3-1.6 10.4-1 31.1-1.6 10.4-1.3 26-4.7 10.3-1.3 10.4-.5 15.6 .7M111.6 459.3l10.4-2.7 5.2-.6 5.2 0 25.9 4.8 15.6 1.2 10.4 2.1 20.7 7.8 10.4 2.8 15.5 2.6 26 2.6 10.3 2 15.6 5.6 25.9 11.8 15.6 8.8 10.4 7.5 10.4 9.2 5.1 5.6 5.2 6.5 5.2 7.7 5.2 9.3 5.2 11.9 5.2 16.5 5.2 26.5 5.2 71.8 5.1-55.5 5.2-34.8 5.2-19.2 5.2-13.2 5.2-10.1 5.2-8.3 5.2-7 10.3-11.5 5.2-4.9 10.4-8.3 10.4-6.7 10.3-5.2 10.4-4 10.4-3.3 10.4-2.6 10.3-1.8 26-2 10.3-1.4 10.4-2.8 20.8-7.1 10.3-2.4 10.4-1.1 10.4 .7 10.4 2.4 15.5 4.8 10.4 1.5 5.2 0 10.4-1.6"/><path stroke="#D8891A" d="M111.6 470.5l5.2-.8 15.6-3.5 5.2-.5 10.3 .6 20.8 2.6 25.9 1.4 10.4-.2 10.4-2.1 15.5-5 5.2-.8 5.2 0 5.2 .8 15.6 5.1 5.1 1.3 5.2 .5 10.4-1.3 36.3-7.2 10.4-.6 20.7 1.6 5.2-.3 15.6-3.1 10.4-1.1 20.7 .1 31.1-1.5 31.2 1.7 5.1-.3 20.8-3.5 5.2-.1 20.7 2.6 20.8 .1 20.7 1.3 10.4-1.1 15.6-3.9 10.3-1.4 10.4 .5 15.6 2.4 5.2 .3 10.3-.8 15.6-3 10.4-.6"/><path stroke="#1A82D4" d="M111.6 463.8l15.6 4.4 10.4 1.5 5.2 .1 10.3-1.1 20.8-4.2 5.2-.3 10.3 1.3 10.4 3.3 15.6 6 10.4 3.2 10.3 2.1 26 4.1 15.5 4.4 15.6 6.4 15.5 7.7 15.6 9.3 10.4 7.6 10.4 9.7 5.1 5.9 5.2 6.9 5.2 8.1 5.2 10 5.2 12.9 5.2 18.2 5.2 30.9 5.2 75 5.1-79.4 5.2-29 5.2-17.5 5.2-12.5 5.2-9.7 5.2-7.9 5.2-6.7 5.1-5.8 10.4-9.5 15.6-11.3 15.5-8.5 15.6-6.6 10.4-3.5 10.4-3 10.3-2.1 26-4 20.7-4.8 10.4-1.8 20.7-1.7 20.8-2.7 31.1 .3 15.6-1.2M111.6 463.3l15.6-1.8 10.4-.5 15.5 1.2 10.4 1.9 51.9 11.2 31.1 4.9 10.4 2.2 20.7 6.4 15.6 6 10.4 4.5 15.5 8.3 15.6 11.1 10.4 9.7 10.3 12.5 5.2 8.1 5.2 9.9 5.2 12.9 5.2 18.6 5.2 32.7 5.2 59.8 5.1-71.8 5.2-27.4 5.2-16.8 5.2-12.1 5.2-9.5 5.2-7.7 10.3-12.3 10.4-9.5 10.4-7.7 15.6-9.1 15.5-6.8 10.4-3.6 10.4-3 20.7-4.4 10.4-1.4 10.4-.9 15.5 .1 26 2.5 10.3 .3 10.4-3.2 25.9-11.5 10.4-3.8 10.4-2.2 10.4-.6"/><path stroke="#D8891A" d="M111.6 470.6l10.4 .3 15.6-.5 46.7-4.3 10.3-.1 10.4 1.1 25.9 6.9 10.4 2.1 5.2 .5 15.6 .2 20.7-.8 25.9 .4 15.6-1.8 31.1-5.1 31.2-3.6 15.5-2.9 25.9-6.3 10.4-1.4 5.2-.2 10.4 .4 83 6.7 15.5 .6 36.3-.6 36.4 3.4 15.5-.7 20.8-3.8M111.6 459.2l31.2-4.7 25.9-1.4 10.4-2 15.5-4.2 5.2-.7 5.2 0 5.2 .8 5.2 1.4 15.5 6.2 10.4 3.1 36.3 5.1 26 5.7 10.3 1.1 10.4 .1 25.9-1.9 72.7-2.5 15.5-1.5 26-3.2 10.3-.7 10.4 .4 20.8 2.1 10.3-.2 10.4-2 15.6-4.8 10.3-2.7 10.4-1 46.7 4.1 10.4 2.2 25.9 9.1 10.4 1.7 5.2-.1"/><path stroke="#1A82D4" d="M111.6 440.6l10.4 1.1 31.1 4.9 26 1.7 15.5 3.7 31.2 9.7 36.3 10.1 20.7 7.7 20.8 10.2 20.7 12.7 10.4 7.6 5.2 4.3 10.3 10.5 5.2 6.4 5.2 7.6 5.2 9.4 5.2 12 5.2 16.7 5.2 27.1 5.2 78.3 5.1-64.2 5.2-34.2 5.2-18.9 5.2-13.3 5.2-10.1 5.2-8.3 10.3-13.1 10.4-10.1 5.2-4.3 10.4-7.3 10.4-6.5 10.3-5.6 20.8-9.2 20.7-7 31.1-8 46.7-10.8 20.8-3.3 15.5-1.8 15.6-1.5 15.6-.6"/><path stroke="#D8891A" d="M111.6 451.2l26 4 5.2 .3 25.9-.7 10.4 1.2 15.5 2.6 10.4 1.1 10.4 .1 25.9-1.4 10.4 .2 31.1 1.5 25.9 2.4 5.2-.3 10.4-2.1 31.1-11.4 10.4-2.6 5.2-.7 10.4 .2 5.2 1 20.7 6.3 5.2 .9 5.2 .1 5.2-.7 20.7-6.1 10.4-1.9 25.9-.3 10.4-1 20.7-3.2 10.4-.2 25.9 1.7 10.4 1.2 10.4 2.2 20.7 5.6 10.4 1.6 5.2 .3 10.4-.5 10.4-1.5 25.9-6.8 10.4-2"/><path stroke="#1A82D4" d="M111.6 462.3l15.6 4.1 15.6 2.1 5.1 .1 10.4-.7 26-4.4 10.3 .2 10.4 1.8 25.9 7.4 36.3 8 15.6 4.9 10.4 4.4 15.5 8.3 15.6 10.3 10.4 8.4 10.4 10 5.1 6 5.2 6.8 5.2 8 5.2 9.8 5.2 12.6 5.2 17.6 5.2 30 5.2 96 5.1-95.6 5.2-30.6 5.2-17.9 5.2-12.8 5.2-10 5.2-8.2 5.2-6.9 5.1-5.9 10.4-10 10.4-8.1 10.4-6.8 10.3-5.8 10.4-4.9 15.6-5.6 46.7-11.8 15.5-2.8 20.8-.9 10.3-1 15.6-3.2 10.4-1.2 10.4 .5 20.7 2.1 5.2 0 10.4-1M111.6 449.5l41.5 2.4 26 .2 10.3 1.4 10.4 2.5 36.3 12.3 10.4 2.7 31.1 6.4 15.6 4.8 10.4 4.5 15.5 8.5 10.4 7 10.4 8.4 10.3 10.7 5.2 6.7 5.2 8 5.2 9.8 5.2 12.7 5.2 17.9 5.2 30.8 5.2 80.1 5.1-83.8 5.2-29.3 5.2-17.5 5.2-12.6 5.2-9.7 5.2-8 5.2-6.6 5.1-5.8 10.4-9.4 15.6-10.8 15.5-8.1 20.8-8.5 10.4-3.4 10.3-2.7 15.6-2.1 25.9-.1 10.4-1.1 10.4-2.4 25.9-8.7 10.4-1.9 10.4-.3 10.3 .9 31.2 5M111.6 475.8l5.2 3.4 5.2 2.6 5.2 2 5.2 1.3 10.4 1 10.3-.6 31.2-6.4 5.1-.5 10.4 .7 20.8 3.2 10.3-.1 20.8-1.5 10.4 1 5.1 1.2 10.4 3.4 26 10.3 15.5 7.4 10.4 6.6 10.4 8.1 5.2 4.8 10.3 12 5.2 7.7 5.2 9.4 5.2 11.9 5.2 16.4 5.2 26.2 5.2 64.8 5.1-47.1 5.2-34.8 5.2-19.1 5.2-13.3 5.2-10.1 5.2-8.2 5.2-6.9 10.3-11.3 5.2-4.8 10.4-8.3 10.4-6.7 15.5-7.6 15.6-5.5 15.6-3.8 10.3-1.4 10.4-.3 10.4 1.2 25.9 4.6 10.4 .6 5.2-.2 15.5-2 10.4-4 10.4-2.7 25.9-3 10.4-1.8 10.4-2.5M111.6 464.5l10.4 2.4 10.4 1 5.2-.4 20.7-3.7 10.4-.1 31.1 3.5 36.3 6.5 10.4 2.4 15.6 4.4 15.5 5.2 15.6 5.9 10.4 4.6 10.3 5.4 15.6 10.1 10.4 8.6 5.2 5 10.3 12.1 5.2 7.6 5.2 9.2 5.2 11.5 5.2 15.7 5.2 24.5 5.2 57.4 5.1-29.6 5.2-38.7 5.2-20.4 5.2-13.9 5.2-10.6 5.2-8.6 5.2-7.2 10.3-11.8 5.2-4.9 10.4-8.3 15.6-9.7 10.3-5.1 10.4-4.6 20.8-7.6 20.7-5.7 20.7-3.8 15.6-1.4 10.4 .7 20.7 4 10.4-.2 10.4-2.5 15.5-6 5.2-1.2 10.4-.9 15.6 .6"/><path stroke="#D8891A" d="M111.6 488.2l5.2 .1 5.2 .8 15.6 4.8 5.2 1.1 15.5 .7 5.2 .6 5.2 1.2 5.2 1.9 20.7 9.8 5.2 1.6 5.2 1 5.2 0 5.2-1 5.2-1.9 20.7-11.8 10.4-4.7 5.2-1.9 15.5-3.9 5.2-.6 5.2 .1 5.2 1.1 5.2 2.2 5.2 3.3 5.2 4.2 15.5 14.4 5.2 3.9 5.2 2.3 5.2 .3 5.2-1.9 5.2-3.6 15.5-14.4 5.2-3.3 5.2-1.6 5.2-.1 15.5 3.2 5.2 .4 5.2-.2 15.6-2.5 15.5-.7 10.4-1.2 25.9-7.3 15.6-2 10.4-.2 5.2 .6 5.2 1.2 5.1 1.9 15.6 8 5.2 2.1 5.2 1.5 36.3 5.4 5.2-.3 5.2-1.2 15.5-6.2 5.2-1.3 5.2-.4 15.6 1.9 5.1 .2 20.8-2.9 10.4-.8"/><path stroke="#1A82D4" d="M111.6 458.1l15.6 2.8 10.4 1.4 10.3 .6 31.2 .9 15.5 1.5 20.8 3.4 20.7 4.8 26 7.3 25.9 9.7 20.7 9.8 10.4 5.8 10.4 6.8 10.4 8.2 5.2 4.9 10.3 11.6 5.2 7.3 5.2 8.8 5.2 10.9 5.2 14.6 5.2 21.9 5.2 45.1 5.1 5.3 5.2-49.3 5.2-22.7 5.2-15 5.2-11.2 5.2-8.9 5.2-7.4 5.1-6.3 10.4-10.3 5.2-4.4 10.4-7.5 15.5-8.9 26-11.9 20.7-8.2 15.6-4.2 15.5-1.7 46.7 .5 31.2-2.2 36.3-.4"/><path stroke="#D8891A" d="M111.6 453.7l26 3.4 10.3 .8 31.2-.6 31.1 .9 25.9-.9 10.4 .3 10.4 1.3 46.7 9.2 10.3 .8 15.6-.9 25.9-3.8 46.7-3.7 15.6-2.5 36.3-8.1 15.5-1.7 5.2 0 10.4 1 25.9 5.4 10.4 1.4 15.6 .4 20.7-1.4 10.4-.3 10.4 .7 20.7 3.1 10.4 .8 10.4-.4 25.9-4.8 15.6-1.6M111.6 436.6l15.6 3.7 5.2 .5 5.2-.2 5.2-1 15.5-4 5.2-.8 10.4 .1 15.5 3.5 31.2 10 41.5 11.4 10.3 1.4 10.4-.9 20.8-4.3 15.5-2.1 15.6 0 20.7 2.6 5.2 .2 5.2-.5 5.2-1.6 5.2-2.7 5.2-3.7 15.5-12.6 5.2-3.1 5.2-2 5.2-.8 5.2 .1 15.5 2.3 10.4 .6 10.4-.6 20.7-2.4 10.4-.1 5.2 .4 10.4 2.4 20.7 8.5 5.2 1.5 5.2 .9 5.2 .1 15.5-2 5.2-.4 5.2 .2 10.4 2.4 15.5 5.6 5.2 1.1 5.2 .5 10.4-.8 25.9-6.4 10.4-1.8 5.2-.1 5.2 .7 5.2 1.4"/><path stroke="#1A82D4" d="M111.6 453.8l15.6 .1 36.3-2.9 10.4 .2 5.2 .6 10.3 3.5 26 10.6 41.5 14.1 25.9 10.5 15.6 7.1 15.5 8.2 10.4 6.6 10.4 7.8 10.4 9.6 5.1 5.7 5.2 6.8 5.2 8.1 5.2 10 5.2 13.1 5.2 19.1 5.2 34.9 5.2 59.7 5.1-76.8 5.2-26.7 5.2-16.3 5.2-11.9 5.2-9.2 5.2-7.6 5.2-6.4 5.1-5.7 10.4-9.5 15.6-11.5 10.4-6.4 10.3-5.8 15.6-7.1 15.6-5.2 25.9-5.6 20.7-3.6 10.4-.7 20.8 .3 10.3-1 10.4-3.5 20.8-8.6 10.3-2.4 10.4-.5 15.6 2.2M111.6 459.5l31.2-4.6 10.3-1.1 10.4 .1 10.4 1.9 5.2 1.5 15.5 6.5 10.4 3.7 10.4 2.9 41.5 9.4 15.5 4.2 15.6 5.1 10.4 4 10.3 4.7 10.4 5.7 10.4 6.8 10.4 8.3 5.2 4.9 10.3 11.9 5.2 7.5 5.2 9.1 5.2 11.6 5.2 15.7 5.2 24.6 5.2 57.6 5.1-30.4 5.2-38.6 5.2-20.4 5.2-13.9 5.2-10.5 5.2-8.5 5.2-7.2 5.1-6.1 10.4-10.2 5.2-4.3 10.4-7.5 10.4-6 10.3-5 10.4-4 15.6-4.6 10.3-2.1 10.4-1.5 41.5-2.7 10.4-1.3 15.5-3.6 15.6-5.4 10.4-2.4 10.4-.3 10.3 1.7 26 8.5M111.6 456.3l36.3 5.9 15.6 1.9 15.6 .4 25.9-1 10.4 .6 10.4 2 10.3 3 10.4 3.7 46.7 18.3 20.7 10.2 15.6 9.8 10.4 8.2 5.2 4.8 10.3 11.5 5.2 7.3 5.2 8.7 5.2 11 5.2 14.6 5.2 22.3 5.2 45.5 5.1-1.3 5.2-45.4 5.2-22.1 5.2-14.7 5.2-11 5.2-8.8 5.2-7.3 10.3-11.7 5.2-4.8 10.4-8.2 15.6-9.6 10.3-5 10.4-3.9 15.6-4.3 31.1-7.2 36.3-10.7 10.4-2.3 10.3-1.5 31.2-3.4 25.9-3.7 15.6-1.5M111.6 462.5l31.2 7.5 10.3 1.3 20.8 1.2 15.5 2.8 26 6.5 10.4 1.5 31.1 2.4 10.3 1.5 10.4 2.4 15.6 5.3 15.5 7.4 15.6 9.4 10.4 7.8 10.4 9.6 5.1 5.8 5.2 6.7 5.2 7.9 5.2 9.7 5.2 12.3 5.2 17.3 5.2 28.5 5.2 75.3 5.1-69.8 5.2-31.4 5.2-18.2 5.2-12.8 5.2-9.9 5.2-8.1 10.3-12.7 10.4-9.9 10.4-8.1 10.4-6.7 10.3-5.7 10.4-4.8 15.6-5.9 15.5-5 15.6-3.7 10.4-1.3 36.3-.5 5.2 31.6 5.2-32.4 10.3-1.7 26-8.5 15.5-4.3 10.4-2 15.6-1.4"/><path stroke="#D8891A" d="M111.6 489.9l5.2 0 15.6 1.7 20.7-.1 5.2 1 5.2 2.1 5.2 3.2 15.6 11.4 5.1 2.5 5.2 1.2 5.2-.1 5.2-1.4 5.2-2.4 15.6-9.6 5.1-1.8 5.2-.4 5.2 1 20.8 9.7 5.1 1.6 10.4 1.3 41.5 2.5 10.4-.8 5.2-1.4 15.5-6.3 5.2-1.7 5.2-1 5.2-.4 15.6 .8 15.5-.2 15.6 .7 10.4-.2 10.3-1.8 20.8-5.1 10.4-1.9 5.1-.2 5.2 .4 15.6 3.3 10.4 .8 10.3-1 26-3.9 5.2-.2 5.1 .4 5.2 1 10.4 3 5.2 .9 5.2 0 5.2-1.1 15.5-6.6 5.2-1.4 5.2-.2 5.2 .9 15.6 4.7 5.1 .3 5.2-.9 15.6-5.3 5.2-.9 5.2 .1M111.6 454.3l5.2 2.1 10.4 3 10.4 1.8 20.7 2.5 31.1 1.7 26 2.1 25.9 .6 10.4-.3 10.4-1.7 20.7-6.9 5.2-1.3 5.2-.7 15.5-.2 10.4-.6 26-3.3 5.1 0 10.4 1.4 20.8 6.2 5.2 1.2 10.3 .9 20.8-1.2 20.7-.2 5.2-.6 10.4-2.9 15.5-6.1 5.2-1.5 5.2-.7 5.2 0 5.2 .8 20.7 5.7 10.4 1 5.2-.2 15.6-2.3 10.3-1 5.2 .1 20.8 1.7 5.2-.1 20.7-3.3 5.2-.3 5.2 .4 5.2 1.1 15.5 4.9 5.2 1 5.2 .2 5.2-.6 10.4-2.9M111.6 466.1l5.2 .4 10.4-.1 31.1-3.1 10.4-.4 10.4 .2 57 4.2 10.4 2 20.7 5.5 10.4 1.2 10.4 0 15.6-.3 10.3-1.6 10.4-3.1 15.6-5.9 10.3-3.3 36.4-8.3 10.3-1.2 10.4 .9 31.1 7.5 10.4 .8 10.4-.8 20.7-3.4 15.6-1.2 20.7 0 36.3 1.5 15.6-.8 25.9-2.6 10.4-.3 15.6 .9 25.9 4 15.6 1.1M111.6 457.4l10.4 1.2 15.6 3.9 10.3 1 5.2-.5 10.4-2.3 25.9-8.3 10.4-1.9 5.2-.1 10.4 1.1 31.1 8.2 10.4 1.1 20.7 .9 10.4 1.9 15.6 4.2 5.1 .8 10.4 .4 10.4-.7 10.4-2.5 20.7-9.2 5.2-1.8 5.2-1 5.2-.1 5.2 .7 15.5 3.7 5.2 .7 5.2 0 5.2-.7 20.7-5 5.2-.6 20.8-.7 20.7-2.4 10.4 .2 25.9 4.6 31.1 3.1 10.4-.6 20.8-4.9 10.3-1.1 10.4 .1 10.4 .9 31.1 5.7 10.4 0 10.4-1.7"/><path stroke="#1A82D4" d="M111.6 468l10.4-.9 10.4 .2 25.9 5.2 10.4 .4 15.6-.4 5.1 .5 26 6.4 25.9 2.2 10.4 2 36.3 9.8 15.6 5.9 10.3 5.2 10.4 6.6 15.6 12.3 10.3 10.7 5.2 6.5 5.2 7.8 5.2 9.7 5.2 12.5 5.2 17.5 5.2 29.4 5.2 96.5 5.1-93.5 5.2-31.1 5.2-18 5.2-12.8 5.2-10 5.2-8.1 5.2-6.9 5.1-6 10.4-10 15.6-11.7 10.4-6.2 10.3-5.2 15.6-5.5 20.7-4.9 15.6-2.4 25.9-1.2 31.2-5.3 15.5 .2 31.1 2 10.4-.8 20.8-4.3M111.6 459.5l36.3 9.1 15.6 3.2 15.6 2.4 46.7 4.7 10.3 1.9 10.4 2.6 31.1 10.5 20.8 8.6 10.3 5.3 10.4 6.2 15.6 11.5 10.4 9.9 10.3 12.6 5.2 8.1 5.2 9.8 5.2 12.6 5.2 17.8 5.2 30.2 5.2 69.5 5.1-72.3 5.2-29.2 5.2-17.6 5.2-12.5 5.2-9.7 5.2-8 10.3-12.5 10.4-9.8 10.4-8.1 10.4-6.8 15.5-8.5 10.4-4.6 15.6-5.2 31.1-8.2 31.1-9.4 20.8-5.2 15.5-2.6 20.8-1.8 41.5-2"/><path stroke="#D8891A" d="M111.6 449.4l36.3-.7 15.6 .6 15.6 2.1 25.9 4.6 25.9 3.5 26 5 10.3 .6 10.4-1.6 20.8-5.6 15.5-2.8 10.4-.7 25.9 1 10.4-.3 10.4-1.7 25.9-6.5 10.4-1.6 15.6-1.2 41.5-.1 36.3 2.5 25.9 .8 36.3 0 31.1-2.4 10.4-.2 57.1 1.9M111.6 457.1l10.4 1.5 5.2 .3 5.2-.1 10.4-1.3 10.3-2.5 26-9.1 10.3-2.1 5.2-.1 10.4 1.5 31.1 10.6 10.4 2.6 15.6 2.5 15.5 .9 20.8-.9 25.9-2.6 31.1-1 15.6-1.6 15.6-2.9 25.9-7.8 10.4-1.8 10.3-.1 20.8 1.4 25.9-.8 26 2.7 10.3 .5 36.3-1.6 41.5 3.1 15.6-.8 31.1-5.1 10.4-.3 10.4 1M111.6 457.3l10.4 .6 20.8-.3 10.3 .4 26 3 36.3 2.9 25.9 3.2 31.1 6.6 10.4 .5 20.8-.9 25.9-3.4 15.6-3.5 20.7-6.3 10.4-2.6 10.4-1.8 46.6-5.7 5.2-.1 10.4 .8 31.1 6 10.4 1.1 5.2 .1 10.4-.8 20.7-3.6 10.4-1.2 15.5-.3 15.6 1.9 25.9 5.8 10.4 .8 10.4-.9 20.7-4.6 10.4-1.7 15.6-.7M111.6 456.1l15.6 1.8 36.3 8.7 15.6 2.3 10.3 .6 36.4 .4 72.6 4.2 5.2 0 10.3-1.3 31.2-6.6 10.3-1.2 20.8-1.3 10.4-1.2 10.3-2 31.1-7.8 15.6-2 15.6 .2 31.1 3.2 25.9 1 10.4 1.2 25.9 5.1 10.4 1.4 36.3 .3 31.1 4 10.4-.3 20.8-2.6M111.6 449.8l20.8 1.8 15.5 .4 36.4-.9 31.1 .8 31.1-1.9 10.4-.1 20.7 1.9 20.8 2.8 10.3 .3 36.4-5.1 10.3-.3 26 .4 20.7-.9 77.8-7.4 20.8-1 10.3 .3 10.4 1.1 25.9 4.5 10.4 1.3 10.4 .2 25.9-2.4 10.4-.4 10.4 .6 25.9 3.2 20.8 2"/><path stroke="#1A82D4" d="M111.6 446.1l15.6 1.4 31.1 1.1 20.8 1.7 31.1 6.3 15.6 4.1 25.9 9.3 25.9 10.7 15.6 7 10.4 5.2 10.3 5.9 15.6 10.8 10.4 9 10.3 11.4 5.2 7 5.2 8.4 5.2 10.4 5.2 13.8 5.2 20.3 5.2 38.8 5.2 28.6 5.1-58 5.2-24.5 5.2-15.7 5.2-11.6 5.2-9.1 5.2-7.6 10.3-12 5.2-5 10.4-8.5 15.6-10.1 10.3-5.5 10.4-4.7 20.8-7.4 36.3-10.3 20.7-4.6 57.1-11 10.4-1.2 10.3-.5 26 .5M111.6 474.4l10.4-.1 10.4 .8 31.1 4.9 15.6 1.9 15.5-.7 15.6 .1 20.7 1.5 15.6 2.3 36.3 8.8 10.4 3 10.4 3.8 10.3 4.8 5.2 3 10.4 7.3 5.2 4.2 10.4 9.9 5.1 6 5.2 6.9 5.2 8.1 5.2 9.9 5.2 12.9 5.2 18.2 5.2 31.7 5.2 90.4 5.1-96.8 5.2-28.9 5.2-17.4 5.2-12.4 5.2-9.7 5.2-7.9 5.2-6.8 5.1-5.8 10.4-9.7 15.6-11.5 15.5-8.2 10.4-4.4 10.4-3.6 15.6-4 20.7-3.2 25.9-3 15.6 0 25.9 1.7 20.8-2.9 46.7-3.5M111.6 475l5.2 .8 10.4-.1 20.7-3.6 10.4-.4 5.2 .9 5.2 1.6 10.4 5.1 5.2 2.1 5.1 1.5 5.2 .6 5.2-.2 20.8-5.2 5.2-.4 10.3 1.1 10.4 2.7 25.9 8.5 31.2 9.4 10.3 4.6 5.2 2.9 10.4 7.2 10.4 8.8 5.2 5.1 5.1 5.9 5.2 6.8 5.2 8.1 5.2 10.1 5.2 13.1 5.2 18.8 5.2 33 5.2 56.8 5.1-69.7 5.2-1.8 5.2-42.4 5.2 20.3 5.2-42.3 5.2-7.9 5.2 26.4 5.1-38.7 5.2-5 5.2-1.3 5.2-7 10.4-6.7 5.2 1.2 5.2 16.6 5.1-25.4 10.4-4 5.2 10.5 5.2-14.1 15.6-4.5 10.3-2 20.8-2.7 15.5-2.7 10.4-.5 5.2 .7 5.2 1.5 15.5 6 5.2 1.1 5.2-1.3 5.2-2.4 15.6-9.5 5.2-1.9 5.1-.9 5.2 .2 26 3.8"/><path stroke="#D8891A" d="M111.6 464.3l20.8-.6 36.3-3.4 15.6 0 15.5 1.6 41.5 6.2 20.8 1.8 10.3 .1 36.3-1.3 46.7-3.9 10.4-.3 20.8 .3 10.3-.5 10.4-1.4 25.9-5.1 26-2.3 25.9-3.2 10.4-.5 10.4 .4 25.9 2.3 36.3 .8 62.2 3.7 15.6 0 15.6-1.4M111.6 455.5l15.6 6.1 10.4 2.9 5.2 .7 5.1 .3 10.4-.7 26-5.3 10.3-1.4 10.4-.5 31.1-.1 10.4 .4 10.4 1.4 25.9 7.2 10.4 1.9 5.2 .4 10.3-.4 31.2-3.4 15.5-2.2 10.4-2.5 25.9-9 10.4-2 15.6-1 15.5 .6 20.8 2.8 10.4 .2 20.7-1.6 20.8-.9 20.7-2.9 10.4-.3 10.3 1.2 20.8 3.5 25.9 5.5 10.4 1.7 10.4 .7 31.1 .5 15.6-.6"/><path stroke="#1A82D4" d="M111.6 441.8l10.4 .7 15.6-.5 10.3 1 5.2 1.3 15.6 5.3 5.2 1.3 31.1 3.4 15.6 3.7 20.7 6 10.4 3.8 15.5 6.7 20.8 9.5 15.6 8 10.3 6.2 10.4 6.8 15.6 12.6 10.3 10.7 5.2 6.6 5.2 7.8 5.2 9.5 5.2 12.5 5.2 17.7 5.2 29.8 5.2 72.3 5.1-72.7 5.2-29.7 5.2-17.6 5.2-12.6 5.2-9.8 5.2-8 10.3-12.7 10.4-9.9 15.6-11.6 10.4-6.4 10.3-5.5 31.2-13.1 25.9-11.7 10.4-3.9 10.3-2.3 20.8-2.1 20.7-3.3 31.2-2.4 15.5-.3 20.8 1.9M111.6 455.1l10.4-.7 5.2 .3 15.6 2.4 20.7 1 10.4 2.4 10.4 3.7 10.3 2.8 10.4 1.1 25.9 .1 10.4 1.3 5.2 1.2 15.6 5.7 36.3 15.7 20.7 11.5 15.6 10.8 10.4 9.2 10.3 12 5.2 7.7 5.2 9.3 5.2 11.8 5.2 16.1 5.2 25.7 5.2 66.7 5.1-45.5 5.2-36.7 5.2-19.9 5.2-13.6 5.2-10.5 5.2-8.4 5.2-7.1 5.1-6.1 5.2-5.3 10.4-9.1 15.6-11 15.5-8.9 15.6-6.5 10.4-2.9 10.3-1.9 51.9-6.1 10.4-2.8 20.7-9.5 5.2-1.3 5.2-.3 5.2 .6 15.6 4 5.1 .8 5.2 .1 10.4-1.5 15.6-3.8M111.6 466.3l36.3 3 31.2 4.2 25.9 1.5 20.8 1.9 20.7 2.5 15.6 2.9 15.5 5.2 15.6 7.6 20.7 12.3 15.6 11.3 10.4 9.1 5.2 5.3 10.3 12.7 5.2 8.1 5.2 10 5.2 13.1 5.2 18.9 5.2 34.5 5.2 62.2 5.1-78.6 5.2-27 5.2-16.6 5.2-12.1 5.2-9.4 5.2-7.7 5.2-6.6 5.1-5.7 10.4-9.5 15.6-11.4 10.4-6.1 10.3-5.2 10.4-4.6 10.4-3.8 10.4-3.1 10.3-2.4 15.6-2.5 10.4-1.2 10.3-.5 26 0 10.3-.8 5.2-.8 20.8-5.6 10.4-1.2 15.5 .4 20.8 2.3"/><path stroke="#D8891A" d="M111.6 468.4l5.2-.7 26-5.1 10.3-.4 10.4 1.1 36.3 5.9 15.6 1 10.4-.8 25.9-5.2 10.4-.9 5.1 .1 10.4 1.7 20.8 6.5 5.2 1 5.1 0 5.2-1 5.2-1.8 10.4-5.2 10.4-5.9 10.3-4.7 5.2-1.4 5.2-.6 5.2 .1 5.2 .8 25.9 9 5.2 1.1 5.2 .4 5.2-.3 20.7-3 26-1.3 10.3-2 20.8-5.3 5.2-.8 10.4-.5 10.3 .4 10.4 1.3 25.9 6.2 10.4 1.2 10.4-.6 20.7-3.5 10.4-.8 10.4 .2 31.1 2.9 15.6-.6"/><path stroke="#1A82D4" d="M111.6 474.7l15.6 4.5 10.4 1.6 10.3 .6 15.6 0 15.6-1.1 10.3-1.4 5.2-.1 10.4 .9 31.1 4.2 10.4 1.8 25.9 6.9 15.6 5.2 10.4 4 15.5 7.6 5.2 3.1 10.4 7.3 10.4 8.9 5.2 5.3 5.1 6 5.2 7 5.2 8.3 5.2 10.3 5.2 13.6 5.2 19.6 5.2 36.2 5.2 48.3 5.1-69.5 5.2-26 5.2-16.3 5.2-11.9 5.2-6.9 5.2 22.9 5.2-43.1 5.1-2.1 5.2-4.9 5.2 11 5.2-19.5 5.2-3.7 5.2 31.8 5.2-47.9 5.2 34.8 5.1-19.4 5.2-13 10.4-3.6 15.6-3.5 20.7-2.1 41.5-2 31.1 .7 20.8-6.6 10.4-2.7 36.3-3.8M111.6 454.5l10.4 .9 20.8 1 10.3 2.3 20.8 6.8 10.4 2.4 10.3 1.3 26 1 10.3 1.6 31.2 6.3 15.5 4.1 15.6 5.8 15.5 7.4 15.6 9.2 10.4 7.6 5.2 4.4 10.3 10.3 5.2 6.2 5.2 7.2 5.2 8.6 5.2 10.9 5.2 14.5 5.2 22 5.2 44.2 5.1 3.3 5.2-46.6 5.2-22.3 5.2-14.8 5.2-11 5.2-8.9 5.2-7.5 10.3-12 5.2-4.9 10.4-8.1 15.6-9.5 15.5-7.6 15.6-6.1 15.5-4.5 10.4-1.7 25.9-1.7 31.2-7.1 5.2-.4 15.5 1 10.4-.1 10.4-2.3 15.5-5.7 10.4-2.8 5.2-.6 10.4 .5M111.6 468.5l15.6 .6 15.6 0 10.3-.7 26-3.3 10.3 .6 10.4 2.5 20.8 6.5 25.9 5.5 10.4 2.6 36.3 11 10.4 4.1 10.3 5 15.6 9.7 10.4 8.3 5.2 4.8 10.3 12 5.2 7.6 5.2 9.2 5.2 11.9 5.2 16.3 5.2 26.1 5.2 66.7 5.1-47.5 5.2-35.7 5.2-19.4 5.2-13.4 5.2-10.3 5.2-8.3 5.2-7 5.1-6 5.2-5.3 10.4-8.9 10.4-7.3 15.5-8.7 15.6-6.7 15.6-4.7 15.5-2.6 15.6-1.2 62.2-1.7 15.6-3 10.4-2.6 10.3-3.6 20.8-8.1 10.4-3.4M111.6 454.9l10.4 1.1 10.4 2.2 31.1 9.6 10.4 2.6 10.4 1.4 25.9 .9 10.4 1 10.3 1.8 15.6 4.2 20.7 7.4 26 12.1 20.7 11.7 15.6 10.8 10.4 9 5.2 5.3 5.1 6.1 5.2 7 5.2 8.3 5.2 10.4 5.2 13.7 5.2 19.9 5.2 37.4 5.2 33.2 5.1-59 5.2-24.9 5.2-15.8 5.2-11.6 5.2-9.1 5.2-7.6 10.3-12.1 5.2-5 10.4-8.6 15.6-10.3 10.3-5.6 10.4-4.6 15.6-5.2 46.7-12.1 15.5-3.6 31.1-5.3 26-7.2 10.4-2.1 15.5-1.2 20.8 1M111.6 467.3l5.2 35.8 5.2-34.4 41.5 .1 10.4-.3 15.5-1.4 10.4-.1 5.2 .4 10.4 2.2 36.3 12.8 31.1 8.6 10.4 3.4 10.4 4.2 10.3 5.3 10.4 6.4 10.4 7.7 10.4 9.6 5.1 5.8 5.2 6.7 5.2 7.9 5.2 9.6 5.2 12.4 5.2 17.2 5.2 28.7 5.2 87.1 5.1-81.4 5.2-31.8 5.2-18.4 5.2-13 5.2-10 5.2-8.2 5.2-7 5.1-6 10.4-9.9 5.2-4.3 10.4-7.3 15.5-8.6 31.2-13.3 20.7-7.3 15.6-3.7 25.9-4.7 15.6-2 20.7-1.8 31.1-1.6 10.4-1.6 20.8-4.9M111.6 472.8l15.6 4.1 25.9 8.6 10.4 2.2 5.2 .4 10.4-.3 20.7-5.5 5.2-.8 10.4-.2 15.5 2 36.3 6.7 15.6 3.9 15.6 5.6 15.5 7.7 5.2 3.1 10.4 7.3 10.4 8.9 5.2 5.2 10.3 12.8 5.2 8.1 5.2 9.9 5.2 13 5.2 18.3 5.2 32 5.2 65.3 5.1-74.1 5.2-28 5.2-17 5.2-12.3 5.2-9.6 5.2-7.9 10.3-12.7 5.2-5.2 10.4-8.9 10.4-7.4 15.5-8.5 10.4-4.3 15.6-4.2 15.5-2.5 15.6-1.8 67.4-4.2 26-4.8 31.1-2.3 10.4-1.3"/><path stroke="#D8891A" d="M111.6 480.3l15.6-.7 36.3-5.6 20.8-1.8 10.3 .1 20.8 1.5 10.4 .2 31.1-1.5 10.3 .7 26 3.2 10.4 .5 10.3-1 26-3.9 31.1-2.2 25.9-4.2 15.6-1.3 10.4 .3 25.9 2.6 10.4 .6 67.4 1.2 31.1 3.9 10.4 .7 15.6-1.2 31.1-6.5 10.4-.9 5.1 .1 10.4 1.4 20.8 5.2"/><path stroke="#1A82D4" d="M111.6 478.5l10.4 .3 5.2-.4 25.9-5.4 10.4-.7 20.8 2 31.1 4.8 31.1 2 10.4 1.1 15.5 3.3 10.4 3.4 10.4 4.1 10.4 4.7 10.3 5.3 15.6 10.2 10.4 8.6 5.2 5.2 5.1 5.9 5.2 6.9 5.2 8.2 5.2 10.2 5.2 13.3 5.2 19.3 5.2 34.9 5.2 54.8 5.1-72.6 5.2-26.6 5.2-16.6 5.2-12.2 5.2-9.5 5.2-7.8 5.2-6.6 5.1-5.7 10.4-9.2 15.6-10.7 15.5-7.9 15.6-6.1 15.6-4 15.5-1.7 36.3-1.5 10.4-1 10.4-1.9 25.9-7.7 5.2-1.1 5.2-.4 5.2 .2 15.5 2.9 10.4 .9 10.4-1.3 10.4-2.4"/><path stroke="#D8891A" d="M111.6 474.7l10.4 2.2 5.2 .7 5.2 0 15.5-1.8 5.2-.1 20.8 2.2 36.3-2.8 15.6-1.8 5.1 .1 5.2 1 5.2 1.8 15.6 6.6 5.2 1.5 5.1 .8 5.2 .1 26-2.4 20.7-2.6 5.2 .2 20.8 3.5 5.1 .2 5.2-.4 20.8-5.5 5.2-.8 20.7-.9 10.4-2.2 15.5-4.4 10.4-1.3 10.4 .7 15.6 3 5.1 .6 20.8 .8 5.2 1.1 5.2 1.7 15.5 6.4 5.2 1.2 5.2 .1 5.2-1 15.5-5.3 5.2-.9 5.2 0 5.2 .8 15.6 3.9 5.2 .8 36.3 1.7 10.3-.9 31.2-6.3"/><path stroke="#1A82D4" d="M111.6 468.4l15.6 3.9 10.4 1.6 15.5 .5 41.5-1.3 15.6 1.6 15.6 3.2 41.4 9.9 10.4 3.1 10.4 3.8 10.4 4.6 10.3 5.3 10.4 6.2 10.4 7.5 10.4 9 5.2 5.3 10.3 12.9 5.2 8.3 5.2 10.1 5.2 13.2 5.2 19 5.2 34.1 5.2 61.8 5.1-76.8 5.2-27.1 5.2-16.8 5.2-12.1 5.2-9.6 5.2-7.8 10.3-12.5 5.2-5.1 10.4-8.7 10.4-7.2 5.2-3 15.5-7.5 15.6-5.3 15.6-3.4 10.3-1.4 15.6-.7 46.7 1.3 15.5 1.5 36.3-5.8 31.2-3.2"/><path stroke="#D8891A" d="M111.6 464.1l20.8-1.8 10.4 .2 10.3 1.9 20.8 6.5 10.4 2.7 10.3 1.7 15.6 .7 41.5-2.2 31.1-.4 20.8 .5 20.7-.8 25.9-.4 15.6-1.9 20.8-4.8 10.3-1.6 46.7-2.5 46.7 .1 15.6 .8 15.5 2.4 31.1 8.2 10.4 1.4 5.2 .2 10.4-.9 25.9-4.1 10.4-.7 31.1-1 15.6-1.8"/><path stroke="#1A82D4" d="M111.6 453.2l15.6-.2 10.4 1 10.3 2.3 15.6 4.8 10.4 2.6 5.2 .8 25.9 2 31.1 3.3 10.4 1.5 10.4 2.2 10.3 3 10.4 3.8 26 11.3 15.5 8.5 10.4 6.9 5.2 4 10.4 9.5 10.3 12.4 5.2 7.7 5.2 9.5 5.2 12 5.2 16.4 5.2 26.5 5.2 70 5.1-53.7 5.2-34.9 5.2-19.2 5.2-13.4 5.2-10.2 5.2-8.3 5.2-7 5.1-6.1 10.4-10 5.2-4.2 10.4-7.2 15.5-8.4 10.4-4.3 26-9.8 25.9-11.6 10.4-4 10.3-2.1 5.2-.1 10.4 1.8 15.6 4.5 5.1 .8 5.2 0 5.2-1.3 5.2-2 20.8-10.7 10.3-3.4 10.4-1.1 15.6 1.7"/><path stroke="#D8891A" d="M111.6 477.3l51.9-.2 36.3-2.4 15.6 1.1 25.9 3.6 20.8 1 10.3-.7 26-4 20.7-1 20.8 2.2 41.5 7.7 15.5 .7 15.6-1.5 31.1-6.4 20.8-5.9 31.1-10.5 10.4-2.2 5.1-.3 5.2 .2 5.2 .9 5.2 1.5 10.4 4.5 20.7 10.1 10.4 3.6 10.4 2.3 10.3 1.2 26 1.2 15.5-1 10.4-2.5 5.2-1.9 15.6-7.8"/><path stroke="#1A82D4" d="M111.6 447.4l10.4-1.9 10.4 0 10.4 2.2 20.7 6.1 15.6 2 10.3 2.3 10.4 3.2 31.1 12.5 41.5 15 15.6 6.5 20.7 10.7 10.4 6.4 10.4 7.3 10.4 8.8 5.2 5.1 10.3 12.2 5.2 7.6 5.2 9.1 5.2 11.4 5.2 15.6 5.2 24.2 5.2 54.7 5.1-27 5.2-38.4 5.2-20.4 5.2-13.9 5.2-10.5 5.2-8.5 5.2-7.1 10.3-11.4 5.2-4.8 10.4-8.2 10.4-6.9 10.3-6 20.8-9.7 25.9-9.5 36.3-11.4 15.6-3.6 15.6-2.2 10.3-.8 31.2-.8 10.3-.7 10.4-1.6 15.6-3.8M111.6 444.9l10.4 .5 20.8 4.3 10.3 1.7 26 1 5.2 1.4 10.3 3.8 20.8 9.8 10.4 4.2 10.3 3.3 41.5 10.8 10.4 3.5 10.4 4.2 10.3 5.2 10.4 6.2 10.4 7.2 10.4 8.8 10.3 11.1 5.2 6.8 5.2 8 5.2 9.7 5.2 12.4 5.2 17.3 5.2 28.6 5.2 94.9 5.1-88.2 5.2-32.2 5.2-18.5 5.2-12.9 5.2-10.1 5.2-8.2 5.2-6.9 10.3-11.2 5.2-4.7 10.4-8 10.4-6.7 10.3-5.7 20.8-9.3 15.6-5.9 10.3-3.3 10.4-2.6 10.4-1.7 31.1-1.9 10.4-1.2 15.5-2.7 5.2 21.3 5.2-23.9 25.9-8.6 10.4-3 10.4-1.2 10.4 .3"/><path stroke="#D8891A" d="M111.6 465.3l10.4-.6 10.4 .2 31.1 4 15.6 2.9 10.3 3.6 5.2 2.7 15.6 10.4 5.2 2.7 5.2 1.7 5.2 .4 15.5-1.7 20.8 .2 5.1-.6 5.2-1.4 5.2-2.1 26-12 10.3-4.1 5.2-1.1 15.6 0 5.2-.4 5.2-1.3 15.5-6.4 5.2-1.6 5.2-.7 10.4 .8 20.7 3.9 20.8 2.5 10.3 2.8 15.6 5.9 5.2 1.4 10.4 1.2 10.3-.3 10.4-1.7 10.4-3.6 15.5-7.2 5.2-1.4 5.2 0 5.2 1.3 15.6 8 5.1 2 5.2 .9 5.2-.2 5.2-1.1 10.4-3.4 10.4-2.8 20.7-3.4 5.2 0 5.2 .5 15.5 3.2 5.2 .3 15.6-.6 5.2 .6 5.2 1.2M111.6 464.4l10.4 1.2 31.1 6.3 10.4 1.2 15.6 .8 10.3-.2 10.4-1 36.3-7.5 10.4-.9 5.2 .2 10.4 1.7 20.7 6.3 10.4 2.5 10.4 1.4 5.1 0 20.8-1.3 15.6-2.3 10.3-2.5 26-7.8 15.5-2.9 31.1-.7 31.2-2 25.9 .2 36.3-3.3 15.6 .2 15.5 1.4 15.6 2.4 31.1 5.9 15.6 1.7 15.5-.3 31.2-3.2M111.6 446.6l26 2.5 15.5 .8 15.6-.4 36.3-2.1 10.4 .3 10.4 1.5 15.5 4.1 10.4 1.6 10.4-.6 15.5-3.3 5.2-.4 5.2 .7 5.2 1.7 15.5 8.5 5.2 2.1 5.2 1.3 5.2 .2 5.2-.8 5.2-1.9 20.7-10 10.4-3.8 31.1-7.8 15.6-2.1 15.5 .1 26 3.1 25.9 2 15.6 2.3 10.4 1 10.3-.3 20.8-2.7 10.3-.5 26 1.5 10.4-.1 10.3-1.2 20.8-4.6 10.4-1.2 5.1 0 10.4 1.2 20.8 5"/><path stroke="#1A82D4" d="M111.6 468.7l15.6 1.5 36.3 1.9 46.7 3.6 20.7 2.6 15.6 3.2 10.4 2.9 15.5 5.3 26 10.9 10.3 5.3 10.4 6.1 15.6 11.7 10.4 10 10.3 12.9 5.2 8.2 5.2 10 5.2 13.2 5.2 18.9 5.2 34.1 5.2 66.7 5.1-81.4 5.2-27.3 5.2-16.7 5.2-12.1 5.2-9.4 5.2-7.9 5.2-6.6 5.1-5.8 10.4-9.7 10.4-7.9 10.4-6.5 10.3-5.4 15.6-6.3 10.4-3.2 15.5-3.6 15.6-2.4 10.4-.6 20.7 1 5.2 33.3 5.2-32.5 10.4 .4 15.5-.3 26-6.6 41.5-9.4M111.6 478l31.2-7.8 5.1-.7 5.2 0 5.2 .6 5.2 1.3 15.6 6.3 10.3 2.8 10.4 1 15.6 .3 10.4 1.3 25.9 6.6 25.9 4.8 15.6 4.6 10.4 4.5 10.3 5.5 10.4 6.7 10.4 8 10.4 9.7 5.1 5.7 5.2 6.5 5.2 7.7 5.2 9.5 5.2 12.3 5.2 17.4 5.2 29.1 5.2 84.1 5.1-81.4 5.2-30.8 5.2-18 5.2-12.8 5.2-9.9 5.2-8 5.2-6.9 5.1-5.8 10.4-9.8 10.4-7.7 15.6-9 10.3-4.7 10.4-3.9 15.6-4.5 15.5-2.1 20.8-.1 10.3-.9 10.4-2.5 20.8-8.3 10.3-3.6 15.6-3 36.3-1.7 20.8 .3M111.6 452.8l5.2 .1 10.4 1.6 31.1 9.5 15.6 3.9 5.2 1 31.1 4 15.6 2.6 20.7 4 20.7 5.2 20.8 6.8 15.6 6.6 15.5 8.4 15.6 11.2 10.4 9.5 10.3 12.1 5.2 7.6 5.2 9.3 5.2 11.6 5.2 15.9 5.2 25.2 5.2 59.8 10.3-74.7 5.2-19.9 5.2-13.7 5.2-10.4 5.2-8.5 5.2-7 5.1-6.1 5.2-5.3 10.4-9 15.6-10.6 15.5-8.2 15.6-6.3 15.6-4.6 15.5-3.2 41.5-6.7 46.7-8.4 10.4-1.3 41.5-3.8"/><path stroke="#D8891A" d="M111.6 467.1l51.9-.8 25.9-2.9 5.2-.1 10.4 1.5 15.6 3.8 10.3 1 20.8-.4 31.1 2 15.6-.6 20.7-2 20.8 .5 5.2-.5 10.3-2 20.8-6.4 15.5-3.9 41.5-5 15.6-1 15.6 1.2 25.9 4.9 25.9 2.3 20.8 3 10.3-.5 20.8-5.6 10.4-1.5 10.3 .7 26 6.2 10.4 1.7 15.5 .6 20.8-.4"/><path stroke="#1A82D4" d="M111.6 470.1l10.4 .5 10.4 1.2 25.9 4.4 15.6 1.9 5.2 .5 20.7-.8 15.6 .5 20.7 2 15.6 2.7 25.9 6.2 10.4 3 10.4 3.7 10.3 4.5 10.4 5.6 15.6 11.2 10.4 9.6 5.1 5.9 5.2 6.7 5.2 8.1 5.2 9.9 5.2 12.9 5.2 18.1 5.2 31.6 5.2 88.4 5.1-94.6 5.2-29 5.2-17.4 5.2-12.4 5.2-9.7 5.2-7.9 5.2-6.6 5.1-5.8 10.4-9.5 15.6-11.2 15.5-8.2 10.4-4.4 10.4-3.6 10.4-3.1 10.3-2.3 10.4-1.3 15.6 .1 36.3 4.8 10.4 .8 10.3 .1 15.6-3.5 25.9-3.4 26-4.6"/><path stroke="#D8891A" d="M111.6 458.1l41.5 2.6 36.3 3.6 15.6 .8 15.6-.5 25.9-2.4 10.4-.1 10.3 1.1 26 4.2 10.4 .4 10.3-1.7 10.4-3 46.7-15.9 10.4-2.6 10.3-1.2 10.4 .3 31.1 4.5 15.6 1.4 10.4 .3 36.3-.5 46.7 4.1 41.5-.4 31.1 2.7 10.4 .4 15.5-.3 20.8-1.3M111.6 456.7l10.4 .5 5.2 .7 15.6 3.4 10.3 1.7 10.4 .4 15.6-1.8 20.7-4.7 10.4-1.5 10.4 .2 25.9 5.4 5.2 .5 10.4-.7 15.5-3.7 5.2-.8 5.2 0 5.2 .6 15.5 4 26 5.7 10.4 .9 5.1-.5 5.2-1.3 15.6-6.8 10.4-3.5 5.2-.7 5.1-.1 20.8 3 20.7 1.8 20.8 3.8 10.4 .6 5.1-.5 10.4-3 10.4-5.2 20.7-12.8 5.2-2.4 5.2-1.6 5.2-.6 5.2 .1 5.2 .7 15.5 4 10.4 2.1 10.4 .6 15.5-.4 5.2 .4 5.2 1 5.2 1.7 5.2 2.5 15.6 9.2 5.1 2.6 5.2 1.9 5.2 1.2 5.2 .6 5.2 .1 10.4-1.2M111.6 457l26 5.4 15.5 1.9 10.4 0 36.3-3.1 20.8-.2 15.5 1 36.3 4.3 26 1.1 10.3-.7 36.4-7.4 15.5-1.8 10.4-.4 41.5 .8 10.4-.4 31.1-2.2 36.3-.1 62.2-4.9 10.4-.4 36.3 .4 15.6 .7 15.5 2.1 20.8 4.2 10.4 1.6M111.6 470l15.6-.1 31.1-1.9 15.6-1.4 31.1-4.1 15.6-.5 20.7 1.6 46.7 7.2 15.6 1.3 15.5-1.7 57.1-9.8 15.5-1.8 10.4-.2 10.4 .7 20.7 2.8 10.4 .9 10.4-.6 10.4-2.2 25.9-7.5 10.4-1.6 5.2-.3 5.1 .1 10.4 1.5 25.9 7.6 10.4 2.4 10.4 1.6 31.1 3.5 10.4 .6 15.6-.1 36.3-2.8"/><path stroke="#1A82D4" d="M111.6 468.4l10.4 .8 10.4 2 25.9 7.4 20.8 4.5 25.9 .5 31.1-.8 10.4 .6 15.6 2.6 15.5 4.1 15.6 5.6 15.5 7.1 15.6 9.1 15.6 12 10.3 10.4 5.2 6.3 5.2 7.4 5.2 9 5.2 11.4 5.2 15.4 5.2 23.9 5.2 54.4 5.1-21.8 5.2-40.8 5.2-20.8 5.2-14 5.2-10.7 5.2-8.5 5.2-7.2 10.3-11.4 5.2-4.8 10.4-8.1 5.2-3.5 10.4-5.7 15.5-6.7 20.8-6.9 20.7-5.1 15.6-2.3 10.3-.8 46.7 1 20.8-4.7 10.4-1.7 36.3-4"/><path stroke="#D8891A" d="M111.6 478l10.4-1.3 20.8-4.7 10.3-1 10.4 .7 25.9 5.7 15.6 1.9 31.1-.3 26 2.2 10.3 .4 46.7-2.8 26-.9 10.3 .8 15.6 2.1 10.4 .3 5.2-.8 5.1-1.7 5.2-2.4 15.6-9.8 5.2-2.9 5.2-2.2 5.1-1.2 5.2-.3 5.2 .6 15.6 4.4 10.4 2.2 10.3 .6 15.6-.5 10.4 .5 10.3 1.7 15.6 3.3 10.4 1 5.2-.2 10.3-2 20.8-7.5 10.4-2.3 5.1-.2 5.2 .7 10.4 3.5 15.6 6.8 5.2 1.5 5.1 .8 5.2 0 5.2-.6 20.8-5.7M111.6 452.8l10.4-.1 10.4 .9 10.4 2.2 15.5 4.5 5.2 1.1 10.4 .9 36.3 .4 10.4-1.2 20.7-3.7 10.4 .2 5.2 1.1 25.9 8 10.4 2.1 10.4 .8 10.3-1.6 20.8-6.3 10.4-2 10.3-.4 26 1 15.5-.5 10.4-1.4 20.7-4.7 10.4-1.2 10.4 .4 25.9 3.3 31.2 1.5 10.3-.3 5.2-.7 10.4-2.4 25.9-8.9 10.4-2 5.2 0 5.2 .6 5.2 1.3 20.7 8 10.4 2.6 10.4 .4 15.5-1.2 20.8 .1"/><path stroke="#1A82D4" d="M111.6 449.7l15.6 .7 31.1 3.4 15.6 2.6 36.3 9.4 51.9 12.3 10.3 2.8 15.6 5.7 10.4 4.8 10.3 5.6 15.6 9.7 10.4 7.9 5.2 4.6 10.3 10.9 5.2 6.7 5.2 7.9 5.2 9.6 5.2 12.3 5.2 17.2 5.2 28.5 5.2 81.8 5.1-76 5.2-31.8 5.2-18.4 5.2-12.9 5.2-10.1 5.2-8.2 10.3-12.9 10.4-10 5.2-4.2 10.4-7.3 15.5-8.8 20.8-9.1 15.6-5 15.5-3.8 15.6-3 31.1-3.6 10.4-1.7 25.9-6.1 31.1-5.7 15.6-1.9 10.4 .3M111.6 464.9l10.4-.1 5.2 .6 51.9 9.5 10.3-.4 15.6-1.4 10.4-.2 15.5 1.2 15.6 2.3 36.3 9.4 15.6 5.3 15.5 7.5 15.6 10.1 10.4 8.6 5.2 5.1 10.3 12.2 5.2 7.6 5.2 9.3 5.2 11.7 5.2 16.1 5.2 25.6 5.2 63.2 5.1-43.4 5.2-35.9 5.2-19.6 5.2-13.6 5.2-10.3 5.2-8.4 5.2-7.1 10.3-11.3 5.2-4.6 10.4-7.9 10.4-6.4 10.3-5.3 15.6-6.9 10.4-3.9 10.4-3 25.9-4.9 20.7-5.5 5.2-.8 5.2-.4 10.4 1.2 20.7 6.2 5.2 .5 10.4-.5 15.6-2.6 10.3-.9 10.4 .2 15.6 1.1M111.6 470.2l10.4 1.3 10.4 2 31.1 9.3 10.4 2.1 5.2 .5 20.7-2.6 15.6-.2 10.4 1.2 41.4 7.2 15.6 4 15.6 5.9 15.5 7.5 10.4 6.4 15.6 12.1 10.3 10.3 5.2 6.2 5.2 7.3 5.2 8.8 5.2 11.2 5.2 15.2 5.2 23.7 5.2 53.4 5.1-21.8 5.2-40.4 5.2-20.9 5.2-14.1 5.2-10.7 5.2-8.6 5.2-7.2 5.1-6.2 10.4-10.2 5.2-4.4 10.4-7.5 10.4-6 15.5-6.5 15.6-4.4 36.3-8 15.5-1.3 26 1.2 10.4-.6 10.3-2.2 10.4-4.5 10.4-3.5 5.2-.9 5.2-.3 10.3 1.3 15.6 4.2 10.4 2.2M111.6 460.9l5.2-.3 5.2 .4 5.2 1 5.2 1.8 10.4 5.1 15.5 9.4 5.2 2.6 5.2 1.8 5.2 .9 5.2 0 15.5-4.3 10.4-1.9 5.2 0 10.4 1.9 25.9 10.4 36.3 11.8 20.8 8.1 15.5 8.2 15.6 11 10.4 9.7 5.1 5.9 5.2 6.9 5.2 8.2 5.2 10.1 5.2 13.3 5.2 19 5.2 34.5 5.2 59.7 5.1-75.5 5.2-26.9 5.2-16.5 5.2-12.1 5.2-9.4 5.2-7.8 5.2-6.5 5.1-5.7 10.4-9.5 15.6-11.2 15.5-8.6 15.6-6.6 15.6-4.5 31.1-7.3 15.5-2.8 10.4-.6 15.6-.1 25.9-4 5.2-.3 15.6 .9 10.3-.6 5.2-.9 10.4-2.8 5.2-1.9 10.4-5.1M111.6 466.3l15.6 2.7 5.2 .7 5.2 0 5.2-.8 15.5-4.1 5.2-.7 5.2 .1 5.2 .9 5.2 1.5 10.3 4 10.4 3 41.5 7.2 10.4 3.5 20.7 8.2 20.8 7.2 15.5 6.7 15.6 9.1 10.4 7.7 5.2 4.4 10.3 10.6 5.2 6.5 5.2 7.8 5.2 9.5 5.2 12.4 5.2 17.2 5.2 28.7 5.2 93.7 5.1-87.4 5.2-1.8 5.2-28.7 5.2-32.8 5.2-9.9 5.2-1.3 5.2-13.4 5.1 .4 5.2-22.3 5.2 31.5 5.2-29.2 15.6-10.6 5.2 32.1 5.1-37.5 15.6-6.2 15.6-4.4 15.5-3.2 41.5-5.1 31.1-5.5 15.6-1.1 20.8 .7 25.9-1.2 10.4 .2"/><path stroke="#D8891A" d="M111.6 468.4l10.4 5.3 5.2 1.7 5.2 .5 5.2-.7 5.2-1.8 15.5-7.9 10.4-3.8 10.4-2.1 10.3-.5 10.4 1.7 15.6 4.4 10.4 2.2 10.3 .6 15.6-.4 5.2 .3 5.2 .9 20.7 5.8 5.2 .5 5.2-.3 5.2-1.3 15.5-5.8 5.2-.7 5.2 .3 10.4 2.1 5.2 .4 5.2-.4 20.7-5.8 10.4-1.6 15.5-.4 26 2.6 10.3-1.1 15.6-2.9 5.2-.3 15.6 .8 10.3-.3 26-3.1 20.7-4.2 10.4-1.3 10.4 .3 10.3 1.6 15.6 3.3 20.7 5.4 5.2 .4 5.2-.5 15.6-5.1 5.2-1.2 5.2-.2 5.1 .9 15.6 4.8 5.2 .8 10.4-.1"/><path stroke="#1A82D4" d="M111.6 456.8l15.6-1.3 5.2 .1 10.4 1 25.9 5.2 25.9 3.4 10.4 1.8 31.1 6.6 15.6 4 25.9 9.1 15.6 6.4 10.4 4.9 10.3 5.6 10.4 6.6 10.4 7.9 5.2 4.5 10.3 10.9 5.2 6.6 5.2 7.8 5.2 9.5 5.2 12.3 5.2 17.2 5.2 28.8 5.2 96.3 5.1-91.2 5.2 3 5.2-52.9 5.2 6.2 5.2-6.3 5.2-30.8 10.3-12.8 5.2 27.5 5.2-37.5 5.2 23.8 5.2-29.1 5.2-6.5 5.2-3.2 5.2-12.8 10.3 23 5.2-24.2 5.2 1.2 15.6-5.7 20.7-6.2 31.1-8.3 15.6-3 10.4-.9 25.9 .3 31.1-1 26-2M111.6 454.6l10.4-.4 5.2 .2 10.4 1.6 25.9 6.3 31.1 5.5 26 5.8 25.9 5.1 10.4 2.6 20.7 7 26 11.3 15.5 8.5 15.6 11 10.4 9.4 10.3 12.2 5.2 7.6 5.2 9.3 5.2 11.7 5.2 16 5.2 25.4 5.2 63.3 5.1-42.4 5.2-36.5 5.2-19.8 5.2-13.7 5.2-10.4 5.2-8.5 5.2-7.1 5.1-6.1 5.2-5.3 10.4-9 15.6-10.3 15.5-7.7 20.8-7.3 25.9-6.9 41.5-7.9 15.6-2.5 67.4-6.6 15.6-.3M111.6 452.9l67.5 4.1 15.5 3.4 51.9 14 20.7 6.4 15.6 5.4 20.8 8.8 10.3 5.6 10.4 6.5 10.4 7.8 5.2 4.5 10.3 10.9 5.2 6.6 5.2 7.8 5.2 9.5 5.2 12.1 5.2 16.8 5.2 27.5 5.2 83 5.1-71.7 5.2-33.6 5.2-18.9 5.2-13.1 5.2-10.2 5.2-8.2 5.2-6.9 5.1-6 10.4-9.7 5.2-4.1 10.4-7.1 15.5-8.2 15.6-6.3 20.8-6.1 41.4-8 31.2-7.8 15.5-2.6 10.4-1 10.4-.4 46.7 1M111.6 487.2l31.2-1.6 36.3 1.2 15.5-2 10.4-.4 15.6 1.4 15.5 3.3 57.1 14.1 15.5 5.8 10.4 5.4 5.2 3.3 10.4 7.7 5.2 4.4 10.3 10.5 5.2 6.3 5.2 7.4 5.2 8.9 5.2 11.1 5.2 15.2 5.2 23.6 5.2 54.3 5.1-19.8 5.2-42.1 5.2-21.1 5.2-14.2 5.2-10.6 5.2-8.5 5.2-7 5.1-6 10.4-9.9 15.6-11.7 10.4-5.8 15.5-6.8 10.4-3.1 10.4-1.9 10.3-.6 26 .7 10.3-.5 10.4-2.2 15.6-4.8 10.4-1.8 10.3 .6 41.5-2.1 26 1.3M111.6 453.8l51.9-.2 10.4 .4 5.2 .4 15.5 4.1 31.2 10.3 31.1 8.5 20.7 7.8 20.8 9.7 15.5 8.4 15.6 10.2 10.4 8.6 10.3 10.9 5.2 6.7 5.2 7.9 5.2 9.6 5.2 12.4 5.2 17.2 5.2 28.6 5.2 87.1 5.1-113.4 5.2 37.7 5.2-87.7 5.2-12.9 5.2-9.8 5.2-8.1 5.2-6.7 10.3-10.7 5.2 29.1 5.2-37.3 10.4-6.5 10.4-5.2 10.3-4.2 10.4-3.6 20.8-5.7 15.5-3.1 51.9-4.9 10.4-.5 10.3 .4 26 3.5 10.3 .8 10.4-.5 5.2-.8 15.6-3.7"/><path stroke="#D8891A" d="M111.6 472.8l26-3.3 10.3-.6 10.4 .3 10.4 1.5 25.9 5.9 26 3.8 20.7 3.9 10.4 1.4 15.5 .6 36.4-1.3 10.3-1.1 36.3-7.7 41.5-7.9 31.2-3.4 20.7-3.7 10.4-1 5.2 .1 10.3 1.4 31.2 9 10.3 1.7 15.6 1.4 10.4 .4 15.5-.8 15.6-2 25.9-4.4 10.4-.8 10.4 .5 20.7 3.7 10.4 1.4 15.6 .7"/><path stroke="#1A82D4" d="M111.6 472.6l20.8 .6 20.7-.8 10.4 .3 10.4 2.2 15.5 5.3 10.4 2.8 10.4 1 20.7-.6 5.2 .3 10.4 1.5 36.3 9.5 15.6 4.7 15.5 6.9 5.2 2.9 10.4 6.9 10.4 8.5 5.2 5 10.3 12.3 5.2 7.8 5.2 9.3 5.2 12 5.2 16.6 5.2 26.9 5.2 69.3 5.1-57.1 5.2-33.4 5.2-18.9 5.2-13.2 5.2-10.1 5.2-8.2 5.2-6.9 5.1-5.9 10.4-9.7 10.4-7.8 5.2-3.4 10.4-5.7 15.5-6.5 15.6-4.9 10.4-2.5 15.5-2.8 51.9-6.5 31.1-7 31.1-2.9 26-6.6M111.6 450.1l15.6-5.9 10.4-1.8 10.3 .4 20.8 2.8 5.2 .2 25.9-1.1 10.4 .3 36.3 5.7 41.5 2.2 20.7 2.6 10.4 2.1 10.4 2.8 10.4 4.5 5.2 3.2 5.1 4.1 5.2 5.3 5.2 6.8 5.2 8.9 5.2 11.9 5.2 16.9 5.2 28.5 5.2 87.8 5.1-17.4 5.2-31.8 5.2-18.3 5.2-12.8 5.2-10 5.2-8.1 10.3-12.7 10.4-9.9 15.6-11.6 10.4-6.4 10.3-5.5 10.4-4.9 15.6-6.3 20.7-6.6 41.5-10.5 31.1-10.1 10.4-1.9 10.4-.7 10.4 .4 25.9 2.6 10.4 .4M111.6 442.9l36.3 4 10.4 .3 20.8-1 5.2 1.3 10.3 4.2 20.8 10.6 5.2 1.9 25.9 7.4 20.7 6.7 20.8 8 15.6 7.8 15.5 9.2 10.4 7 10.4 8.5 10.3 10.6 5.2 6.5 5.2 7.7 5.2 9.4 5.2 12.1 5.2 16.6 5.2 27.3 5.2 76.7 5.1-65.1 5.2-33.5 5.2-18.9 5.2-13.2 5.2-10.1 5.2-8.3 5.2-7 5.1-6 10.4-9.9 5.2-4.1 10.4-7.1 15.5-8.7 36.4-15.5 15.5-5.6 10.4-2 20.7-1 10.4-1.6 10.4-3.7 20.7-10.9 5.2-1.9 10.4-2.4 20.7-3.7 10.4-.3 5.2 .7 5.2 1.4 10.4 3.8"/><path stroke="#D8891A" d="M111.6 459.7l10.4 1.7 10.4 .9 10.4-.9 20.7-3.3 15.6-.2 10.3 1.5 5.2 1.4 20.8 8.7 5.2 1.5 5.2 .7 5.1 0 26-3.6 10.3-.6 10.4 .6 15.6 2.1 5.2 0 5.2-.7 5.1-1.6 15.6-5.8 10.4-1.8 10.4 0 31.1 3.9 15.5 .2 10.4-1.4 20.8-4.3 31.1-4.7 15.5-1.9 10.4-.7 15.6 .6 20.7 3.1 10.4 1 51.9 .5 25.9 1.7 10.4-.3 15.5-2.8 5.2-.6 5.2 0 5.2 .8 15.6 4.2M111.6 495.1l5.2 .3 5.2-.4 5.2-1.2 10.4-4.3 20.7-11.2 5.2-2 5.2-1.3 5.2-.5 5.2 .2 5.2 1 5.1 1.7 26 12.3 10.4 3.6 36.3 7.7 10.3 1.3 5.2-.2 5.2-.7 10.4-3.3 10.4-5.1 15.5-8.9 5.2-2.5 10.4-3.9 31.1-9.1 10.4-1.7 5.2-.2 10.3 .7 26 4.3 51.8 5 15.6 .1 31.1-3 15.6-.6 46.7 2.8 41.5 5 25.9 .6 15.6-1"/><path stroke="#1A82D4" d="M111.6 453.5l20.8 1.1 10.4 1.3 10.3 2.3 31.2 9 10.3 1.7 20.8 2.2 10.4 1.7 15.5 3.9 15.6 4.6 15.5 5.6 10.4 4.3 20.8 10.1 10.3 5.9 10.4 6.6 10.4 7.8 5.2 4.4 10.3 10.6 5.2 6.5 5.2 7.7 5.2 9.4 5.2 12 5.2 16.7 5.2 27.2 5.2 78.9 5.1-66.5 5.2-33.8 5.2-18.9 5.2-13.3 5.2-10.1 5.2-8.3 10.3-13 10.4-10.1 15.6-11.8 15.5-9.4 10.4-5.3 10.4-4.7 20.7-7.5 15.6-4.3 25.9-5.1 10.4-2.5 10.4-3.5 20.7-8.4 5.2-1.4 15.6-2.4 46.7-4.2"/><path stroke="#D8891A" d="M111.6 450.9l15.6 1 31.1-1.2 10.4 .4 10.4 1.4 31.1 5.3 10.4 .9 31.1 1.4 25.9 4.1 15.6 .9 10.4-.9 5.1-1.1 41.5-14.3 10.4-2.3 10.4-1.1 31.1 0 31.1-2.2 10.4 .3 25.9 3 10.4 .5 10.4-.1 25.9-1.4 10.4-.1 88.2 2.9 20.7-.6 26-1.6"/><path stroke="#1A82D4" d="M111.6 457.9l10.4 .1 20.8-1.5 20.7-.2 25.9-2.6 10.4-.5 15.6 .4 36.3 2.1 36.3 3 20.7 3.1 15.6 4.6 10.4 4.8 5.2 3.3 5.2 3.9 5.1 4.8 5.2 5.9 5.2 7.3 5.2 9.3 5.2 12.2 5.2 17.1 5.2 28.7 5.2 87.9 10.3-60.4 5.2-18.3 5.2-12.9 5.2-9.9 5.2-8.2 10.3-12.8 10.4-10 15.6-11.6 15.5-8.6 10.4-4.4 10.4-3.6 20.7-5.7 41.5-9 10.4-1.3 10.4-.4 10.4 .5 10.3 1.1 67.5-.6"/><path stroke="#D8891A" d="M111.6 465.8l20.8 1.7 31.1 .5 41.5 4.1 15.6 .5 15.5-.6 88.2-6.4 15.6-.5 15.5 .5 31.2 3.3 10.3-.2 5.2-.6 10.4-2.2 20.7-6.2 10.4-2.5 15.6-2.7 15.5-1.4 10.4-.1 10.4 .8 10.4 1.8 25.9 6.4 10.4 1.1 10.3-.3 15.6-1.8 10.4-.7 31.1 1.7 10.4-.1 41.5-3.3"/><path stroke="#1A82D4" d="M111.6 453l31.2 4.8 10.3 .6 26 .2 10.3 1.6 10.4 2.4 26 7.8 31.1 7.5 10.3 3.3 10.4 4 26 11.8 10.3 5.7 10.4 6.5 10.4 7.9 5.2 4.5 10.3 10.9 5.2 6.7 5.2 7.9 5.2 9.7 5.2 12.3 5.2 17.2 5.2 28.5 5.2 87.1 5.1-113.6 5.2-31.9 5.2-18.4 5.2-13 5.2-9.9 5.2-8.1 5.2-6.8 10.3-10.7 10.4-8.2 15.6-9.2 15.5-6.6 15.6-4.3 20.7-4 57.1-9.6 36.3-5.5 20.8-4.7 10.3-1.8 10.4-.2 5.2 .6 10.4 2.3M111.6 471.5l20.8 1.8 10.4-.5 10.3-2.4 15.6-5.2 10.4-2.6 5.2-.4 5.1 .3 5.2 1 5.2 1.6 20.8 9.2 5.2 1.8 10.3 2.3 20.8 2.7 5.2 1.2 10.3 3.4 20.8 8.8 15.5 7.4 10.4 6 10.4 7.4 10.4 9.1 5.2 5.4 10.3 13.3 5.2 8.5 5.2 10.5 5.2 13.6 5.2 19.8 5.2 37.2 5.2 43.3 5.1-67.6 5.2-25.7 5.2-16.2 5.2-11.9 5.2-9.3 5.2-7.6 10.3-12.2 5.2-5 10.4-8.5 15.6-10.1 10.3-5.2 10.4-4.2 15.6-4.9 25.9-6.1 20.8-6.4 5.1-1.1 5.2-.6 5.2 .1 20.8 3.1 10.3-.1 5.2-.9 15.6-6.2 10.4-3.5 10.3-1.7 5.2-.1 10.4 1.4 15.6 4.9"/><path stroke="#D8891A" d="M111.6 461.6l15.6-.3 10.4 .5 10.3 1.6 26 5.5 5.2 .4 10.3 .1 36.4-2.7 10.3-1.8 20.8-4.6 10.3-1.2 10.4-.1 5.2 .5 20.8 3.1 5.1 .2 26-1.3 10.4 .6 10.3 1.2 10.4 .1 10.4-2.1 15.5-5 5.2-1 10.4-.4 15.6 1.1 10.3-.1 31.2-3.8 41.5-1.9 10.3 .6 20.8 4.1 10.3 .8 10.4-1.3 20.8-4 10.3-.1 10.4 1.7 26 7.4 10.3 2 10.4 .1 15.6-2.5M111.6 474.1l20.8 0 20.7-2.8 15.6-.9 10.4 .6 15.5 2.5 10.4 .8 5.2-.4 15.6-2.6 10.3-.3 10.4 1.6 25.9 5.5 10.4 1 10.4 .3 15.5-1.1 31.2-7.1 10.3-.8 10.4 1.5 15.6 3.5 5.2 .4 5.2-.2 10.3-2.6 26-12 5.1-1.5 5.2-.7 5.2 .3 20.8 5.6 5.2 .3 5.1-.6 20.8-4.7 10.4-.5 10.3 1 20.8 4.6 5.2 .6 10.3-.2 15.6-1.8 5.2-.2 10.4 .8 20.7 3.1 10.4 .4 10.4-1 15.5-3.4 5.2-.6 5.2 .1 5.2 .9 10.4 2.7M111.6 477.9l20.8-6.5 5.2-.8 5.2-.1 10.3 1.6 15.6 4.5 10.4 1.7 5.2 .1 15.5-1.5 10.4-.1 25.9 2.4 26-.1 36.3 2.4 10.3-.1 26-4.2 20.7-2.3 31.2-7.1 25.9-2 25.9-6.4 10.4-1.1 5.2 0 10.4 1.3 25.9 5.7 25.9 2.7 10.4 2.8 15.6 6.3 5.1 1.6 5.2 1 5.2 .2 5.2-.5 20.8-5.4 10.3-1.2 10.4 1.2 15.6 4.3 10.3 1.6 10.4-.5 20.8-3.6"/><path stroke="#1A82D4" d="M111.6 466.3l10.4 4 10.4 2.4 10.4 .1 20.7-2.5 10.4-.1 15.5 1.3 26 4.3 25.9 3.1 10.4 1.7 25.9 6.2 10.4 3.1 10.4 3.7 15.5 7.1 15.6 9.5 10.4 8 5.2 4.7 10.3 11.3 5.2 7.1 5.2 8.4 5.2 10.4 5.2 13.7 5.2 20.1 10.3 71.3 5.2-60 5.2-24.9 5.2-15.7 5.2-11.5 5.2-9.2 5.2-7.6 5.1-6.5 10.4-10.8 5.2-4.7 10.4-8 10.4-6.8 10.3-5.7 10.4-4.6 5.2-1.7 10.4-2.4 25.9-2.9 10.4-2.3 15.5-4.4 5.2-.9 5.2-.5 5.2 .3 10.4 2 15.5 5.1 10.4 .8 5.2-.2 5.2-.6 10.4-2.6 20.7-7.5 5.2-1.3 10.4-1.7M111.6 462.9l10.4 .6 10.4 1.6 20.7 4.9 10.4 1.7 20.8-.6 5.1 .5 26 7 25.9 2.7 10.4 1.9 10.4 2.4 20.7 6.6 15.6 6.2 10.3 4.8 15.6 8.8 10.4 7.7 5.2 4.6 10.3 10.9 5.2 6.8 5.2 7.9 5.2 9.7 5.2 12.5 5.2 17.6 5.2 29.6 5.2 94.7 5.1-93 5.2-30.7 5.2-17.8 5.2-12.7 5.2-9.7 5.2-8 5.2-6.8 5.1-5.8 10.4-9.8 15.6-11.3 10.4-5.9 10.3-4.8 20.8-7.5 25.9-8 10.4-2.4 10.4-1.6 15.5-1.6 20.8-1.4 15.5-.2 41.5-4.4 10.4-.1 15.6 2.2"/><path stroke="#D8891A" d="M111.6 470.7l10.4-.3 20.8 .8 31.1-.5 25.9 1.1 20.8 .1 10.3 1.5 15.6 4.1 10.4 1.9 10.3 .4 26 .1 10.4-1.1 5.1-1.6 15.6-6.1 10.4-2.5 5.2-.4 5.2 .1 10.3 1.2 10.4 1.9 25.9 6.1 10.4 1.1 5.2-.1 10.4-1.6 25.9-7.2 15.6-2.2 36.3 .4 36.3 3.7 10.4-.4 20.7-3.5 10.4-.9 41.5-.6 10.4 .9 15.5 2.2 5.2 .2 5.2-.2 10.4-1.5"/><path stroke="#1A82D4" d="M111.6 463.8l15.6-.4 15.6 1.1 10.3 1.3 10.4 2.3 20.8 7.1 10.3 2.5 5.2 .7 10.4 .5 25.9-.5 5.2 .4 10.4 1.9 36.3 10.7 15.6 5.9 15.5 8.4 10.4 7.3 5.2 4.3 10.4 9.9 10.3 12.9 5.2 8.1 5.2 9.9 5.2 12.8 5.2 18.1 5.2 31.2 5.2 72.8 5.1-79.2 5.2-5.4 5.2-40.8 5.2-12.5 5.2-9.7 5.2-7.9 5.2 14 5.1-27.4 10.4-8.5 5.2 14.6 5.2-.5 5.2-25.2 5.2 11.7 5.2 8.8 5.1-28.6 5.2 32.3 5.2-36.4 10.4-3.2 10.4-2.5 20.7-3.7 15.6-1.5 10.3 .2 31.2 4.7 15.5 1 15.6-2.5 10.4-.2 20.7 .6 20.8-1.6"/><path stroke="#D8891A" d="M111.6 456.7l10.4-1 20.8-4.3 10.3-1 10.4 1.2 15.6 4.3 10.3 1.7 5.2-.2 20.8-3.7 5.2-.3 5.2 .5 5.1 1.2 20.8 7.2 5.2 1.2 5.2 .5 5.1-.4 5.2-1.2 26-11.4 10.3-3.1 5.2-.9 5.2-.3 10.4 .8 15.6 2.3 20.7 3.8 10.4 .7 5.2-.5 20.7-5.1 5.2-.7 10.4 .1 20.7 2.2 10.4-.2 10.4-1.9 15.5-4 10.4-1.4 10.4 .4 15.5 1.9 10.4 .3 20.8-.6 20.7 .3 20.8-2.3 10.3-.3 36.3 4.2 20.8 4.8 10.4 1.2M111.6 465.7l26-5.9 15.5-2.3 15.6-.8 36.3-.3 10.4 1.1 20.7 5.3 10.4 2.2 31.1 2.8 20.8 3.6 10.3 .8 10.4-1.3 31.1-7.2 20.8-2.1 10.4-1.8 36.3-12.4 10.3-1.6 5.2-.1 10.4 1.3 20.8 4.9 10.3 1.9 20.8 2.2 15.5 .1 31.2-2.8 15.5 .4 10.4 1.7 25.9 7.1 15.6 2.3 10.4 .5 10.3-.3 31.2-3.3M111.6 464.4l10.4-1 15.6 .9 20.7 3.5 31.1 7 15.6 2.2 10.4 .3 31.1-.6 31.1 1.9 26-1.2 25.9-3.2 41.5-8.8 15.6-1.4 10.3 .6 15.6 1.7 10.4 .3 10.3-.6 20.8-2.6 10.4-.5 10.3 1 15.6 2.7 10.4 .5 10.3-.8 31.2-5.1 10.3-.4 10.4 1.6 20.8 6.9 10.3 2.9 5.2 .9 10.4 .6 10.4-.8 25.9-4.9 10.4-1 5.2 0"/><path stroke="#1A82D4" d="M111.6 469.8l15.6 2.8 25.9 5.7 15.6 1.7 10.4-.4 20.7-5.3 10.4-1.6 10.4-.1 10.3 1.3 15.6 4.3 51.9 18.1 10.3 4.6 10.4 5.7 10.4 7.2 5.2 4.1 10.4 9.8 10.3 12.6 5.2 8.1 5.2 9.8 5.2 12.8 5.2 18 5.2 30.9 5.2 75.9 5.1-80.5 5.2-29 5.2-17.3 5.2-12.4 5.2-9.6 5.2-7.8 5.2-6.7 5.1-5.7 10.4-9.7 15.6-11.3 10.4-5.9 10.3-4.7 10.4-4 10.4-3.1 31.1-7.2 15.6-2.3 10.3-.4 31.2 2.3 10.3-.1 20.8-5.9 10.4-2.1 5.1-.4 10.4 0 20.8 1.5"/><path stroke="#D8891A" d="M111.6 461.6l5.2-1.6 5.2-.6 5.2 .4 5.2 1 15.5 4.3 26 6.1 15.5 5.5 5.2 1.5 5.2 .9 5.2-.1 5.2-.9 15.6-4.3 5.1-.5 5.2 .2 15.6 2.2 5.2 .2 5.2-.4 5.1-1.2 5.2-1.9 15.6-6.8 5.2-1.4 5.2-.6 31.1 1.6 36.3-2 25.9 1.8 31.2 1.1 10.3-1.1 15.6-3.1 10.4-.3 20.7 1.2 10.4-1.1 20.7-3.1 10.4 .3 25.9 3.9 10.4 .2 10.4-1.2 15.6-3.3 10.3-1.4 10.4 .5 41.5 5.5 5.2 .1 10.4-.7"/><path stroke="#1A82D4" d="M111.6 452.2l10.4 1.3 25.9 .2 10.4 1.2 10.4 3 25.9 11.5 10.4 3.1 10.4 1.7 31.1 2.7 15.6 3.5 10.3 3.6 10.4 4.6 20.8 10.8 20.7 12.9 10.4 7.8 5.2 4.5 10.3 10.8 5.2 6.6 5.2 7.9 5.2 9.6 5.2 12.3 5.2 17.2 5.2 28.5 5.2 76.7 5.1-71.7 5.2-31.5 5.2-18.3 5.2-12.9 5.2-9.9 5.2-8.1 5.2-6.8 5.1-5.8 10.4-9.6 15.6-11 10.4-5.9 10.3-5 15.6-6.6 10.4-3.7 20.7-5.9 15.6-3 31.1-4.5 10.4-.7 15.5 .5 15.6-.3 10.4-1 25.9-4.5 15.6-1.1"/><path stroke="#D8891A" d="M111.6 458l26-5 10.3-1.4 10.4-.5 10.4 .4 15.6 1.6 15.5 2.6 46.7 9.8 15.6 2.2 10.3 .6 31.2-1.9 20.7-2 57.1-2.4 57-6.5 31.1-2.8 15.6-.8 15.6 0 72.6 2.4 51.9 3 10.3-.1 26-1.3M111.6 458.9l10.4-1.3 5.2-.1 10.4 .8 20.7 4 20.8 2.5 25.9 5 10.4 .4 31.1-.5 10.4 .6 15.5 1.6 10.4-.3 15.6-1.9 15.5-1.2 26 .8 10.3-.4 10.4-2.4 15.6-5.6 5.2-1.4 10.3-1.3 10.4 .5 25.9 3.1 20.8 1.2 15.6-1 20.7-3.7 10.4-1 10.4 .9 15.5 4.3 10.4 1.9 10.4-.2 15.5-1.5 46.7-1.5 10.4 .5 20.7 2 26-.7M111.6 481.1l5.2 .3 10.4 1.6 25.9 5.7 26 1.9 10.3 1.4 10.4 2.4 26 7.7 10.3 2.1 5.2 .3 10.4-1 10.4-2.6 10.3-3.5 26-10.1 10.3-3.4 10.4-2.3 5.2-.4 25.9 .7 20.8-1.8 15.6-.4 20.7 .5 25.9-.2 26 1.6 10.3-1.1 20.8-5 10.4-.8 10.3 .9 15.6 2.5 10.4 .7 10.3-.5 26-3.8 10.4-.1 10.3 1.8 15.6 4.3 10.4 1.4 10.3-.4 20.8-2.6 10.4-.3M111.6 463.1l36.3 6.8 10.4 1.5 5.2 .3 10.4-.3 20.7-2.6 10.4-.4 15.6 1.8 25.9 5.3 15.6 1.5 10.3-.4 20.8-3.1 41.5-4.3 36.3-5.4 20.7-1.8 10.4 0 15.6 1.4 10.3 1.8 20.8 4.6 10.4 1.3 5.2 .1 10.3-.8 41.5-6.2 20.8-2.1 15.5-.9 15.6 .5 25.9 2.2 26 .6 25.9 3 10.4 .3 5.2-.3M111.6 486.8l15.6 8.9 5.2 2 5.2 1.1 5.2 .4 5.1-.4 5.2-1.1 10.4-3.6 20.8-8.4 10.3-2.7 5.2-.5 5.2 .1 5.2 1 5.2 1.7 20.7 10.5 5.2 2 5.2 1.1 5.2 0 5.2-.9 20.7-7.2 5.2-.6 15.6 .3 5.2-.6 5.1-1.5 10.4-3.8 5.2-1.5 5.2-.7 5.2-.1 5.2 .5 15.5 2.9 5.2 .4 5.2-.4 20.8-4.8 5.1 0 5.2 1 15.6 6.3 5.2 1.2 5.2 .1 5.1-1 15.6-5.7 5.2-1.4 15.6-3 5.1-1.4 26-10.9 10.4-2.5 5.1-.3 5.2 .2 10.4 2.3 20.7 7.5 10.4 2.6 10.4 1 15.6 .5 15.5 2.3 10.4 3.3 20.7 10.2 5.2 1.4 5.2 0 5.2-1.5 5.2-2.8 10.4-7.9M111.6 480.2l15.6 8.4 5.2 1.7 5.2 .7 5.2-.2 5.1-.8 15.6-3.8 10.4-.8 10.4 1.3 25.9 6.9 15.6 2.9 15.5 .9 36.3-1.6 10.4 .3 5.2 .6 25.9 5.2 10.4 1 5.2-.3 5.2-1 5.2-1.7 10.3-4.8 15.6-8.5 15.6-6.5 31.1-10.5 10.3-2.5 5.2-.5 5.2 .1 5.2 .8 25.9 7.4 10.4 2.4 15.6 1.9 62.2 1.4 62.3-2.5 10.3 .6 5.2 1.1 5.2 1.8 5.2 2.5 15.6 9.5"/><path stroke="#1A82D4" d="M111.6 485.3l15.6-.4 20.7 .5 5.2-.4 10.4-1.7 20.8-4.7 10.3-.6 10.4 1 20.8 3.8 25.9 3.9 15.5 3.8 20.8 6.9 15.6 6.2 10.3 5.2 10.4 6.4 10.4 8 5.2 4.6 10.3 11.3 5.2 6.9 5.2 8.4 5.2 10.2 5.2 13.3 5.2 19.1 5.2 34.1 5.2 48.4 5.1-65.1 5.2-26.5 5.2-16.6 5.2-12.1 5.2-9.6 5.2-7.9 10.3-12.6 5.2-5.2 10.4-8.7 10.4-7.1 5.2-3 5.2-2.6 10.3-4.2 15.6-3.9 25.9-4.7 26-2.7 36.3-1.6 15.5-.1 15.6-1.6 25.9-1.1 26-2.6M111.6 461.4l20.8 .9 20.7-.8 10.4 .5 5.2 1.1 20.7 7.4 5.2 1.2 10.4 .7 20.8-1.2 5.1 .4 10.4 2.3 10.4 3.8 31.1 12.9 15.6 7.1 10.3 5.6 10.4 6.3 15.6 11.4 10.4 9.5 5.1 5.7 5.2 6.6 5.2 7.9 5.2 9.7 5.2 12.5 5.2 17.5 5.2 29.7 5.2 77.9 5.1-77.9 5.2-30.2 5.2-17.8 5.2-12.7 5.2-9.9 5.2-8.1 5.2-6.7 5.1-5.9 10.4-9.6 15.6-11.1 10.4-5.9 10.3-5 15.6-6 36.3-11.1 10.4-2.2 20.7-3 10.4-2.5 20.7-6 10.4-1.8 10.4-.6 15.6-.1 20.7-1.5 5.2-.1 10.4 1"/><path stroke="#D8891A" d="M111.6 461.7l10.4 .3 20.8-2.3 10.3 0 31.2 5.1 15.5 1.7 10.4 .4 10.4-1.3 15.5-3.8 5.2-.7 5.2 0 5.2 .7 5.2 1.4 15.5 5.8 10.4 2.5 10.4 .9 20.7 .6 20.8 2.5 10.4 .4 15.5-.9 15.6-2.6 10.4-2.9 31.1-11 10.3-3.3 10.4-2.4 15.6-1.5 10.4 .5 5.1 .9 15.6 4.4 10.4 2 10.4-.2 20.7-4 5.2-.4 5.2 .3 5.2 1.1 5.1 1.7 15.6 6 5.2 1.5 10.4 1.7 10.3-.4 15.6-2.9 15.6-1.3 15.5 .2 15.6 1.6 10.4-.1M111.6 460l10.4-.8 15.6-2.6 10.3-.4 10.4 1.7 31.1 11.7 10.4 2.5 10.4 .3 20.7-2.2 10.4 .2 15.6 1.6 25.9 4.7 10.4 .4 10.4-1.4 5.1-1.6 26-12.4 5.2-1.9 5.2-1 5.1-.1 5.2 .8 15.6 4.3 5.2 1 5.2 .3 10.3-1.3 20.8-6.1 10.4-2.5 10.3-1.6 10.4-.8 10.4 .3 15.5 2.6 10.4 .7 5.2-.6 15.6-3.1 5.2-.3 5.1 .3 51.9 9.7 10.4 .3 15.5-1.4 5.2 0 5.2 .8 5.2 1.5 15.6 5.7 5.2 1.1 5.1-.1 5.2-1.1 5.2-2.1 15.6-8.2 5.2-1.9M111.6 458.8l10.4 1.5 25.9 5.6 26 3.2 20.7 3.2 10.4 .6 10.4-.7 25.9-4.3 10.4-.5 10.4 .9 36.3 5 5.2 .4 10.3-.2 10.4-1.1 10.4-1.8 31.1-9.7 10.4-2.1 10.4-.6 20.7 .2 31.1-2.2 36.3 1.6 62.3-2 10.3 1.6 26 8.7 10.4 1.2 10.3-1 26-7.2 10.3-1.3 10.4 1.1 20.8 6"/><path stroke="#1A82D4" d="M111.6 458.6l15.6 2.5 10.4 .7 5.2-.3 15.5-2.2 5.2-.2 5.2 .3 10.4 2.6 10.3 4.3 10.4 3.5 10.4 2 25.9 2.9 15.6 3.5 10.4 3.4 20.7 8 15.6 6.5 10.3 5 15.6 9.2 10.4 7.8 5.2 4.5 10.3 10.9 5.2 6.6 5.2 7.8 5.2 9.5 5.2 12.2 5.2 17.1 5.2 28.5 5.2 87 5.1-129.7 5.2-31.7 5.2-18.2 5.2-12.7 5.2-9.7 5.2 72.3 5.2-86.2 5.1-5.2 5.2-4.3 10.4-6.9 5.2-2.7 10.4-4.4 5.2 64.3 5.1-67.6 20.8-4.6 15.6-2.3 10.3-.9 10.4-.2 31.1 .6 31.1-2 26 1 31.1-2 15.6 1.2"/><path stroke="#D8891A" d="M111.6 465.9l41.5 6 15.6 1.7 15.6 .4 20.7-.3 15.6 .8 15.5 2.6 31.1 7 5.2 .7 10.4 .5 10.4-.4 10.4-1.1 10.3-2.3 31.2-8.2 15.5-3.3 51.9-8.6 10.4-1.2 15.5 .2 20.8 2.2 15.5 .8 10.4-.3 25.9-2.1 15.6-.3 15.6 1 31.1 3.6 10.4 .6 10.3-.2 31.2-2 25.9 1.2 10.4-.1M111.6 453.3l15.6 3.4 15.6 1.5 15.5-.2 15.6-.9 31.1-3.9 10.4-.5 10.4 .3 41.4 3.5 36.4 2.4 10.3-.1 31.2-2.5 25.9-.9 15.6-1.4 20.7-3.2 31.1-7.3 10.4-1.3 5.2 0 10.4 1.4 25.9 6.8 10.4 1.5 10.3 .1 26-2.3 10.3-.4 41.5 2.5 10.4 0 26-1.1 36.3 1.5M111.6 454.3l31.2 4.6 10.3 2.4 20.8 6 10.4 1.6 5.1 .1 10.4-1.3 15.6-3.9 10.4-2 5.1-.3 5.2 .4 10.4 2.4 20.7 7.8 5.2 1.2 10.4 .7 5.2-.6 10.4-2.6 5.2-1.9 20.7-9.7 10.4-2.9 5.2-.7 5.2-.3 15.5 .6 10.4-.5 25.9-4.4 15.6-1.1 20.7 1.2 41.5 4.7 10.4 .4 5.2-.4 5.2-.7 10.4-3 20.7-8.9 5.2-1.7 5.2-1.2 5.2-.5 5.1 .1 10.4 1.8 46.7 11.6 10.4 4.1 20.7 11.1 10.4 4.9 10.4 3 5.2 .7"/><path stroke="#1A82D4" d="M111.6 447.9l31.2 4.9 36.3 3.6 15.5 2.9 20.8 2.5 10.4 1.9 10.3 2.8 15.6 5.8 46.7 19.9 10.3 5.5 10.4 6.2 15.6 11.2 10.4 9.6 5.1 5.9 5.2 6.7 5.2 8 5.2 9.7 5.2 12.4 5.2 17 5.2 27.8 5.2 76 5.1-66.6 5.2-32.6 5.2-18.6 5.2-13.1 5.2-10.1 5.2-8.3 10.3-13.1 10.4-10.2 10.4-8 15.6-9.6 31.1-15 10.4-4.1 5.1-1.5 10.4-1.9 25.9-3.4 15.6-1.1 5.2-.8 5.2-1.6 5.2-2.3 15.5-8.8 5.2-1.6 5.2-.8 20.8 .5 10.3-.4 15.6-1.2 10.4-1.6M111.6 464.3l10.4-1.3 15.6-3 10.3-1.2 10.4 .3 36.3 4.5 10.4 2.9 15.6 6 10.3 3.1 10.4 1.5 20.8 1.9 5.1 1 10.4 3 15.6 6.2 15.5 7.5 15.6 9.3 10.4 7.6 10.4 9.3 5.1 5.7 5.2 6.6 5.2 7.9 5.2 9.7 5.2 12.5 5.2 17.6 5.2 29.5 5.2 81.4 5.1-80.8 5.2-30.4 5.2-17.8 5.2-12.5 5.2-9.7 5.2-7.9 5.2-6.7 5.1-5.7 10.4-9.7 15.6-11.5 15.5-9 10.4-4.9 10.4-3.8 15.6-4 15.5-2.1 31.1-2.2 10.4-2.3 20.8-6.5 10.3-1.7 5.2-.4 10.4 .3 31.1 4.6 10.4-.3 10.4-2.1"/><path stroke="#D8891A" d="M111.6 468.5l10.4 1.2 25.9 1.7 20.8 3.8 10.4 1.4 31.1 1.3 15.6 1.8 20.7 3.2 15.6 1.2 10.3-.3 36.3-3.7 10.4-2.1 20.8-5.3 10.3-1.6 31.2-.5 51.8-5.5 26-.6 31.1-1.6 46.7 .5 72.6 4.5 15.6 1.8 25.9 5.3 10.4 1.2M111.6 459.7l26-7.5 10.3-1.8 5.2-.3 10.4 .7 31.1 5.7 15.6 2.2 15.6 1.6 15.5 .7 41.5-1.8 25.9 .9 36.4-2.8 31.1-1 41.5-2.9 10.3 .3 20.8 1.9 10.4 .1 10.3-.9 26-4.2 10.4-.5 10.3 .9 20.8 4 10.3 1.5 10.4 .3 26-2.2 10.3-.2 10.4 1.1 25.9 5.6 10.4 1.7 10.4 .6 10.4-.9"/><path stroke="#1A82D4" d="M111.6 462.5l10.4 1.1 31.1 5.1 36.3 3.6 31.2 6.3 36.3 5.1 15.5 3.1 15.6 4.9 15.6 6.8 15.5 8.6 10.4 7.2 5.2 4.1 10.4 9.8 10.3 12.7 5.2 8.1 5.2 9.9 5.2 12.8 5.2 18 5.2 30.9 5.2 73.1 5.1-77.8 5.2-29 5.2-17.5 5.2-12.4 5.2-9.8 5.2-7.9 5.2-6.8 5.1-5.8 10.4-9.9 15.6-11.6 15.5-9.4 15.6-7.4 15.6-5.1 10.3-2.1 31.2-4.9 41.5-8.9 15.5-2.9 10.4-1.4 15.6 0 25.9 2.8 10.4 .1"/><path stroke="#D8891A" d="M111.6 451.4l15.6 1.3 20.7 .2 15.6-.6 15.6-1.3 10.3 0 10.4 1.4 20.8 4.6 10.3 1.2 26 .6 15.5 1.1 36.3 1.3 10.4-1 10.4-1.7 25.9-6.8 10.4-2 5.2-.3 5.2 .4 20.7 4.2 5.2 .4 5.2-.3 10.4-2.6 20.7-7.5 10.4-2 57.1-4.1 10.3-.3 10.4 .4 10.4 1.1 25.9 5.4 10.4 1.5 41.5 2.6 31.1 .6 15.6 2.6M111.6 454.5l26 .9 36.3-1.3 10.4 1 20.7 4.3 10.4 1.4 25.9 .4 31.1 3.2 51.9-2.6 10.4-1.4 20.7-3.9 15.6-1.6 46.7-2.3 25.9-.3 10.4 .9 20.7 4.7 10.4 1.7 10.4-.1 20.7-2.4 10.4 .3 5.2 .9 20.7 5.4 5.2 .8 5.2 .1 10.4-1.6 20.7-6.3 15.6-3.2 31.1-3.1 10.4-.3 10.4 .7"/><path stroke="#1A82D4" d="M111.6 478l26-.8 10.3 .2 10.4 1.5 20.8 5.3 10.3 .7 36.4-.1 15.5 1.5 15.6 2.7 20.7 4.9 10.4 3.2 10.4 3.9 10.3 4.8 10.4 5.9 10.4 7.3 5.2 4.3 10.4 9.9 5.1 5.9 5.2 6.8 5.2 8.1 5.2 9.8 5.2 12.5 5.2 17.7 5.2 30.1 5.2 86.2 5.1-87.4 5.2-30.1 5.2-17.8 5.2-12.7 5.2-9.8 5.2-8 5.2-6.8 5.1-5.9 10.4-9.8 10.4-8.1 15.6-9.8 15.5-7.6 15.6-5.3 10.4-2.1 15.5-1.5 36.3-.1 10.4-1 10.4-2.4 25.9-8.4 5.2-1 25.9-2.7 10.4-2.5 15.6-4.9"/><path stroke="#D8891A" d="M111.6 448.3l10.4 1.6 10.4 .8 10.4 0 31.1-1.4 25.9 1.2 26 .5 20.7 1.1 25.9 3.2 31.2 .4 25.9-3 20.7-.6 5.2-.6 10.4-2.4 15.6-5 10.3-2.7 31.2-6.2 5.1-.8 10.4-.4 10.4 .7 10.4 1.3 20.7 4.3 10.4 1.5 15.6 .3 31.1-1.5 10.3 .7 20.8 2.5 25.9 1.1 26 2.6 25.9-.3 15.6 .4"/><path stroke="#1A82D4" d="M111.6 465.6l20.8-.7 15.5 1.3 10.4 2.2 20.8 5.9 5.2 1.1 67.4 8.2 10.4 1.6 10.3 2.3 15.6 5.2 15.6 7.2 15.5 8.9 15.6 11.1 10.4 9.5 10.3 12.1 5.2 7.7 5.2 9.3 5.2 11.9 5.2 16.3 5.2 26.1 5.2 69.6 5.1-51.6 5.2-35.7 5.2-19.6 5.2-13.6 5.2-10.4 5.2-8.5 5.2-7.1 5.1-6.1 5.2-5.3 10.4-9 15.6-10.5 10.3-5.5 10.4-4.3 15.6-4.5 31.1-6.8 25.9-7.4 10.4-1.6 10.4 .1 10.4 1.7 10.3 2.4 10.4 .9 5.2-.1 5.2-.3 10.4-1.7 36.3-9M111.6 475l15.6-2 10.4 0 15.5 2.1 26 4.7 20.7 2.2 31.1 6.2 10.4 .8 20.8 0 10.3 1.2 15.6 4.2 10.4 3.9 10.3 4.7 10.4 5.6 15.6 11.1 10.4 9.4 5.1 5.7 5.2 6.6 5.2 8 5.2 9.7 5.2 12.7 5.2 17.8 5.2 30.4 5.2 79.4 5.1-81.4 5.2-29.6 5.2-17.6 5.2-12.6 5.2-9.7 5.2-7.9 5.2-6.7 5.1-5.8 10.4-9.6 15.6-11.6 10.4-6 15.5-6.6 10.4-2.9 41.5-6.7 10.4-1.3 10.3-.3 26 1.3 15.5 .2 10.4-1.7 25.9-2.6 20.8-4.5 10.4-1.6M111.6 463l15.6 3 15.6 1.8 15.5-.4 26-2.4 10.3 .5 10.4 1.9 31.1 8.2 31.1 6.2 15.6 4.7 10.4 4 10.4 4.9 15.5 8.7 15.6 11.3 10.4 9.4 5.1 5.7 5.2 6.4 5.2 7.7 5.2 9.2 5.2 11.9 5.2 16.3 5.2 26.4 5.2 73.1 5.1-56.5 5.2-35.1 5.2-19.3 5.2-13.4 5.2-10.2 5.2-8.2 10.3-13 5.2-5.2 10.4-9 10.4-7.3 10.4-6 10.3-4.9 15.6-5.4 15.6-3.4 31.1-4.5 10.3-2 31.2-7.9 10.3-2.2 10.4-1.6 10.4-.7 10.4 .2 15.5 1.8 5.2 34.1 5.2-32.1 15.6 2.6"/><path stroke="#D8891A" d="M111.6 465.9l10.4 1.1 15.6 .9 20.7-.7 20.8-3.1 36.3-9 10.4-1.6 5.1-.2 5.2 .4 10.4 1.9 25.9 6.8 26 3.7 10.3 1 10.4-.3 10.4-1.2 25.9-6.2 15.6-2.9 20.7-1.3 46.7 .6 46.7 1.4 46.7-1.8 10.4 .7 20.7 3.9 10.4 1.5 10.4 .2 25.9-1.5 10.4 .8 25.9 3.5 15.6-.1"/><path stroke="#1A82D4" d="M111.6 455l31.2 1.3 15.5 1.6 62.3 11.1 20.7 4.6 20.8 5.3 20.7 6.7 10.4 4.1 10.4 4.8 10.3 5.6 10.4 6.5 10.4 7.7 5.2 4.5 10.3 10.9 5.2 6.7 5.2 7.9 5.2 9.7 5.2 12.5 5.2 17.5 5.2 29.4 5.2 100.6 5.1-97.6 5.2-31.2 5.2-18 5.2-12.7 5.2-9.8 5.2-8 5.2-6.7 10.3-10.9 5.2-4.6 10.4-7.9 15.6-9.7 10.3-5.4 10.4-4.5 15.6-5.3 10.3-2.5 10.4-1.9 36.3-5.2 10.4-2.5 25.9-7.8 10.4-1.8 10.4-.5 31.1 1.2 15.6-1"/><path stroke="#D8891A" d="M111.6 461.8l31.2-6.8 10.3-.9 10.4 .5 41.5 6 15.6 2.9 20.7 5.2 25.9 8.4 5.2 1.2 10.4 .8 5.2-.4 10.4-2.5 5.2-1.9 20.7-10.2 10.4-3.6 5.2-1.2 10.3-1.1 26-.2 51.8-1.9 15.6-2 36.3-7.9 10.4-1.4 10.4 0 10.3 2 10.4 3.8 15.6 6.7 10.3 3 5.2 .8 10.4-.1 20.8-3.1 15.5-.9 62.3 4.6"/><path stroke="#1A82D4" d="M111.6 471.3l41.5 5.4 26 1.5 10.3 0 10.4 .9 10.4 1.7 31.1 7.5 36.3 4.5 10.4 2.6 15.6 5.8 15.5 8.1 10.4 7.1 10.4 8.7 5.2 5.1 5.1 6 5.2 6.9 5.2 8.3 5.2 10.4 5.2 13.7 5.2 20.1 10.4 78.8 5.1-65.7 5.2-25.3 5.2-15.8 5.2-11.6 5.2-9.1 5.2-7.5 10.3-12 5.2-4.9 10.4-8.5 10.4-7 5.2-2.9 15.5-7 20.8-6.7 20.7-4.6 15.6-1.9 62.2-3.5 20.8-4.7 15.5-2 10.4-.2 20.8 .7"/><path stroke="#D8891A" d="M111.6 464.9l20.8 .1 5.2 .8 15.5 3.9 10.4 1.4 10.4-.5 20.7-3 15.6 .1 20.7 2.7 20.8 5.4 5.2 1.1 5.2 .4 5.1-.4 5.2-1.5 20.8-10.7 5.2-1.8 5.2-1 15.5-1.7 26-1.5 15.5 .6 20.8 2.2 10.3-.5 10.4-2.6 25.9-10.4 5.2-1.1 5.2-.2 5.2 .8 5.2 1.9 15.6 8 5.1 1.9 5.2 1.1 5.2 .2 5.2-.6 25.9-5.6 10.4-1.1 5.2-.1 10.4 .6 20.7 3 31.1 2.3 26 5.2 10.4 .5 15.5-.7 20.8 .3"/><path stroke="#1A82D4" d="M111.6 463.5l15.6-.2 31.1-4.9 10.4-1.1 10.4 0 5.2 1 10.3 2.9 26 9.9 15.5 5.3 36.3 9.8 15.6 5 15.6 6.9 15.5 9.1 10.4 7.6 5.2 4.4 10.4 10.4 5.1 6.3 5.2 7.3 5.2 8.7 5.2 10.9 5.2 14.5 5.2 21.8 5.2 44.6 5.2 6.9 5.1-49.4 5.2-22.8 5.2-14.9 5.2-11.2 5.2-8.8 5.2-7.4 5.2-6.3 10.3-10.4 5.2-4.5 10.4-7.7 15.6-9.1 15.5-6.9 15.6-5 15.5-3.6 20.8-3.7 36.3-4.1 10.4-1.6 15.5-3.3 15.6-4 10.4-1.7 10.3-.7 10.4 0 20.8 2M111.6 448.3l15.6 6 10.4 2.5 5.2 .6 10.3-.2 26-4 15.5-.4 15.6 1.5 57 9.9 20.8 5.9 10.4 3.9 10.3 4.6 15.6 8.5 10.4 7.2 5.2 4.3 10.3 10.7 5.2 6.6 5.2 7.9 5.2 9.6 5.2 12.5 5.2 17.3 5.2 28.7 5.2 87.3 5.1-81.1 5.2-31.7 5.2-18 5.2-12.6 5.2-9.4 5.2-7.3 5.2-5.4 5.1-2.6 5.2 3.9 5.2 33.4 5.2 21.2 5.2-61.3 5.2-15.6 5.2-6.6 5.2-3.7 5.1-2 5.2 .8 5.2 10.6 5.2 74.5 5.2-66.3 5.2-25.2 5.2-7.3 5.2-3.6 5.1-2.3 5.2-1.8 10.4-2.4 10.4-1.4 31.1-2 36.3-3.6 10.4-1.6 25.9-5.4 10.4-1.3 10.4-.3"/><path stroke="#D8891A" d="M111.6 463.2l20.8 2.7 10.4 .2 5.1-.4 10.4-1.6 26-6.5 10.3-1.3 10.4 .7 20.8 4.7 10.3 1.7 36.3 2.8 10.4 .1 15.6-1.9 20.7-5.3 20.8-3.3 10.3-.8 20.8-.1 10.4-.9 10.3-2.4 20.8-6.2 10.4-.9 10.3 1.3 20.8 5.4 10.4 2 31.1 4.1 10.4-.1 5.1-.7 10.4-2.7 15.6-4.9 5.2-1.1 5.1-.4 5.2 .2 5.2 .9 20.8 5.9 10.3 2.2 26 2.5 10.4 .4 10.3-.5 26-3.8"/><path stroke="#1A82D4" d="M111.6 463.9l15.6-1.2 10.4 .9 10.3 2.7 26 10.4 5.2 1.8 5.2 1 15.5 1.7 46.7 2.7 10.4 1.4 10.3 2.2 15.6 5 10.4 4.5 10.4 5.1 15.5 9.1 15.6 11.5 10.4 9.6 5.1 5.7 5.2 6.6 5.2 7.8 5.2 9.6 5.2 12.4 5.2 17.5 5.2 29.6 5.2 76.4 5.1-76.4 5.2-30 5.2-17.8 5.2-12.5 5.2-9.7 5.2-7.9 10.3-12.4 10.4-9.5 15.6-11.1 10.4-5.7 10.3-4.9 10.4-4.1 15.6-5.3 25.9-6.8 15.6-2.7 15.5-1 15.6 1 20.7 3.6 5.2-.1 15.6-2 20.7-4.7 10.4-1.9 15.6-.6"/><path stroke="#D8891A" d="M111.6 465.9l10.4 .4 20.8 3.6 25.9 2.6 25.9 3.9 10.4 1 10.4-.1 5.2-.6 25.9-4.9 10.4-.7 10.3 1.1 26 5.7 10.4 1.3 10.3-.8 15.6-3.3 20.7-5.1 10.4-1.1 10.4 .8 20.7 4.6 10.4 .6 10.4-1.7 20.7-5.9 10.4-2.3 25.9-5 10.4-1.1 10.4 .6 5.2 1.1 20.7 7.3 5.2 1.2 10.4 .5 20.7-1.6 31.2 2.5 10.3-.4 10.4-1 10.4-1.8 25.9-6.2 10.4-1.3 10.4-.6M111.6 461.3l20.8 3.9 5.2 .5 10.3-.9 20.8-4.4 10.4-.6 5.2 .2 10.3 2 26 9 10.3 1.9 15.6 .9 20.7-2 51.9-7.7 5.2-.2 25.9 1.1 20.8-1.1 25.9-.6 10.4-1.5 15.6-3.3 5.1-.7 5.2-.2 20.8 1 10.4-1.3 15.5-3.4 10.4-1 15.6 1.3 20.7 4.1 10.4 1 10.3-.6 15.6-2.1 10.4-.8 51.9-.6 10.3 .5 26 3.2M111.6 454.5l36.3-2.9 15.6-.1 15.6 1.5 25.9 4 10.4 .6 15.5-.5 10.4 .2 10.4 1.5 10.4 2.1 10.3 .9 5.2-.5 20.8-3.8 10.3-.6 10.4 .7 15.6 2.2 10.4 .2 5.1-.6 10.4-2.7 20.8-7.9 10.3-2.7 26-3.1 20.7-3.2 10.4-.8 15.6 .2 10.3 1.8 10.4 3.5 15.6 6.9 5.2 1.8 5.1 1 5.2 .2 5.2-.7 5.2-1.6 20.7-10 5.2-1.7 5.2-.9 5.2 0 5.2 .7 20.7 5.3 10.4 .9 15.6-1 31.1-4.2 15.6 .1"/><path stroke="#1A82D4" d="M111.6 456.8l20.8 1.5 36.3 5.8 25.9 1.3 10.4 1.1 20.8 3.7 20.7 5.1 15.6 5 15.5 5.8 15.6 6.5 10.4 4.9 10.3 5.6 10.4 6.5 10.4 7.9 5.2 4.6 10.3 11 5.2 6.7 5.2 7.9 5.2 9.7 5.2 12.3 5.2 17.1 5.2 28.2 5.2 92.3 5.1-84.2 5.2-32.7 5.2-18.6 5.2-13.1 5.2-10.2 5.2-8.2 5.2-7 5.1-6 10.4-10.1 10.4-8.2 10.4-6.8 10.3-5.9 10.4-5 10.4-4.2 15.6-5.2 20.7-6.1 20.7-5.4 15.6-2.9 15.6-.9 31.1 2.3 15.6 .4 10.3-.9 26-4.3"/><path stroke="#D8891A" d="M111.6 463.9l15.6 1.3 10.4 .1 31.1-2.2 10.4 .2 10.3 1.4 20.8 4.2 10.4 1.6 31.1 4 15.5 1.1 10.4-.8 20.8-3.7 15.5-2 10.4 .4 10.4 1.5 10.4 .7 10.3-.7 15.6-2.7 10.4-.8 41.5 2.3 20.7 0 10.4-.6 10.4-1.6 5.1-1.4 26-9.9 5.2-1.3 5.2-.7 5.1 0 5.2 .6 10.4 2.5 25.9 7.5 10.4 2 10.4 1.1 10.4 .2 10.3-.8 26-5.1 10.3-1.2 10.4-.2 20.8 .8M111.6 464.4l10.4 2.6 10.4 .9 5.2-.4 20.7-3.9 5.2-.5 25.9 1.1 20.8-1.8 10.4 .1 46.6 3.6 10.4 2.3 15.6 5.6 5.2 1.3 5.2 .5 5.1-.5 20.8-5.7 20.7-3.6 10.4-3.3 15.6-7.3 10.4-4.2 5.1-1.5 5.2-.8 5.2-.1 10.4 1.3 41.5 8.4 10.4 .1 15.5-2.6 5.2-.6 5.2 0 5.2 .7 15.5 4.3 10.4 1.6 5.2-.1 10.4-1.1 31.1-5.2 25.9 0 15.6-2 5.2-.2 10.4 1.3 20.7 4.7 5.2 .6 10.4 .2M111.6 484l26-.9 10.3 .9 20.8 2.8 10.4 0 10.3-1.6 26-6.6 10.4-1.3 5.1-.1 15.6 1.4 31.1 5 10.4 1 10.4-.1 10.3-1.7 15.6-4.8 15.6-3.4 31.1-3.3 31.1-2.7 25.9-4 10.4-.6 10.4 1 10.4 2.8 10.3 4.4 15.6 7.8 5.2 2.2 5.2 1.5 5.2 .7 5.2-.1 5.1-.7 26-7.2 5.2-.8 10.3-.5 10.4 .5 10.4 1.2 10.4 2.1 20.7 5.2 10.4 .8 10.4-1.4 20.7-6.1 5.2-1.1 10.4-.9"/><path stroke="#1A82D4" d="M111.6 454.1l15.6 1.1 25.9 3.8 31.2 2.3 15.5 1.8 31.1 5.4 26 5.6 15.5 4.4 10.4 3.6 20.8 8.6 15.5 8.4 15.6 10.9 10.4 9.4 10.3 12.2 5.2 7.7 5.2 9.4 5.2 11.9 5.2 16.4 5.2 26.2 5.2 65.3 5.1-49.1 5.2-34.6 5.2-19.2 5.2-13.3 5.2-10.2 5.2-8.2 5.2-7 5.1-5.9 5.2-5.2 10.4-8.8 15.6-10.3 10.3-5.4 10.4-4.7 31.1-11.9 15.6-4.9 10.4-2.5 10.3-1.8 10.4-1.2 15.6-.9 20.7-.4 36.3-3 15.6-.4 15.6 .6"/><path stroke="#D8891A" d="M111.6 471.9l41.5 1.5 36.3 4 31.2 4.1 15.5 .9 15.6-1 36.3-4.5 20.7-.4 26-1.2 46.7-5.7 15.5-1.2 20.8 .3 25.9 2.6 10.4 .5 10.4-.5 25.9-3.4 15.6-1.3 46.6-2.2 15.6-.2 20.7 1 51.9 4.8 20.8 .8"/><path stroke="#1A82D4" d="M111.6 473.2l26-3.9 10.3-.5 10.4 .7 10.4 2.1 25.9 8.7 15.6 4.1 10.4 1.6 31.1 3 15.5 2.8 10.4 2.5 10.4 3.3 15.6 6.3 15.5 8.6 15.6 11.4 10.4 9.7 5.1 5.8 5.2 6.7 5.2 8 5.2 9.7 5.2 12.4 5.2 17.5 5.2 29.4 5.2 90.9 5.1-87.8 5.2-31.1 5.2-18.1 5.2-12.7 5.2-9.8 5.2-8.1 5.2-6.7 5.1-5.9 10.4-9.8 15.6-11.6 10.4-5.8 15.5-6.8 10.4-3.4 10.4-2.6 15.5-2.7 10.4-1.1 41.5-.1 25.9-1.1 15.6-4.2 10.4-2.3 41.5-6.9M111.6 455l10.4-1.7 5.2-.3 10.4 .6 10.3 2.3 26 7.5 10.4 2.3 15.5 2.4 31.1 3.7 10.4 1.7 10.4 2.4 25.9 8 20.8 8.3 10.3 5 10.4 5.8 15.6 11 10.4 9.4 5.1 5.7 5.2 6.5 5.2 7.7 5.2 9.3 5.2 11.9 5.2 16.3 5.2 26.1 5.2 70.4 5.1-51.3 5.2-36 5.2-19.5 5.2-13.5 5.2-10.3 5.2-8.4 5.2-7 5.1-6 5.2-5.4 10.4-8.9 10.4-7.3 5.2-3 15.5-7.3 10.4-3.6 10.4-3 36.3-8.6 20.7-3.4 41.5-4.9 15.6-3.2 10.4-1.4 5.2-.3 10.3 .4 26 3.7"/><path stroke="#D8891A" d="M111.6 467.3l5.2 .7 10.4 .2 25.9-2.3 10.4 .2 10.4 1.9 15.5 4.7 10.4 2.6 15.6 2.2 10.4 .4 10.3-1 26-4.6 15.5-1.1 10.4 .4 25.9 4.2 10.4 .4 10.4-.5 10.4-1.2 10.3-1.8 10.4-3 15.6-5.4 10.3-2.7 41.5-3.9 10.4 .2 25.9 4.6 10.4 .8 26-.5 41.4 .8 36.4 3.2 10.3-.3 15.6-1.9 10.4-.7 10.3 .6 20.8 2.7 10.4 .6M111.6 486.1l15.6 3.6 10.4 1.8 10.3 .1 5.2-.9 10.4-3.7 25.9-14.2 5.2-2 5.2-1.2 5.2-.5 5.2 .2 5.2 1.1 5.2 1.6 10.3 4.9 20.8 11.1 10.4 3.8 10.3 1.6 5.2 0 10.4-.9 31.1-4.9 31.1-1.1 10.4-1.7 20.8-4.4 10.3-1.2 36.3 .5 26-1.4 10.4 .1 10.3 1.2 36.3 6.1 20.8 4.6 10.4 1.2 5.1-.3 10.4-2.3 20.8-8 10.3-2.5 5.2-.4 10.4 .6 20.8 4.3 10.3 1.1 10.4-.7 15.6-3.7M111.6 459.5l20.8-2.5 5.2 .1 5.2 .9 5.1 1.7 10.4 4.5 10.4 3.4 5.2 .7 10.4 .1 10.3-1.5 10.4-3.3 15.6-6.3 5.2-1.3 5.1-.5 5.2 .3 5.2 .9 20.8 5.4 10.3 1.2 15.6 1.1 20.7 4.2 5.2 .8 5.2 .1 5.2-.7 5.2-1.5 15.6-7.2 5.1-1.7 5.2-1.1 5.2-.4 10.4 .5 25.9 3.4 10.4-.3 15.6-2 10.3-.7 10.4 .7 15.6 2.3 5.2 .2 5.1-.5 5.2-1.3 5.2-2.2 20.8-12.5 5.2-2 5.1-.8 5.2 .6 5.2 1.9 15.6 8.8 5.2 2.4 5.1 1.5 20.8 2.4 25.9 5.1 5.2 .2 5.2-.4 5.2-1.1 20.7-7 5.2-1.2 5.2-.5 5.2 .2 5.2 1.1 10.4 4.2"/><path stroke="#1A82D4" d="M111.6 463.8l15.6-1.8 25.9-4.7 10.4 .2 5.2 1.1 10.4 4.2 15.5 8.2 10.4 3.6 10.4 1.3 20.7 .6 10.4 1.3 15.6 3.5 15.5 4.8 15.6 5.7 15.5 7.1 10.4 6 10.4 7.3 10.4 8.7 5.2 5.1 10.3 12.1 5.2 7.6 5.2 9.2 5.2 11.6 5.2 15.9 5.2 25.2 5.2 63.9 10.3-77.3 5.2-20.1 5.2-13.7 5.2-10.5 5.2-8.6 5.2-7.2 10.3-11.6 5.2-4.8 10.4-8.3 10.4-6.9 10.3-5.8 20.8-9.4 15.6-5.8 15.5-5 15.6-4.2 15.5-3.5 10.4-1.6 10.4 .1 10.4 1.9 10.3 3 10.4 1.5 5.2 .2 10.4-.7 25.9-4.7 15.6-1.3"/><path stroke="#D8891A" d="M111.6 457.9l36.3-2.9 41.5 .6 10.4 1.4 5.2 1.3 25.9 9.9 5.2 1.1 5.2 .4 5.2-.5 5.2-1.3 20.7-7.7 10.4-2.7 10.4-.3 20.7 3.4 10.4 1.1 5.2 .2 10.4-.9 5.2-1 10.3-3 20.8-8 10.4-3.3 10.3-2 15.6-.8 15.5 1.4 20.8 4.8 10.4 1.9 15.5 1.1 20.8-.1 10.4-.5 10.3-1.2 26-4.3 10.3-.6 5.2 .2 10.4 1 25.9 4.2 26 2.9 31.1 5.9 10.4 0M111.6 457l15.6 2.1 10.4 .4 10.3-1 15.6-2.8 5.2-.4 10.4 .9 10.3 2.6 15.6 5.6 25.9 13 5.2 1.5 5.2 .5 5.2-.5 15.6-3.6 5.1-.6 10.4 .2 15.6 1.3 5.2-.2 5.2-.9 15.5-5.3 10.4-2.9 10.4-1.8 15.5-1.4 10.4-.3 20.8 .6 10.3-.7 15.6-2 10.4-.3 25.9 2.9 25.9-.3 15.6 .8 5.2-.2 5.2-.8 5.2-1.4 20.7-8.4 5.2-1.1 5.2-.3 5.2 .4 15.5 3.3 10.4 1.3 10.4-.3 15.5-1.3 10.4 .7 5.2 1.2 15.6 5 5.1 1.3 5.2 .7 26-1.3M111.6 456.4l15.6-4.6 5.2-.7 5.2 0 10.3 2 10.4 3.4 10.4 2.7 25.9 2.5 31.2 6.4 31.1 2.2 25.9-.2 20.8 3.3 5.1 0 5.2-.5 10.4-2 20.8-5.1 10.3-3.8 15.6-7.5 5.2-2 10.4-2.2 10.3-.2 10.4 1.2 10.4 2.8 15.5 5.2 5.2 .9 5.2 0 5.2-.8 5.2-1.7 15.5-7.1 10.4-3.5 10.4-1.6 10.4 .1 15.5 1.6 10.4 1.9 25.9 8 10.4 2.6 10.4 1.8 10.4 .4 10.3-1.6 15.6-4.4 5.2-1.1 5.2-.5 15.5-.2 5.2-.5 20.8-5.4"/><path stroke="#1A82D4" d="M111.6 458.4l36.3 5.3 26 2.6 15.5 2.3 36.4 6.6 41.4 9.7 10.4 3.1 10.4 3.8 15.6 7.5 15.5 9.1 15.6 11.4 10.4 9.6 5.1 5.7 5.2 6.6 5.2 7.8 5.2 9.4 5.2 11.9 5.2 16.5 5.2 26.8 5.2 78.4 5.1-63.6 5.2-34.9 5.2-19.3 5.2-13.4 5.2-10.3 5.2-8.4 5.2-7 5.1-6 10.4-9.8 15.6-11.4 15.5-8.8 20.8-9.7 10.4-4 10.3-3.5 10.4-2.6 10.4-1.6 31.1-2 15.6-2.3 25.9-5.5 20.8-3.7 25.9-6.8 10.4-2.1M111.6 474.2l10.4 1.5 5.2 .2 5.2-.4 15.5-3 10.4-1.3 15.6-.1 20.7-2.5 10.4 .9 15.6 4.4 36.3 13.4 25.9 6.1 10.4 3.3 10.4 4.5 10.3 5.5 15.6 10.4 10.4 8.6 5.2 5.1 5.1 5.7 5.2 6.8 5.2 8.1 5.2 10.2 5.2 13.3 5.2 19 5.2 33.5 5.2 52.9 5.1-66.9 5.2-26.8 5.2-16.7 5.2-12.2 5.2-9.5 5.2-7.9 5.2-6.6 5.1-5.6 5.2-5 10.4-8.3 10.4-7 15.5-8 10.4-3.8 20.8-6.6 15.5-5.8 10.4-2.9 5.2-.7 10.4 .1 15.5 2.4 10.4 1 25.9-.4 10.4-3.2 15.6-6.3 5.2-1.2 5.1-.5 20.8 .7 10.4-.8M111.6 453.3l15.6-1.1 10.4 .5 10.3 2 26 8.5 10.4 2.5 10.3 1.3 31.2 2.1 15.5 2.9 20.8 6.6 31.1 12.3 20.7 10.3 15.6 9.9 10.4 8.3 5.2 4.9 10.3 11.9 5.2 7.4 5.2 9.1 5.2 11.4 5.2 15.5 5.2 24.2 5.2 55.2 5.1-26.9 5.2-38.9 5.2-20.5 5.2-14 5.2-10.6 5.2-8.5 5.2-7.2 10.3-11.5 5.2-4.8 10.4-8.2 15.6-9.9 10.3-5.4 10.4-4.6 20.8-7.5 25.9-7.3 20.7-4.1 20.8-3.1 51.9-3.7 36.3-3.5M111.6 454.2l31.2-.6 10.3 .6 10.4 1.3 10.4 2.2 20.7 7.6 5.2 1.5 10.4 1.6 20.7 1.8 31.2 6.8 15.5 4.9 10.4 4.1 10.4 4.7 15.5 8.5 15.6 10.5 10.4 8.6 5.2 5.1 10.3 12.1 5.2 7.6 5.2 9.2 5.2 11.7 5.2 16.1 5.2 25.5 5.2 60.3 5.1-40.5 5.2-35.7 5.2-19.6 5.2-13.6 5.2-10.4 5.2-8.4 5.2-7.2 5.1-6.1 5.2-5.3 10.4-9 15.6-10.3 15.5-7.7 10.4-4 25.9-8.7 15.6-4.5 10.4-1.7 25.9-1.9 31.1-3.1 20.8-3.6 25.9-2.7 10.4-2.3 10.4-2.9M111.6 459.8l15.6 1.8 25.9-.8 5.2 .3 5.2 .9 20.8 5.6 10.3 .9 20.8 .3 51.8 9.4 15.6 5.4 15.6 7.6 15.5 8.7 15.6 10.8 10.4 9.1 5.2 5.4 10.3 12.9 5.2 8.2 5.2 10.1 5.2 13.3 5.2 19.2 5.2 35.3 5.2 49 5.1-68.1 5.2-26.1 5.2-16.2 5.2-11.7 5.2-9.3 5.2-7.6 10.3-12.4 5.2-5.1 10.4-8.9 10.4-7.3 15.5-8.5 15.6-6.2 15.6-4.1 36.3-7 10.3-1.2 20.8-.9 10.4-1.6 15.5-4.6 15.6-6 10.4-2.5 5.2-.4 5.1 .3 20.8 3.4 5.2 0 5.2-.6M111.6 471.2l15.6 3.5 10.4 1.4 25.9 1.3 15.6 1.8 31.1 2.5 31.1 1.3 10.4 1.3 10.4 2 10.3 2.5 10.4 3.2 10.4 3.9 10.4 4.7 15.5 8.5 15.6 11.3 10.4 9.7 5.1 5.7 5.2 6.7 5.2 7.9 5.2 9.6 5.2 12.5 5.2 17.3 5.2 28.9 5.2 83.1 5.1-78.5 5.2-31.3 5.2-18.2 5.2-12.8 5.2-10 5.2-8.2 10.3-12.8 5.2-5.3 10.4-8.8 10.4-7.3 5.2-3.1 15.5-7.4 10.4-4 15.6-5 10.3-2.8 10.4-2.2 10.4-1.3 10.4-.2 10.3 .8 20.8 2.6 15.5 .5 5.2-.2 15.6-4.1 10.4-1.7 10.3-.6 31.2 .3"/><path stroke="#D8891A" d="M111.6 449.3l20.8 1.6 20.7 1 31.2-1 10.3 .5 10.4 2.2 20.8 7.2 10.3 3.2 10.4 1.7 5.2 .2 10.4-.7 5.1-.9 5.2-1.3 26-8.6 15.5-3.6 10.4-1 15.6-.4 10.3-.9 26-4.7 10.4-1 36.3-.4 31.1-3.9 10.4-.9 10.3 .4 26 4.3 15.5 1.3 31.1-2.3 62.3-.8 51.9-2.9M111.6 462.5l10.4 2.2 10.4 .7 31.1-4.1 10.4-.5 10.4 .2 10.3 1.1 20.8 3.5 5.2 .4 20.7-.5 5.2 .3 10.4 2.1 15.5 4.6 10.4 1.5 10.4 .2 15.5-.9 20.8-3.7 15.6-4 20.7-6.1 15.6-3.2 10.3-.7 26 .9 10.3-.4 46.7-5.7 10.4 .2 20.8 2 46.6 1.7 36.3-1.1 31.2 .6 41.5-1M111.6 467.1l10.4 2.4 10.4 1.6 20.7 2 26 1.5 20.7 3.9 10.4 1.2 10.4-.6 25.9-5.1 10.4-.4 5.2 .6 25.9 5.2 20.7 1.3 10.4-.2 10.4-1 20.7-5.1 10.4-2 10.4-.7 15.6 .2 20.7-1 10.4 .9 20.7 5.5 5.2 .6 5.2-.2 10.4-2.4 15.5-5.8 10.4-2.8 10.4-.9 20.7-.2 20.8-2.9 5.2 0 5.1 .6 5.2 1.4 15.6 5.9 5.2 1.3 5.2 .6 5.2-.1 5.1-.8 15.6-3.6 15.6-2.3 20.7-1.5 20.8 0"/><path stroke="#1A82D4" d="M111.6 473.9l10.4 .7 25.9 3 10.4 .1 15.6-1.1 10.4-.1 10.3 1.1 15.6 3 31.1 8.6 31.1 6.5 15.6 4.5 15.6 6.5 10.3 5.5 10.4 6.6 10.4 8 10.4 9.7 10.3 12.6 5.2 8 5.2 9.8 5.2 12.6 5.2 17.7 5.2 30.1 5.2 75.6 5.1-77 5.2-29.8 5.2-17.7 5.2-12.5 5.2-9.8 5.2-7.9 5.2-6.7 5.1-5.8 10.4-9.8 15.6-11.5 10.4-6.3 10.3-5.5 10.4-4.7 10.4-3.9 15.5-4.5 36.3-8.3 10.4-1.6 10.4-.5 10.4 .4 15.5 1.5 10.4-.5 10.4-1.5 25.9-5.8 10.4-1.3 10.4-.6M111.6 459.2l20.8-.3 20.7 1 10.4 0 25.9-3.2 5.2 0 10.4 1.7 10.4 3.2 36.3 12.8 25.9 9.5 15.6 6.4 10.4 5.1 10.3 5.8 10.4 6.7 10.4 7.9 10.4 9.7 5.1 5.7 5.2 6.7 5.2 7.8 5.2 9.5 5.2 12.1 5.2 16.7 5.2 27.4 5.2 80.9 5.1-68.6 5.2-7.6 5.2-45.1 10.4-27.8 5.2-3.8 5.2-7 5.1-4.7 5.2-10.3 5.2-1.2 5.2 11.6 5.2-19.9 10.4-7 5.2 20.5 5.1-26.6 5.2 17.5 5.2-21.3 5.2-3.9 5.2-2.2 15.6-5.6 15.5-4.7 31.1-7.7 20.8-4.2 15.5-1.3 20.8 .4 10.4-.4 10.3-1.2 31.2-5.1"/><path stroke="#D8891A" d="M111.6 466.2l20.8 2.1 15.5 0 15.6-2.5 31.1-8.2 10.4-1.3 5.2 .1 10.4 1.4 20.7 4.4 25.9 2.8 10.4 .2 20.8-1.3 15.5 .7 5.2 .7 20.8 4.8 10.3 1.4 5.2 .2 5.2-.2 10.4-1.7 20.7-5.9 5.2-1 26-2.1 20.7-4.8 5.2-.9 10.4-.6 20.7 .9 10.4 .9 31.1 5.7 15.6 1.6 15.5-.1 26-2.1 20.7-.6 31.1 .5 20.8 1.9 10.4 .2"/><path stroke="#1A82D4" d="M111.6 444.4l15.6 .8 10.4 1.3 41.5 8.7 10.3 3.2 10.4 2.6 31.1 4.2 15.6 4.5 15.6 6.4 5.1 95.1 5.2-90.5 20.8 9.9 20.7 11.4 15.6 10.4 10.4 8.6 10.3 10.9 5.2 6.7 5.2 7.9 5.2 9.6 5.2 12.4 5.2 17.1 5.2 28.6 5.2 87.1 5.1-81.4 5.2-32 5.2-18.4 5.2-12.9 5.2-10.1 5.2-8.2 5.2-6.8 10.3-11.1 5.2-4.6 10.4-7.9 15.6-9.8 41.5-22 10.3-5 10.4-4.3 10.4-3.5 31.1-8.9 25.9-10.5 5.2-1.2 15.6-2.6 15.5-1.7 15.6-.4 15.6 .9M111.6 458.6l15.6 2.3 10.4 .2 5.2-.7 15.5-3.8 5.2-.8 5.2-.1 5.2 .7 5.2 1.4 10.3 3.8 10.4 2.9 20.8 3.4 36.3 7.1 15.5 4.7 26 11 15.5 7.9 15.6 9.9 10.4 8.3 5.2 5 10.3 12 5.2 7.6 5.2 9.1 5.2 11.4 5.2 15.3 5.2 23.6 5.2 53.9 5.1-18.5 5.2-42.4 5.2-21.2 5.2-14.3 5.2-10.7 5.2-8.6 5.2-7.2 10.3-11.5 5.2-4.7 10.4-8.3 10.4-6.8 10.3-5.7 15.6-7 15.6-5.7 15.5-4.6 26-4.7 31.1-8.1 15.5-1.8 46.7-1.9 26 .6"/><path stroke="#D8891A" d="M111.6 468.7l20.8 .1 20.7-1.4 10.4 .4 36.3 7.2 10.4 .9 25.9 .2 15.6 .6 46.7 6.7 10.3 .8 20.8-.4 10.4-1 10.3-1.8 26-6.2 15.5-2.4 15.6-.8 25.9 .3 10.4-.4 10.4-1.3 31.1-6.1 15.6-1.1 20.7 .4 15.6 1.5 10.3 1.9 20.8 4.9 15.6 2.3 10.3 .5 31.2-.8 25.9 1 10.4-.5"/><path stroke="#1A82D4" d="M111.6 460.2l15.6-.2 10.4 1.4 20.7 6.6 10.4 2.3 10.4 .4 20.7-1.5 10.4 .9 10.4 2 46.6 11.2 10.4 3.1 10.4 3.9 15.6 7.3 10.3 6 10.4 6.9 10.4 8.1 5.2 4.6 10.3 11 5.2 6.8 5.2 8.1 5.2 9.9 5.2 12.8 5.2 18.2 5.2 31.7 5.2 92.3 5.1-98.1 5.2-29 5.2-17.4 5.2-12.4 5.2-9.7 5.2-7.9 5.2-6.6 10.3-10.8 5.2-4.5 10.4-7.8 15.6-9.4 10.3-5.1 15.6-6.6 10.4-3.9 10.3-3.1 46.7-9 15.6-2.3 10.4-.2 10.3 1.2 10.4 .4 10.4-.9 20.7-3.1 26-.7"/><path stroke="#D8891A" d="M111.6 479.3l15.6 1.8 10.4-.2 10.3-1.7 31.2-7.4 10.3-1.3 10.4 .2 10.4 1.7 20.7 4.5 20.8 1.7 10.4 1.5 10.3 3.4 20.8 9.9 5.2 1.9 5.2 1 5.1-.3 5.2-1.5 5.2-2.3 10.4-6.4 15.6-10.4 15.5-8.3 10.4-3.8 10.4-2.1 10.3-.1 26 3.8 10.3 0 26-2.7 20.7 .1 10.4-.5 25.9-4.7 5.2-.6 10.4-.3 10.4 .8 10.3 1.5 31.2 6.9 10.3 1.7 10.4 .2 20.8-2.1 10.3-.6 10.4 .4 20.8 2.5"/><path stroke="#1A82D4" d="M111.6 455l15.6-.2 15.6-2 10.3-.5 36.3 4.9 10.4 2.3 10.4 4 15.6 7.5 10.3 4.1 36.3 10.1 15.6 5.8 10.4 4.9 15.5 8.4 10.4 6.4 10.4 7.6 10.4 9.7 5.1 6 5.2 6.9 5.2 8.2 5.2 10.2 5.2 13.3 5.2 19 5.2 34.2 5.2 67 5.1-81.7 5.2-27.3 5.2-16.7 5.2-12.1 5.2-9.5 5.2-7.8 5.2-6.7 5.1-5.8 10.4-9.8 5.2-4.2 10.4-7 5.2-3 10.3-4.9 10.4-3.9 26-8.2 46.6-15.9 10.4-1.3 5.2 .2 15.6 2.1 5.1 .3 5.2-.4 5.2-1.5 20.8-9 5.2-1.4 5.1-.5 5.2 .2 5.2 .9 15.6 3.9 5.2 1"/><path stroke="#D8891A" d="M111.6 466.6l5.2-.6 5.2 .2 15.6 2.7 10.3 .8 5.2-.2 15.6-1.9 5.2 0 5.2 .7 5.2 1.8 15.5 8.6 5.2 2.3 5.2 1.4 5.2 .4 5.2-.4 5.2-1.1 25.9-9.1 5.2-.9 5.2 .2 5.1 1.4 5.2 2.4 15.6 8.7 5.2 1.8 5.2 .8 5.2-.2 15.5-4.4 5.2-.8 5.2 .2 5.2 1 10.4 3.2 5.1 1 5.2-.1 5.2-1.4 15.6-7.3 20.7-7.9 20.8-9.2 10.3-3.1 5.2-.6 5.2 .4 5.2 1.3 5.2 2.2 20.7 11.7 5.2 2.1 5.2 1.3 5.2 .6 10.4 .3 10.4-.4 10.3-1.7 10.4-2.4 10.4-1.3 25.9-.2 10.4 1.1 15.5 5 5.2 .9 5.2-.4 5.2-1.8 15.6-9.6 5.2-2.2 5.1-1 5.2 .2 5.2 1.2 20.8 7.9"/><path stroke="#1A82D4" d="M111.6 452.3l15.6 .3 36.3-.9 15.6 1.1 5.2 1.6 31.1 11.1 41.5 13.9 25.9 10.5 15.6 7.8 10.3 6.1 15.6 10.4 10.4 8.2 10.4 10.1 10.3 12.9 5.2 8.2 5.2 10.2 5.2 13.2 5.2 18.9 5.2 34.3 5.2 64 5.1-79.3 5.2-27.1 5.2-16.8 5.2-12.1 5.2-9.5 5.2-7.8 5.2-6.7 10.3-10.8 5.2-4.6 10.4-7.8 20.7-13.1 15.6-8.4 10.4-5 20.7-8.2 10.4-3.1 10.4-2.6 36.3-6.8 20.7-6.1 20.8-5.2 31.1-6 15.6-2.1"/><path stroke="#D8891A" d="M111.6 456.9l5.2-.4 15.6-2.7 10.4-.6 10.3 1.7 20.8 6.6 10.4 2.8 5.1 .7 5.2 0 5.2-.7 5.2-1.4 15.6-5.3 5.2-1.3 5.1-.7 5.2 .1 5.2 .9 5.2 1.8 5.2 2.7 15.5 10.8 5.2 3 5.2 1.9 5.2 .8 5.2-.1 5.2-.9 31.1-7.8 10.4-3.4 10.4-4.3 10.3-2.8 5.2-.5 15.6-.4 5.2-.7 20.7-4.6 10.4-1.3 46.7-1.3 10.3-1.3 15.6-2.9 10.4-1.2 10.4 .7 5.1 1.2 5.2 1.9 20.8 9.3 5.2 1.5 5.1 .7 5.2 0 5.2-.8 15.6-4.4 5.2-1 5.2-.5 5.1 .2 5.2 .9 15.6 4.4 10.4 2.2 10.3 .4 15.6-.7 15.6 1.6M111.6 451.6l31.2 2.2 41.5-.1 10.3 .6 10.4 1.8 15.6 4 10.3 1.5 5.2 .2 20.8-1.1 41.5 2 10.3-.4 36.4-4.9 31.1-3 15.5-.3 20.8 1.4 10.4 .2 10.3-.9 20.8-2.7 31.1 .8 25.9-3.5 10.4 .6 15.6 2.5 10.3 .8 10.4-.5 26-4.6 10.3-.7 10.4 .5 41.5 3.9 15.6 0M111.6 480.6l20.8-7.4 10.4-2.1 5.1 0 5.2 .7 5.2 1.5 5.2 2 20.8 11.1 5.1 2.2 5.2 1.5 5.2 .8 5.2 0 20.8-3.4 10.3-.8 46.7 1.9 31.1-3.3 20.8 1.8 5.2-.1 20.7-2.7 5.2-.1 20.8 2.9 5.1 0 5.2-.8 5.2-1.5 15.6-6.7 5.2-2 5.1-1.4 5.2-.5 5.2 .4 15.6 3.4 5.2 .6 5.2-.1 10.3-2.1 15.6-4.7 5.2-.9 5.2-.2 5.2 .4 5.1 1.2 5.2 1.9 20.8 9.6 5.2 1.5 5.1 .8 5.2 0 5.2-.7 26-7.8 10.3-1.7 10.4 .4 5.2 .9 20.7 6.7 5.2 1.1 5.2 .2 5.2-.8 15.6-5.4M111.6 459.7l26-1.1 36.3-3.4 20.7-.6 10.4 1 5.2 1.1 15.6 4.6 10.3 1.7 10.4-.7 15.6-2.3 15.5-.8 10.4 .3 25.9 3.2 15.6 .9 10.4-.6 15.5-1.8 10.4-2.2 25.9-8.1 10.4-1.8 15.6-1.3 15.5 .1 31.2 3.9 15.5 1.3 10.4-.1 20.7-2.3 5.2-.2 10.4 1 15.6 3 10.3 .6 26-1.8 31.1-.6 31.1-2.7 20.8-.1"/><path stroke="#1A82D4" d="M111.6 474.6l10.4-1.5 5.2 .2 5.2 1.1 5.2 1.9 20.7 9.7 5.2 1.5 5.2 .7 5.2-.1 5.2-.7 10.3-3.3 5.2-.9 5.2-.2 20.8 2.2 31.1 .6 10.4 1.8 15.5 5.2 31.1 12.5 10.4 5.4 5.2 3.2 10.4 7.5 5.2 4.3 10.3 10.4 5.2 6.5 5.2 7.7 5.2 9.6 5.2 12.5 5.2 17.5 5.2 29.4 5.2 94.7 5.1-91.1 5.2-31.2 5.2-18.1 5.2-12.8 5.2-10 5.2-8.2 5.2-6.9 5.1-5.9 10.4-9.8 10.4-7.8 10.4-6.2 15.5-6.9 15.6-5.5 15.6-4.9 10.3-2.4 26-3.8 20.7-4.3 10.4-.6 5.2 .4 15.5 2.7 10.4-.7 15.6-2.5 5.2 0 5.1 .6 15.6 3.7 5.2 .9 10.4 .2"/><path stroke="#D8891A" d="M111.6 459.2l15.6 .9 15.6 .1 41.5-3.2 15.5-.1 10.4 .9 10.4 1.9 10.3 2.9 15.6 5.3 10.4 2.7 5.2 .7 10.3 .3 20.8-1.2 20.7 .5 10.4-.6 10.4-1.7 10.4-3.3 20.7-7.8 5.2-1.5 10.4-1.4 10.3 .1 51.9 6.6 15.6 .8 10.3-.6 10.4-1.2 26-4 31.1-5.9 15.5-1.2 10.4 .7 10.4 1.9 31.1 8.3 41.5 9.7 10.4 1.8 5.2 .4M111.6 462.5l20.8 7.2 5.2 1.1 5.2 .4 5.1-.4 5.2-1 20.8-6.1 10.4-1.4 5.1 .1 5.2 .7 10.4 2.9 15.6 6.7 10.3 3.7 5.2 1.1 5.2 .5 5.2-.2 5.2-.8 25.9-7 5.2-.5 20.8-.1 25.9-5.4 31.1-3 41.5-7.6 10.4-1.4 10.4-.7 46.6-2 26 .1 10.4 1.3 5.1 1.4 20.8 7.3 5.2 1.1 10.3 .9 26-.2 20.7-1 31.2-3.4 10.3-.6 26 .5"/><path stroke="#1A82D4" d="M111.6 467.2l26 1.6 15.5 1.7 10.4 2.1 15.6 4.5 15.5 3.7 10.4 1.8 36.3 4.4 15.6 3 15.5 3.9 20.8 6.6 15.5 6.7 15.6 9 10.4 7.8 5.2 4.5 10.3 10.8 5.2 6.6 5.2 7.8 5.2 9.5 5.2 12.3 5.2 17 5.2 28.3 5.2 92.8 5.1-85.2 5.2-32.5 5.2-18.5 5.2-13 5.2-10 5.2-8.2 5.2-6.9 5.1-5.9 10.4-9.8 5.2-4.2 10.4-7.2 15.5-8.2 10.4-4.4 10.4-3.7 20.7-5.7 15.6-3 31.1-4.1 26-4.4 15.5-2.1 10.4-.7 51.9-1.2"/><path stroke="#D8891A" d="M111.6 464.5l93.4 3.3 15.6 1.6 25.9 4.3 15.6 1 10.3-1.1 26-6.9 15.5-3 57.1-7.2 15.6-1.2 10.3 0 26 1.2 10.3 0 15.6-.6 51.9-3.4 41.5-.7 15.5 1.5 36.3 8.1 15.6 1.7 15.6-.7 25.9-4.2 10.4-1"/><path stroke="#1A82D4" d="M111.6 448.7l15.6-3.8 5.2-.5 10.4 .9 20.7 4.9 15.6 2.8 62.2 16.4 20.8 7.1 20.7 9.4 31.1 15.9 10.4 6.1 10.4 7.5 10.4 9.3 10.3 12.2 5.2 7.7 5.2 9.3 5.2 11.8 5.2 16.1 5.2 25.9 5.2 67.6 5.1-48 5.2-36.2 5.2-19.6 5.2-13.6 5.2-10.3 5.2-8.3 5.2-6.9 5.1-5.9 10.4-9.8 10.4-7.9 10.4-6.8 10.3-6 10.4-5.2 15.6-6.4 46.7-14.9 5.1 25 5.2-27.7 41.5-9.5 15.6-.7 20.7 1.1 10.4-.2 10.4-2 10.4-3.8"/><path stroke="#D8891A" d="M111.6 461.4l20.8 .1 46.7-4.3 31.1-1.1 15.6 .4 20.7 2 15.6 1 25.9-.4 25.9 2.7 15.6 .6 10.4-.8 10.3-1.4 46.7-7.3 31.1-6.2 10.4-1.3 5.2-.1 5.2 .2 10.4 1.6 20.7 5.4 10.4 2.1 10.4 .9 20.7-.4 10.4 .3 10.4 1.4 25.9 5.6 10.4 1.1 5.2 0 10.3-1.3 26-6.8 10.3-1.8 10.4-.4 20.8 2.5M111.6 458.2l10.4-.6 15.6 2.2 5.2 .5 5.1-.2 5.2-1 5.2-1.8 15.6-6.1 5.2-.9 5.2 .2 5.1 1.4 5.2 2.2 15.6 8.7 5.2 2.2 5.2 1.5 5.2 .6 5.1 0 15.6-1.4 5.2 .1 5.2 .9 15.5 3.7 10.4 .7 10.4-1.1 10.4-3 5.1-2.7 5.2-3.6 15.6-12.7 5.2-3.6 5.2-2.7 5.2-1.5 5.1-.4 5.2 .5 5.2 1.3 26 10.6 10.3 2.4 15.6 .9 41.5 .1 10.4 .9 20.7 3.5 5.2 .2 5.2-.4 5.2-1 15.5-5.9 10.4-3 10.4-1.1 20.7 1.8 5.2 .2 5.2-.5 5.2-1.2 15.5-5.2 5.2-.3 5.2 1 5.2 2.4 10.4 6.3 5.2 2.3 5.2 1 5.1-.5 5.2-1.8 15.6-7.5 5.2-1.5 5.2-.7M111.6 476.8l15.6 3.6 10.4 1.1 5.2 0 10.3-1.5 26-7.2 10.3-.9 10.4 1.1 15.6 3.3 10.4 1.5 25.9 2.1 20.7 2.6 10.4 .5 10.4-.1 10.4-1.1 25.9-6.1 31.1-3.4 26-6.2 10.3-1.1 5.2 .3 10.4 2.2 25.9 10.4 10.4 3 5.2 .8 5.2 .2 10.3-1.1 26-5.5 15.5-2.2 20.8-1.8 15.5-.7 15.6 .7 25.9 3.6 31.2 .5 10.3 1.4 20.8 3.9 10.4 .9M111.6 478.7l10.4 3.9 5.2 1 5.2 .4 5.2-.4 31.1-6.7 31.1-5.4 10.4-.9 10.4 1.1 20.7 6.6 5.2 1.2 5.2 .6 5.2-.1 10.3-1.5 15.6-3.3 10.4-.9 15.5-.6 36.4-4.4 15.5 .1 15.6 2 10.4 .7 15.5-.6 31.1-3.1 31.2-6.7 10.3-.9 5.2 .2 10.4 1.4 25.9 5.9 15.6 2.9 41.5 5.2 15.5 .2 26-1.6 10.4-.8 25.9-3.2 10.4-.7"/><path stroke="#1A82D4" d="M111.6 460.3l20.8 2 10.4 .5 31.1-2.3 10.4 .4 15.5 2.8 41.5 10.2 10.4 2.8 15.5 5.3 26 10.6 10.4 5.1 10.3 5.8 10.4 6.8 10.4 8 10.4 9.6 5.1 66.5 5.2-54.1 5.2 7.9 5.2 9.5 5.2 12.3 5.2 17.1 5.2 28.6 5.2 87 5.1-81.4 5.2-31.9 5.2-18.3 5.2-12.9 5.2-10 5.2-8.1 5.2-6.9 10.3-11.1 5.2-4.6 10.4-8.1 10.4-6.8 10.3-5.9 20.8-9.7 15.6-5.9 10.3-3.3 36.3-8.6 31.2-8.2 10.3-1.1 26 1.4 10.3-.2 15.6-1.7 15.6-3.4"/><path stroke="#D8891A" d="M111.6 460.1l51.9 2 20.8-2.1 10.3-.2 15.6 1.1 15.6 .4 20.7 1.7 10.4-.7 15.5-2.8 10.4-1.1 5.2 .1 20.7 1.8 26-2.5 20.7 1 5.2-.2 10.4-1.4 25.9-5 10.4-.5 10.4 1.2 10.3 2.1 10.4 2.6 15.6 4.7 5.2 .6 5.2-.4 5.1-1.6 5.2-2.6 15.6-9.2 5.2-2.2 10.4-2.4 20.7-2 5.2 .2 5.2 1 5.2 1.8 25.9 14.1 10.4 3.3 5.2 .6 5.1-.1 5.2-.8 51.9-13.8 5.2-.6 10.4 .5M111.6 446.6l10.4 .4 15.6 2.5 10.3 2.7 26 7.9 15.5 3 5.2 .3 10.4-.1 36.3-4.6 15.6-.7 20.7 1.5 20.8 2.9 10.3 .6 5.2-.3 10.4-1.5 25.9-6.2 10.4-1.5 10.4-.6 20.7 0 15.6-1.5 10.4-2.3 25.9-7.6 15.6-4.1 10.3-2.1 10.4-1.3 10.4-.3 10.4 .7 10.3 1.9 26 7.3 10.3 2.3 10.4 1.5 15.6 1 15.5-.9 10.4-2.3 10.4-3.5 15.6-6.4 10.3-3.2 10.4-1.2 5.2 .3 10.4 2.1"/><path stroke="#1A82D4" d="M111.6 478.2l15.6 1.6 15.6 1 25.9 .5 10.4 .7 15.5-.4 36.3 .8 15.6 1 10.4 1.1 20.7 4.1 15.6 4.7 15.5 6.2 10.4 5.6 5.2 3.4 10.4 8 5.2 4.7 10.3 11.3 5.2 7.1 5.2 8.4 5.2 10.4 5.2 13.6 5.2 19.9 10.4 79.2 5.1-66.4 5.2-25.5 5.2-16.1 5.2-11.8 5.2-9.3 5.2-7.7 10.3-12.3 5.2-5 10.4-8.6 10.4-7 15.5-7.6 15.6-5.3 20.8-4.4 20.7-2.3 15.6-.5 25.9 .8 25.9 2 51.9-6.5 15.6-1.4"/><path stroke="#D8891A" d="M111.6 471.9l15.6 2.1 15.6 .3 10.3-1.1 36.3-6.3 10.4-1.3 10.4-.5 10.4 .5 5.2 .7 20.7 4.8 15.6 2.3 10.3 .1 15.6-.7 20.7 .2 26-.9 31.1 0 10.4-1.2 5.2-1 25.9-8.1 10.4-2.6 10.3-1.4 10.4-.4 20.8 1.5 10.3 1.5 26 5.1 15.5 1.4 31.2-1.2 36.3 1.6 15.5-.1 31.2-1.4 25.9-2.1 10.4-.2M111.6 444.3l5.2-.4 10.4 .7 20.7 4.3 10.4 1.3 10.4 .1 25.9-1.8 10.4 .6 36.3 8.3 15.6 2.3 10.3 .7 26-2.5 20.7 0 15.6-1 46.7-6.1 10.4-.1 20.7 1.3 10.4-.5 15.5-2.5 20.8-5.4 5.2-.9 10.3-.4 10.4 1.5 31.1 7.1 10.4 1.4 10.4-.3 20.7-3.5 10.4 .1 10.4 1.8 36.3 8.8 10.4 1.2 5.2-.2 5.1-.7 5.2-1.4 5.2-2.1 5.2-2.6 15.6-9.4M111.6 455.3l10.4 .9 20.8 .2 25.9 1.7 10.4-.4 31.1-2.7 25.9 0 15.6 1.1 31.1 4.5 15.6 .8 10.3-.5 36.4-4.1 15.5-1.1 10.4 .2 15.6 1.4 10.3 .1 10.4-1.7 20.7-6.9 5.2-1.2 5.2-.4 5.2 .3 5.2 1 15.6 5.1 10.3 2.6 10.4 1.1 20.8 .7 15.5-.5 10.4-1.7 15.5-3.3 10.4-1 5.2 .2 20.8 2.5 5.1 0 10.4-1.8 20.8-6.9 10.3-1.7 10.4 .6 20.8 4.1"/><path stroke="#1A82D4" d="M111.6 464.8l26 3.8 31.1 6.5 10.4 1.7 25.9 .2 15.6 .8 15.5 1.9 20.8 4.3 15.5 4.4 10.4 3.4 20.8 8.5 15.5 8.3 15.6 11.1 10.4 9.5 5.1 5.8 5.2 6.7 5.2 8 5.2 9.7 5.2 12.6 5.2 17.6 5.2 29.9 5.2 81.5 5.1-81.7 5.2-30.2 5.2-17.8 5.2-12.6 5.2-9.8 5.2-7.9 5.2-6.7 5.1-5.8 10.4-9.4 15.6-11.1 15.5-7.9 10.4-4.1 10.4-3.4 20.7-5.2 20.8-3.8 25.9-3 20.8-1.9 15.5-.5 51.9-6.1 15.6 0M111.6 460.8l46.7-4.8 10.4 .2 10.4 1.4 41.5 14.1 10.3 2.6 31.2 6.4 10.3 3 10.4 3.7 15.6 6.9 15.5 8.4 15.6 10.4 10.4 8.6 10.3 10.9 5.2 6.7 5.2 7.9 5.2 9.6 5.2 12.4 5.2 17.4 5.2 29.2 5.2 95.7 5.1-92.2 5.2-31.2 5.2-18.1 5.2-12.8 5.2-9.8 5.2-8.1 5.2-6.8 10.3-11 5.2-4.7 10.4-7.9 10.4-6.6 10.3-5.6 10.4-4.8 15.6-6 20.7-6 10.4-2 10.4-1.5 20.7-1.5 15.6 0 20.7 1.9 20.8-.7 15.5-2.4 20.8-5.4 10.4-2.2M111.6 443.6l15.6 3.5 15.6 2.5 20.7 2.8 15.6 1.1 10.3 1.6 15.6 3.3 15.6 4.7 51.8 19.2 20.8 8.8 10.4 5.4 10.3 6.2 10.4 7 10.4 8.4 10.4 10.2 10.3 13 5.2 8.3 5.2 10.1 5.2 13.1 5.2 18.7 5.2 33.3 5.2 57.5 5.1-71.2 5.2-27.2 5.2-16.7 5.2-12.2 5.2-9.6 5.2-7.8 10.3-12.5 10.4-9.7 10.4-7.9 10.4-6.7 20.7-11.2 26-11.3 15.5-5.6 10.4-3.1 15.5-3.6 46.7-8.7 10.4-1.3 15.6-1.1 10.3 0 31.2 2.1"/><path stroke="#D8891A" d="M111.6 489l46.7 12.6 5.2 .5 5.2-.4 5.2-1.2 15.5-5.3 5.2-.9 5.2-.2 10.4 1.3 15.6 3.3 20.7 3.5 15.6 3.5 5.1 .9 5.2 .3 5.2-.7 5.2-1.5 15.6-7.3 10.3-4.2 5.2-1.4 20.8-3.9 25.9-8.2 10.4-2.4 5.2-.7 5.2-.3 5.2 .4 5.1 1.1 5.2 1.9 5.2 2.6 15.6 9.6 5.2 2.7 5.1 2 5.2 1.1 5.2 .2 5.2-.6 10.4-3.1 10.4-4.8 15.5-8.3 5.2-2.1 5.2-1.2 5.2-.3 20.7 3.5 5.2 .3 15.6-.8 10.3 .7 10.4 2.7 15.6 5.6 5.2 1.3 5.2 .6 5.1-.4 5.2-1.4 15.6-7.5 5.2-1.7 5.2-.4 5.2 1.1 5.1 2.5 15.6 9.9 5.2 2.1 5.2 .8 5.2-.4"/><path stroke="#1A82D4" d="M111.6 456.9l15.6 2.7 25.9 6.9 10.4 2 10.4 .2 5.2-.7 15.5-3.4 10.4-.6 10.4 1 10.4 1.6 20.7 4.4 25.9 8 15.6 5.8 10.4 4.6 10.3 5.3 10.4 6.2 10.4 7.2 10.4 8.6 10.3 10.9 5.2 6.7 5.2 7.9 5.2 9.8 5.2 12.6 5.2 17.8 5.2 30.5 5.2 97.7 5.1-99 5.2-29.9 5.2-17.6 5.2-12.4 5.2-9.7 5.2-8 5.2-6.8 10.3-11.1 10.4-8.7 10.4-7.3 10.4-6.2 15.5-8 10.4-4.4 10.4-3.5 46.6-12.5 10.4-2.3 10.4-1 10.4 .5 15.5 1.9 10.4 .3 10.4-.4 15.5-2 20.8-5.3 5.2-.6 5.2 0"/><path stroke="#D8891A" d="M111.6 445.1l15.6 .6 31.1-1.7 15.6-.1 10.4 .8 25.9 3.6 20.7 .1 10.4 1.7 20.8 6.7 5.1 1.1 5.2 .5 10.4-.7 15.6-2.3 41.5-8.9 15.5-2.1 41.5-1 15.6 2 20.7 4.3 10.4 .5 10.4-1.3 15.5-2.7 31.2-6.2 10.3-1.2 20.8-1.4 10.4 0 25.9 3 36.3 1.1 20.8 0 36.3 4.3M111.6 483.4l5.2 1.7 5.2 1 5.2 .1 5.2-.7 20.7-5.8 10.4-1.9 46.7-3.8 5.2 .2 10.4 2 25.9 8.7 15.5 4.2 10.4 1.4 10.4 0 5.2-.5 10.4-2.5 31.1-11.5 15.5-6.3 10.4-3.2 5.2-.6 5.2 .1 15.6 2.2 10.3 .3 10.4-1.5 15.6-3.2 10.3-1 10.4 .4 10.4 1.5 25.9 6.7 10.4 1 10.4-.6 36.3-3.6 10.3-.3 31.2 3.7 10.3 0 15.6-1.4 10.4-.1 5.2 .6 15.5 3.1 10.4 1 5.2-.3 10.4-1.6M111.6 465.6l15.6-1.3 10.4-.2 10.3 1.1 20.8 3.1 15.6 .8 15.5-1.2 26-4.9 10.3-.3 10.4 1.8 20.7 5.7 10.4 .7 51.9-5 10.4-1.6 20.7-4.3 10.4-1 10.4 .9 15.5 3.1 5.2 .6 5.2 0 10.4-1.9 15.5-4.9 5.2-1.1 10.4-.8 20.7 1.1 26 .4 10.4 .8 15.5 3.2 20.8 6.8 5.1 1.2 5.2 .7 5.2-.1 5.2-.8 5.2-1.5 20.7-9.6 10.4-3.4 5.2-.9 20.8-1.6 20.7-2.4 5.2 .2 10.4 2"/><path stroke="#1A82D4" d="M111.6 449.6l15.6-1.3 10.4 .1 25.9 4.3 15.6 .5 10.3 2.2 5.2 1.6 36.3 15.3 10.4 3.1 25.9 5.9 15.6 6 15.6 8.4 15.5 9.5 10.4 6.8 10.4 7.9 10.4 9.8 5.1 5.8 5.2 6.8 5.2 7.9 5.2 9.6 5.2 12.2 5.2 17 5.2 27.8 5.2 74.5 5.1-66.6 5.2-32.3 5.2-18.5 5.2-13 5.2-10.1 5.2-8.1 5.2-6.8 5.1-5.9 10.4-9.7 10.4-8 10.4-7 15.5-9.1 10.4-5.3 15.6-6.2 31.1-8.1 10.4-4.2 20.7-10.3 15.6-5.5 10.3-2.2 5.2-.4 20.8 3.4 10.4 .6 10.3-1.1 15.6-2.6 10.4-.9"/><path stroke="#D8891A" d="M111.6 446.5l10.4-.8 5.2 .2 10.4 1.6 5.2 1.7 20.7 9.5 5.2 1.8 5.2 1.1 10.4 .7 15.5-1 20.8-4.3 10.3-1.5 5.2-.2 10.4 .5 20.7 3.1 10.4 .5 36.3-2.6 26-.6 31.1-4.1 31.1-.2 10.4-1.5 15.5-3.3 5.2-.4 10.4 .8 15.6 3.3 5.2 .4 5.1-.3 5.2-1.1 20.8-7.2 10.4-2 5.1-.3 10.4 1.1 15.6 3.3 5.2 .6 5.1 0 20.8-2.3 10.4 .6 20.7 4.2 26 8.7 10.3 2 10.4-.1 15.6-3.2"/><path stroke="#1A82D4" d="M111.6 468.2l20.8 6.1 15.5 2.6 15.6 .6 15.6-.2 15.5-.9 20.8 .4 20.7 1.9 20.8 3.9 15.5 4.3 10.4 3.6 20.8 8.9 10.3 5.6 10.4 6.6 10.4 8 5.2 4.6 10.3 11.1 5.2 6.8 5.2 8.1 5.2 9.9 5.2 12.9 5.2 18.1 5.2 31.5 5.2 91.4 5.1-96.3 5.2-29.2 5.2-17.3 5.2-12.5 5.2-9.6 5.2-8 5.2-6.8 5.1-5.9 10.4-9.9 5.2-4.2 10.4-7.3 15.5-8.4 10.4-4.4 10.4-3.5 10.4-3.1 15.5-3.7 15.6-2.7 41.5-4.1 20.7-2.8 15.6-2.9 10.4-1.1 10.3-.4 10.4 .1 20.8 2M111.6 455.2l15.6-.1 36.3 2.3 10.4 2.5 15.5 6.9 5.2 1.9 5.2 1.2 5.2 .4 20.8 .2 10.3 1.9 10.4 2.9 15.6 5.3 10.3 4.2 31.2 14.7 10.3 5.6 10.4 6.5 10.4 7.8 5.2 4.5 10.3 11.1 5.2 6.7 5.2 8 5.2 9.9 5.2 12.7 5.2 18.1 5.2 31.1 5.2 90.4 5.1-94.3 5.2-29.2 5.2-17.3 5.2-12.4 5.2-9.7 5.2-8 5.2-6.8 10.3-11.2 5.2-4.8 10.4-8.1 10.4-6.9 10.3-5.7 10.4-4.8 10.4-4.2 41.5-13.9 10.4-2.6 15.5-2.1 15.6-1.4 20.7-.8 10.4-2.5 20.8-7.6 10.3-2 10.4-.3 5.2 .7 10.4 2.6M111.6 462.6l26-3.2 15.5 .3 10.4 1.4 36.3 7.4 41.5 7 15.6 3.6 10.3 3.3 10.4 3.9 15.6 6.7 15.5 7.5 15.6 9.3 10.4 7.8 5.2 4.6 10.3 11.1 5.2 6.8 5.2 8.1 5.2 9.9 5.2 12.7 5.2 18.1 5.2 31 5.2 94.1 5.1-97.9 5.2-29.5 5.2-17.6 5.2-12.5 5.2-9.8 5.2-8 5.2-6.8 10.3-10.9 5.2-4.6 10.4-7.8 15.6-9.2 15.5-6.8 10.4-3.5 10.4-2.6 36.3-6.9 15.5-2 15.6-.2 10.4 1 15.5 2.2 10.4-.6 15.6-2.6 25.9-7.3 15.6-2.9"/><path stroke="#D8891A" d="M111.6 465.3l31.2 1.9 10.3-.6 20.8-2.1 10.4 .2 10.3 1.6 26 6.5 5.2 .7 10.3 .3 62.3-5.9 31.1-5 36.3-1.3 10.4-1.3 20.7-3.6 10.4-1.1 15.6 .4 31.1 4.4 31.1 1.2 15.6 0 31.1-2.8 10.4-.2 10.3 .9 20.8 3.8 10.4 1 10.3-.4 31.2-3.8 36.3-1.2M111.6 464l26 9.9 5.2 1.3 5.1 .3 5.2-.7 5.2-1.7 10.4-4.8 5.2-1.8 5.2-.7 5.2 .7 5.1 2 15.6 9.4 5.2 2.6 5.2 1.6 5.2 .6 15.5-1.1 5.2 .1 5.2 .8 5.2 1.7 10.4 4.8 5.1 1.7 5.2 .2 5.2-1.6 5.2-2.9 10.4-7.3 5.2-2.7 5.2-1.7 20.7-3.2 5.2-1.5 15.6-6.3 5.1-1.8 5.2-1 5.2-.3 5.2 .6 15.6 4.8 5.2 1.2 5.1 .6 26-.7 10.3-1 20.8-4 20.7-2.7 10.4-2.2 15.6-4.3 5.2-.9 5.2-.2 10.3 1.4 15.6 3.9 10.4 1.3 31.1 .9 5.2-.3 15.5-2.5 5.2-.4 5.2 .3 20.8 4.8 5.1 .3 5.2-.6 5.2-1.6 15.6-7.1 5.2-1.7M111.6 465.9l10.4-1.6 10.4-.2 10.4 2 15.5 4.8 5.2 .9 5.2 0 5.2-.7 5.2-1.5 15.5-5.7 5.2-1.3 5.2-.6 5.2 0 20.7 2.8 26 5.2 10.3 1.6 10.4-.2 15.6-1.9 15.5-.8 51.9 1.8 10.4-.7 5.2-1 10.4-3.6 15.5-6.7 5.2-1.7 5.2-1 5.2-.3 5.2 .4 5.1 1 20.8 6.8 5.2 1.2 10.4 1 10.3-.6 20.8-3.4 10.4-.9 10.3 .4 15.6 2.4 10.4 .8 10.3-.8 26-5 25.9-.7 20.8-1.4 20.7-.8 15.6 .2"/><path stroke="#1A82D4" d="M111.6 475l10.4 0 25.9-4.9 10.4-.6 10.4 .7 20.7 2.3 26 5.9 5.2 .5 15.5-.5 10.4 .7 5.2 1 10.4 3.1 31.1 10.4 10.4 4.1 15.5 7.8 15.6 10.7 10.4 9.2 5.1 5.5 5.2 6.4 5.2 7.7 5.2 9.4 5.2 12.1 5.2 17.1 5.2 28.2 5.2 83 5.1-74.2 5.2-32.2 5.2-18.3 5.2-12.9 5.2-9.9 5.2-8.1 10.3-12.8 5.2-5.3 10.4-9 10.4-7.5 15.5-8.2 20.8-8 15.6-4.3 10.3-1.3 10.4-.1 20.7 2.4 5.2 .2 5.2-.3 20.8-3.4 5.2 .1 10.3 2.1 10.4 .2 5.2-.9 5.2-1.6 15.5-6.2 5.2-1.3 5.2-.7 5.2 .1 15.6 2.6M111.6 458.8l26 3.5 36.3 .6 10.4 2.1 15.5 5.5 10.4 2.7 25.9 2.8 10.4 2.2 36.3 11 15.6 5.9 10.3 4.9 10.4 5.8 10.4 6.9 5.2 4.1 10.4 10.1 5.1 6.1 5.2 7.1 5.2 8.5 5.2 10.3 5.2 13.4 5.2 19 5.2 34.1 5.2 60.8 5.1-75.9 5.2-27.1 5.2-16.7 5.2-12.1 5.2-9.5 5.2-7.8 5.2-6.6 5.1-5.6 10.4-9.4 15.6-10.9 10.4-5.9 10.3-5 20.8-8.6 20.7-6.4 46.7-11.5 5.2 27.2 5.2-28.7 10.4-.7 25.9 .2 51.9-6.1M111.6 455.9l10.4-.7 10.4 .5 10.4 1.6 31.1 6.3 10.4 1.2 25.9 1.7 15.6 3.2 46.6 14.9 20.8 8.4 15.5 7.7 10.4 6.1 10.4 7.1 10.4 8.5 10.3 10.7 5.2 6.6 5.2 7.7 5.2 75.8 5.2-54.1 5.2 17 5.2 28.5 5.2 87 5.1-81.4 5.2-31.9 5.2-18.3 5.2-12.8 5.2-9.9 5.2-8 5.2-6.8 10.3-10.9 5.2-4.5 10.4-7.9 15.6-9.8 20.7-10.4 20.8-7.8 15.5-4.3 36.3-7.7 36.3-10.9 46.7-8.5 10.4-1.4 10.4-.4M111.6 460l10.4 2 5.2 .1 15.6-2 5.1-.4 5.2 .1 10.4 2.3 15.6 5.4 10.3 2.5 36.4 6.6 31.1 3.7 10.3 2 15.6 5 15.6 7.2 15.5 8.5 15.6 10.4 10.4 8.5 5.2 4.9 10.3 12.1 5.2 7.6 5.2 9.2 5.2 11.5 5.2 15.8 5.2 24.8 5.2 61.8 10.3-74.8 5.2-20.5 5.2-13.9 5.2-10.6 5.2-8.5 5.2-7 10.3-11.3 5.2-4.6 10.4-8 10.4-6.7 10.3-5.6 15.6-6.6 10.4-3 31.1-6.9 36.3-10.4 5.2-.7 5.2 0 5.2 .7 15.5 4.1 5.2 .3 5.2-.2 20.8-3.3 5.1-.2 5.2 .3 15.6 2.4 10.4 .5M111.6 446.5l15.6 5.7 10.4 2.7 10.3 1.2 15.6 0 5.2 .6 5.2 1.2 15.5 5.9 10.4 3 10.4 1.2 25.9 1.3 15.6 2.4 15.5 3.4 15.6 5.2 20.8 9.5 15.5 8.7 15.6 10.8 10.4 9 10.3 11.7 5.2 7.3 5.2 9 5.2 11.3 5.2 15.5 5.2 24.1 5.2 56.2 5.1-24.6 5.2-49.4 5.2-12 5.2-14.1 5.2-10.6 5.2 20.4 5.2-36 5.1-6.1 5.2-11.2 5.2-5.8 5.2 2.8 10.4-7.2 5.2 30.2 5.2-17.8 5.1-20.8 5.2-2.2 5.2 21.7 5.2-36.4 5.2 9.2 10.4-2.7 20.7-3.7 10.4-2.6 5.2-1.9 15.5-7.3 5.2-2 5.2-1.2 5.2-.4 5.2 .4 20.7 4.6 10.4-.9 15.6-3.2 10.3-1.2 31.2-.7"/><path stroke="#D8891A" d="M111.6 475.9l26 .5 10.3-.6 26-3.1 10.4-.1 5.1 .5 5.2 .8 10.4 2.6 31.1 12.4 5.2 1.3 5.2 .7 5.2 0 10.4-1.7 25.9-8.2 25.9-5 36.3-9 20.8-3.6 15.6-2 10.3-.8 10.4 .5 5.2 .7 25.9 6.7 10.4 1.4 10.4-.4 15.5-2.2 10.4-.9 10.4 .3 20.7 1.4 36.3-.7 41.5 4 10.4-.1 25.9-1.7 31.2-.3M111.6 455.8l10.4-1 25.9-4.3 10.4-1.1 41.5-.9 10.4 .1 10.4 .7 41.5 4.4 15.5 2.5 20.8 5 5.2 .9 5.1 .3 10.4-1.2 10.4-2.8 36.3-15.6 10.4-2.8 5.2-.8 10.3-.2 26 2.9 10.3 .5 15.6-.4 25.9-1.9 10.4 0 10.4 1.6 15.6 4.3 10.3 1.7 5.2-.1 5.2-.8 15.6-4.3 5.1-1 5.2-.3 10.4 1.3 15.6 3.4 10.3 .6 41.5-4.3 10.4-2.3 20.8-5.7M111.6 456l10.4-6 10.4-4.7 5.2-1.2 5.2-.1 5.1 1 5.2 2.1 20.8 12.9 10.4 5 5.1 1.6 10.4 1.7 31.1-.2 20.8 1.6 10.4 .2 36.3-1.2 5.2-.7 5.1-1.5 20.8-8.3 5.2-1.2 5.2-.6 5.2 0 36.3 2.1 15.5 .1 10.4-1.2 20.7-5.1 10.4-1.6 10.4 .5 15.6 3.2 10.3 1.3 5.2 .1 15.6-1.2 10.4-.3 10.3 1.2 15.6 2.7 10.4 .8 10.3-.4 5.2-.7 10.4-2.6 15.6-4.9 5.1-.9 5.2 0 5.2 .8 5.2 1.5 15.6 5.6 5.2 1 5.1 .2 5.2-.7 5.2-1.3 15.6-5.2 5.2-1.2"/><path stroke="#1A82D4" d="M111.6 474.1l15.6 2.3 15.6 .8 25.9-.9 36.3 0 25.9-2 10.4 .1 5.2 .6 5.2 .9 10.4 2.8 20.7 8.1 25.9 12.1 15.6 9.1 10.4 7.6 5.2 4.4 10.3 10.5 5.2 6.3 5.2 7.5 5.2 8.9 5.2 11.3 5.2 15.3 5.2 23.5 5.2 51.4 5.1-16.1 5.2-41.6 5.2-21.1 5.2-14.2 5.2-10.7 5.2-8.6 5.2-7.3 5.1-6.3 10.4-10.4 5.2-4.4 10.4-7.6 15.5-8.7 15.6-6.2 25.9-7.4 15.6-3.7 10.4-1.9 15.5-2.1 15.6-1.2 10.4 .1 15.5 1.5 41.5 .7 10.4-.9 15.6-2.9"/><path stroke="#D8891A" d="M111.6 461.8l20.8 .7 25.9-.6 15.6 .2 15.5 .9 26 2.6 15.5 .4 26-2.2 20.7-1 10.4-.1 25.9 .8 15.6-.6 41.5-2.9 36.3 .5 10.4-.7 15.5-2.1 10.4-.9 31.1 .5 10.4-1.1 25.9-4.6 10.4-.9 15.6 .8 10.3 1.9 20.8 4.9 10.4 1 10.3-.5 20.8-2.9 15.6-1.2 10.3 .4 26 2.9M111.6 460.9l26-1.1 25.9 .2 10.4-1.7 15.5-4.2 5.2-.6 5.2 0 10.4 1.9 31.1 8.8 5.2 1 10.4 .3 15.5-2.6 5.2-.6 5.2 0 5.2 .6 15.6 3.1 5.1 .4 5.2-.2 10.4-1.8 41.5-10.3 10.4-1.1 10.4 1.3 15.5 4 5.2 .9 10.4 .6 31.1-1.7 20.7-.4 20.8-1.1 20.7-.2 10.4-.9 25.9-3.8 10.4-.2 10.4 1.4 25.9 6.5 10.4 1.1 5.2-.4 5.2-1.2 20.7-8.4 5.2-1.5 5.2-.7 5.2 .1 10.4 1.5"/><path stroke="#1A82D4" d="M111.6 478.2l10.4 .2 25.9-3.6 20.8-.8 20.7-1.8 10.4 .8 5.2 1.2 25.9 7.9 31.2 6 15.5 4 10.4 3.3 15.6 6.4 10.3 5.5 10.4 6.5 10.4 7.9 10.4 9.6 5.1 5.7 5.2 6.7 5.2 7.9 5.2 9.6 5.2 12.3 5.2 17.1 5.2 28.3 5.2 84.7 5.1-78.3 5.2-32.1 5.2-18.4 5.2-12.9 5.2-10 5.2-8.1 10.3-12.8 10.4-9.8 10.4-8 15.6-9.5 15.5-7 10.4-3.3 10.4-2.4 36.3-6.3 20.7-4.8 10.4-2 10.4-.5 5.2 .6 10.3 2.2 10.4 .9 10.4-.9 10.4-2.8 36.3-11.9M111.6 461l26 .9 20.7-.3 10.4 .3 31.1 4.1 26 1.5 10.3 1.6 10.4 2.9 10.4 4 31.1 14.1 25.9 13.5 15.6 10 10.4 8.2 5.2 4.7 10.3 11.6 5.2 7.3 5.2 8.9 5.2 11.3 5.2 15.5 5.2 24 5.2 55.5 5.1-23.9 5.2-40.3 5.2-20.6 5.2-13.9 5.2-10.5 5.2-8.4 5.2-7.1 10.3-11.4 5.2-4.7 10.4-8.3 15.6-9.9 10.3-5.2 10.4-4.2 15.6-4.6 31.1-6 10.4-2.5 25.9-8.7 10.4-2.9 5.2-1 10.3-1 31.2-.6 36.3-3.9"/><path stroke="#D8891A" d="M111.6 468.9l15.6 .4 20.7-1.7 10.4-.1 10.4 1.3 20.7 4.4 10.4 1.3 10.4 0 15.6-1.4 10.3-.1 10.4 1.2 20.7 3.9 10.4 .5 10.4-1 10.4-2 10.3-2.8 15.6-5 15.6-3.8 5.2-.8 10.3-.8 10.4 .4 5.2 .8 10.4 2.4 20.7 6.3 10.4 1.8 5.2 .2 10.3-.6 20.8-2.5 25.9-.6 10.4-.7 31.1-5.2 10.4-.7 10.4 .4 20.7 2.3 10.4 .4 10.4-.7 20.7-2.6 10.4 0 10.4 1.5 15.5 3.2 10.4 .8 5.2-.4 10.4-2.1M111.6 467.1l62.3 .2 31.1-1.8 31.1-2.9 10.4-.3 10.4 .9 25.9 4.5 15.6 .7 10.3-1.2 20.8-4.8 15.6-2.9 10.3-1.1 15.6-.8 36.3 1 31.1-.8 15.6 .2 51.9 3.1 36.3-1.4 10.3 .7 36.3 4.6 20.8 1.2 15.6-1 25.9-4.2 10.4-1.2M111.6 450.6l83 10.5 20.8 1.2 36.3 .3 10.4 .9 36.3 5.1 10.3 .6 10.4-.8 10.4-1.7 36.3-9.4 10.4-2.3 46.7-8.6 10.3-1 5.2 .1 10.4 1.3 25.9 6 15.6 1.9 51.9-.4 51.8 2.4 46.7-1.9 20.8 1.3M111.6 458.5l15.6-6.4 10.4-2.5 10.3-.9 15.6 .4 10.4 1.7 10.4 2.7 36.3 12.4 25.9 4.9 5.2 1.4 15.5 5.7 5.2 1.3 5.2 .6 5.2 0 46.7-6.7 5.2-1.3 15.5-5.4 10.4-2.5 5.2-.5 15.6 .2 5.2-.4 5.1-1 15.6-4.6 5.2-.8 5.2-.1 20.7 3 5.2-.3 5.2-1.2 5.2-1.8 15.5-6.7 5.2-1.4 5.2-.6 5.2 .5 5.2 1.6 5.2 2.7 20.7 14.6 5.2 2.9 5.2 2.1 5.2 1.4 5.2 .6 5.2 .1 10.3-1.3 31.2-9 20.7-3.4 20.8-4.6 10.3-1.8 10.4-.4 5.2 .4 10.4 2.1M111.6 449.2l10.4-.8 10.4 1 25.9 6.2 83 17.9 10.4 1.2 5.2-.2 5.2-.9 15.5-5 5.2-1.4 5.2-.7 5.2 0 15.5 1.5 10.4-.6 10.4-2.3 5.2-1.7 20.7-8.2 5.2-1.5 5.2-1 5.2-.2 15.6 .7 5.1-.6 20.8-6.4 5.2-.7 5.2 .2 5.1 1 15.6 4.8 5.2 .9 5.2 .2 5.2-.5 25.9-4.6 20.8-2 10.3 .8 20.8 5.5 5.2 .8 5.1 .3 20.8-.6 25.9 2 5.2 0 10.4-1.1 20.7-5 10.4-1.7 10.4 .2 10.4 1.6M111.6 462.5l5.2-.8 5.2-.2 5.2 .4 25.9 6.7 10.4 1.2 10.4-.2 15.5-1 10.4 .2 10.4 1.5 25.9 6.1 10.4 1.1 10.4-1 5.2-1.2 15.5-5 5.2-1.3 5.2-.6 5.2 0 20.7 2.7 20.8 2 10.4-.4 5.1-1.1 5.2-2 5.2-3 15.6-12 10.4-6.7 5.1-2.2 5.2-1.2 5.2-.6 10.4 .2 15.5 1.7 10.4 2.1 20.8 5.3 10.3 1 10.4-.7 36.3-6.1 10.4-.6 5.2 .1 10.4 1.7 20.7 6.2 5.2 .8 5.2 0 5.2-.7 5.2-1.4 20.7-7.8 10.4-2 5.2-.1 5.2 .5 5.1 1.2 10.4 4.3 10.4 6.6 10.4 7.6M111.6 444l36.3-.2 10.4 .3 10.4 1.6 20.7 5.4 15.6 3 41.5 6 15.6 1.1 10.3-.4 67.5-8.2 15.5-3.8 26-9.4 10.3-2.2 10.4-.9 31.1-1 10.4 .5 10.4 1.3 20.7 4.1 10.4 1.1 10.4-.6 20.7-3.4 10.4-.4 25.9 2.4 20.8 .7 10.4 .9 31.1 5.7 10.4 1 10.3-.2 26-3.7M111.6 483.5l10.4-.7 10.4 0 10.4 1 20.7 3.4 10.4 .7 10.4-.5 25.9-3.3 31.1 .3 5.2-.4 10.4-2.5 5.2-1.8 20.7-9.1 5.2-1.5 5.2-.7 5.2 0 5.2 .7 25.9 6.1 10.4 1.9 15.5 1.5 15.6 .8 10.4 .1 10.3-.7 26-3.6 10.3-1 31.2 .5 25.9-.8 31.1 1.2 10.4-1.1 10.4-1.6 10.3-.7 5.2 .5 5.2 1.2 26 9.3 5.1 1.3 10.4 1.1 15.6-.7 46.7-5.3M111.6 470.7l31.2 2.8 36.3-.5 31.1 1.8 41.5 .6 31.1 2.5 15.6 .5 10.3-.7 15.6-2.8 15.6-2.2 10.3-.6 26-.2 15.5-1.2 15.6-2.3 31.1-7.7 5.2-.7 10.4-.6 10.4 .6 25.9 3.5 10.4 .4 36.3-1 31.1-2.5 15.6-.2 10.3 1 26 4.7 15.5 2.3 15.6 1.3 10.4 .4"/><path stroke="#1A82D4" d="M111.6 460.9l26 2.2 25.9 .8 10.4 .8 57 10.1 15.6 3.6 31.1 10 20.8 8.5 10.3 5.3 10.4 6.2 15.6 11.3 10.4 9.7 5.1 5.8 5.2 6.7 5.2 8 5.2 9.7 5.2 12.4 5.2 17.4 5.2 29 5.2 77.1 5.1-74.2 5.2-30.8 5.2-18 5.2-12.7 5.2-9.9 5.2-8.1 10.3-12.7 10.4-9.9 15.6-11.6 10.4-6.2 10.3-5.3 15.6-6.2 20.7-5.7 26-4.9 41.5-5.3 57-5.5 26-1.2"/><path stroke="#D8891A" d="M111.6 459.9l36.3-2 31.2 1.6 20.7-1 5.2 .2 5.2 .8 5.2 1.5 5.2 2.2 20.7 10.8 5.2 1.6 5.2 .6 5.2-.1 20.7-3.3 20.8-.6 5.2-.5 5.1-1.1 10.4-3.9 26-12.8 5.1-1.7 5.2-.7 5.2 .1 5.2 .8 15.6 3.9 20.7 4.4 15.6 4.2 5.2 .9 5.1 .2 10.4-1.6 26-8.8 5.1-1.3 5.2-1 10.4-.8 31.1-.8 10.4 .6 31.1 3.4 31.1 .9 26-.8 10.4 .8 15.5 2.4 5.2 .2 5.2-.3 10.4-1.9"/><path stroke="#1A82D4" d="M111.6 443.4l41.5 1.1 41.5 4 41.5 2.2 41.5 4.8 20.8 3.2 15.5 3.6 10.4 3.6 5.2 2.4 10.4 6.2 5.2 4.1 5.1 5 5.2 6 5.2 7.4 5.2 9.3 5.2 12.2 5.2 17.1 5.2 28.6 5.2 87.8 10.3-62.8 5.2-18.4 5.2-12.9 5.2-10 5.2-8.2 5.2-6.8 10.3-10.9 5.2-4.5 10.4-7.8 10.4-6.5 10.3-5.5 20.8-9.1 15.6-5 25.9-6.6 31.1-8.9 15.6-3.3 31.1-3.5 25.9-4.4 10.4-.5 15.6 .8M111.6 465.6l20.8 2.9 31.1 2 20.8 3.9 15.5 2 10.4 .4 20.7-.2 15.6 1.6 15.6 3.8 31.1 10.4 15.5 6.3 15.6 8.5 10.4 7.2 5.2 4.2 10.3 10 5.2 6.1 5.2 7.1 5.2 8.5 5.2 10.8 5.2 14.3 5.2 21.7 5.2 43.5 5.1 7.5 5.2-49.2 5.2-22.8 5.2-15 5.2-11.2 5.2-8.9 5.2-7.4 5.1-6.3 10.4-10.4 5.2-4.3 10.4-7.4 5.2-3.1 10.3-5.2 10.4-3.8 10.4-2.9 10.4-2.1 46.6-7.3 31.2-6.8 10.3-1.9 10.4-.8 5.2 .1 10.4 1.4 15.5 3.1 10.4 1.1 10.4-.2 10.4-1.3M111.6 470.4l26 3 31.1 6.6 10.4 1.5 36.3-3.6 10.4 .3 10.3 1.4 20.8 5.2 25.9 8.6 20.8 9.1 15.5 9 10.4 7.5 5.2 4.4 10.4 10.3 5.1 6.2 5.2 7.3 5.2 8.7 5.2 10.7 5.2 14.3 5.2 21.1 5.2 41.9 5.2 16.6 5.1-53 5.2-23.6 5.2-15.4 5.2-11.4 5.2-9 5.2-7.6 5.2-6.5 10.3-10.6 5.2-4.5 10.4-7.8 15.6-9.2 15.5-6.9 10.4-3.6 10.4-2.9 20.7-4.4 15.6-2.5 15.5-.9 15.6 1.3 25.9 4.1 15.6-2.6 36.3-9.9 15.6-2.1M111.6 456.9l10.4 3.4 25.9 10.3 15.6 4.2 15.6 2.5 25.9 .7 15.6 1.8 10.3 2.2 41.5 10.4 10.4 3 15.6 6.2 15.5 8 15.6 10.2 10.4 8.5 10.3 10.8 5.2 6.6 5.2 8 5.2 9.8 5.2 12.8 5.2 18.2 5.2 31.8 5.2 68.8 5.1-76.8 5.2 4.3 5.2-49.3 5.2-12 5.2-9.4 5.2 24.8 5.2-39.2 5.1 0 5.2-16.5 5.2 .5 5.2 24.6 5.2-32.9 5.2 16.9 5.2-5.3 5.2 7.1 5.1-38 5.2 10.9 5.2-7.6 5.2-1.7 31.1-8.4 41.5-8.8 10.4-1.5 10.4-.8 15.5 .3 10.4-.6 31.1-3.2 10.4 .2 15.6 1.6"/><path stroke="#D8891A" d="M111.6 484.4l77.8 2.1 41.5-1.4 15.6 1.4 25.9 4.3 15.6 .4 10.4-.4 10.3-1.2 26-4.4 31.1-4.5 31.1-5.8 15.6-1.8 15.5 .5 20.8 2.7 10.4 .8 57 .7 57.1-2.6 10.4-1.3 20.7-4.5 10.4-1 10.4 .6 25.9 5.1 10.4 1.3M111.6 459.7l20.8-.4 36.3 1.6 10.4 1.7 15.5 3.8 10.4 2.1 10.4 1.2 10.4 .3 10.3-1 20.8-4.7 10.3-1.3 15.6-.2 25.9 2.4 20.8 1.1 10.4-.8 25.9-5.2 10.4-1.2 25.9-.6 31.1-1.8 10.4 .2 15.6 1.4 10.3-.1 5.2-.8 20.8-4.7 15.5-1.7 10.4 .2 5.2 .6 20.7 4.5 5.2 .7 5.2 .1 5.2-.5 15.6-3.7 10.3-1.1 5.2 .4 15.6 2.6 10.4 .9 41.5-.8"/><path stroke="#1A82D4" d="M111.6 464.2l20.8-1.7 20.7 .4 31.2 3.7 36.3 3.6 20.7 3.4 15.6 3.8 15.5 4.7 15.6 5.2 10.4 4 10.3 4.7 10.4 5.7 15.6 11 10.4 9.5 5.1 5.7 5.2 6.7 5.2 7.8 5.2 9.7 5.2 12.3 5.2 17.4 5.2 29 5.2 86.3 5.1-82.5 5.2-31.3 5.2-18.1 5.2 10.8 5.2-42.2 5.2-8.5 5.2 2.2 10.3-11 5.2 4.2 5.2-12.8 5.2 7 5.2 19.7 5.2-36.5 5.2 14 5.1 11 5.2-10.4 5.2-8.6 5.2-16.6 25.9-7.1 20.8-3.8 57-6.2 20.8-3.8 10.4-1.2 15.5 .1 26 3M111.6 449.7l36.3-.6 10.4 .6 15.6 2.1 5.2 .9 62.2 18.4 15.6 5.1 15.5 5.7 10.4 4.4 15.6 7.7 15.5 8.8 10.4 6.8 10.4 7.9 5.2 4.5 10.3 10.9 5.2 6.7 5.2 7.8 5.2 9.6 5.2 12.2 5.2 17.1 5.2 28.5 5.2 87.1 5.1-126.9 5.2-31.8 5.2-18.2 5.2-12.7 5.2-9.7 5.2-7.8 5.2-6.5 5.1-5.4 10.4-8.4 5.2-3.4 10.4-5.2 15.5-5.7 26-6.3 20.7-3.5 26-2.6 36.3-1.3 15.5-1 20.8-.4 10.4-.8 10.3-1.9 15.6-4.4 10.4-2.1"/><path stroke="#D8891A" d="M111.6 462.8l10.4 1.3 5.2 .1 25.9-2 31.2 .8 36.3-1.1 15.5 1.2 31.1 5.2 15.6 .6 20.8-1.7 62.2-12.6 10.4-1.2 10.4-.4 15.5 .9 51.9 6.1 20.7 1.4 15.6-.2 10.4-.8 31.1-5.5 10.4-1 10.3 .4 26 2.3 36.3-.4 10.4 1.1 25.9 5.1 10.4 .1M111.6 457.3l10.4-.8 15.6-.5 15.5 .2 15.6 1 25.9 3.1 46.7 7.5 15.6 2.1 15.5 1.3 10.4 0 15.6-.5 10.3-1.1 31.2-6.4 15.5-2.2 10.4-.7 25.9 .1 10.4-.4 31.1-4.6 10.4-1 62.3-1.3 15.5 .5 41.5 2.7 20.8 .3 20.7-1.2 41.5-4.1 15.6-.6M111.6 449l10.4-1.4 10.4-.4 10.4 .5 10.3 1.4 15.6 3.9 31.1 10.4 10.4 2.4 5.2 .6 10.4 .1 25.9-1.9 31.1 2.4 10.4-.4 10.4-1.6 10.3-3.1 26-10.2 10.3-3.4 10.4-2.3 10.4-1.2 10.4-.2 10.3 .4 31.2 3.1 15.5 .8 15.6 0 36.3-1.9 31.1 1 25.9 2.7 36.4 6.9 10.3 1 5.2 0 10.4-1.2 25.9-7.1 10.4-2.2 5.2-.5 10.4-.2M111.6 465.1l26-4.1 41.5-2.6 10.3 1.1 26 7 15.5 2 31.2 .7 25.9-1.3 20.7 .6 15.6-.6 10.4-1.1 31.1-6.5 10.4-.7 15.5 0 5.2-.6 5.2-1.2 10.4-4.5 15.5-9.2 5.2-2.4 5.2-1.8 5.2-.8 5.2 0 5.2 .9 5.2 1.8 5.2 2.5 15.5 9.4 5.2 2.6 5.2 1.9 5.2 .9 5.2 .1 5.2-.6 15.5-3.2 10.4-1.2 25.9 .9 36.3-.5 26-2.3 10.3-.3 10.4 1 5.2 1.1 15.6 5"/><path stroke="#1A82D4" d="M111.6 468.1l20.8-2 10.4-.5 20.7 .7 25.9 2.5 31.2 5.9 25.9 1.1 10.4 1.5 15.5 4.7 20.8 7.7 10.4 4.4 15.5 8.1 10.4 7 5.2 4.1 10.4 9.7 5.1 5.9 5.2 6.8 5.2 8 5.2 9.7 5.2 12.6 5.2 17.5 5.2 29.4 5.2 82.3 5.1-80.8 5.2-30.7 5.2-18.1 5.2-12.7 5.2-9.9 5.2-8 5.2-6.7 5.1-5.8 10.4-9.5 10.4-7.7 10.4-6.3 10.3-5.1 10.4-4.4 10.4-3.9 10.4-3.2 31.1-7 10.4-1.9 10.3-.9 10.4 .1 15.6 1.2 10.3 .1 5.2-.4 15.6-4.2 10.4-1.9 5.2-.3 20.7 1 15.6-1.1"/><path stroke="#D8891A" d="M111.6 459.7l51.9 3.3 10.4-.2 31.1-2.2 36.3 .3 15.6 1.3 36.3 6.7 10.4 .4 10.3-1.7 20.8-5.4 10.4-2.3 41.5-7.8 10.3-1.2 5.2-.1 10.4 .6 20.7 3.2 10.4 .8 36.3-1.7 41.5 1.3 31.1-2.6 31.2-1.7 10.3-.1 20.8 1.6 10.4 .2 25.9-3.8 10.4 .2"/><path stroke="#1A82D4" d="M111.6 441.5l15.6 .9 20.7 2.8 15.6 2.8 15.6 4.2 15.5 7.2 10.4 4 36.3 9.1 46.7 16.4 10.4 4.5 10.3 5.3 10.4 6.3 10.4 7.1 10.4 8.6 5.2 4.9 10.3 11.8 5.2 7.3 5.2 8.8 5.2 11.1 5.2 15 5.2 22.9 5.2 48.6 5.1-11.5 5.2-42.1 5.2-21.3 5.2-14.2 5.2-10.7 5.2-8.5 5.2-7.2 10.3-11.6 5.2-4.8 10.4-8.5 15.6-10.6 10.3-5.9 10.4-5.3 36.3-15 20.8-9.3 10.3-3.8 5.2-1.3 10.4-1.3 20.7 .8 10.4-.2 5.2-.6 10.4-2.4 25.9-8 10.4-1.3 10.4 1M111.6 466l10.4 1.2 10.4-.3 20.7-1.8 15.6 .6 15.6 3.1 25.9 7 10.4 1.9 25.9 3.6 20.7 4.1 15.6 4.8 10.4 4.4 10.4 5.2 10.3 5.8 10.4 6.5 10.4 7.7 5.2 4.4 10.3 10.6 5.2 6.7 5.2 8 5.2 9.8 5.2 12.9 5.2 18.2 5.2 32 5.2 89.7 5.1-97 5.2-28.8 5.2-17.2 5.2-12.4 5.2-9.6 5.2-7.8 5.2-6.6 10.3-10.6 5.2-4.4 10.4-7.7 15.6-9.3 25.9-12.3 15.6-5.7 10.3-2.6 31.1-4.5 51.9-9.3 10.4-1.1 25.9 .1 10.4-1.5 15.6-3.1M111.6 460.4l10.4-1.4 20.8-5.7 10.3-1.8 10.4-.1 15.6 1.9 41.5 11.5 46.6 16.2 15.6 5.9 15.6 7 15.5 8.3 10.4 6.5 10.4 7.6 10.4 9.4 5.1 5.6 5.2 6.5 5.2 7.6 5.2 9.3 5.2 11.9 5.2 16.5 5.2 26.7 5.2 75.5 5.1-60.8 5.2-34.6 5.2-19.2 5.2-13.3 5.2-10.1 5.2-8.1 5.2-6.8 5.1-5.8 10.4-9.4 15.6-11 10.4-6 10.3-5.1 26-10.8 20.7-6.5 15.6-3.2 15.5-2.1 46.7-5 36.3-2.9 26-4.1M111.6 456l20.8-.5 15.5 .5 36.4 3.8 25.9 1.7 15.6 2.6 36.3 9.8 25.9 8.5 20.7 9 10.4 5.6 10.4 6.8 10.4 8.4 5.2 4.9 10.3 12 5.2 7.4 5.2 9 5.2 11.2 5.2 15.2 5.2 23.2 5.2 50 5.1-14.8 5.2-41.6 5.2-21.2 5.2-14.4 5.2-10.7 5.2-8.7 5.2-7.1 5.1-6.1 10.4-10.1 5.2-4.2 10.4-7.3 15.5-8.6 15.6-6.4 10.4-3.1 31.1-8 41.5-14.8 15.6-4 10.3-1.1 10.4 .6 57.1 7.9M111.6 469.4l10.4 2.9 5.2 .8 10.4 .8 15.5 .3 26 3.9 10.3-1.9 15.6-4.9 5.2-1.1 5.2-.5 10.4 .7 10.3 2.4 26 8.7 25.9 7.5 10.4 3.7 10.3 4.4 10.4 5.6 15.6 11.1 10.4 9.5 5.1 5.7 5.2 6.6 5.2 7.8 5.2 9.6 5.2 12.4 5.2 17.3 5.2 28.9 5.2 76.4 5.1-72.7 5.2-30.9 5.2-18 5.2-12.8 5.2-9.8 5.2-8 10.3-12.7 10.4-9.8 10.4-8 5.2-3.3 10.4-5.4 15.5-5.6 31.1-8.5 10.4-2 10.4-1.4 20.7-.9 15.6 .8 25.9 3.9 5.2-.5 15.6-3.5 25.9-8.8 20.8-6.4"/><path stroke="#D8891A" d="M111.6 458.9l31.2 .8 25.9-2.1 10.4-.3 5.2 .4 10.3 1.8 15.6 4.3 10.4 2.3 10.3 1.3 15.6 .3 15.6-.8 20.7-2.2 10.4-.6 41.5 1 15.5-.7 41.5-5.9 26-4.5 10.3-1.1 5.2-.1 10.4 .8 20.8 3.5 10.3 1 10.4-.3 20.8-3 10.3-.8 26 1.4 25.9 .4 31.1 2.8 15.6 .5 10.4-1.2 5.1-1.1 31.2-9.4M111.6 465l26-2 41.5 .5 67.4 3.5 20.7 1.5 41.5 .9 10.4-.6 10.4-1.2 20.7-4.2 15.6-1.8 10.4 .3 25.9 2.1 10.4-.3 15.5-2.6 20.8-5.9 10.4-2.2 10.3-.7 20.8 1.3 10.4 .1 15.5-1.6 31.1-4.5 10.4-.5 5.2 .2 10.4 1.4 20.7 4.7 10.4 1.9 25.9 2.6 31.2 4.2"/><path stroke="#1A82D4" d="M111.6 464.9l20.8-1.6 10.4-.2 25.9 2.1 20.7-.9 10.4 1.6 20.8 6 5.2 .8 20.7 1.5 15.6 2.3 10.3 2.7 15.6 6.1 20.7 10.1 15.6 9.2 15.6 11.7 10.3 10.1 5.2 6.1 5.2 7.3 5.2 8.7 5.2 11 5.2 14.8 5.2 22.4 5.2 46.7 5.1 .3 5.2-47.4 5.2-22.5 5.2-14.8 5.2-11.2 5.2-8.9 5.2-7.4 10.3-11.8 5.2-4.8 10.4-8.2 10.4-6.5 10.3-5 10.4-3.9 26-8.6 10.3-2.4 5.2-.6 15.6-.9 10.3-1.1 10.4-2.6 26-8.4 15.5-3.6 10.4-1.5 10.4 .2 5.2 1 15.5 4.4 5.2 .4 5.2-.8 10.4-3.9M111.6 458.9l10.4 1.5 20.8 4.1 10.3 1.4 10.4 .3 20.8-1.1 10.3 0 15.6 1.8 15.6 3.5 15.5 5.1 25.9 10.6 26 9.6 10.4 4.4 15.5 8.4 10.4 7.2 5.2 4.2 10.4 9.9 10.3 12.9 5.2 8.1 5.2 10.1 5.2 13 5.2 18.7 5.2 33.1 5.2 75.2 5.1-86.7 5.2-27.9 5.2-16.9 5.2-12.2 5.2-9.6 5.2-7.8 5.2-6.6 5.1-5.8 10.4-9.5 15.6-11.2 10.4-5.9 10.3-4.9 15.6-5.5 41.5-11.4 15.5-2.9 31.2-1.7 10.3 0 20.8 1.2 10.4-.3 10.3-2.2 20.8-7.7 10.4-2.3"/><path stroke="#D8891A" d="M111.6 479.1l20.8 3 10.4 .7 10.3 .1 51.9-3.1 41.5 .2 15.6-.4 10.3-.9 20.8-2.8 20.7-1.1 41.5 1.7 20.8-.3 31.1-1.2 36.3-3.4 20.8-.8 15.5 .5 41.5 3.5 10.4 .2 10.4-.6 25.9-3.5 10.4-.5 10.3 .7 10.4 1.8 31.1 7.7 10.4 2 10.4 1.4 10.4 .6M111.6 459.6l10.4 .9 10.4-.1 20.7-2.1 10.4-.5 10.4 1.1 10.4 2.6 20.7 7.4 15.6 4.7 25.9 6.6 10.4 1.7 5.2 .2 5.1-.5 5.2-1.1 5.2-1.9 15.6-7.1 10.4-3.8 10.3-2.6 5.2-.6 15.6 .1 41.5 3.1 10.4-.5 5.1-.9 10.4-3.4 15.6-7.4 10.3-4.3 5.2-1.5 10.4-1.5 20.8-.7 20.7-1.6 10.4 .1 10.4 1.5 25.9 7.9 10.4 1.7 5.1-.1 5.2-.8 5.2-1.4 15.6-6.2 5.2-1.5 5.2-.8 5.1 .1 5.2 1 5.2 1.7 15.6 6.8 10.4 3.1 5.1 .9 10.4 .3 20.8-1M111.6 464.5l10.4-1 20.8-3.5 10.3-.7 10.4 .3 25.9 2.4 57.1 1.8 25.9-.5 26-4.7 10.3-1.1 10.4 .3 15.6 2 10.4 0 25.9-3.3 25.9-1.3 10.4-2 15.6-4.3 10.3-2.1 10.4-.6 25.9-.3 31.2-4 10.3 .4 5.2 1 5.2 1.5 20.8 7.9 5.1 1.3 5.2 .7 5.2 0 5.2-.7 5.2-1.3 20.7-6.9 5.2-1 5.2-.3 5.2 .4 10.4 2.4 15.5 5.3 10.4 3 10.4 2.1 10.4 .9"/><path stroke="#1A82D4" d="M111.6 449.5l5.2 .6 10.4 2.7 25.9 10.5 10.4 3 10.4 1.8 25.9 3 15.6 2.8 41.5 9.1 20.7 5.6 15.6 5.9 15.5 7.9 15.6 9.9 10.4 8.1 10.4 9.7 10.3 12.6 5.2 7.9 5.2 9.6 5.2 12.5 5.2 17.5 5.2 29.3 5.2 71.5 5.1-70.8 5.2-30 5.2-17.8 5.2-12.5 5.2-9.8 5.2-8 10.3-12.6 10.4-9.8 10.4-8.1 10.4-6.7 10.3-5.6 10.4-4.6 15.6-5 20.7-5.2 15.6-4.6 10.4-4 20.7-9 10.4-3.7 5.2-1.2 5.2-.9 10.3-.5 41.5 4 26 1.1"/><path stroke="#D8891A" d="M111.6 462.1l10.4-3.5 5.2-1.2 10.4-.7 10.3 1.2 15.6 3.3 10.4 1.6 31.1 1.5 36.3 3.6 10.4 .3 15.5-.6 26-2.9 25.9-1.9 10.4 .4 20.7 2.5 10.4 .5 10.4-1.3 10.4-3 25.9-10.7 10.4-3.7 10.3-2.6 10.4-1 10.4 .8 25.9 6.3 10.4 1.2 10.4-.7 20.7-2.7 10.4 .5 10.4 2.2 31.1 9.7 10.4 2.1 10.3 .9 5.2-.1 10.4-1.2 20.8-4.9 10.3-1.9 10.4-.7 15.6 .3"/><path stroke="#1A82D4" d="M111.6 447.8l10.4 1.1 5.2-.2 10.4-1.8 20.7-5 5.2-.4 5.2 .4 5.2 1.1 5.2 1.9 10.3 6 10.4 4.4 5.2 1.4 15.6 2.6 10.3 2.5 26 9.5 31.1 10.7 15.6 7 10.3 5.8 10.4 6.6 10.4 7.7 10.4 9.4 10.3 12.2 5.2 7.8 5.2 9.4 5.2 12.1 5.2 16.7 5.2 27 5.2 67.2 5.1-53.4 5.2-33.5 5.2-18.9 5.2-13.2 5.2-10.2 5.2-8.3 10.3-13.3 5.2-5.4 10.4-9.3 15.6-11.2 15.5-9.2 15.6-7.1 10.4-3.3 20.7-4.3 25.9-6.5 10.4-2.1 31.1-4.6 15.6-.9 10.4-1.2 5.2-1.1 15.5-4.7 10.4-2.2 5.2-.3 10.4 .6M111.6 464.8l36.3-1.4 15.6 1.1 10.4 2.2 36.3 10 51.9 9.8 20.7 5.8 15.6 5.8 15.5 7.6 15.6 10.1 10.4 8.6 5.2 5.1 10.3 12.2 5.2 7.8 5.2 9.4 5.2 12 5.2 16.6 5.2 26.9 5.2 66.9 5.1-54.6 5.2-33.2 5.2-18.8 5.2-13.2 5.2-10.1 5.2-8.2 10.3-12.8 5.2-5.3 10.4-8.9 10.4-7.3 5.2-3 10.3-5.3 10.4-4.1 15.6-4.9 36.3-8.8 10.4-1.8 10.3-.9 41.5 .4 15.6-2.8 10.4-1.4 41.5-2.9M111.6 453.9l5.2 .9 5.2 2.2 15.6 8.9 5.2 1.5 5.1 .5 15.6-2 10.4-.1 36.3 3.9 15.6 3.5 20.7 7.2 25.9 8 20.8 8.2 15.5 7.4 10.4 5.9 10.4 7.2 5.2 4.2 10.4 9.9 10.3 12.7 5.2 8.1 5.2 10 5.2 13 5.2 18.5 5.2 32.4 5.2 61.6 5.1-72.6 5.2-28 5.2 13.2 5.2-43 5.2-9.8 5.2 7.5 5.2-22 10.3-10.3 15.6-11.5 5.2-11.5 5.2 36.1 5.2-33.8 5.1 15.9 5.2-31.2 5.2 7.6 5.2 31.4 5.2-35.3 31.1-9.3 31.1-6.1 10.4-1.2 15.6 0 5.2-.8 5.1-1.5 5.2-2.3 10.4-5.1 5.2-1.8 5.2-1 10.4 .1 25.9 4 10.4 .4M111.6 451.3l41.5 8.5 15.6 1.4 25.9 .9 15.6 1.7 10.4 2 15.5 4.2 15.6 5.2 20.7 7.7 26 11.1 10.3 5.4 10.4 6.1 10.4 7.2 10.4 8.7 10.3 10.9 5.2 6.8 5.2 8.1 5.2 9.9 5.2 12.8 5.2 18.3 5.2 32 5.2 81 5.1-89 5.2-28.5 5.2-17.2 5.2-12.3 5.2-9.6 5.2-7.9 5.2-6.7 10.3-10.8 10.4-8.6 10.4-7.2 10.4-6.2 10.3-5.4 10.4-4.7 15.6-6.1 25.9-8.3 15.6-3.4 15.5-2 46.7-4.3 31.1-1.7 26-2.7M111.6 468.6l20.8 3 20.7 1.8 20.8 .8 20.7-.2 15.6 .9 15.6 2.5 15.5 3.5 25.9 7.6 20.8 8.4 15.6 7.8 10.3 6 10.4 6.6 10.4 7.9 10.4 9.4 10.3 12.4 5.2 7.8 5.2 9.8 5.2 12.6 5.2 17.8 5.2 30.4 5.2 77.7 5.1-80.2 5.2-29.5 5.2-17.4 5.2-12.5 5.2-9.7 5.2-8 5.2-6.7 5.1-5.8 10.4-9.7 15.6-11.4 10.4-6 10.3-5.1 10.4-4.4 15.6-5.9 20.7-6 10.4-1.9 10.4-.9 51.8-1.3 15.6-1.3 31.1-1 10.4-1.2 10.4-2M111.6 451.8l20.8-3.7 10.4-.1 5.1 .9 10.4 3.2 26 10.1 10.3 3.2 10.4 2.2 25.9 4.4 15.6 4 15.6 5.4 15.5 6.1 20.8 9.6 20.7 12 10.4 7.2 10.4 8.6 10.3 10.7 5.2 6.5 5.2 7.7 5.2 9.5 5.2 12.1 5.2 17.1 5.2 28.4 5.2 79.9 5.1-74.3 5.2-31.6 5.2-18.2 5.2-12.9 5.2-9.9 5.2-8.1 10.3-12.7 10.4-9.9 10.4-8.1 10.4-6.8 10.3-5.9 10.4-4.9 15.6-5.8 62.2-19 10.4-2.4 20.7-3.6 20.8-4.9 10.4-2 5.2-.3 10.3 .7 20.8 4.2 5.2 .7M111.6 454.3l10.4 1.1 25.9 8.1 10.4 2.1 57.1 5.2 15.5 2.8 20.8 5.2 31.1 10.5 20.8 8.6 10.3 5.4 10.4 6.6 10.4 8 5.2 4.6 10.3 11.1 5.2 6.8 5.2 7.9 5.2 9.7 5.2 58.3 5.2-28.8 5.2 28.5 5.2 87.1 5.1-81.5 5.2-31.9 5.2-18.5 5.2-13.1 5.2-10.1 5.2-8.2 5.2-6.9 10.3-11.1 5.2-4.6 10.4-7.8 10.4-6.4 10.3-5.5 20.8-8.8 36.3-13.5 10.4-3.4 25.9-6.2 25.9-4.8 10.4-.8 31.1-1.2 31.2-2.3"/><path stroke="#D8891A" d="M111.6 460.8l10.4 .5 10.4-.2 10.4-1.3 25.9-4.9 10.4-.9 5.2 .1 5.1 .4 10.4 2 26 7.9 10.3 2.1 10.4 .7 31.1-1.6 26 1.4 5.1-.2 5.2-.8 10.4-3 5.2-2.1 20.7-9.9 10.4-3.9 10.4-2.2 5.2-.4 5.2 .1 10.3 1.1 41.5 7.4 15.6 1.1 31.1-1.9 31.1 .5 10.4-.4 10.4-1.2 25.9-4.9 15.6-1.4 5.2 .1 10.3 1.2 20.8 4.3 15.6 2.3 15.5 .7 20.8-1M111.6 461.5l15.6-1.4 10.4-.1 46.7 5.7 25.9 4.7 10.4 0 15.5-1.8 10.4-.2 5.2 .5 15.5 3.5 5.2 .8 5.2 .2 10.4-1.2 31.1-6.2 26-3.3 10.3-2.3 41.5-11.2 10.4-2.4 10.4-1.6 10.3 .1 5.2 1 5.2 1.5 15.6 6 10.4 3.1 41.5 6.1 5.1 .1 5.2-.5 5.2-1.2 15.6-5.2 5.2-1.3 5.1-.7 5.2 0 5.2 .5 10.4 2.5 20.7 7.7 5.2 1.5 5.2 .8 5.2 0 5.2-.8 5.2-1.5 20.7-9.4 10.4-3.2 5.2-.6 5.2 .2 5.2 .9"/><path stroke="#1A82D4" d="M111.6 446.9l20.8-.5 10.4 1.2 31.1 8.4 36.3 7.3 15.6 4 41.4 13 20.8 7.3 10.4 4.4 10.3 5.2 15.6 9.8 10.4 8.2 5.2 4.8 10.3 11.6 5.2 7.2 5.2 8.8 5.2 10.9 5.2 14.7 5.2 22.4 5.2 47.5 5.2-1 5.1-47.4 5.2-22.3 5.2-14.8 5.2-11 5.2-8.8 5.2-7.3 5.2-6.3 10.3-10.2 5.2-4.4 10.4-7.5 15.6-9.2 10.3-5 10.4-4.2 20.8-6.7 41.4-11.1 10.4-2.1 10.4-1.6 25.9-1.4 5.2-.7 31.1-6.1 10.4-.9 20.8-.1M111.6 472.5l15.6 3.4 5.2 .5 5.2-.1 20.7-2.8 5.2 0 5.2 .5 10.4 2.3 15.5 2.7 10.4 .7 10.4-.8 15.5-2.3 5.2-.2 5.2 .5 10.4 2.7 15.5 5.8 20.8 6.3 10.4 3.8 15.5 7.9 15.6 10.3 10.4 8.4 5.2 5 10.3 12.1 5.2 7.7 5.2 9.3 5.2 11.7 5.2 16 5.2 25.3 5.2 61.5 10.3-75.3 5.2-20.2 5.2-13.9 5.2-10.6 5.2-8.7 5.2-7.2 10.3-11.8 5.2-4.9 10.4-8.3 10.4-6.6 10.3-5.3 10.4-4.1 10.4-2.7 10.4-1.6 15.5-1.5 26-3.8 10.3 .1 15.6 1.3 5.2-.3 10.4-2.4 15.5-6.2 5.2-1.6 5.2-.7 5.2 0 5.2 .7 15.5 3.7 10.4 1.9 15.6 1.2"/><path stroke="#D8891A" d="M111.6 452.1l15.6 1.8 15.6 2.8 10.3 .7 10.4-1.6 15.6-4.5 5.2-1 5.1-.3 5.2 .3 41.5 8.9 20.8 5 5.2 .6 5.1 0 26-4.2 15.5-1.1 46.7-5 31.2-5.4 10.3-.8 26 .8 10.3-1.2 20.8-3.8 10.4-.8 20.7 .1 15.6 .7 10.3 1.1 26 4.4 10.3 .6 10.4-.6 15.6-2.1 10.4-.8 62.2-1.7 15.6-1"/><path stroke="#1A82D4" d="M111.6 474.8l26-3.8 10.3-.5 5.2 .4 20.8 3 5.2 .4 20.7-.3 5.2 .4 10.4 1.8 41.5 11.8 15.5 5.7 26 11.9 15.5 8.1 10.4 6.3 10.4 7.7 10.4 9.6 5.1 5.9 5.2 7 5.2 8.2 5.2 10.3 5.2 13.3 5.2 19.2 5.2 34.2 5.2 65.2 5.1-79.7 5.2-27.2 5.2-16.7 5.2-12.1 5.2-9.6 5.2-7.8 5.2-6.7 5.1-5.8 10.4-9.6 15.6-11.2 10.4-5.9 10.3-5.1 31.2-13 15.5-5.4 10.4-2.8 15.5-2.8 31.2-3.4 20.7-4.4 10.4-1.3 10.4 .5 20.7 2.4 10.4-.1 10.4-.8"/><path stroke="#D8891A" d="M111.6 463.7l15.6 2.4 10.4 .2 36.3-3.8 15.5-.3 15.6 1.5 25.9 5.1 10.4 1.3 41.5 1.2 20.8 1.3 5.1-.2 10.4-1.6 10.4-3 20.7-7.6 10.4-2.2 5.2-.4 10.4 .5 15.5 2.1 10.4 .7 10.4-.5 20.7-2.8 10.4-.6 31.1 1.6 10.4 0 10.4-1.1 25.9-4.9 10.4-.8 5.2 .2 10.3 1.5 20.8 5.8 10.4 2.4 5.2 .7 10.3 .6 10.4-.4 10.4-1.2 10.4-1.7 20.7-4.4 15.6-2M111.6 462.6l10.4 .6 10.4-.4 10.4-1.1 20.7-3.2 10.4-.8 20.7 1.1 20.8-.3 10.4 1 25.9 5.9 15.5 2.6 15.6 .6 20.8-.6 25.9-3.3 10.4-1.9 46.7-11.6 25.9-7.5 10.4-1.4 5.1 0 10.4 1 20.8 4.9 10.3 1.4 5.2-.2 5.2-.9 15.6-3.5 5.2-.2 5.2 .5 5.1 1.1 15.6 4.7 10.4 2.1 10.3 1 26 .8 25.9 2.6 10.4 .4 25.9-.1 26-1.9M111.6 449.9l15.6 2.8 10.4 .3 25.9-3.7 10.4-.4 10.4 1 25.9 4.8 10.4 .8 25.9 .6 25.9 3.3 10.4 .6 10.4 0 10.4-.9 25.9-5.5 10.4-1 10.3 .8 20.8 4 10.4 .7 5.2-.4 10.3-1.6 36.3-9.4 10.4-1.9 10.4-1 25.9-.9 26-1.7 5.1 0 10.4 1.2 31.1 7.6 15.6 2.5 10.4 .1 5.2-.6 25.9-5.5 10.4-.8 10.3 .7 31.2 5.3"/><path stroke="#1A82D4" d="M111.6 460.9l36.3 4.5 77.9 7.8 10.3 1.6 10.4 2.6 10.4 3.6 10.3 4.2 26 11.2 10.4 5 15.5 9 15.6 11.5 10.4 10 5.1 5.9 5.2 7 5.2 8.2 5.2 10.2 5.2 13.3 5.2 19 5.2 34.1 5.2 57.9 5.1-73.1 5.2-27 5.2-16.6 5.2-12.2 5.2-9.5 5.2-7.8 5.2-6.6 5.1-5.8 10.4-9.7 15.6-11.5 10.4-6.3 10.3-5.4 10.4-4.7 15.6-6.1 25.9-8.4 15.6-4.1 10.3-1.8 36.3-3.5 20.8-1.4 10.4-1.3 10.3-2.6 20.8-6.7 10.4-2.2"/><path stroke="#D8891A" d="M111.6 463.7l26 3.6 10.3 .6 20.8 .1 10.4 1.1 10.3 2.7 20.8 7.6 10.4 2.3 5.2 .4 5.1-.1 10.4-1.4 41.5-9.3 10.4-1.5 15.5-.3 20.8 .5 10.4-.7 10.3-1.8 36.4-8.2 15.5-2.4 10.4-.9 15.5-.1 41.5 1.4 15.6 1.5 10.4 2.5 5.2 1.7 20.7 9.3 10.4 4.1 5.2 1.3 10.3 1 10.4-1 41.5-6.7 10.4-2.3 20.7-5.9 10.4-2.1 10.4-1 10.4 .3M111.6 475.4l10.4 .5 15.6-.4 15.5-1.8 26-4 15.5-.6 15.6 1.7 31.1 5.6 15.6 2.1 10.3 1 41.5 2.4 10.4-.6 10.4-1.3 31.1-7.4 10.4-1.5 10.4-.3 20.7 .8 10.4-.3 31.1-4.7 10.4-.5 10.4 .9 25.9 5.1 10.4 .8 10.3-.8 26-4.7 10.3-.7 10.4 .5 26 2.8 31.1 .2 15.5 .6 31.2 3.1M111.6 466.5l15.6 4.6 15.6 2.1 20.7 .2 31.1-2 20.8-.4 15.5 .9 20.8 3 10.4 .7 10.3-1.1 15.6-4.1 10.4-2.3 15.5-1.7 20.8-.8 10.4-1.3 10.3-2.5 20.8-6 5.2-.8 10.3-.6 15.6 .5 31.1-.1 31.1 3.3 10.4 .7 36.3-1.1 10.4 .8 20.7 3.5 10.4 .9 36.3-1.8 67.5 2.3M111.6 440.5l26-1.3 15.5 .3 15.6 2 25.9 4.9 10.4 1.1 10.4-.1 31.1-4.1 10.4-.2 20.7 2.1 31.1 4.8 20.8 1.6 15.6 .6 10.3-.2 10.4-1.2 20.8-5 10.3-1.9 10.4-.3 15.6 1.3 10.3-.2 20.8-3.7 10.4-1.2 10.3 .2 15.6 1.6 10.4 .4 46.6-3.9 20.8-.8 10.4 .8 25.9 3.6 25.9 .1 20.8 1.2 10.4 .1M111.6 451.2l26 5.5 15.5 1.7 26 .1 20.7 1.4 10.4-.5 15.6-1.6 5.1 0 10.4 1.7 20.8 5.7 10.3 1.7 10.4-.5 15.6-3.2 10.3-1.2 10.4 .8 15.6 2.7 5.2 .2 10.3-.9 36.4-7.1 31.1-7.2 31.1-4.5 25.9-6.3 10.4-1.3 5.2 .1 10.4 1.9 10.3 3.8 15.6 7.2 5.2 1.7 5.2 1 10.3-.1 15.6-1.8 20.8-1.1 25.9-4.1 10.4-.6 10.3 1.2 20.8 4.1 10.4 .3M111.6 458.5l15.6-2.8 15.6-1.3 10.3 .2 15.6 1.5 10.4 1.7 10.3 2.5 10.4 3.6 20.8 9 5.2 1.5 5.1 .9 5.2 .2 5.2-.5 20.8-4.9 10.3-1.4 10.4-.5 20.8 .2 36.3-3.9 15.5 .2 26 2.7 10.3-.3 10.4-1.9 20.8-6.2 10.3-1.8 5.2-.2 10.4 .5 31.1 3.4 20.8 1.1 10.3-.4 10.4-1.2 25.9-4.9 15.6-1.9 10.4 .2 20.7 2.5 10.4 .7 10.4-.6 25.9-3.2 10.4-.1 10.4 .7"/><path stroke="#1A82D4" d="M111.6 445.9l20.8 .5 20.7 2.6 15.6 3.6 25.9 8.2 36.3 7.4 15.6 4.3 25.9 9.3 20.8 9 10.4 5.3 10.3 6 15.6 10.9 10.4 9.1 10.3 11.6 5.2 7.2 5.2 8.6 5.2 10.6 5.2 14 5.2 20.7 5.2 40.1 5.2 21 5.1-54.1 5.2-24 5.2-15.5 5.2-11.4 5.2-9.1 5.2-7.4 10.3-11.8 5.2-4.8 10.4-8.2 15.6-9.9 10.3-5.4 10.4-4.6 10.4-3.8 25.9-8.3 31.1-12.4 15.6-4.8 15.6-2.3 15.5-.4 15.6 2.2 20.7 5.7 10.4 2.1 10.4 .1 10.4-2.5"/><path stroke="#D8891A" d="M111.6 453.6l15.6 10 5.2 2.5 5.2 1.5 5.2 .6 5.1-.2 5.2-.9 31.2-8.7 10.3-1.6 5.2-.2 10.4 .5 10.4 1.5 25.9 5.8 10.4 .5 15.5-1.1 5.2 .1 5.2 .6 20.8 5.2 5.1 .2 5.2-.7 5.2-1.5 26-11.6 5.1-1.3 5.2-.6 5.2 0 10.4 1.9 20.7 7.7 10.4 3.1 5.2 .3 5.2-.6 5.2-1.8 5.2-2.8 20.7-14.1 5.2-2.4 5.2-1.5 5.2-.5 5.2 .3 5.1 1.2 15.6 5.3 10.4 2.2 5.2 .1 5.2-.5 20.7-4.1 5.2-.5 10.4 .1 25.9 2.1 31.1 4.2 31.1 .8 31.2 3.6M111.6 458.2l15.6 .5 5.2-.5 15.5-2.6 10.4-.7 5.2 .4 15.6 3.1 10.3 1.1 10.4-.1 31.1-1.6 36.3 1.3 10.4 1.1 15.6 3 10.4 1 10.3-1.4 26-6.9 10.3-1.9 46.7-2.5 20.8-2.4 5.2-.1 20.7 2.7 5.2 .3 10.4-1.1 25.9-4.6 10.4-.7 10.4 .9 20.7 5 10.4 1.5 10.3-.3 15.6-1.5 5.2-.1 10.4 .8 15.5 2.8 20.8 5.6 5.2 .6 5.2 0 10.3-1.7 20.8-6.7 5.2-1.1M111.6 464.9l10.4 .7 5.2-.3 31.1-4.8 5.2-.1 10.4 .7 10.4 1.7 10.3 2.3 26 7.5 10.3 2.5 31.2 6.2 10.3 .9 10.4-1.5 15.6-4 31.1-5.7 15.6-3.3 62.2-8 10.4 0 5.2 .6 10.3 1.8 20.8 4.9 10.4 .5 5.1-.6 5.2-1.3 20.8-8.5 5.2-1.6 5.2-.9 5.1 0 5.2 .8 5.2 1.5 15.6 6.4 10.3 3.7 5.2 1.3 10.4 1.4 10.4 .3 10.4-.3 31.1-2.9 31.1-1.4 15.6-2"/><path stroke="#1A82D4" d="M111.6 451.8l26-7.2 15.5-3 15.6-.6 10.4 1.4 20.7 11.2 10.4 5 36.3 12.9 31.1 9.3 10.4 4.3 10.4 5.2 15.5 8.7 10.4 6.5 10.4 7.7 10.4 9.7 10.3 12.4 5.2 7.8 5.2 9.4 5.2 11.9 5.2 16.3 5.2 26.3 5.2 65.5 5.1-50.4 5.2-34.5 5.2-19.3 5.2-13.5 5.2-10.4 5.2-8.5 5.2-7.1 5.1-6.1 10.4-10 5.2-4.1 10.4-7.1 15.5-8.9 26-11.9 10.4-4 10.3-3.3 20.8-5.5 25.9-5.9 31.1-8.1 36.3-4.8 10.4-.6 20.8-.1"/><path stroke="#03039A" stroke-width="3.6" d="M111.6 460.5l20.8 1.3 20.7 1.6 20.8 2.1 15.5 1.9 15.6 2.2 15.6 2.7 15.5 3.3 10.4 2.4 15.6 4.4 10.3 3.3 10.4 3.8 10.4 4.3 10.4 4.9 10.3 5.7 5.2 3.3 5.2 3.4 5.2 3.9 5.2 4.2 5.2 4.6 5.2 5.3 5.1 6 5.2 7 5.2 8.3 5.2 10.2 5.2 13.5 5.2 19.4 5.2 35.7 5.2 46.2 5.1-66.5 5.2-26 5.2-16.2 5.2-11.9 5.2-9.3 5.2-7.7 5.2-6.6 5.1-5.7 5.2-5 5.2-4.5 5.2-4.1 5.2-3.7 5.2-3.5 10.4-6 10.3-5.3 10.4-4.6 5.2-2.1 10.4-3.8 10.3-3.3 15.6-4.4 15.6-3.7 15.5-3.2 15.6-2.6 15.5-2.3 15.6-1.9 20.8-2.2 20.7-1.7 15.6-.9"/><path stroke="#A20404" stroke-width="3.8" d="M111.6 461.3l93.4 3.5 20.8 1.2 41.4 3.1 5.2 .2 26 0 5.2-.1 10.3-.9 15.6-1.8 36.3-5.2 15.6-1.8 15.5-1.3 20.8-1.3 15.5-.7 20.8-.2 57 .2 15.6 .5 41.5 1.6 46.7 .7 46.7 .1"/></g><path d="M387.2 13.7V315.8" stroke="#000" stroke-width="3" stroke-dasharray="11.2 9.55" fill="none"/><path d="M387.2 407.3V710" stroke="#000" stroke-width="3" stroke-dasharray="11.2 9.55" fill="none"/><g fill="none" stroke="#262626"><rect x="114.8" y="13.7" width="544.5" height="302.1" stroke-width="1.3"/><rect x="114.8" y="407.3" width="544.5" height="302.7" stroke-width="1.3"/><path stroke-width="1.1" d="M114.8 315.6h3M659.3 315.6h-3M114.8 301.3h3M659.3 301.3h-3M114.8 291.1h3M659.3 291.1h-3M114.8 283.2h3M659.3 283.2h-3M114.8 276.8h3M659.3 276.8h-3M114.8 271.4h3M659.3 271.4h-3M114.8 266.7h3M659.3 266.7h-3M114.8 262.5h3M659.3 262.5h-3M114.8 258.8h5.5M659.3 258.8h-5.5M114.8 234.4h3M659.3 234.4h-3M114.8 220.1h3M659.3 220.1h-3M114.8 209.9h3M659.3 209.9h-3M114.8 202h3M659.3 202h-3M114.8 195.6h3M659.3 195.6h-3M114.8 190.2h3M659.3 190.2h-3M114.8 185.5h3M659.3 185.5h-3M114.8 181.3h3M659.3 181.3h-3M114.8 177.6h5.5M659.3 177.6h-5.5M114.8 153.2h3M659.3 153.2h-3M114.8 138.9h3M659.3 138.9h-3M114.8 128.7h3M659.3 128.7h-3M114.8 120.8h3M659.3 120.8h-3M114.8 114.4h3M659.3 114.4h-3M114.8 109h3M659.3 109h-3M114.8 104.3h3M659.3 104.3h-3M114.8 100.1h3M659.3 100.1h-3M114.8 96.4h5.5M659.3 96.4h-5.5M114.8 72h3M659.3 72h-3M114.8 57.7h3M659.3 57.7h-3M114.8 47.5h3M659.3 47.5h-3M114.8 39.6h3M659.3 39.6h-3M114.8 33.2h3M659.3 33.2h-3M114.8 27.8h3M659.3 27.8h-3M114.8 23.1h3M659.3 23.1h-3M114.8 18.9h3M659.3 18.9h-3M114.8 15.2h5.5M659.3 15.2h-5.5M127.2 315.8v-5.5M127.2 13.7v5.5M386.6 315.8v-5.5M386.6 13.7v5.5M645.9 315.8v-5.5M645.9 13.7v5.5M114.8 710h3M659.3 710h-3M114.8 692.2h3M659.3 692.2h-3M114.8 679.6h3M659.3 679.6h-3M114.8 669.8h3M659.3 669.8h-3M114.8 661.9h3M659.3 661.9h-3M114.8 655.1h3M659.3 655.1h-3M114.8 649.3h3M659.3 649.3h-3M114.8 644.1h3M659.3 644.1h-3M114.8 639.5h5.5M659.3 639.5h-5.5M114.8 609.2h3M659.3 609.2h-3M114.8 591.4h3M659.3 591.4h-3M114.8 578.8h3M659.3 578.8h-3M114.8 569h3M659.3 569h-3M114.8 561.1h3M659.3 561.1h-3M114.8 554.3h3M659.3 554.3h-3M114.8 548.5h3M659.3 548.5h-3M114.8 543.3h3M659.3 543.3h-3M114.8 538.7h5.5M659.3 538.7h-5.5M114.8 508.4h3M659.3 508.4h-3M114.8 490.6h3M659.3 490.6h-3M114.8 478h3M659.3 478h-3M114.8 468.2h3M659.3 468.2h-3M114.8 460.3h3M659.3 460.3h-3M114.8 453.5h3M659.3 453.5h-3M114.8 447.7h3M659.3 447.7h-3M114.8 442.5h3M659.3 442.5h-3M114.8 437.9h5.5M659.3 437.9h-5.5M114.8 407.6h3M659.3 407.6h-3M127.2 710v-5.5M127.2 407.3v5.5M386.6 710v-5.5M386.6 407.3v5.5M645.9 710v-5.5M645.9 407.3v5.5"/></g><g fill="#000" font-size="24"><text x="69.3 82.6" y="27.5" font-size="24">&#8199;0</text><path d="M.302 0H.382V.716H.328L.116.566L.09.478L.302.606Z" transform="translate(69.3 27.5) scale(24 -24)"/><text x="96" y="15.5" font-size="18">0</text><text x="63.3 76.7" y="108.7" font-size="24">&#8199;0</text><path d="M.302 0H.382V.716H.328L.116.566L.09.478L.302.606Z" transform="translate(63.3 108.7) scale(24 -24)"/><text x="90 96" y="96.7" font-size="18">-&#8199;</text><path d="M.302 0H.382V.716H.328L.116.566L.09.478L.302.606Z" transform="translate(96 96.7) scale(18 -18)"/><text x="63.3 76.7" y="189.9" font-size="24">&#8199;0</text><path d="M.302 0H.382V.716H.328L.116.566L.09.478L.302.606Z" transform="translate(63.3 189.9) scale(24 -24)"/><text x="90 96" y="177.9" font-size="18">-2</text><text x="63.3 76.7" y="271.1" font-size="24">&#8199;0</text><path d="M.302 0H.382V.716H.328L.116.566L.09.478L.302.606Z" transform="translate(63.3 271.1) scale(24 -24)"/><text x="90 96" y="259.1" font-size="18">-3</text><text x="69.3 82.6" y="450.2" font-size="24">&#8199;0</text><path d="M.302 0H.382V.716H.328L.116.566L.09.478L.302.606Z" transform="translate(69.3 450.2) scale(24 -24)"/><text x="96" y="438.2" font-size="18">0</text><text x="63.3 76.7" y="551" font-size="24">&#8199;0</text><path d="M.302 0H.382V.716H.328L.116.566L.09.478L.302.606Z" transform="translate(63.3 551) scale(24 -24)"/><text x="90 96" y="539" font-size="18">-&#8199;</text><path d="M.302 0H.382V.716H.328L.116.566L.09.478L.302.606Z" transform="translate(96 539) scale(18 -18)"/><text x="63.3 76.7" y="651.8" font-size="24">&#8199;0</text><path d="M.302 0H.382V.716H.328L.116.566L.09.478L.302.606Z" transform="translate(63.3 651.8) scale(24 -24)"/><text x="90 96" y="639.8" font-size="18">-2</text><text x="97.2 110.5 117.2 130.5 143.9" y="347.4" font-size="24">0.999</text><text x="379.9" y="347.4" font-size="24">&#8199;</text><path d="M.302 0H.382V.716H.328L.116.566L.09.478L.302.606Z" transform="translate(379.9 347.4) scale(24 -24)"/><text x="615.1 628.4 635.1 648.4 661.8" y="347.4" font-size="24">&#8199;.00&#8199;</text><path d="M.302 0H.382V.716H.328L.116.566L.09.478L.302.606Z" transform="translate(615.1 347.4) scale(24 -24)"/><path d="M.302 0H.382V.716H.328L.116.566L.09.478L.302.606Z" transform="translate(661.8 347.4) scale(24 -24)"/><text x="97.2 110.5 117.2 130.5 143.9" y="741.3" font-size="24">0.999</text><text x="379.9" y="741.3" font-size="24">&#8199;</text><path d="M.302 0H.382V.716H.328L.116.566L.09.478L.302.606Z" transform="translate(379.9 741.3) scale(24 -24)"/><text x="615.1 628.4 635.1 648.4 661.8" y="741.3" font-size="24">&#8199;.00&#8199;</text><path d="M.302 0H.382V.716H.328L.116.566L.09.478L.302.606Z" transform="translate(615.1 741.3) scale(24 -24)"/><path d="M.302 0H.382V.716H.328L.116.566L.09.478L.302.606Z" transform="translate(661.8 741.3) scale(24 -24)"/><text x="371" y="379.3" font-style="italic">f/f<tspan font-style="normal" font-size="18" dy="11">0</tspan></text><text x="371" y="773.3" font-style="italic">f/f<tspan font-style="normal" font-size="18" dy="11">0</tspan></text><text transform="translate(53.3 164.8) rotate(-90)" text-anchor="middle" font-size="25">Transmission</text><text transform="translate(41.5 581.6) rotate(-90)" font-size="24"><tspan font-style="italic">σ</tspan><tspan font-size="18" dy="11.5">port</tspan></text><text transform="translate(1.2 29.6) scale(0.87 1)" font-size="29" font-weight="bold">a</text><text transform="translate(1.2 431.6) scale(0.95 1)" font-size="28" font-weight="bold">b</text></g><g font-weight="bold" font-size="23.2"><text transform="translate(173 49.5) scale(1.04 1)" fill="#D96F1E">Crystal</text><text transform="translate(133 292.7) scale(1.013 1)" fill="#1A6FC0">Decoupling</text><text transform="translate(292.4 436.2) scale(1.05 1)" fill="#D96F1E">Crystal</text><text transform="translate(400.6 619.2) scale(1.02 1)" fill="#1A6FC0">Decoupling</text></g></svg></body></html>
